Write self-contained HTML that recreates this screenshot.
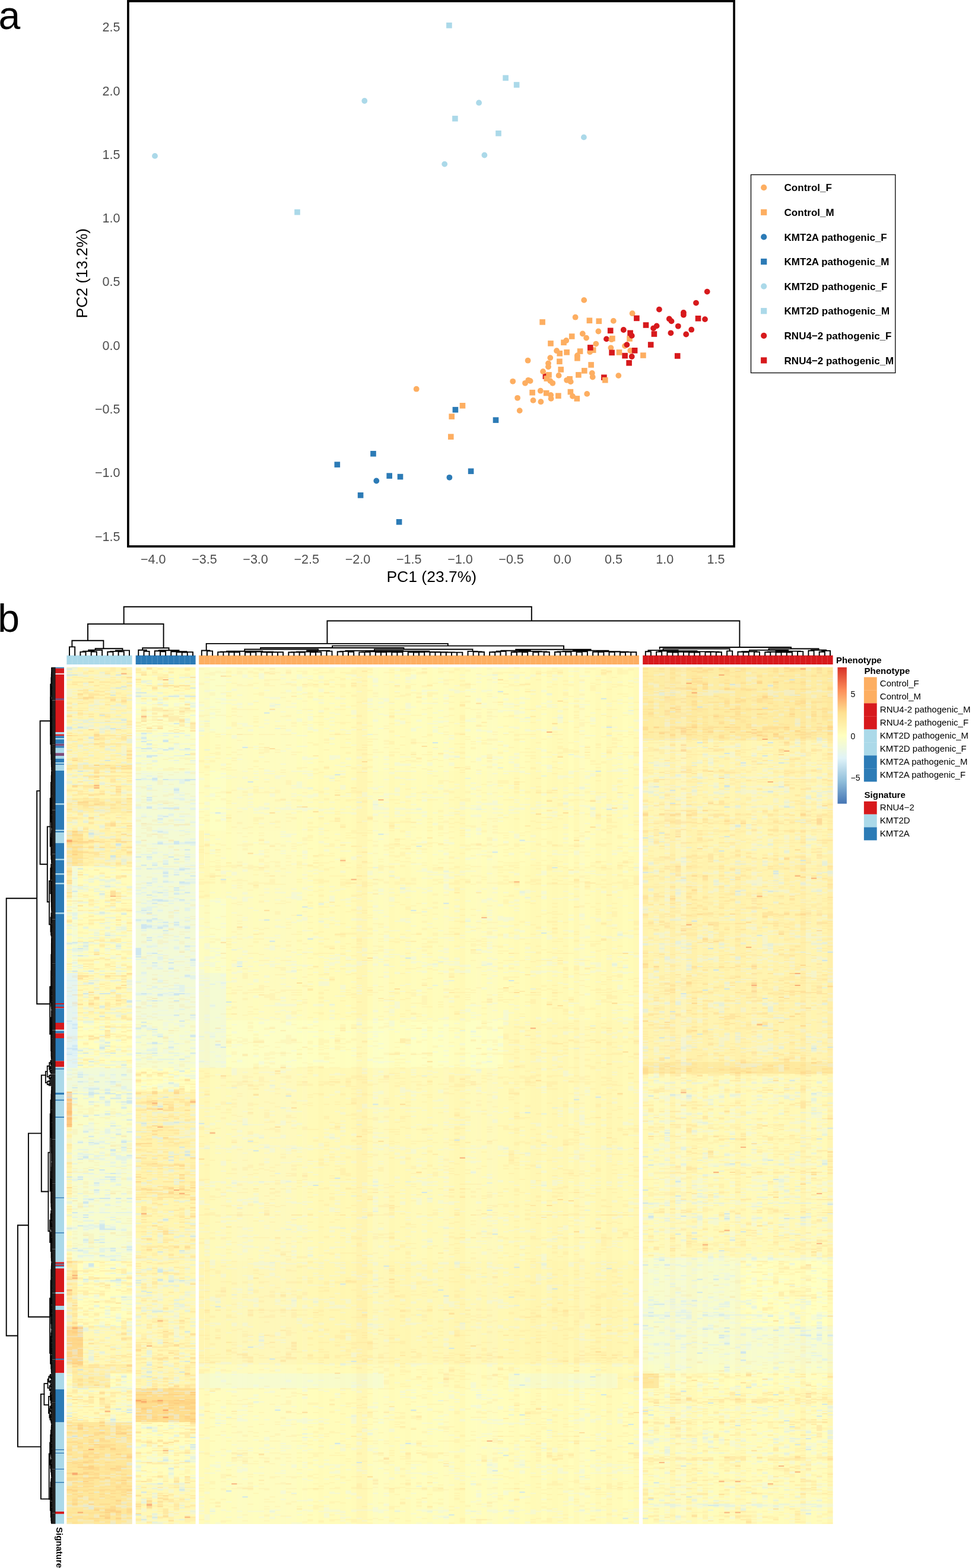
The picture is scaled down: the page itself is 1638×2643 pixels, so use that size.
<!DOCTYPE html>
<html><head><meta charset="utf-8"><title>Figure</title><style>
*{margin:0;padding:0}
html,body{width:1638px;height:2643px;overflow:hidden;background:#fff}
svg{display:block;font-family:"Liberation Sans",Arial,Helvetica,sans-serif}
.tk{font-size:21.5px;fill:#4d4d4d}
.ax{font-size:26.5px;fill:#000}
.lg{font-size:17px;font-weight:bold;fill:#000}
.pl{font-size:66px;fill:#000}
.lb{font-size:15px;font-weight:bold;fill:#000}
.ll{font-size:15px;fill:#000}
.cl{font-size:14px;fill:#000}
</style></head><body>
<svg width="1638" height="2643" viewBox="0 0 1638 2643">
<rect width="1638" height="2643" fill="#fff"/>
<circle cx="261.0" cy="262.9" r="4.9" fill="#ABD9E9"/>
<circle cx="614.3" cy="170.0" r="4.9" fill="#ABD9E9"/>
<circle cx="807.1" cy="173.2" r="4.9" fill="#ABD9E9"/>
<circle cx="983.9" cy="231.4" r="4.9" fill="#ABD9E9"/>
<circle cx="816.4" cy="261.5" r="4.9" fill="#ABD9E9"/>
<circle cx="749.2" cy="276.6" r="4.9" fill="#ABD9E9"/>
<rect x="752.1" y="38.0" width="9.6" height="9.6" fill="#ABD9E9"/>
<rect x="847.3" y="126.6" width="9.6" height="9.6" fill="#ABD9E9"/>
<rect x="865.8" y="138.2" width="9.6" height="9.6" fill="#ABD9E9"/>
<rect x="762.1" y="195.1" width="9.6" height="9.6" fill="#ABD9E9"/>
<rect x="835.2" y="220.0" width="9.6" height="9.6" fill="#ABD9E9"/>
<rect x="496.2" y="352.8" width="9.6" height="9.6" fill="#ABD9E9"/>
<rect x="762.6" y="685.9" width="9.6" height="9.6" fill="#2C7BB6"/>
<rect x="830.7" y="703.3" width="9.6" height="9.6" fill="#2C7BB6"/>
<rect x="624.2" y="760.0" width="9.6" height="9.6" fill="#2C7BB6"/>
<rect x="563.5" y="778.3" width="9.6" height="9.6" fill="#2C7BB6"/>
<rect x="651.4" y="797.3" width="9.6" height="9.6" fill="#2C7BB6"/>
<rect x="669.7" y="798.8" width="9.6" height="9.6" fill="#2C7BB6"/>
<rect x="788.8" y="789.5" width="9.6" height="9.6" fill="#2C7BB6"/>
<rect x="602.8" y="830.0" width="9.6" height="9.6" fill="#2C7BB6"/>
<rect x="667.8" y="875.0" width="9.6" height="9.6" fill="#2C7BB6"/>
<circle cx="634.3" cy="810.5" r="4.9" fill="#2C7BB6"/>
<circle cx="757.4" cy="804.8" r="4.9" fill="#2C7BB6"/>
<rect x="914.6" y="629.4" width="9.6" height="9.6" fill="#D7191C"/>
<rect x="1013.1" y="631.4" width="9.6" height="9.6" fill="#D7191C"/>
<circle cx="1022.0" cy="571.4" r="4.9" fill="#D7191C"/>
<circle cx="701.7" cy="655.7" r="4.9" fill="#FDAE61"/>
<circle cx="984.2" cy="505.9" r="4.9" fill="#FDAE61"/>
<circle cx="969.6" cy="534.7" r="4.9" fill="#FDAE61"/>
<circle cx="1033.8" cy="540.9" r="4.9" fill="#FDAE61"/>
<circle cx="1008.4" cy="558.5" r="4.9" fill="#FDAE61"/>
<circle cx="981.8" cy="562.5" r="4.9" fill="#FDAE61"/>
<circle cx="988.1" cy="569.6" r="4.9" fill="#FDAE61"/>
<circle cx="1030.5" cy="572.2" r="4.9" fill="#FDAE61"/>
<circle cx="954.2" cy="574.0" r="4.9" fill="#FDAE61"/>
<circle cx="1004.3" cy="579.6" r="4.9" fill="#FDAE61"/>
<circle cx="994.1" cy="593.2" r="4.9" fill="#FDAE61"/>
<circle cx="1029.4" cy="586.3" r="4.9" fill="#FDAE61"/>
<circle cx="938.1" cy="591.2" r="4.9" fill="#FDAE61"/>
<circle cx="972.9" cy="599.1" r="4.9" fill="#FDAE61"/>
<circle cx="927.3" cy="603.1" r="4.9" fill="#FDAE61"/>
<circle cx="889.6" cy="607.7" r="4.9" fill="#FDAE61"/>
<circle cx="924.0" cy="612.4" r="4.9" fill="#FDAE61"/>
<circle cx="924.0" cy="618.3" r="4.9" fill="#FDAE61"/>
<circle cx="915.1" cy="626.2" r="4.9" fill="#FDAE61"/>
<circle cx="997.8" cy="628.9" r="4.9" fill="#FDAE61"/>
<circle cx="998.7" cy="635.5" r="4.9" fill="#FDAE61"/>
<circle cx="941.6" cy="632.9" r="4.9" fill="#FDAE61"/>
<circle cx="864.2" cy="642.8" r="4.9" fill="#FDAE61"/>
<circle cx="890.3" cy="640.8" r="4.9" fill="#FDAE61"/>
<circle cx="885.0" cy="645.8" r="4.9" fill="#FDAE61"/>
<circle cx="893.6" cy="642.1" r="4.9" fill="#FDAE61"/>
<circle cx="927.3" cy="642.1" r="4.9" fill="#FDAE61"/>
<circle cx="931.3" cy="645.8" r="4.9" fill="#FDAE61"/>
<circle cx="955.1" cy="640.8" r="4.9" fill="#FDAE61"/>
<circle cx="961.7" cy="643.4" r="4.9" fill="#FDAE61"/>
<circle cx="910.8" cy="658.7" r="4.9" fill="#FDAE61"/>
<circle cx="928.2" cy="665.9" r="4.9" fill="#FDAE61"/>
<circle cx="928.6" cy="671.9" r="4.9" fill="#FDAE61"/>
<circle cx="965.0" cy="667.9" r="4.9" fill="#FDAE61"/>
<circle cx="989.2" cy="663.9" r="4.9" fill="#FDAE61"/>
<circle cx="872.1" cy="670.8" r="4.9" fill="#FDAE61"/>
<circle cx="898.5" cy="674.9" r="4.9" fill="#FDAE61"/>
<circle cx="911.4" cy="677.2" r="4.9" fill="#FDAE61"/>
<circle cx="875.7" cy="692.1" r="4.9" fill="#FDAE61"/>
<circle cx="1065.6" cy="528.2" r="4.9" fill="#FDAE61"/>
<circle cx="1053.0" cy="583.1" r="4.9" fill="#FDAE61"/>
<circle cx="1062.3" cy="591.0" r="4.9" fill="#FDAE61"/>
<circle cx="1042.3" cy="633.1" r="4.9" fill="#FDAE61"/>
<rect x="774.7" y="679.0" width="9.6" height="9.6" fill="#FDAE61"/>
<rect x="756.4" y="697.3" width="9.6" height="9.6" fill="#FDAE61"/>
<rect x="755.0" y="731.4" width="9.6" height="9.6" fill="#FDAE61"/>
<rect x="909.3" y="538.1" width="9.6" height="9.6" fill="#FDAE61"/>
<rect x="988.6" y="535.5" width="9.6" height="9.6" fill="#FDAE61"/>
<rect x="1004.5" y="536.5" width="9.6" height="9.6" fill="#FDAE61"/>
<rect x="958.9" y="562.2" width="9.6" height="9.6" fill="#FDAE61"/>
<rect x="1027.1" y="565.8" width="9.6" height="9.6" fill="#FDAE61"/>
<rect x="923.2" y="574.1" width="9.6" height="9.6" fill="#FDAE61"/>
<rect x="945.2" y="572.5" width="9.6" height="9.6" fill="#FDAE61"/>
<rect x="994.9" y="585.3" width="9.6" height="9.6" fill="#FDAE61"/>
<rect x="938.4" y="591.0" width="9.6" height="9.6" fill="#FDAE61"/>
<rect x="950.3" y="589.0" width="9.6" height="9.6" fill="#FDAE61"/>
<rect x="972.8" y="587.3" width="9.6" height="9.6" fill="#FDAE61"/>
<rect x="968.1" y="599.0" width="9.6" height="9.6" fill="#FDAE61"/>
<rect x="938.1" y="604.5" width="9.6" height="9.6" fill="#FDAE61"/>
<rect x="991.3" y="610.2" width="9.6" height="9.6" fill="#FDAE61"/>
<rect x="940.4" y="618.1" width="9.6" height="9.6" fill="#FDAE61"/>
<rect x="920.2" y="627.1" width="9.6" height="9.6" fill="#FDAE61"/>
<rect x="980.0" y="620.1" width="9.6" height="9.6" fill="#FDAE61"/>
<rect x="970.1" y="627.1" width="9.6" height="9.6" fill="#FDAE61"/>
<rect x="916.5" y="633.3" width="9.6" height="9.6" fill="#FDAE61"/>
<rect x="955.3" y="634.0" width="9.6" height="9.6" fill="#FDAE61"/>
<rect x="892.3" y="656.9" width="9.6" height="9.6" fill="#FDAE61"/>
<rect x="915.9" y="657.8" width="9.6" height="9.6" fill="#FDAE61"/>
<rect x="936.1" y="662.4" width="9.6" height="9.6" fill="#FDAE61"/>
<rect x="956.6" y="655.8" width="9.6" height="9.6" fill="#FDAE61"/>
<rect x="967.5" y="667.1" width="9.6" height="9.6" fill="#FDAE61"/>
<rect x="1056.2" y="566.1" width="9.6" height="9.6" fill="#FDAE61"/>
<rect x="1038.7" y="589.1" width="9.6" height="9.6" fill="#FDAE61"/>
<rect x="1079.1" y="594.2" width="9.6" height="9.6" fill="#FDAE61"/>
<rect x="1015.0" y="635.9" width="9.6" height="9.6" fill="#FDAE61"/>
<circle cx="1191.7" cy="491.6" r="4.9" fill="#D7191C"/>
<circle cx="1173.0" cy="510.6" r="4.9" fill="#D7191C"/>
<circle cx="1110.9" cy="521.6" r="4.9" fill="#D7191C"/>
<circle cx="1151.9" cy="526.9" r="4.9" fill="#D7191C"/>
<circle cx="1151.9" cy="530.8" r="4.9" fill="#D7191C"/>
<circle cx="1188.0" cy="538.1" r="4.9" fill="#D7191C"/>
<circle cx="1127.8" cy="537.5" r="4.9" fill="#D7191C"/>
<circle cx="1131.5" cy="541.4" r="4.9" fill="#D7191C"/>
<circle cx="1106.6" cy="549.4" r="4.9" fill="#D7191C"/>
<circle cx="1101.1" cy="553.3" r="4.9" fill="#D7191C"/>
<circle cx="1142.8" cy="549.8" r="4.9" fill="#D7191C"/>
<circle cx="1165.2" cy="555.7" r="4.9" fill="#D7191C"/>
<circle cx="1130.4" cy="561.3" r="4.9" fill="#D7191C"/>
<circle cx="1156.2" cy="563.5" r="4.9" fill="#D7191C"/>
<circle cx="1050.8" cy="556.0" r="4.9" fill="#D7191C"/>
<circle cx="1064.7" cy="565.9" r="4.9" fill="#D7191C"/>
<circle cx="1056.4" cy="581.1" r="4.9" fill="#D7191C"/>
<circle cx="1064.7" cy="601.0" r="4.9" fill="#D7191C"/>
<rect x="1068.1" y="531.6" width="9.6" height="9.6" fill="#D7191C"/>
<rect x="1171.7" y="532.0" width="9.6" height="9.6" fill="#D7191C"/>
<rect x="1083.7" y="543.2" width="9.6" height="9.6" fill="#D7191C"/>
<rect x="1097.6" y="558.2" width="9.6" height="9.6" fill="#D7191C"/>
<rect x="1023.9" y="552.5" width="9.6" height="9.6" fill="#D7191C"/>
<rect x="1057.3" y="556.5" width="9.6" height="9.6" fill="#D7191C"/>
<rect x="1091.9" y="576.3" width="9.6" height="9.6" fill="#D7191C"/>
<rect x="1026.3" y="589.6" width="9.6" height="9.6" fill="#D7191C"/>
<rect x="1064.8" y="586.0" width="9.6" height="9.6" fill="#D7191C"/>
<rect x="1048.3" y="594.8" width="9.6" height="9.6" fill="#D7191C"/>
<rect x="1055.3" y="607.0" width="9.6" height="9.6" fill="#D7191C"/>
<rect x="1136.9" y="595.2" width="9.6" height="9.6" fill="#D7191C"/>
<rect x="990.0" y="581.1" width="9.6" height="9.6" fill="#D7191C"/>
<rect x="215.9" y="1.9" width="1021.2" height="919.1" fill="none" stroke="#000" stroke-width="3.7"/>
<text x="202.5" y="53.2" text-anchor="end" class="tk">2.5</text>
<text x="202.5" y="160.5" text-anchor="end" class="tk">2.0</text>
<text x="202.5" y="267.8" text-anchor="end" class="tk">1.5</text>
<text x="202.5" y="375.1" text-anchor="end" class="tk">1.0</text>
<text x="202.5" y="482.4" text-anchor="end" class="tk">0.5</text>
<text x="202.5" y="589.7" text-anchor="end" class="tk">0.0</text>
<text x="202.5" y="697.0" text-anchor="end" class="tk">−0.5</text>
<text x="202.5" y="804.3" text-anchor="end" class="tk">−1.0</text>
<text x="202.5" y="911.6" text-anchor="end" class="tk">−1.5</text>
<text x="258.2" y="950.2" text-anchor="middle" class="tk">−4.0</text>
<text x="344.4" y="950.2" text-anchor="middle" class="tk">−3.5</text>
<text x="430.6" y="950.2" text-anchor="middle" class="tk">−3.0</text>
<text x="516.8" y="950.2" text-anchor="middle" class="tk">−2.5</text>
<text x="603.0" y="950.2" text-anchor="middle" class="tk">−2.0</text>
<text x="689.2" y="950.2" text-anchor="middle" class="tk">−1.5</text>
<text x="775.4" y="950.2" text-anchor="middle" class="tk">−1.0</text>
<text x="861.6" y="950.2" text-anchor="middle" class="tk">−0.5</text>
<text x="947.8" y="950.2" text-anchor="middle" class="tk">0.0</text>
<text x="1034.0" y="950.2" text-anchor="middle" class="tk">0.5</text>
<text x="1120.2" y="950.2" text-anchor="middle" class="tk">1.0</text>
<text x="1206.4" y="950.2" text-anchor="middle" class="tk">1.5</text>
<text x="727.3" y="980.5" text-anchor="middle" class="ax">PC1 (23.7%)</text>
<text transform="translate(147.2,460.7) rotate(-90)" x="0" y="0" text-anchor="middle" class="ax">PC2 (13.2%)</text>
<rect x="1265.5" y="294.5" width="243.3" height="334" fill="#fff" stroke="#000" stroke-width="1.3"/>
<circle cx="1287.2" cy="316.2" r="5.1" fill="#FDAE61"/>
<text x="1321.6" y="322.3" class="lg">Control_F</text>
<rect x="1282.1" y="352.7" width="10.2" height="10.2" fill="#FDAE61"/>
<text x="1321.6" y="363.9" class="lg">Control_M</text>
<circle cx="1287.2" cy="399.4" r="5.1" fill="#2C7BB6"/>
<text x="1321.6" y="405.5" class="lg">KMT2A pathogenic_F</text>
<rect x="1282.1" y="435.9" width="10.2" height="10.2" fill="#2C7BB6"/>
<text x="1321.6" y="447.1" class="lg">KMT2A pathogenic_M</text>
<circle cx="1287.2" cy="482.6" r="5.1" fill="#ABD9E9"/>
<text x="1321.6" y="488.7" class="lg">KMT2D pathogenic_F</text>
<rect x="1282.1" y="519.1" width="10.2" height="10.2" fill="#ABD9E9"/>
<text x="1321.6" y="530.3" class="lg">KMT2D pathogenic_M</text>
<circle cx="1287.2" cy="565.8" r="5.1" fill="#D7191C"/>
<text x="1321.6" y="571.9" class="lg">RNU4−2 pathogenic_F</text>
<rect x="1282.1" y="602.3" width="10.2" height="10.2" fill="#D7191C"/>
<text x="1321.6" y="613.5" class="lg">RNU4−2 pathogenic_M</text>
<text x="-2.4" y="48.6" class="pl">a</text>
<filter id="bl" x="0" y="0" width="1" height="1"><feGaussianBlur stdDeviation="0.45"/></filter><g filter="url(#bl)"><rect x="112.4" y="1124.6" width="110.2" height="55.8" fill="#fff5b0"/>
<rect x="228.7" y="1124.6" width="100.9" height="55.8" fill="#fffcba"/>
<rect x="335.2" y="1124.6" width="45.8" height="55.8" fill="#fcfec5"/>
<rect x="381.0" y="1124.6" width="695.9" height="55.8" fill="#fffdbc"/>
<rect x="1083.2" y="1124.6" width="320.4" height="55.8" fill="#feeda3"/>
<rect x="112.4" y="1180.0" width="110.2" height="55.4" fill="#fff5b0"/>
<rect x="228.7" y="1180.0" width="100.9" height="55.4" fill="#fdfec3"/>
<rect x="335.2" y="1180.0" width="45.8" height="55.4" fill="#fcfec5"/>
<rect x="381.0" y="1180.0" width="695.9" height="55.4" fill="#fffdbc"/>
<rect x="1083.2" y="1180.0" width="320.4" height="55.4" fill="#feeda3"/>
<rect x="112.4" y="1235.0" width="110.2" height="13.4" fill="#fff4ae"/>
<rect x="228.7" y="1235.0" width="100.9" height="13.4" fill="#fafdc7"/>
<rect x="335.2" y="1235.0" width="741.7" height="13.4" fill="#fffdbc"/>
<rect x="1083.2" y="1235.0" width="320.4" height="13.4" fill="#feeda3"/>
<rect x="112.4" y="1248.0" width="110.2" height="41.4" fill="#fff4ae"/>
<rect x="228.7" y="1248.0" width="100.9" height="41.4" fill="#fafdc7"/>
<rect x="335.2" y="1248.0" width="741.7" height="41.4" fill="#fffdbc"/>
<rect x="1083.2" y="1248.0" width="320.4" height="41.4" fill="#fff6b2"/>
<rect x="112.4" y="1289.0" width="110.2" height="8.4" fill="#feeba0"/>
<rect x="228.7" y="1289.0" width="100.9" height="8.4" fill="#fafdc7"/>
<rect x="335.2" y="1289.0" width="741.7" height="8.4" fill="#fffdbc"/>
<rect x="1083.2" y="1289.0" width="320.4" height="8.4" fill="#fff6b2"/>
<rect x="112.4" y="1297.0" width="110.2" height="3.4" fill="#fff4ae"/>
<rect x="228.7" y="1297.0" width="100.9" height="3.4" fill="#fafdc7"/>
<rect x="335.2" y="1297.0" width="741.7" height="3.4" fill="#fffdbc"/>
<rect x="1083.2" y="1297.0" width="320.4" height="3.4" fill="#fff6b2"/>
<rect x="112.4" y="1300.0" width="110.2" height="46.4" fill="#fff6b1"/>
<rect x="228.7" y="1300.0" width="100.9" height="46.4" fill="#f4fbd4"/>
<rect x="335.2" y="1300.0" width="45.8" height="46.4" fill="#feffc1"/>
<rect x="381.0" y="1300.0" width="695.9" height="46.4" fill="#fffcba"/>
<rect x="1083.2" y="1300.0" width="320.4" height="46.4" fill="#fff6b2"/>
<rect x="112.4" y="1346.0" width="110.2" height="24.4" fill="#feefa7"/>
<rect x="228.7" y="1346.0" width="100.9" height="24.4" fill="#f4fbd4"/>
<rect x="335.2" y="1346.0" width="45.8" height="24.4" fill="#feffc1"/>
<rect x="381.0" y="1346.0" width="695.9" height="24.4" fill="#fffcba"/>
<rect x="1083.2" y="1346.0" width="320.4" height="24.4" fill="#fff6b2"/>
<rect x="112.4" y="1370.0" width="110.2" height="30.4" fill="#fff6b1"/>
<rect x="228.7" y="1370.0" width="100.9" height="30.4" fill="#f4fbd4"/>
<rect x="335.2" y="1370.0" width="45.8" height="30.4" fill="#feffc1"/>
<rect x="381.0" y="1370.0" width="695.9" height="30.4" fill="#fffcba"/>
<rect x="1083.2" y="1370.0" width="320.4" height="30.4" fill="#fff6b2"/>
<rect x="112.4" y="1400.0" width="27.6" height="50.4" fill="#fee597"/>
<rect x="139.9" y="1400.0" width="82.7" height="50.4" fill="#fff3ac"/>
<rect x="228.7" y="1400.0" width="100.9" height="50.4" fill="#f4fbd4"/>
<rect x="335.2" y="1400.0" width="9.2" height="50.4" fill="#fff9b6"/>
<rect x="344.4" y="1400.0" width="732.5" height="50.4" fill="#fffdbc"/>
<rect x="1083.2" y="1400.0" width="320.4" height="50.4" fill="#fff6b2"/>
<rect x="112.4" y="1450.0" width="27.6" height="10.4" fill="#fee597"/>
<rect x="139.9" y="1450.0" width="82.7" height="10.4" fill="#fff3ac"/>
<rect x="228.7" y="1450.0" width="100.9" height="10.4" fill="#f4fbd4"/>
<rect x="335.2" y="1450.0" width="9.2" height="10.4" fill="#fff9b6"/>
<rect x="344.4" y="1450.0" width="732.5" height="10.4" fill="#fffdbc"/>
<rect x="1083.2" y="1450.0" width="320.4" height="10.4" fill="#fff4af"/>
<rect x="112.4" y="1460.0" width="9.2" height="55.4" fill="#fff0a9"/>
<rect x="121.6" y="1460.0" width="9.2" height="55.4" fill="#f4fbd4"/>
<rect x="130.8" y="1460.0" width="91.8" height="55.4" fill="#fffcba"/>
<rect x="228.7" y="1460.0" width="100.9" height="55.4" fill="#f3fad6"/>
<rect x="335.2" y="1460.0" width="741.7" height="55.4" fill="#fffcba"/>
<rect x="1083.2" y="1460.0" width="320.4" height="55.4" fill="#fff4af"/>
<rect x="112.4" y="1515.0" width="9.2" height="125.4" fill="#fffcba"/>
<rect x="121.6" y="1515.0" width="9.2" height="125.4" fill="#f7fcce"/>
<rect x="130.8" y="1515.0" width="91.8" height="125.4" fill="#fffcba"/>
<rect x="228.7" y="1515.0" width="100.9" height="125.4" fill="#f3fad6"/>
<rect x="335.2" y="1515.0" width="45.8" height="125.4" fill="#fdfec3"/>
<rect x="381.0" y="1515.0" width="695.9" height="125.4" fill="#fffcba"/>
<rect x="1083.2" y="1515.0" width="320.4" height="125.4" fill="#fff4af"/>
<rect x="112.4" y="1640.0" width="18.4" height="80.4" fill="#e6f5ed"/>
<rect x="130.8" y="1640.0" width="91.8" height="80.4" fill="#fff9b6"/>
<rect x="228.7" y="1640.0" width="100.9" height="80.4" fill="#f3fad6"/>
<rect x="335.2" y="1640.0" width="45.8" height="80.4" fill="#f5fbd2"/>
<rect x="381.0" y="1640.0" width="695.9" height="80.4" fill="#fffcba"/>
<rect x="1083.2" y="1640.0" width="320.4" height="80.4" fill="#fff4af"/>
<rect x="112.4" y="1720.0" width="18.4" height="70.4" fill="#e3f4f3"/>
<rect x="130.8" y="1720.0" width="91.8" height="70.4" fill="#fffebd"/>
<rect x="228.7" y="1720.0" width="100.9" height="70.4" fill="#f7fcce"/>
<rect x="335.2" y="1720.0" width="45.8" height="70.4" fill="#f6fbd0"/>
<rect x="381.0" y="1720.0" width="467.0" height="70.4" fill="#feffc1"/>
<rect x="848.0" y="1720.0" width="228.9" height="70.4" fill="#fffab8"/>
<rect x="1083.2" y="1720.0" width="320.4" height="70.4" fill="#fff4af"/>
<rect x="112.4" y="1790.0" width="18.4" height="10.4" fill="#e3f4f3"/>
<rect x="130.8" y="1790.0" width="91.8" height="10.4" fill="#fffebd"/>
<rect x="228.7" y="1790.0" width="100.9" height="10.4" fill="#f7fcce"/>
<rect x="335.2" y="1790.0" width="45.8" height="10.4" fill="#f6fbd0"/>
<rect x="381.0" y="1790.0" width="467.0" height="10.4" fill="#feffc1"/>
<rect x="848.0" y="1790.0" width="228.9" height="10.4" fill="#fffab8"/>
<rect x="1083.2" y="1790.0" width="320.4" height="10.4" fill="#feeba0"/>
<rect x="112.4" y="1800.0" width="110.2" height="10.4" fill="#f1fad8"/>
<rect x="228.7" y="1800.0" width="100.9" height="10.4" fill="#ffffbf"/>
<rect x="335.2" y="1800.0" width="741.7" height="10.4" fill="#fffab8"/>
<rect x="1083.2" y="1800.0" width="320.4" height="10.4" fill="#feeba0"/>
<rect x="112.4" y="1810.0" width="110.2" height="30.4" fill="#f1fad8"/>
<rect x="228.7" y="1810.0" width="100.9" height="30.4" fill="#ffffbf"/>
<rect x="335.2" y="1810.0" width="741.7" height="30.4" fill="#fffab8"/>
<rect x="1083.2" y="1810.0" width="320.4" height="30.4" fill="#fffab8"/>
<rect x="112.4" y="1840.0" width="9.2" height="60.4" fill="#fdc981"/>
<rect x="121.6" y="1840.0" width="101.0" height="60.4" fill="#fafdc7"/>
<rect x="228.7" y="1840.0" width="100.9" height="60.4" fill="#fff3ad"/>
<rect x="335.2" y="1840.0" width="741.7" height="60.4" fill="#fffab8"/>
<rect x="1083.2" y="1840.0" width="320.4" height="60.4" fill="#fffab8"/>
<rect x="112.4" y="1900.0" width="9.2" height="120.4" fill="#fff6b1"/>
<rect x="121.6" y="1900.0" width="101.0" height="120.4" fill="#f8fccc"/>
<rect x="228.7" y="1900.0" width="100.9" height="120.4" fill="#fff3ad"/>
<rect x="335.2" y="1900.0" width="741.7" height="120.4" fill="#fffab8"/>
<rect x="1083.2" y="1900.0" width="320.4" height="120.4" fill="#fffab8"/>
<rect x="112.4" y="2020.0" width="9.2" height="100.4" fill="#fffcba"/>
<rect x="121.6" y="2020.0" width="101.0" height="100.4" fill="#f7fcce"/>
<rect x="228.7" y="2020.0" width="100.9" height="100.4" fill="#fff6b1"/>
<rect x="335.2" y="2020.0" width="741.7" height="100.4" fill="#fffab8"/>
<rect x="1083.2" y="2020.0" width="320.4" height="100.4" fill="#fffab8"/>
<rect x="112.4" y="2120.0" width="9.2" height="5.4" fill="#fffcba"/>
<rect x="121.6" y="2120.0" width="101.0" height="5.4" fill="#f7fcce"/>
<rect x="228.7" y="2120.0" width="100.9" height="5.4" fill="#fff6b1"/>
<rect x="335.2" y="2120.0" width="741.7" height="5.4" fill="#fffab8"/>
<rect x="1083.2" y="2120.0" width="320.4" height="5.4" fill="#f8fccc"/>
<rect x="112.4" y="2125.0" width="18.4" height="110.4" fill="#fff0a9"/>
<rect x="130.8" y="2125.0" width="91.8" height="110.4" fill="#fffebd"/>
<rect x="228.7" y="2125.0" width="100.9" height="110.4" fill="#fff8b5"/>
<rect x="335.2" y="2125.0" width="9.2" height="110.4" fill="#fff7b3"/>
<rect x="344.4" y="2125.0" width="732.5" height="110.4" fill="#fff8b4"/>
<rect x="1083.2" y="2125.0" width="164.8" height="110.4" fill="#f8fccc"/>
<rect x="1248.0" y="2125.0" width="155.6" height="110.4" fill="#ffffbf"/>
<rect x="112.4" y="2235.0" width="27.6" height="65.4" fill="#fed88b"/>
<rect x="139.9" y="2235.0" width="82.7" height="65.4" fill="#fff8b5"/>
<rect x="228.7" y="2235.0" width="100.9" height="65.4" fill="#fff8b5"/>
<rect x="335.2" y="2235.0" width="9.2" height="65.4" fill="#fff7b3"/>
<rect x="344.4" y="2235.0" width="732.5" height="65.4" fill="#fff8b4"/>
<rect x="1083.2" y="2235.0" width="320.4" height="65.4" fill="#f8fccc"/>
<rect x="112.4" y="2300.0" width="110.2" height="13.4" fill="#fff0a9"/>
<rect x="228.7" y="2300.0" width="100.9" height="13.4" fill="#fff6b1"/>
<rect x="335.2" y="2300.0" width="741.7" height="13.4" fill="#fffcba"/>
<rect x="1083.2" y="2300.0" width="320.4" height="13.4" fill="#fafdc7"/>
<rect x="112.4" y="2313.0" width="110.2" height="2.4" fill="#fff0a9"/>
<rect x="228.7" y="2313.0" width="100.9" height="2.4" fill="#fff6b1"/>
<rect x="335.2" y="2313.0" width="741.7" height="2.4" fill="#fffcba"/>
<rect x="1083.2" y="2313.0" width="320.4" height="2.4" fill="#fafdc7"/>
<rect x="112.4" y="2315.0" width="9.2" height="25.4" fill="#fffebd"/>
<rect x="121.6" y="2315.0" width="64.3" height="25.4" fill="#feeda3"/>
<rect x="185.9" y="2315.0" width="36.7" height="25.4" fill="#fffebd"/>
<rect x="228.7" y="2315.0" width="100.9" height="25.4" fill="#fff6b1"/>
<rect x="335.2" y="2315.0" width="311.3" height="25.4" fill="#f8fccc"/>
<rect x="646.5" y="2315.0" width="210.6" height="25.4" fill="#fffcba"/>
<rect x="857.1" y="2315.0" width="183.1" height="25.4" fill="#f8fccc"/>
<rect x="1040.3" y="2315.0" width="36.6" height="25.4" fill="#fff9b6"/>
<rect x="1083.2" y="2315.0" width="27.5" height="25.4" fill="#fee89d"/>
<rect x="1110.7" y="2315.0" width="292.9" height="25.4" fill="#fffebd"/>
<rect x="112.4" y="2340.0" width="110.2" height="57.4" fill="#fffab8"/>
<rect x="228.7" y="2340.0" width="100.9" height="57.4" fill="#fede8f"/>
<rect x="335.2" y="2340.0" width="741.7" height="57.4" fill="#fffdbc"/>
<rect x="1083.2" y="2340.0" width="320.4" height="57.4" fill="#fffcba"/>
<rect x="112.4" y="2397.0" width="110.2" height="103.4" fill="#fee79b"/>
<rect x="228.7" y="2397.0" width="100.9" height="103.4" fill="#fffdbc"/>
<rect x="335.2" y="2397.0" width="741.7" height="103.4" fill="#fffdbc"/>
<rect x="1083.2" y="2397.0" width="320.4" height="103.4" fill="#fffcba"/>
<rect x="112.4" y="2500.0" width="110.2" height="68.9" fill="#fee79b"/>
<rect x="228.7" y="2500.0" width="100.9" height="68.9" fill="#fff8b5"/>
<rect x="335.2" y="2500.0" width="741.7" height="68.9" fill="#fffdbc"/>
<rect x="1083.2" y="2500.0" width="320.4" height="68.9" fill="#fffcba"/>
<rect x="335.2" y="1124.6" width="9.16" height="1443.9" fill="#FDAE61" fill-opacity="0.019"/>
<rect x="344.4" y="1124.6" width="9.16" height="1443.9" fill="#FDAE61" fill-opacity="0.033"/>
<rect x="353.5" y="1124.6" width="9.16" height="1443.9" fill="#F2F8F0" fill-opacity="0.055"/>
<rect x="362.7" y="1124.6" width="9.16" height="1443.9" fill="#F2F8F0" fill-opacity="0.062"/>
<rect x="371.8" y="1124.6" width="9.16" height="1443.9" fill="#F2F8F0" fill-opacity="0.087"/>
<rect x="381.0" y="1124.6" width="9.16" height="1443.9" fill="#F2F8F0" fill-opacity="0.038"/>
<rect x="390.1" y="1124.6" width="9.16" height="1443.9" fill="#F2F8F0" fill-opacity="0.085"/>
<rect x="399.3" y="1124.6" width="9.16" height="1443.9" fill="#F2F8F0" fill-opacity="0.141"/>
<rect x="408.5" y="1124.6" width="9.16" height="1443.9" fill="#F2F8F0" fill-opacity="0.127"/>
<rect x="417.6" y="1124.6" width="9.16" height="1443.9" fill="#F2F8F0" fill-opacity="0.101"/>
<rect x="426.8" y="1124.6" width="9.16" height="1443.9" fill="#F2F8F0" fill-opacity="0.066"/>
<rect x="435.9" y="1124.6" width="9.16" height="1443.9" fill="#F2F8F0" fill-opacity="0.100"/>
<rect x="445.1" y="1124.6" width="9.16" height="1443.9" fill="#F2F8F0" fill-opacity="0.112"/>
<rect x="454.2" y="1124.6" width="9.16" height="1443.9" fill="#F2F8F0" fill-opacity="0.108"/>
<rect x="463.4" y="1124.6" width="9.16" height="1443.9" fill="#F2F8F0" fill-opacity="0.093"/>
<rect x="472.6" y="1124.6" width="9.16" height="1443.9" fill="#F2F8F0" fill-opacity="0.126"/>
<rect x="481.7" y="1124.6" width="9.16" height="1443.9" fill="#F2F8F0" fill-opacity="0.099"/>
<rect x="490.9" y="1124.6" width="9.16" height="1443.9" fill="#F2F8F0" fill-opacity="0.090"/>
<rect x="500.0" y="1124.6" width="9.16" height="1443.9" fill="#F2F8F0" fill-opacity="0.041"/>
<rect x="509.2" y="1124.6" width="9.16" height="1443.9" fill="#F2F8F0" fill-opacity="0.102"/>
<rect x="536.6" y="1124.6" width="9.16" height="1443.9" fill="#FDAE61" fill-opacity="0.025"/>
<rect x="545.8" y="1124.6" width="9.16" height="1443.9" fill="#FDAE61" fill-opacity="0.016"/>
<rect x="555.0" y="1124.6" width="9.16" height="1443.9" fill="#FDAE61" fill-opacity="0.008"/>
<rect x="564.1" y="1124.6" width="9.16" height="1443.9" fill="#FDAE61" fill-opacity="0.014"/>
<rect x="573.3" y="1124.6" width="9.16" height="1443.9" fill="#FDAE61" fill-opacity="0.025"/>
<rect x="582.4" y="1124.6" width="9.16" height="1443.9" fill="#FDAE61" fill-opacity="0.010"/>
<rect x="591.6" y="1124.6" width="9.16" height="1443.9" fill="#FDAE61" fill-opacity="0.027"/>
<rect x="600.7" y="1124.6" width="9.16" height="1443.9" fill="#FDAE61" fill-opacity="0.074"/>
<rect x="609.9" y="1124.6" width="9.16" height="1443.9" fill="#FDAE61" fill-opacity="0.075"/>
<rect x="619.1" y="1124.6" width="9.16" height="1443.9" fill="#FDAE61" fill-opacity="0.010"/>
<rect x="628.2" y="1124.6" width="9.16" height="1443.9" fill="#F2F8F0" fill-opacity="0.124"/>
<rect x="637.4" y="1124.6" width="9.16" height="1443.9" fill="#F2F8F0" fill-opacity="0.067"/>
<rect x="646.5" y="1124.6" width="9.16" height="1443.9" fill="#F2F8F0" fill-opacity="0.103"/>
<rect x="655.7" y="1124.6" width="9.16" height="1443.9" fill="#FDAE61" fill-opacity="0.026"/>
<rect x="664.8" y="1124.6" width="9.16" height="1443.9" fill="#FDAE61" fill-opacity="0.015"/>
<rect x="674.0" y="1124.6" width="9.16" height="1443.9" fill="#FDAE61" fill-opacity="0.017"/>
<rect x="683.2" y="1124.6" width="9.16" height="1443.9" fill="#FDAE61" fill-opacity="0.020"/>
<rect x="692.3" y="1124.6" width="9.16" height="1443.9" fill="#F2F8F0" fill-opacity="0.060"/>
<rect x="701.5" y="1124.6" width="9.16" height="1443.9" fill="#F2F8F0" fill-opacity="0.036"/>
<rect x="710.6" y="1124.6" width="9.16" height="1443.9" fill="#F2F8F0" fill-opacity="0.065"/>
<rect x="719.8" y="1124.6" width="9.16" height="1443.9" fill="#FDAE61" fill-opacity="0.012"/>
<rect x="728.9" y="1124.6" width="9.16" height="1443.9" fill="#F2F8F0" fill-opacity="0.055"/>
<rect x="738.1" y="1124.6" width="9.16" height="1443.9" fill="#F2F8F0" fill-opacity="0.038"/>
<rect x="747.3" y="1124.6" width="9.16" height="1443.9" fill="#F2F8F0" fill-opacity="0.102"/>
<rect x="756.4" y="1124.6" width="9.16" height="1443.9" fill="#FDAE61" fill-opacity="0.017"/>
<rect x="765.6" y="1124.6" width="9.16" height="1443.9" fill="#FDAE61" fill-opacity="0.025"/>
<rect x="774.7" y="1124.6" width="9.16" height="1443.9" fill="#FDAE61" fill-opacity="0.045"/>
<rect x="783.9" y="1124.6" width="9.16" height="1443.9" fill="#F2F8F0" fill-opacity="0.052"/>
<rect x="793.0" y="1124.6" width="9.16" height="1443.9" fill="#F2F8F0" fill-opacity="0.069"/>
<rect x="802.2" y="1124.6" width="9.16" height="1443.9" fill="#F2F8F0" fill-opacity="0.102"/>
<rect x="820.5" y="1124.6" width="9.16" height="1443.9" fill="#F2F8F0" fill-opacity="0.116"/>
<rect x="829.7" y="1124.6" width="9.16" height="1443.9" fill="#F2F8F0" fill-opacity="0.110"/>
<rect x="857.1" y="1124.6" width="9.16" height="1443.9" fill="#FDAE61" fill-opacity="0.017"/>
<rect x="866.3" y="1124.6" width="9.16" height="1443.9" fill="#FDAE61" fill-opacity="0.026"/>
<rect x="884.6" y="1124.6" width="9.16" height="1443.9" fill="#FDAE61" fill-opacity="0.011"/>
<rect x="893.8" y="1124.6" width="9.16" height="1443.9" fill="#FDAE61" fill-opacity="0.042"/>
<rect x="902.9" y="1124.6" width="9.16" height="1443.9" fill="#FDAE61" fill-opacity="0.034"/>
<rect x="921.2" y="1124.6" width="9.16" height="1443.9" fill="#FDAE61" fill-opacity="0.027"/>
<rect x="930.4" y="1124.6" width="9.16" height="1443.9" fill="#FDAE61" fill-opacity="0.042"/>
<rect x="939.5" y="1124.6" width="9.16" height="1443.9" fill="#FDAE61" fill-opacity="0.022"/>
<rect x="948.7" y="1124.6" width="9.16" height="1443.9" fill="#FDAE61" fill-opacity="0.035"/>
<rect x="967.0" y="1124.6" width="9.16" height="1443.9" fill="#FDAE61" fill-opacity="0.034"/>
<rect x="976.2" y="1124.6" width="9.16" height="1443.9" fill="#F2F8F0" fill-opacity="0.095"/>
<rect x="985.3" y="1124.6" width="9.16" height="1443.9" fill="#F2F8F0" fill-opacity="0.035"/>
<rect x="994.5" y="1124.6" width="9.16" height="1443.9" fill="#FDAE61" fill-opacity="0.006"/>
<rect x="1003.6" y="1124.6" width="9.16" height="1443.9" fill="#FDAE61" fill-opacity="0.034"/>
<rect x="1012.8" y="1124.6" width="9.16" height="1443.9" fill="#FDAE61" fill-opacity="0.011"/>
<rect x="1022.0" y="1124.6" width="9.16" height="1443.9" fill="#FDAE61" fill-opacity="0.051"/>
<rect x="1031.1" y="1124.6" width="9.16" height="1443.9" fill="#FDAE61" fill-opacity="0.018"/>
<rect x="1040.3" y="1124.6" width="9.16" height="1443.9" fill="#FDAE61" fill-opacity="0.028"/>
<rect x="1058.6" y="1124.6" width="9.16" height="1443.9" fill="#FDAE61" fill-opacity="0.011"/>
<rect x="1067.7" y="1124.6" width="9.16" height="1443.9" fill="#FDAE61" fill-opacity="0.042"/>
<rect x="1083.2" y="1124.6" width="9.15" height="1443.9" fill="#FDAE61" fill-opacity="0.018"/>
<rect x="1101.5" y="1124.6" width="9.15" height="1443.9" fill="#F2F8F0" fill-opacity="0.069"/>
<rect x="1110.7" y="1124.6" width="9.15" height="1443.9" fill="#F2F8F0" fill-opacity="0.044"/>
<rect x="1119.8" y="1124.6" width="9.15" height="1443.9" fill="#F2F8F0" fill-opacity="0.099"/>
<rect x="1129.0" y="1124.6" width="9.15" height="1443.9" fill="#FDAE61" fill-opacity="0.050"/>
<rect x="1138.1" y="1124.6" width="9.15" height="1443.9" fill="#F2F8F0" fill-opacity="0.109"/>
<rect x="1147.3" y="1124.6" width="9.15" height="1443.9" fill="#F2F8F0" fill-opacity="0.182"/>
<rect x="1156.4" y="1124.6" width="9.15" height="1443.9" fill="#FDAE61" fill-opacity="0.041"/>
<rect x="1165.6" y="1124.6" width="9.15" height="1443.9" fill="#FDAE61" fill-opacity="0.032"/>
<rect x="1174.7" y="1124.6" width="9.15" height="1443.9" fill="#F2F8F0" fill-opacity="0.023"/>
<rect x="1183.9" y="1124.6" width="9.15" height="1443.9" fill="#FDAE61" fill-opacity="0.021"/>
<rect x="1193.1" y="1124.6" width="9.15" height="1443.9" fill="#F2F8F0" fill-opacity="0.056"/>
<rect x="1202.2" y="1124.6" width="9.15" height="1443.9" fill="#F2F8F0" fill-opacity="0.039"/>
<rect x="1211.4" y="1124.6" width="9.15" height="1443.9" fill="#FDAE61" fill-opacity="0.013"/>
<rect x="1220.5" y="1124.6" width="9.15" height="1443.9" fill="#FDAE61" fill-opacity="0.011"/>
<rect x="1229.7" y="1124.6" width="9.15" height="1443.9" fill="#F2F8F0" fill-opacity="0.030"/>
<rect x="1238.8" y="1124.6" width="9.15" height="1443.9" fill="#FDAE61" fill-opacity="0.041"/>
<rect x="1248.0" y="1124.6" width="9.15" height="1443.9" fill="#FDAE61" fill-opacity="0.019"/>
<rect x="1266.3" y="1124.6" width="9.15" height="1443.9" fill="#F2F8F0" fill-opacity="0.082"/>
<rect x="1284.6" y="1124.6" width="9.15" height="1443.9" fill="#F2F8F0" fill-opacity="0.020"/>
<rect x="1302.9" y="1124.6" width="9.15" height="1443.9" fill="#FDAE61" fill-opacity="0.021"/>
<rect x="1312.1" y="1124.6" width="9.15" height="1443.9" fill="#F2F8F0" fill-opacity="0.039"/>
<rect x="1321.2" y="1124.6" width="9.15" height="1443.9" fill="#FDAE61" fill-opacity="0.007"/>
<rect x="1330.4" y="1124.6" width="9.15" height="1443.9" fill="#FDAE61" fill-opacity="0.020"/>
<rect x="1339.5" y="1124.6" width="9.15" height="1443.9" fill="#FDAE61" fill-opacity="0.010"/>
<rect x="1348.7" y="1124.6" width="9.15" height="1443.9" fill="#FDAE61" fill-opacity="0.057"/>
<rect x="1357.8" y="1124.6" width="9.15" height="1443.9" fill="#F2F8F0" fill-opacity="0.123"/>
<rect x="1376.1" y="1124.6" width="9.15" height="1443.9" fill="#F2F8F0" fill-opacity="0.083"/>
<rect x="1394.4" y="1124.6" width="9.15" height="1443.9" fill="#FDAE61" fill-opacity="0.063"/>
<g transform="translate(112.40 1124.60) scale(9.1833 2.0054)" fill="none" stroke-width="1"><path stroke="#F46D43" stroke-opacity="0.5" d="M10 5.5h1m-6 94h1m-1 2h1m-6 44h1m-1 1h1m7 46h1m-8 319h1m-1 2h1m-2 10h1m0 32h1m5 70h1m-4 32h1m-4 20h1m-1 1h1m0 32h1"/><path stroke="#FDAE61" stroke-opacity="0.36" d="M10 1.5h1m0 7h1m-8 4h1m-3 10h1m0 3h2m-2 1h1m4 1h1m1 1h1m-11 13h1m3 11h1m0 4h1m-6 1h1m4 0h1m-1 3h1m-1 4h1m5 6h1m-1 3h1m-1 3h1m-11 2h1m3 4h1m-1 6h1m-1 3h1m-1 1h1m-5 7h1m-1 1h1m3 0h1m3 0h1m-1 2h1m-1 2h1m-4 2h1m-3 1h1m6 3h1m-10 3h2m1 2h1m-2 11h1m3 5h1m-1 1h1m-1 1h1m2 0h1m-11 5h1m8 2h1m-7 5h1m-4 1h1m1 0h3m3 0h2m-8 1h1m0 4h1m1 0h1m4 0h1m-9 4h1m7 0h1m-11 2h1m-2 14h1m1 3h1m7 1h1m-11 4h1m-1 2h1m7 7h1m-1 1h1m-1 1h1m-1 1h1m0 1h1m-2 3h1m-7 5h1m8 4h1m-3 8h1m-10 1h1m4 28h1m5 16h1m-10 2h2m3 0h1m2 0h1m-9 2h1m7 6h1m-2 2h1m-6 4h1m0 4h1m-1 1h1m3 2h1m-6 2h1m-3 1h1m1 0h1m2 19h1m-1 3h1m-1 4h1m-4 1h1m0 1h1m-2 1h1m-5 51h1m-1 10h1m-1 1h1m-1 5h1m-1 5h1m-1 53h1m-1 62h1m-1 1h1m0 7h1m-1 1h1m-1 2h1m3 3h1m5 0h1m-12 1h1m6 5h1m-8 5h1m-1 2h1m-1 1h1m4 6h1m3 1h1m-9 2h1m-1 15h1m0 4h1m7 5h1m-1 4h1m-7 4h1m-3 18h1m8 0h1m-11 1h1m9 0h1m-7 16h1m0 6h1m-1 1h1m-7 2h1m3 1h1m1 1h1m-6 1h1m4 0h1m0 6h1m-1 1h1m-2 12h1m-5 3h1m3 0h1m-5 2h1m-1 1h1m3 3h1m3 0h1m-2 1h2m-6 9h1m0 2h1m1 1h1m-1 1h1m0 4h1m-7 2h1m7 0h1m-1 1h1m-9 4h1m0 3h1m-3 1h3m-1 1h1m3 0h1m-9 4h1m2 0h1m-2 1h1m1 3h2m1 0h1m3 0h1m-2 2h1m-8 1h1m-4 7h1m10 0h1m-11 1h1m7 8h1m-9 3h1m2 0h1m0 5h1m1 0h2m-1 1h2m-3 1h1m1 0h1m-4 3h1m0 1h1m-1 1h1m1 0h1"/><path stroke="#FDAE61" stroke-opacity="0.2" d="M4 3.5h1m2 2h1m-7 7h2m3 0h2m1 0h1m1 0h1m-11 2h1m3 1h1m5 0h1m-10 4h2m1 1h2m-4 1h1m0 1h2m1 0h1m-6 1h1m1 0h3m-3 1h1m2 1h2m1 0h1m-9 1h1m1 0h1m3 0h1m1 1h1m-3 1h1m1 1h1m-11 1h1m1 0h1m4 1h1m-8 2h1m-1 1h1m-1 2h1m1 0h1m-1 2h1m-1 1h1m1 0h1m1 0h1m-7 1h1m3 1h1m2 0h1m-1 4h1m3 0h1m-1 3h1m-3 4h1m-10 3h1m0 2h1m4 0h3m2 0h1m-7 1h1m4 0h1m-5 1h1m3 0h1m-9 1h1m3 0h1m3 0h1m-5 3h1m-1 1h1m1 0h2m-4 2h1m-7 4h1m10 4h1m-11 2h1m-1 1h1m5 5h1m2 1h1m-3 1h1m-9 1h1m7 0h1m1 0h2m-7 1h1m-1 1h1m2 0h1m-1 1h1m1 0h2m-7 1h1m-3 2h2m1 0h4m1 0h1m-8 1h1m0 2h1m2 0h1m-1 1h1m2 0h1m-10 1h1m5 0h1m-4 2h1m-4 1h3m3 0h1m-6 1h2m-5 3h2m7 0h1m-8 1h1m3 0h1m2 1h1m-8 1h2m1 0h1m-5 1h1m3 0h1m2 0h2m1 0h1m-9 3h1m1 0h1m-3 2h3m0 1h1m2 0h1m-8 1h2m1 0h2m-5 1h2m2 0h1m1 0h1m1 0h1m-8 1h2m3 2h1m-9 1h1m10 2h1m-10 2h1m3 1h1m-7 2h2m7 0h1m-9 1h1m2 0h1m-1 3h1m3 0h1m-5 1h1m2 0h1m2 0h2m-5 1h1m-1 1h1m-5 2h1m3 0h1m3 0h1m-9 1h1m-1 2h1m5 0h1m-9 2h1m-1 1h2m8 0h1m-10 3h1m5 0h2m-1 1h1m-8 1h1m3 0h2m3 0h1m-12 1h1m1 0h1m1 0h1m1 0h1m3 0h1m-11 1h1m3 2h1m-4 1h1m1 0h1m4 0h1m1 0h1m-1 2h1m-10 1h1m-1 1h2m1 0h2m-2 1h2m5 0h1m-7 1h1m-3 3h1m-3 4h1m7 0h1m1 0h1m-3 1h1m1 2h1m-7 3h1m4 0h2m-12 2h1m1 0h1m3 1h1m-7 1h1m8 1h1m-3 1h1m1 0h2m-2 1h1m-8 6h1m-3 6h1m8 0h1m-1 1h1m-7 1h1m-4 1h1m9 0h1m-2 2h1m-6 1h1m-5 1h3m1 0h1m2 0h3m-2 2h1m1 0h1m-7 1h1m2 1h2m1 3h1m-11 1h1m1 0h1m1 0h1m3 0h3m-7 5h1m-5 3h1m3 0h3m-7 2h1m10 0h1m-8 1h1m6 0h1m-10 1h1m6 0h1m1 5h1m-3 7h1m-5 1h2m1 0h1m-7 1h1m1 0h1m1 0h1m1 0h2m-4 3h1m-1 1h1m-2 5h1m-1 1h1m3 1h1m-4 3h1m3 0h1m-6 1h1m1 0h1m-6 1h3m-5 3h1m2 0h2m2 0h1m-1 1h1m2 0h1m-8 1h1m4 0h1m2 0h1m-1 1h1m-7 1h1m2 4h1m2 1h1m-8 1h1m3 0h2m-8 1h2m3 0h1m-6 2h1m7 0h1m-1 2h1m-5 2h1m3 3h1m-2 1h1m-8 1h1m5 2h1m-8 2h2m1 0h1m4 0h1m-1 1h1m-1 1h1m-5 2h1m3 0h2m-7 1h1m-4 2h1m5 0h1m1 0h1m-3 1h1m1 0h1m-3 1h1m-3 2h1m1 1h1m-4 2h1m-3 1h1m3 0h1m3 3h1m-4 1h1m2 0h1m-6 1h1m4 0h2m-1 1h1m-5 5h1m-6 1h1m5 0h4m-1 3h1m-5 1h1m2 0h1m-4 1h1m-1 1h2m-5 1h1m5 0h1m-9 1h1m3 0h2m1 0h1m1 0h1m-12 1h1m6 0h1m3 0h1m-7 1h1m4 1h1m-8 3h1m4 6h1m1 0h1m-4 1h1m-5 6h2m-2 1h1m2 0h1m4 0h1m-10 2h1m4 4h1m1 15h1m-9 16h1m3 1h1m-6 7h1m1 9h1m7 10h1m-11 7h1m7 1h1m2 2h1m-12 12h1m-1 1h1m-1 7h1m-1 18h1m7 0h1m-8 6h1m-2 5h1m1 0h1m-3 2h1m7 20h1m-6 2h1m0 6h1m5 4h1m-11 6h1m-1 3h1m-1 1h1m0 2h2m2 0h1m4 0h1m-9 1h1m3 0h1m3 0h2m-1 2h1m-3 4h2m-11 1h1m1 0h3m1 0h3m1 0h1m-8 1h1m6 0h1m-10 1h1m8 0h1m-11 3h2m2 0h1m6 0h1m-12 1h1m1 0h1m1 0h1m1 0h2m1 0h2m-10 1h1m2 0h1m1 3h1m3 0h2m-12 1h1m2 0h1m1 0h2m4 0h1m-6 2h1m-4 1h1m3 0h1m3 1h1m-3 1h1m1 0h1m-10 1h2m2 0h1m3 0h1m-11 1h1m2 0h1m-1 1h4m-4 1h1m2 0h1m-7 3h1m7 0h1m-2 2h1m-1 1h2m-8 1h1m0 4h1m3 0h1m1 0h2m-9 1h1m2 0h1m3 1h1m-6 1h1m-3 2h1m1 0h1m1 0h1m5 0h1m-9 1h1m1 0h1m-5 1h1m9 2h1m-10 1h1m2 0h1m5 0h1m-2 1h1m-10 1h2m7 0h1m-8 1h1m6 0h1m-8 1h1m3 0h1m2 1h1m-7 1h1m5 1h1m-10 1h1m-1 2h1m-1 1h1m8 0h1m-1 4h2m-1 1h1m-10 1h1m1 0h1m5 0h1m-11 3h1m6 2h1m3 1h1m-4 2h1m2 4h1m-3 1h2m-6 1h1m4 0h2m-4 1h1m-7 4h1m5 0h1m-8 1h1m2 1h2m1 0h2m-7 1h1m-2 1h1m2 0h2m5 3h1m-11 1h1m2 5h1m-3 1h1m6 0h1m-8 1h1m6 0h1m-6 1h1m-3 2h1m-1 1h1m6 0h1m-3 1h1m-7 3h1m-1 1h1m9 0h1m-11 1h1m6 0h2m1 0h1m-4 1h1m-1 2h1m2 0h1m-11 1h2m-1 2h1m1 0h1m6 0h1m-9 1h2m1 0h1m1 0h1m-6 1h2m1 0h1m1 0h1m-8 1h1m2 0h1m1 0h1m-1 1h2m-1 1h1m-5 1h2m1 2h1m0 1h1m-3 2h1m1 0h1m-3 1h1m1 1h1m-7 2h1m-2 1h1m4 0h2m-6 1h1m-2 1h4m2 0h1m-7 1h1m5 1h1m-5 1h1m-3 1h1m1 1h1m1 0h1m4 0h1m-1 1h1m1 0h1m-3 1h2m-2 2h1m-10 1h1m4 0h1m3 0h1m-5 1h2m-2 1h1m5 0h1m-8 1h1m1 2h1m-3 1h1m1 0h1m-1 1h2m-8 1h2m2 0h1m-3 1h1m3 1h3m-3 1h2m-6 1h1m2 0h1m1 0h1m-8 2h1m5 0h1m-7 1h1m2 0h1m0 2h1m-5 1h1m2 0h3m5 0h1m-9 1h1m7 0h1m-7 1h1m-3 1h3m4 0h1m-7 2h1m-2 1h2m-5 1h3m1 0h1m2 0h1m-7 1h1m0 1h1m6 1h1m-5 1h1m3 0h2m-8 1h1m1 0h1m3 0h1m-7 1h3m2 0h2m-1 1h1m-7 1h2m0 1h1m-3 1h3m4 0h1m-11 3h4m6 0h1m-11 1h2m1 0h1m2 0h1m-7 1h1m3 0h1m4 0h1m-9 2h1m8 0h1m-8 1h2m5 0h1m-8 2h2m4 0h1m1 0h1m-11 1h1m7 0h1m-9 2h1m2 0h1m1 0h2m1 0h2m-8 1h1m2 0h1m1 0h1m2 0h1m-2 1h1m-7 1h1m3 0h1m2 0h1m-11 1h1m4 0h1m3 0h1m-9 1h1m-1 1h1m3 0h1m1 0h1m-8 2h1m2 0h1m-4 1h1m-1 2h1m4 1h2m1 0h1m-2 2h1m-1 1h1m-4 1h1m1 0h2m2 0h1m-1 1h1m-5 1h1m3 0h1m-6 1h1m4 0h1m-5 2h1m1 0h1m-3 1h1m-8 2h1m3 0h2m-1 2h1"/><path stroke="#FDAE61" stroke-opacity="0.09" d="M8 .5h1m-1 1h1m-1 1h1m1 0h1m-4 1h2m-6 1h1m3 0h1m2 0h1m-8 1h1m7 0h1m-11 3h2m5 0h1m1 0h1m-8 1h2m6 0h1m-7 1h1m2 0h1m-6 2h1m4 0h1m-8 1h1m6 0h1m-9 1h1m5 0h1m-5 1h1m4 0h1m-2 2h2m-5 1h1m1 1h1m1 0h1m-5 1h1m0 1h1m4 0h1m-7 1h1m5 0h1m0 1h1m-9 1h1m-3 1h1m1 0h1m2 0h1m3 0h1m-10 1h2m3 0h3m2 0h2m-9 1h1m-2 1h1m1 0h1m-5 1h1m2 0h2m2 0h1m1 0h1m-7 1h1m6 0h1m-9 4h2m2 0h1m4 0h1m-11 2h1m1 0h1m5 0h2m-8 3h1m3 0h1m-6 1h1m4 0h1m-2 1h1m2 0h1m-8 1h1m4 0h1m-8 2h1m-1 1h1m-1 1h1m10 0h1m-1 1h1m-1 3h1m-10 3h1m4 0h1m2 0h1m-6 1h1m-1 1h1m5 0h1m-9 1h1m3 0h1m2 0h1m-9 1h2m5 0h2m-5 1h1m-7 1h1m4 0h1m2 0h2m-10 1h1m6 0h1m1 0h1m-10 1h3m2 0h2m3 0h1m-10 3h1m1 0h2m2 0h1m2 0h1m-11 1h1m2 0h1m1 0h3m1 0h1m1 0h1m-11 1h1m7 0h1m-10 1h1m5 0h1m4 1h1m-1 1h1m-1 2h1m-9 1h1m7 0h1m-4 2h2m-8 2h2m1 0h1m-6 1h1m1 0h1m5 0h1m2 0h1m-10 1h1m8 0h1m-10 1h1m8 0h1m-3 1h1m-9 2h1m9 0h1m-1 1h1m-1 1h1m-12 2h1m3 2h1m1 0h1m2 0h1m1 1h1m-11 2h1m8 0h1m-4 1h2m1 0h1m-7 1h1m3 0h1m2 0h1m-7 3h1m3 0h1m1 0h1m-7 1h1m3 2h2m-4 1h1m2 0h2m-9 1h2m4 0h1m-10 1h1m2 0h1m7 0h1m-10 1h1m3 0h1m4 0h1m-12 1h1m2 0h1m4 0h1m-7 1h1m3 0h1m-3 1h1m4 0h1m-8 1h1m3 0h1m-4 2h1m-3 1h2m1 0h1m3 0h2m-9 1h1m3 0h1m3 1h1m1 0h1m-7 1h1m5 0h1m-12 1h1m8 0h1m-10 1h1m3 0h1m2 0h1m3 0h1m-6 1h1m1 0h1m-6 1h1m-1 1h2m4 0h1m1 1h1m-10 3h1m4 0h2m1 0h2m-6 1h2m2 0h1m-11 1h1m1 0h1m6 0h3m-10 2h1m4 0h1m2 0h1m-11 1h1m1 0h1m4 0h1m2 0h1m-11 1h1m-1 1h1m7 0h1m0 2h1m-1 2h1m-7 1h1m-3 1h1m7 0h2m-10 1h1m5 0h1m3 0h1m-11 1h1m4 0h2m3 0h1m-10 3h1m6 1h1m-7 3h1m1 0h2m-6 1h1m4 0h1m1 1h1m-6 2h1m3 0h1m-1 1h1m-8 1h1m1 0h1m4 0h1m3 0h1m-10 1h1m4 0h1m-4 1h1m-2 2h1m3 0h1m2 0h2m-6 1h1m2 0h1m-9 1h1m1 0h1m2 1h1m2 0h1m1 0h1m-9 1h3m-2 1h3m2 0h1m-9 1h2m1 1h1m-1 2h1m-2 1h2m1 0h2m-5 1h1m3 0h1m-5 1h1m1 0h1m3 0h1m-1 1h1m-10 2h1m-1 1h1m2 0h1m5 0h1m-4 2h1m-7 1h1m3 2h1m-3 1h1m1 0h1m-5 4h1m9 2h1m-2 4h1m1 0h1m-8 1h1m3 0h1m2 0h1m-2 1h1m-4 1h1m3 0h1m-10 1h1m8 0h1m-5 1h1m1 0h1m-9 1h4m2 0h1m-5 1h1m3 0h1m1 0h1m-2 1h1m-2 1h1m2 0h2m-7 1h1m-2 1h1m-4 1h1m2 0h2m5 0h1m-12 1h1m7 0h1m-5 1h1m5 0h2m-5 1h1m-7 1h1m4 0h1m2 0h3m-6 1h1m2 0h1m1 0h1m-9 1h1m1 0h1m1 0h1m1 1h1m1 0h1m-8 3h1m-5 1h1m8 0h1m1 0h1m-9 1h1m5 0h1m-4 1h1m-5 1h1m8 0h1m-8 1h1m-1 1h1m1 0h1m2 0h1m-9 1h3m0 1h1m-4 1h1m9 0h1m-1 2h1m-6 2h1m-5 1h1m5 0h1m1 0h1m-9 1h2m6 0h1m-5 1h1m3 2h1m-5 1h1m-1 1h1m1 0h1m0 1h1m-3 1h1m3 0h1m-6 2h1m4 0h1m-8 1h1m2 0h1m-2 2h1m4 0h1m-4 2h1m1 1h2m-8 1h1m5 0h2m-6 1h1m4 0h1m-5 1h1m3 0h1m-2 2h1m-9 2h3m1 0h1m3 0h1m-10 1h1m5 0h1m-6 1h3m3 0h1m-1 1h1m-1 1h1m1 0h1m-7 1h1m-5 1h1m3 0h1m2 0h1m-4 1h1m2 0h1m-8 1h1m2 0h2m1 0h1m1 0h1m1 0h2m-7 1h1m2 0h1m2 0h1m-11 2h2m-1 1h2m1 0h1m1 0h1m-6 1h1m-2 1h1m-1 1h1m8 0h1m-7 1h1m2 0h2m1 0h1m-8 1h1m-1 2h1m3 1h1m-7 2h3m3 0h1m-2 1h1m2 0h1m-10 1h1m4 0h1m1 0h1m-5 1h1m3 0h1m-8 2h1m3 0h1m5 1h2m-4 1h1m-7 2h1m7 0h1m-7 1h1m3 0h1m0 1h1m-8 1h1m1 0h1m2 0h2m-7 1h1m7 0h1m-10 1h1m2 0h1m2 0h1m2 0h1m-9 1h1m2 0h1m4 0h1m-10 1h1m3 0h1m2 0h1m-8 1h1m2 0h2m3 0h1m-6 1h1m2 0h2m-7 1h1m4 0h1m2 1h2m-6 2h1m2 0h2m-7 1h1m-1 1h1m1 0h1m-4 1h1m6 0h1m-10 2h1m9 0h1m-11 1h1m5 0h1m-6 1h1m2 0h4m-4 2h1m1 0h1m-1 1h1m0 1h1m1 0h2m-6 1h1m1 0h1m1 0h1m-6 1h1m-1 1h1m4 0h1m-9 2h1m1 0h1m0 3h1m3 0h1m-7 1h1m5 0h1m-10 1h2m1 0h1m1 0h1m2 0h1m1 0h1m-10 1h2m1 0h1m4 0h1m-10 1h2m8 0h2m-8 1h1m-5 1h1m2 1h1m6 0h1m-8 2h1m4 1h1m2 0h1m-4 1h4m-8 1h1m2 1h1m-3 1h1m5 0h1m-9 1h1m1 0h1m2 0h1m1 0h1m-6 2h1m-5 4h2m-3 1h1m4 0h1m2 0h1m1 0h1m0 1h1m-11 1h1m1 0h1m1 0h2m4 0h1m-9 1h1m1 0h1m-2 2h1m4 0h1m-7 1h1m5 0h1m1 0h1m-11 2h1m9 0h1m-1 1h1m-1 1h1m-11 1h1m-1 3h1m-2 1h1m3 0h1m2 0h1m-8 1h1m3 0h1m5 0h2m-8 3h1m4 1h1m-9 1h1m2 0h1m3 1h2m-9 3h1m4 0h1m1 0h1m-8 1h1m7 0h1m0 1h1m-11 9h1m-1 1h1m0 1h2m-1 1h1m2 0h1m-6 1h1m3 0h1m-5 1h1m1 0h3m3 0h1m-5 1h2m-4 1h1m1 0h1m3 0h1m2 0h1m-10 1h1m1 0h1m3 0h2m-7 1h2m3 0h1m-1 2h1m-9 1h2m4 0h2m-7 1h1m2 0h1m2 0h1m-8 1h1m3 0h1m0 3h1m5 0h1m-1 1h1m-2 3h1m-11 1h2m3 0h1m-5 1h1m-1 1h1m-1 1h1m3 0h1m-5 1h1m-2 1h1m8 0h2m-11 1h1m2 1h1m4 4h1m2 1h1m-4 1h2m1 0h1m-12 1h1m8 0h1m1 0h1m-12 1h1m-1 1h1m5 0h1m2 0h1m1 2h1m-9 1h1m1 0h1m3 0h1m1 0h1m-5 2h1m-1 1h1m-3 2h1m-2 2h1m-1 1h1m-3 1h1m2 0h1m-1 2h1m5 0h1m-12 1h1m-1 1h1m3 0h1m4 0h1m-9 1h1m1 0h1m1 0h1m4 0h1m-10 2h1m1 0h1m-3 1h3m6 1h1m-1 4h1m-1 1h1m-8 2h1m-1 1h1m-1 1h1m-3 2h1m1 0h1m-1 1h1m6 0h1m-10 1h1m9 0h1m-12 1h1m-1 1h2m1 0h1m4 0h2m1 0h1m-11 1h1m1 0h1m4 0h1m2 0h1m-9 1h2m6 0h1m-11 2h1m3 4h1m4 0h1m-9 2h1m-1 1h1m-1 1h1m1 0h1m-1 1h1m4 0h1m-8 1h1m-2 1h1m8 0h1m-11 1h1m2 0h1m-4 1h1m-1 4h1m8 2h1m1 0h1m-11 2h1m9 0h1m-10 1h1m2 1h1m4 0h2m-11 7h1m9 0h1m-9 1h1m6 0h2m-11 1h1m1 0h2m1 0h1m1 0h1m2 0h1m-8 1h1m4 0h3m-8 1h1m-4 1h1m2 0h1m6 0h1m-11 1h1m2 0h1m-1 1h1m-1 1h1m6 0h1m-11 2h1m2 0h1m-3 1h1m-3 1h2m2 0h1m1 0h1m-3 1h2m-6 5h1m3 0h2m-1 1h1m5 0h1m-2 2h1m-1 2h2m-9 2h2m1 0h2m1 0h1m1 0h1m-11 1h1m-2 2h1m5 0h3m-9 1h1m5 0h1m4 0h1m-6 2h1m3 0h1m-8 1h3m-1 2h1m3 0h1m-10 2h1m2 0h2m6 1h1m-4 2h1m-7 1h1m2 0h1m5 0h1m-2 2h1m-8 1h2m-4 1h1m2 0h1m2 0h1m2 0h1m-6 1h1m5 0h1m-5 1h1m-7 1h2m1 0h1m5 0h1m-7 1h1m2 0h1m-6 1h4m-1 1h1m1 0h1m3 0h1m-6 1h1m4 0h1m-11 1h2m7 0h2m-6 2h1m-4 2h1m-4 1h1m7 0h1m-9 1h2m2 0h1m1 0h1m1 0h1m-6 1h2m1 0h1m0 1h2m-5 1h1m-2 1h1m-4 2h2m2 0h1m-3 1h1m5 0h1m2 0h1m-11 1h1m1 0h1m5 0h1m-6 1h1m6 0h1m-10 1h1m2 0h2m4 0h1m-8 1h1m-4 1h1m2 1h2m2 0h1m-5 1h1m5 1h1m-8 1h1m2 0h1m1 0h1m-4 1h1m-3 1h3m1 0h1m-4 1h2m-5 1h1m8 0h1m-7 1h1m2 0h1m-3 1h1m2 0h1m1 0h1m-7 1h1m3 0h1m-1 1h1m1 0h1m-11 1h1m-1 1h1m8 2h1m-1 1h2m-9 2h1m-2 1h1m2 0h1m-4 1h1m1 0h1m2 0h1m4 0h1m-6 1h1m-2 1h1m-5 1h2m2 0h2m4 0h1m-10 1h1m5 0h1m2 0h1m-9 2h1m1 0h1m4 0h1m-3 1h1m-7 1h1m2 0h1m-6 3h1m1 0h2m1 1h1m2 1h1m-9 1h1m6 0h2m0 1h3m-7 1h2m2 0h1m-2 1h1m2 0h1m-9 1h1m3 0h2m1 0h2m-11 1h1m1 0h1m5 0h1m-8 1h1m2 0h1m-5 1h1m7 0h2m-7 1h2m1 0h1m-6 1h2m2 0h1m3 0h1m-10 2h1m-1 1h2m1 0h1m-1 1h1m3 0h1m-8 1h1m7 3h1m-9 2h1m2 0h1m3 0h1m-9 1h1m5 0h1m-6 1h2m6 0h1m-6 1h2m2 0h1m-9 1h1m8 0h1m-10 1h1m6 0h1m-2 5h1m-7 1h1m2 0h1m3 0h1m-8 1h2m1 0h2m4 0h3m-8 1h3m1 0h1m1 0h1m-9 1h1m1 0h1m0 1h4m-5 1h1m2 0h1m-8 1h1m6 0h1m-6 1h1m4 0h1m3 0h1m-10 1h1m4 0h1m-1 1h1m-5 1h1m4 0h1m-3 1h1m-7 1h3m3 0h1m4 0h1m-5 2h1m-6 1h1m1 0h1m1 0h1m-6 1h1m1 1h1m-3 1h1m8 0h1m-10 1h1m4 0h1m2 0h2m-9 1h1m3 0h2m-5 1h1m-3 1h2m7 0h2m-9 1h1m2 0h1m2 0h1m-5 1h1m1 0h1m-5 1h1m-2 1h1m-2 2h1m1 0h1m5 0h1m-4 1h1m3 0h2m-7 2h3m1 1h1m-7 1h1m-3 1h1m1 0h1m3 0h1m3 0h1m-5 1h1m-1 1h1m-5 2h1m7 0h1m-1 1h1m-11 2h1m2 0h1m-3 1h1m3 0h2m-7 2h1m2 0h1m-3 1h1m5 0h1m1 0h1m-11 1h1m3 0h1m-5 1h1m1 0h1m1 0h1m1 0h1m3 0h1m-2 1h2m-7 1h1m3 0h3m-7 1h1m3 0h2m-7 1h1m2 0h1m-1 1h1m3 0h1m-6 1h1m2 0h1m-3 1h1m-6 1h1m6 0h2m-9 3h1m9 0h1m-7 1h1m2 0h1m-7 1h1m-3 1h1m6 0h1m-7 1h2m4 0h2m1 0h1m-11 1h2m4 0h2m-1 1h1m-8 1h1m6 0h1m-8 1h1m1 0h1m2 0h1m2 0h1m1 0h1m-5 1h2m-6 1h1m1 0h1m2 0h1m-8 1h1m6 0h1m1 0h1m-9 1h1m3 0h1m-1 1h1m-2 2h1m3 0h1m-8 1h1m1 0h1m4 0h1m-6 2h2m3 0h1m-7 1h1m5 0h1m0 1h2m-10 1h1m5 0h2m1 0h1m-11 1h1m1 0h2m2 0h1m-7 1h1m8 0h3m-10 1h2m1 0h1m2 0h1m-9 1h1m9 0h1m-11 1h1m0 1h2m3 0h1m2 0h1m-10 2h1m3 0h1m2 0h1m2 0h1m-10 1h1m-1 1h1m2 0h1m2 0h1m-3 1h1m2 0h2m-9 2h1m7 0h1m-2 1h2m-9 2h1m3 2h1m3 0h1m-9 1h1m4 0h1m2 1h1m-8 1h1m-3 1h2m1 0h3m2 0h1m-5 1h1m2 0h1m1 0h1m1 0h1m-10 2h1m-2 1h2m6 0h1m-9 1h3m2 0h1m4 0h1m-7 1h1m3 0h1m-9 2h1m5 0h1m-7 1h1"/><path stroke="#C6E2F5" stroke-opacity="0.8" d="M0 1.5h1m-1 5h2m7 0h1m0 10h1m-2 1h1m-2 6h1m-3 17h1m3 4h1m-11 6h1m1 0h1m-3 1h1m7 0h1m-5 8h1m2 19h1m-6 9h1m1 52h1m-1 1h1m4 8h1m-1 1h1m-2 9h1m-1 1h1m-7 10h1m4 15h1m-7 4h1m4 2h1m-1 16h1m3 1h1m-4 18h1m-7 6h1m1 0h1m-4 1h1m2 2h1m5 0h1m-8 2h1m-1 6h1m-2 13h1m2 0h1m-1 10h1m-2 9h1m2 0h2m3 6h1m-1 1h1m-6 4h1m-1 8h1m-7 4h1m0 3h1m-1 3h1m5 12h1m-7 3h1m5 0h1m-2 1h1m-7 1h2m4 0h1m-6 1h1m0 1h1m0 2h1m4 0h1m-9 1h1m3 6h1m-3 3h1m7 0h1m-9 8h1m7 0h1m-9 2h1m-1 4h1m2 0h1m2 0h1m-8 5h1m2 1h2m1 1h1m-4 2h1m2 0h1m-7 1h1m2 0h2m1 0h2m2 0h1m-8 1h1m4 0h1m-10 2h1m5 0h1m-6 1h1m6 0h2m1 0h1m-1 2h1m-8 1h1m2 0h1m2 0h2m-1 1h1m-2 4h1m-4 5h1m-3 1h1m-3 1h1m7 3h1m-4 5h1m-6 5h1m7 0h1m-3 2h1m-6 2h1m5 4h1m-9 1h1m1 0h1m5 0h1m-6 1h1m4 3h1m-3 2h1m-1 1h1m2 4h1m-9 1h1m-1 1h1m-2 1h1m1 9h1m1 0h1m1 3h1m-9 3h1m1 0h1m4 0h2m-7 2h1m5 0h1m-4 3h1m-1 6h1m0 7h2m1 0h1m1 0h1m-8 1h1m-2 2h1m-1 1h1m-3 8h1m1 2h1m-1 2h1m2 6h1m-5 1h1m3 0h1m-1 1h1m-7 1h1m5 0h1m-1 1h3m-6 9h1m1 0h1m0 2h1m4 4h1m-11 1h1m6 0h1m2 1h1m-10 1h1m5 0h1m-3 4h1m1 4h1m-5 3h1m-1 1h1m-1 1h1m3 2h1m-6 9h1m5 0h1m-2 1h2m0 14h1m-9 61h1m7 6h1m-2 27h1m1 1h1m-1 2h1m-12 3h1m7 3h1m-8 14h1"/><path stroke="#D6ECFA" stroke-opacity="0.55" d="M1 .5h1m-2 2h1m-1 2h1m5 0h1m-5 2h1m4 0h1m-8 1h1m2 0h1m-4 3h1m2 3h1m7 0h1m-4 4h1m1 1h1m-7 1h1m3 2h1m2 2h1m-1 4h1m-11 4h1m3 0h1m3 0h1m-6 1h1m3 0h3m-3 3h1m-9 3h2m8 0h1m-2 2h1m-6 3h1m3 0h3m-10 1h4m-2 1h1m-1 1h8m-9 1h1m-2 1h1m2 1h1m2 0h1m2 0h1m-8 1h1m3 0h1m-7 1h3m2 0h2m1 0h2m-11 1h1m5 0h1m1 0h1m-3 2h1m-3 4h1m6 2h1m-1 1h1m-11 1h1m9 0h1m-8 1h1m6 0h1m-10 2h1m-1 1h1m5 0h1m-2 2h1m-8 1h1m2 0h1m3 0h2m0 3h1m0 1h1m-7 1h1m-2 6h1m6 0h1m-11 1h1m1 0h2m2 0h1m4 0h1m-3 2h1m-7 4h1m3 0h1m-8 3h1m1 0h1m1 0h1m-4 2h1m1 0h1m5 2h1m-7 1h2m-5 1h1m-1 1h1m3 0h1m1 0h1m-6 1h1m4 0h1m3 0h2m-8 5h1m5 2h1m-10 7h1m0 8h1m2 0h2m-5 1h1m0 3h1m-1 1h1m1 0h1m-3 4h1m-4 1h2m1 0h1m2 3h1m-1 1h1m3 0h1m-9 3h1m1 0h1m1 2h1m-7 1h1m4 0h1m-2 1h1m-1 1h1m1 0h1m1 0h1m-2 1h1m-3 7h1m3 0h1m-10 2h1m4 0h2m2 0h1m-4 1h1m1 1h1m-1 6h1m-1 1h1m1 0h1m-4 1h1m2 0h1m-11 1h1m9 0h1m-1 2h1m-6 2h3m0 1h1m-6 6h1m2 1h1m-6 2h1m3 0h1m-2 1h1m1 0h1m1 0h1m-3 1h3m-5 1h1m2 0h1m1 1h1m-10 2h1m5 0h2m-7 1h3m4 0h1m2 0h1m-10 1h1m8 0h1m-12 1h1m1 0h2m1 0h1m-1 2h2m-1 3h1m-5 6h2m3 0h1m1 0h1m-10 4h1m4 0h1m2 0h1m-3 4h1m-7 1h2m2 0h1m2 0h1m2 0h1m-10 1h1m3 0h2m-6 1h1m-1 2h1m5 0h2m-8 1h1m5 3h1m-2 1h1m-7 1h1m-1 1h1m2 1h1m3 0h1m1 0h2m-11 1h1m2 0h1m3 0h1m2 0h1m-2 1h2m-6 3h1m1 0h1m-8 1h1m6 0h1m-3 1h1m2 0h3m-9 2h1m1 0h2m1 0h1m-8 4h1m1 0h1m1 0h1m2 0h2m1 0h1m-10 1h1m1 0h1m1 0h1m3 0h1m-7 1h1m5 0h1m-8 1h1m0 1h1m5 0h1m-9 1h1m1 0h1m3 0h1m1 0h1m-10 1h4m1 0h1m-5 1h2m2 0h1m-5 4h1m1 0h1m4 2h1m2 0h1m-11 4h1m0 2h1m-2 1h1m0 1h1m6 0h1m-10 3h1m2 0h1m2 0h1m2 0h2m-5 3h1m-7 5h2m2 0h2m2 0h2m1 0h1m-1 1h1m-9 1h1m-1 1h2m6 0h1m-7 4h1m5 0h1m-11 1h1m6 0h1m-1 1h1m0 2h1m-10 2h1m2 1h1m2 7h1m4 0h1m-12 1h1m10 0h1m-9 1h1m2 0h1m2 0h1m-2 1h1m-8 3h1m1 0h1m1 0h1m1 0h3m1 0h1m-2 1h1m-2 1h1m-1 1h1m-7 1h1m-1 3h2m-2 1h2m-5 1h2m-1 2h1m-1 1h1m4 0h1m1 1h1m-3 1h1m-1 5h1m-6 4h1m4 0h1m2 0h1m-4 1h1m0 2h1m-7 1h1m4 0h1m-1 1h1m-6 1h1m1 1h1m-4 1h1m1 0h1m1 0h1m1 0h1m2 0h1m-9 1h1m-2 1h1m-1 1h3m3 0h2m3 1h1m-11 1h1m5 0h1m-6 2h1m-2 3h1m3 0h1m2 0h3m-1 2h1m-7 1h1m1 0h3m1 2h1m-11 2h1m1 2h1m-1 1h1m-3 1h1m2 0h1m2 0h1m1 0h1m-7 1h1m3 0h1m3 0h1m-8 5h1m3 0h1m1 0h1m-2 1h1m-1 1h1m1 2h1m-8 1h3m4 0h1m-4 1h1m2 0h1m-7 1h1m6 0h1m-8 1h1m0 1h1m-6 1h1m1 0h2m2 0h1m3 0h1m-8 1h1m7 0h1m-8 1h1m4 0h1m-6 1h1m4 0h1m1 0h1m-9 1h1m2 0h1m-6 1h1m4 0h1m0 1h1m-7 1h1m3 0h1m3 0h1m-3 1h1m-4 1h1m2 0h1m2 0h1m-4 1h1m2 1h1m-4 4h1m1 2h1m1 0h1m-11 1h1m1 0h1m3 0h1m2 0h1m-7 7h1m3 0h1m-6 2h1m5 0h1m-6 3h1m2 0h1m1 0h1m-7 1h1m3 0h1m-1 1h1m-1 1h1m0 4h1m-5 2h1m5 0h1m-9 1h1m3 0h1m4 0h1m-7 1h2m-3 1h1m2 0h1m-4 1h1m5 0h1m-5 2h1m3 1h1m-9 1h2m6 0h1m-1 1h1m-11 2h1m1 0h1m3 0h1m1 0h1m-7 1h3m3 0h1m-6 1h1m1 0h2m1 0h2m-8 1h1m2 0h1m3 0h3m-3 1h3m-8 1h3m2 0h2m-1 1h1m-3 2h1m1 0h1m-10 1h1m6 2h1m1 0h1m-8 6h2m2 0h1m1 0h1m-1 3h1m-8 1h1m5 0h1m2 0h1m-12 1h2m4 0h2m3 0h1m-11 1h1m6 0h1m-1 1h1m-4 2h1m3 0h1m-5 1h1m3 0h1m-3 4h1m-3 1h1m-1 1h1m-4 1h1m7 0h1m-4 1h1m-5 1h1m-4 2h2m1 0h3m-3 1h1m-4 2h1m8 0h1m1 0h1m-12 1h1m6 1h1m-1 1h1m-5 1h1m0 5h1m1 0h2m1 0h3m-12 2h1m0 2h1m6 0h1m-1 2h1m-6 1h2m1 0h1m2 1h1m-4 1h1m-3 1h1m-2 1h3m1 0h1m-5 1h1m1 0h1m2 0h1m-8 1h1m2 0h1m2 0h2m-9 1h1m2 0h1m6 0h1m-1 1h1m-5 5h1m-4 2h1m2 0h1m-1 1h1m-4 1h1m-1 1h1m1 0h1m5 3h1m-9 2h2m1 0h2m3 0h1m-12 1h1m1 0h1m3 0h1m1 0h1m-9 1h2m1 0h1m2 0h1m4 0h1m-9 1h1m2 0h1m-4 1h1m5 0h1m-8 2h3m3 0h2m-8 1h1m3 0h3m-1 2h1m0 1h1m-6 6h1m-2 1h1m4 4h1m2 0h1m-2 1h1m-8 5h1m1 0h1m1 0h1m2 0h1m-8 1h1m1 0h1m2 0h2m-1 1h1m-8 2h1m6 0h1m1 1h1m-7 8h1m2 1h1m2 0h1m-11 1h1m0 1h1m7 0h2m-1 4h1m-7 1h1m-1 1h1m1 0h1m-8 3h1m6 0h1m-1 3h1m-8 2h1m-1 1h1m6 0h1m1 0h1m-1 1h1m-10 2h1m8 0h1m1 1h1m-10 3h1m2 0h2m1 0h1m2 0h1m-6 1h2m1 0h1m-7 1h1m-1 1h1m-1 1h1m1 0h1m5 0h1m-10 1h1m8 0h1m-7 1h1m5 1h1m-10 2h1m4 1h1m0 8h1m0 1h1m-9 2h1m2 0h1m1 1h1m-3 1h1m1 0h1m-3 3h1m-1 1h1m-1 1h1m-5 1h1m1 0h1m1 0h1m-3 12h1m-3 1h1m2 0h1m3 0h1m2 0h1m-4 1h1m2 4h1m-10 5h1m6 0h3m-9 1h2m7 0h1m-8 2h1m5 0h1m-11 6h1m-1 5h1m-1 1h1m10 0h1m-4 3h1m2 0h1m-2 2h1m-11 1h1m-1 1h1m7 4h1m-7 1h1m5 1h1m-1 1h1m2 0h1m-4 2h1m-3 5h1m-4 4h1m-4 2h1m7 0h1m1 0h1m-6 3h1m5 4h1m-1 1h1m-5 7h1m-7 3h1m9 4h1m-1 1h1m-2 3h1m0 6h1m-10 5h1m-3 3h1m4 6h1m4 9h1m-11 2h1m2 0h1m-1 1h2m5 0h1m-7 1h1m-1 1h1m5 5h1m-11 2h1m7 5h1"/><path stroke="#E4F3F8" stroke-opacity="0.35" d="M0 .5h1m3 0h2m-5 1h1m1 0h1m1 0h1m5 0h1m-11 1h1m1 0h1m-3 2h2m6 0h1m-10 1h1m1 0h1m3 0h1m-4 1h4m3 0h1m-9 1h1m2 0h5m1 0h1m-6 1h2m-3 1h1m3 0h1m-4 1h1m3 1h1m-8 3h1m-1 1h1m6 0h1m-7 1h1m-2 1h1m7 0h1m-12 1h3m-3 1h1m7 0h1m-9 1h2m5 0h2m2 0h1m-12 1h1m-1 1h1m-1 1h2m-2 1h1m10 0h1m-11 1h1m0 2h1m2 0h2m2 0h1m-5 1h1m-1 1h1m-5 1h1m3 0h2m2 0h1m-6 1h1m1 0h1m-7 1h1m0 1h1m3 0h1m4 0h1m-7 1h1m3 0h1m1 0h1m-7 1h2m3 0h1m-6 1h1m-5 1h2m1 0h1m1 0h1m2 0h1m2 0h1m-6 1h3m2 0h1m-11 2h1m1 0h1m-3 3h1m3 1h4m-7 1h1m7 0h1m-10 1h1m2 1h1m1 0h1m2 0h1m-8 1h3m-5 1h4m2 0h1m1 0h2m1 0h1m-8 1h3m3 0h1m-7 1h2m5 0h1m-11 1h1m5 0h1m-8 1h1m5 0h1m1 0h1m-8 1h2m5 0h1m-7 1h1m3 0h1m1 0h1m1 0h1m-2 1h1m1 0h1m-9 2h1m5 0h1m1 0h1m-9 2h2m3 0h1m-5 1h1m2 0h1m-8 1h1m2 0h2m2 0h1m2 0h1m-11 1h1m2 0h1m3 0h1m1 0h2m-7 2h1m-2 1h1m3 0h1m2 0h1m-9 1h1m1 0h1m2 0h1m2 0h1m-9 1h1m7 0h1m-6 1h1m4 0h1m-9 1h1m5 0h1m1 0h1m-10 1h1m2 0h1m1 0h1m3 0h1m-3 1h1m1 0h1m-11 1h2m2 0h1m2 0h1m-7 1h1m8 0h1m-11 1h2m1 0h1m3 0h1m1 0h1m-3 1h1m2 0h1m-8 2h1m2 0h1m1 0h1m-9 1h1m9 0h1m-9 1h1m2 0h1m-2 1h1m4 0h1m-8 1h1m1 0h1m-3 1h1m1 0h2m-4 1h1m-1 1h1m4 0h1m-7 1h1m1 0h2m4 0h1m-9 1h1m2 0h1m1 0h1m2 0h1m-3 1h1m-8 1h3m4 1h1m-8 2h1m1 0h1m3 0h1m-7 1h2m1 0h1m2 0h1m3 0h1m-8 1h1m-4 1h1m1 0h1m7 0h1m-5 1h1m-5 1h1m4 0h1m2 0h1m-11 1h1m1 0h1m5 0h1m-2 1h1m-1 2h2m-7 1h1m1 0h1m5 1h1m-7 1h1m2 0h1m2 0h2m-11 1h1m5 0h2m2 0h1m-4 1h1m1 0h1m-11 2h1m9 0h1m-11 1h1m3 0h1m5 0h1m-11 2h1m6 0h1m2 0h1m-11 1h1m6 0h1m-8 1h1m7 0h1m1 0h1m-10 1h1m8 0h1m-10 2h1m8 0h1m-7 1h4m-7 1h1m3 0h1m1 0h1m-7 1h1m4 0h1m3 0h1m-10 1h1m5 0h1m2 0h2m-9 1h1m1 0h3m-8 1h1m5 0h1m-4 1h1m1 0h1m-5 1h1m7 1h1m-5 2h1m-5 1h1m1 0h1m1 0h2m-6 1h1m5 0h1m1 0h1m1 0h1m-3 1h1m-9 1h1m-1 1h1m3 0h2m-7 1h1m1 1h1m6 0h1m-10 1h1m1 0h1m3 0h1m-7 1h1m1 0h1m1 0h1m0 1h1m-6 1h1m3 0h2m-6 1h1m1 0h1m2 0h1m2 0h1m1 0h1m-5 1h1m4 0h1m-7 1h1m-6 1h1m6 0h1m2 0h1m-11 1h1m3 0h1m1 0h1m1 0h1m1 0h2m-2 2h2m-7 3h2m1 0h1m1 0h1m-10 1h2m2 0h1m-4 3h2m-4 1h1m1 0h1m2 0h1m2 0h1m2 0h1m-7 1h1m0 2h1m-7 1h1m5 1h1m3 0h1m-1 1h2m-12 1h1m4 0h2m2 0h3m-12 1h1m1 0h1m2 0h2m2 0h1m1 0h1m-12 1h1m7 0h1m2 0h1m-5 1h2m1 1h1m-11 1h1m1 0h1m2 0h2m1 0h1m-9 1h1m5 0h1m-7 1h3m4 1h1m-4 1h1m3 2h1m-8 1h1m8 1h1m-10 1h1m4 0h1m1 0h1m2 0h1m-7 1h1m-1 1h1m-2 1h1m3 0h1m-6 1h1m1 0h1m1 0h1m-5 1h2m4 0h1m-2 1h2m-4 1h2m-5 1h1m3 0h2m-6 1h1m4 0h1m-9 1h1m3 0h3m2 0h2m-11 1h2m2 0h1m1 0h2m1 0h1m-3 1h1m-7 1h1m1 0h1m1 0h1m-6 1h1m1 0h2m5 0h1m1 0h1m-6 1h1m-2 2h1m4 0h1m-5 1h1m-1 1h1m3 0h2m-12 1h1m1 0h2m2 0h1m3 0h2m-7 1h1m-1 2h1m-4 1h2m-3 3h1m1 0h1m0 1h2m2 0h1m-9 1h1m6 0h1m-6 2h2m1 0h1m-4 1h2m1 0h1m2 0h2m-10 1h1m1 0h1m4 0h2m-9 1h1m5 0h1m-6 1h1m9 1h1m-10 1h1m5 0h1m-2 1h1m2 1h1m-6 1h1m2 0h1m1 0h1m-4 1h1m-1 1h1m2 0h1m-5 1h1m1 0h1m1 0h1m-10 1h1m7 1h1m-9 1h1m2 0h4m-4 1h2m2 0h3m-6 1h1m1 0h1m1 0h1m1 0h1m-4 1h1m-5 1h2m2 0h1m-9 1h2m1 0h1m2 0h1m4 0h1m-4 1h1m-6 1h1m4 0h1m1 0h2m-9 1h1m1 0h1m-1 3h2m4 0h1m-10 1h1m1 0h1m3 0h1m-9 1h1m9 0h1m-11 1h1m6 0h1m3 0h1m-7 2h1m2 0h1m-2 1h1m1 0h3m-9 1h1m3 0h1m-8 1h3m-1 1h2m3 0h1m-8 1h1m3 1h3m1 0h2m-10 1h1m1 0h2m4 0h2m-9 1h1m5 0h1m1 1h1m-9 2h1m3 0h1m4 0h2m-12 1h1m4 0h1m3 0h1m-9 1h1m7 1h1m-8 1h1m6 0h1m0 1h1m-10 1h2m1 1h1m4 0h1m-8 1h1m4 0h2m-5 1h2m3 0h1m-6 1h1m4 0h1m-1 1h1m-5 3h1m-1 1h2m2 0h1m1 0h1m-6 1h2m-6 1h1m1 0h2m2 0h1m-9 1h1m4 0h1m5 0h1m-11 1h2m6 0h1m-5 1h1m5 0h1m-7 1h1m5 0h1m-1 3h1m-9 1h1m1 0h2m4 0h1m-9 1h1m1 0h1m1 0h1m-4 1h2m4 0h1m-8 1h1m-1 1h1m2 0h1m1 0h1m-9 1h1m-1 1h1m5 0h1m3 0h1m0 1h1m-11 1h1m1 0h1m2 0h1m4 2h1m-9 3h1m6 0h1m-11 1h1m3 0h1m3 0h1m1 0h2m-12 1h1m2 0h2m4 0h1m-10 1h1m3 0h1m3 0h1m-8 3h1m6 0h2m-9 1h1m4 0h1m-6 1h2m6 1h1m-7 1h2m-4 2h2m3 0h1m1 0h2m1 0h1m-11 1h1m6 0h3m-8 1h2m1 0h1m-3 1h1m4 1h1m-7 2h2m6 0h1m-12 1h2m1 0h1m4 0h2m-10 1h1m7 0h1m-9 1h1m7 0h1m-9 1h1m-1 1h1m5 3h1m-1 1h1m-5 1h2m4 0h1m-4 1h1m1 0h1m1 0h1m-5 1h2m-6 1h1m4 0h1m-7 1h1m-1 1h1m8 0h1m-8 2h1m4 0h1m1 0h1m1 0h1m-9 1h1m1 0h1m5 0h1m-9 1h1m2 0h1m2 0h1m-6 1h1m-1 1h1m4 0h3m-10 1h1m1 0h1m1 0h1m-4 1h1m2 0h1m1 0h4m-11 1h1m1 0h5m1 0h1m-5 1h1m1 0h1m-3 1h1m-4 1h1m1 0h1m-3 1h1m4 0h1m1 1h1m-10 1h1m3 0h1m1 0h1m1 0h2m-10 1h2m1 0h1m1 0h1m3 0h1m1 0h1m-2 1h1m-6 1h2m1 2h1m-9 1h1m1 0h1m3 1h1m-7 1h1m5 0h1m-6 1h1m2 0h1m-2 1h1m1 0h1m2 0h1m-9 1h1m7 0h1m-6 1h1m4 0h1m-7 2h2m4 0h1m-9 1h2m0 1h1m-3 1h1m1 0h1m4 0h1m-8 2h1m3 0h2m-3 2h1m-1 2h1m3 0h1m3 0h1m-12 3h1m5 0h2m2 0h1m-11 1h1m5 0h1m4 0h1m-4 1h1m-9 1h1m9 0h1m-4 1h1m1 0h1m1 0h1m-8 1h1m5 0h1m-11 1h1m5 0h1m-6 1h1m2 0h1m1 0h1m3 0h1m0 1h1m-11 4h1m8 0h1m-10 1h1m4 3h1m-5 1h1m1 0h1m1 0h1m1 0h2m-10 1h1m5 0h1m2 0h1m1 2h1m-2 1h1m-10 1h1m6 0h1m-5 1h1m2 0h2m-5 2h1m2 0h1m-4 1h1m-2 1h2m3 0h1m-6 1h2m2 0h2m2 0h1m-9 1h1m7 0h1m-8 1h1m4 0h1m-10 1h1m3 0h1m1 0h1m1 0h2m-10 1h1m2 0h1m4 0h2m1 0h1m-6 1h2m-4 1h1m2 1h1m-2 1h1m-7 1h1m5 0h1m-7 1h1m4 0h1m1 0h2m-9 1h1m4 0h1m-6 1h1m2 0h1m-3 1h2m3 0h1m-2 1h1m-3 2h3m-2 2h1m2 0h1m-7 1h1m1 0h1m2 1h1m-4 1h1m5 0h2m-11 1h1m10 0h1m-11 1h2m-2 1h1m4 1h2m-8 1h2m1 0h1m4 0h1m2 0h1m-12 1h2m4 0h2m1 0h1m-10 1h1m7 0h1m1 0h1m-4 2h2m1 0h1m-5 2h2m1 0h1m-9 3h2m6 0h3m-6 1h1m2 0h1m-4 1h1m2 0h2m-11 1h3m3 0h1m4 0h1m-8 1h2m3 0h1m-8 1h1m4 0h1m-7 1h1m1 0h2m1 0h1m4 0h1m-11 1h1m3 0h1m1 0h1m-4 1h2m3 0h1m-5 1h2m2 0h1m1 0h1m-7 1h2m2 0h1m-10 1h1m5 0h2m-6 1h1m1 1h1m1 0h1m1 0h1m2 0h1m-7 1h1m2 0h1m-7 2h1m2 0h1m-2 1h1m1 0h1m0 2h1m-3 1h1m-1 1h1m4 0h1m-4 1h1m-1 1h1m0 1h1m1 0h1m-4 1h1m1 0h1m1 0h1m-12 1h1m2 0h2m1 0h2m-4 1h1m1 0h1m2 1h1m-10 1h1m2 0h1m1 0h1m-5 1h1m1 0h1m4 0h2m-9 2h1m4 0h1m4 0h1m-6 1h2m-2 1h1m-3 1h1m1 0h1m4 0h1m-10 1h2m1 0h1m2 0h1m-8 1h1m0 1h1m1 0h1m3 0h4m-11 1h1m1 0h1m-2 1h1m4 0h1m-6 2h3m4 1h1m-4 1h1m-4 2h1m1 0h1m2 0h1m-9 1h1m7 0h1m1 0h2m-12 1h2m2 0h1m-2 1h1m1 0h1m4 0h1m-10 1h1m2 0h1m4 0h1m-10 1h1m2 0h1m2 0h1m2 0h1m-4 1h2m-8 4h1m9 0h1m-11 2h1m8 0h1m-10 1h1m7 1h1m-2 1h1m3 0h1m-1 1h1m-9 1h1m6 0h1m-11 3h1m1 0h1m6 0h1m-3 1h1m2 0h1m-7 1h1m2 0h1m-6 1h1m2 0h1m2 0h1m1 0h2m-5 1h1m-3 2h1m1 0h1m-5 1h2m4 0h1m-8 1h1m1 0h1m2 0h1m1 0h1m-9 2h1m1 0h2m2 0h1m2 0h1m-10 3h1m1 0h1m3 0h1m1 0h1m-7 1h1m5 0h1m-7 1h1m5 0h2m-8 1h1m1 0h1m2 0h1m1 0h1m-11 1h1m6 0h1m-8 1h1m10 2h1m-9 1h1m3 0h1m-6 1h1m4 0h1m1 0h1m1 0h1m-7 1h1m3 0h1m-7 1h1m6 0h1m-11 3h2m2 0h1m1 0h1m-7 1h3m3 0h2m-8 4h1m4 0h1m2 0h1m0 1h1m-8 6h1m2 0h1m-5 1h3m5 0h3m-11 1h5m3 0h1m-5 1h1m4 0h2m-6 1h1m3 1h1m0 1h1m-12 1h1m9 0h1m-11 1h2m8 0h1m-11 1h1m-1 1h1m9 0h2m-2 2h1m-9 1h1m1 0h1m5 0h2m-12 1h1m6 0h1m-1 1h1m1 1h1m-10 1h1m6 0h1m1 0h1m-8 1h1m6 0h1m-8 1h2m2 0h1m1 0h1m-9 1h1m4 0h1m-6 1h1m5 2h1m-1 1h1m4 0h1m-6 1h1m4 0h1m-12 1h1m-1 1h1m1 0h1m4 1h1m3 0h1m-12 1h1m1 0h1m8 0h1m-10 1h1m1 0h1m1 0h3m-6 1h1m1 0h1m3 0h1m-4 1h1m2 0h1m-8 1h1m-1 1h1m2 0h1m2 0h1m2 0h1m-12 1h2m3 2h1m1 0h1m1 1h1m-6 1h1m-5 1h1m2 0h1m2 0h2m2 0h1m-11 2h1m-1 1h1m3 0h2m3 0h1m-8 2h1m2 0h1m-5 1h1m1 0h1m-4 1h1m10 0h1m-11 1h1m2 0h2m3 0h1m-9 1h1m-1 1h1m1 0h2m1 0h2m1 0h1m-6 1h1m-4 1h1m-2 1h3m0 1h1m4 0h1m-2 1h1m1 0h1m-10 1h1m3 0h2m-2 1h1m5 0h1m-11 1h1m-1 2h1m5 0h1m1 1h1m-9 1h1m4 0h1m2 0h1m1 0h1m-11 1h1m4 0h4m-9 1h1m2 0h1m1 0h1m1 0h1m1 0h1m-10 1h1m3 1h2m1 0h1m-8 1h1m4 0h1m1 0h1m1 0h2m-7 1h3m-4 1h1m4 0h1m-9 1h1m2 0h1m3 0h2m1 0h1m-1 1h1m-6 1h1m5 0h1m-6 1h2m-5 1h1m2 0h1m2 0h2m-10 1h1m8 0h2m-12 2h2m1 0h4m2 0h3m-12 1h1m2 0h1m2 0h1m4 0h1m-4 1h1m1 0h1m-4 1h1m1 0h2m-9 1h1m2 0h1m-4 3h2m3 0h1m-5 1h1m6 0h1m-1 1h1m-9 1h1m6 0h1m0 2h1m0 1h1m-12 1h1m8 0h2m-1 1h2m-10 1h2m5 0h2m-11 2h1m1 0h1m2 0h2m3 0h2m-12 1h1m-1 1h1m8 0h1m-1 1h1m1 0h1m-11 1h1m4 1h1m1 1h1m-6 1h1m4 0h1m-5 1h2m2 0h1m-9 2h1m6 0h1m-1 2h1m1 0h2m-4 1h2m-9 1h1m6 0h1m2 0h2m-4 1h1m-8 1h1m1 1h1m1 0h1m2 0h1m-1 1h1m-9 1h2m1 0h1m4 0h1m2 0h1m-11 1h1m6 0h1m-1 2h1m2 0h1m-11 1h1m2 0h1m3 0h1m-9 1h1m2 0h1m3 0h1m-7 1h2m4 0h1m-6 1h1m4 0h1m1 0h2m-10 1h1m3 0h1m4 0h1m-2 1h2m-2 1h2m-8 1h1m1 0h1m5 0h1m-11 2h1m2 0h1m-4 1h1m-1 2h1m-1 1h1m0 1h1m-1 1h1m2 0h1m1 1h1m2 1h1m-11 1h1m6 0h1m2 0h1m-9 1h1m-3 1h1m1 0h1m3 0h2m1 0h2m-10 1h1m3 0h1m1 0h2m-9 1h1m10 1h1m-7 1h1m-3 1h1m2 0h1m4 3h1m-3 3h1m-2 2h1m-6 1h1m2 0h2m1 0h1m-7 1h1m4 0h1m-2 3h1m-8 1h2m4 0h2m3 0h1m-12 1h1m8 0h1m-10 1h1m6 0h1m-2 1h2m-6 1h1m2 0h1m-4 5h1m8 0h1m-5 1h1m-8 1h1m10 0h1m-9 2h1m6 0h1m-9 1h2m2 0h1m4 0h1m-9 1h1m7 0h1m-12 2h1m1 0h1m1 0h1m5 0h2m-8 1h1m-2 1h1m-2 1h1m1 0h1m4 0h2m-11 1h3m2 0h2m2 0h1m1 0h1m-2 1h1m-8 1h1m2 1h1m1 3h1m-8 1h3m1 0h1m2 0h1m-4 1h1m4 0h2m-7 1h1m4 0h1m-9 2h1m7 0h2m-10 1h3m3 0h1m2 0h1m-6 1h1m1 0h1m2 0h1m-12 1h1m2 0h2m5 0h2"/></g>
<g transform="translate(228.70 1124.60) scale(9.1727 2.0054)" fill="none" stroke-width="1"><path stroke="#F46D43" stroke-opacity="0.5" d="M5 10.5h1m-5 31h1m8 324h1m-8 1h1m0 5h1m-1 15h1m2 53h1m0 3h1m-8 17h1m2 90h1m-3 21h1m-3 46h1m3 0h1m-4 1h1m3 7h1m-1 6h1m-1 28h1m-4 45h1m-1 1h1m6 10h1"/><path stroke="#FDAE61" stroke-opacity="0.36" d="M2 1.5h1m-2 5h1m8 2h1m-11 2h1m4 5h2m1 0h2m-3 1h1m-5 1h1m5 14h1m-1 3h1m-9 2h1m3 0h1m2 1h1m-4 3h1m-1 1h1m-5 1h1m2 2h1m3 0h1m-8 1h1m6 0h1m1 2h1m-9 4h1m1 0h1m5 2h1m-10 287h1m2 1h1m-5 1h1m8 4h1m-10 1h1m8 0h1m-2 7h1m-2 1h1m-5 1h1m3 0h1m-5 1h1m3 0h1m-8 1h1m2 0h1m3 0h1m-5 6h1m6 0h1m-9 1h1m0 2h1m1 0h1m0 3h1m-5 1h2m1 1h2m2 0h1m-7 13h1m-1 4h1m-1 3h1m1 3h1m-6 5h3m-3 12h1m9 0h1m-8 5h1m3 1h2m-1 1h1m-1 7h1m-9 2h1m7 1h1m-9 3h1m5 5h1m3 0h1m-10 1h1m4 0h1m1 0h1m-7 1h1m5 0h2m-4 2h1m-1 1h1m2 1h1m0 4h1m-1 7h1m-1 7h1m-8 8h1m1 5h1m-1 2h1m-4 4h1m4 7h1m1 0h1m-8 2h1m7 29h1m-3 31h1m-4 9h1m4 2h1m-6 7h1m1 2h1m-1 1h1m-8 3h1m-1 1h1m5 2h1m-2 4h1m1 0h1m2 0h1m-7 1h1m5 3h1m-7 4h1m4 5h1m-1 1h1m-3 10h1m2 5h1m-1 2h1m-11 4h2m-1 1h1m1 0h1m3 0h2m-9 1h1m2 0h2m-4 1h1m2 0h1m2 0h1m2 0h1m-10 5h1m8 4h1m-1 5h1m-1 2h1m-1 1h1m-1 5h1m-11 3h1m9 0h1m-7 7h1m2 0h1m-6 1h1m3 0h1m-2 1h1m-2 2h1m-5 6h1m4 0h1m3 0h1m-8 8h1m1 12h1m4 0h1m-9 4h1m5 0h1m1 1h1m-10 11h1m4 0h1m-2 2h1m0 1h1m-4 1h1m-1 1h1m1 0h1m-5 2h1m-1 2h1m1 0h1m1 0h1m-3 1h1m-3 5h1m4 2h1m0 4h1"/><path stroke="#FDAE61" stroke-opacity="0.2" d="M2 .5h1m-3 1h1m3 0h1m1 0h1m2 0h1m-10 1h1m8 0h1m-10 2h2m1 0h1m2 0h1m-6 1h1m3 1h1m-2 2h2m-2 1h1m-1 1h1m-5 2h1m4 1h1m-4 2h1m1 0h1m2 0h1m-5 1h1m1 0h1m-3 2h1m5 0h1m-3 1h1m-7 7h1m1 0h1m1 0h1m2 0h1m-6 1h1m0 4h1m-2 3h2m3 0h1m-8 1h1m1 0h2m4 0h1m-7 1h2m1 0h1m1 0h3m-8 2h1m-1 1h1m2 0h1m1 0h1m-8 1h1m1 1h2m1 0h3m-3 1h2m-7 1h1m4 0h3m-8 1h1m1 0h1m2 0h2m-2 1h1m-7 1h1m7 0h1m1 0h1m-10 2h1m6 0h1m1 0h1m-11 1h1m2 0h2m3 0h1m1 0h1m-9 1h1m1 0h1m5 0h1m-1 1h1m-4 1h1m-8 1h3m3 0h1m1 0h1m-2 1h1m2 18h1m-1 1h1m-3 12h1m-4 29h1m1 5h1m-7 12h1m5 1h3m-7 8h1m-3 5h1m4 0h1m0 8h1m-1 51h1m-6 3h1m3 13h1m1 19h1m-6 23h1m-1 16h1m-4 7h1m5 20h1m-2 6h1m-3 29h1m1 0h1m-6 1h2m3 0h1m-4 1h1m1 0h1m-5 1h1m1 0h1m1 0h1m1 1h1m-7 2h1m-1 2h1m9 2h1m-3 2h1m-6 1h1m-1 1h1m1 1h1m2 0h1m1 0h1m-6 1h1m2 0h1m-9 1h1m6 6h2m1 0h1m-9 1h1m-2 1h1m1 0h1m1 0h2m1 0h2m-10 1h3m6 0h2m-9 1h1m3 0h1m2 0h1m-7 1h1m2 0h1m2 0h1m-4 1h1m-5 1h1m3 1h1m-7 1h2m4 5h1m-2 1h1m1 1h1m-3 1h1m3 0h1m-6 5h1m-3 1h1m2 0h2m-3 2h1m-1 1h1m1 0h2m-5 1h1m3 1h1m-6 5h1m2 0h3m-2 3h1m1 0h1m-2 1h1m-8 1h1m0 1h2m-3 3h1m1 2h1m2 0h1m-5 3h1m2 0h1m-4 2h1m3 0h1m-3 1h1m-3 4h2m4 0h1m-6 1h1m1 0h3m-7 1h1m2 0h2m1 0h1m-3 2h1m3 0h1m-9 5h1m7 1h1m-8 2h1m3 3h2m1 0h1m1 0h1m-1 1h1m-1 2h1m-7 1h2m2 0h1m-4 1h1m2 0h1m-7 1h1m2 0h1m-6 1h2m1 0h2m1 1h1m3 0h1m-9 1h2m4 0h1m-5 1h2m-2 1h1m2 0h2m-9 2h2m2 0h3m1 0h1m1 0h1m-7 1h1m2 0h1m2 0h1m-11 1h1m3 0h1m-2 3h1m6 0h1m-7 1h1m-4 2h1m-1 1h1m-1 1h1m6 0h1m-8 1h1m5 0h1m2 0h1m-10 2h1m8 1h1m-10 1h1m-1 1h2m5 0h1m-1 1h1m1 0h1m-2 1h1m-9 1h1m-1 2h1m2 0h1m3 0h1m1 3h1m-7 1h1m3 0h1m-5 2h1m0 1h1m-5 1h1m2 0h1m0 1h1m0 1h1m-6 4h1m0 1h1m2 0h2m3 0h1m-6 2h1m-2 3h1m1 0h2m1 0h1m-8 1h2m1 0h1m3 1h1m-8 2h1m3 3h1m-1 1h1m3 1h1m-11 1h1m1 4h1m3 0h1m-7 1h1m3 0h1m-5 2h1m6 1h1m-5 1h1m1 3h1m-6 1h1m2 0h1m1 0h3m-1 1h1m0 3h1m-6 3h1m-1 1h1m-3 1h1m1 0h1m-3 3h1m4 4h1m-6 7h1m1 0h1m-4 6h1m4 0h1m-1 1h1m4 2h1m-10 2h1m7 4h1m-6 1h1m0 1h1m-3 1h2m3 1h1m-7 1h1m1 2h1m3 0h1m-7 1h1m1 4h1m1 0h1m-2 1h2m-2 1h1m4 0h1m-6 1h1m-1 1h1m-5 1h1m3 1h1m-6 2h3m-1 1h1m3 0h1m1 0h1m-9 1h1m-1 1h1m4 0h2m2 0h2m-11 1h1m2 0h3m-5 1h1m2 2h1m1 0h2m-4 3h1m2 0h1m2 0h1m-11 1h1m3 0h1m-2 2h2m-5 1h2m1 0h1m1 0h1m1 0h1m2 0h1m-7 1h1m-4 2h1m2 0h1m2 1h1m1 3h1m-10 3h1m-1 2h1m9 2h1m-8 2h1m1 0h1m-1 1h1m4 0h1m-6 2h1m-3 2h1m2 0h1m-2 1h1m1 0h1m1 0h2m-8 1h1m5 0h1m-4 1h2m1 0h1m-7 1h1m2 0h1m-5 3h1m-3 2h2m3 0h3m-4 4h1m4 0h2m-6 1h2m3 0h1m-9 1h1m3 0h1m1 0h3m-11 1h1m5 0h1m1 0h2m-3 1h1m1 0h1m-4 1h1m3 1h1m-10 1h2m3 0h1m2 0h2m-2 1h2m-6 2h1m-1 1h1m4 0h1m-11 1h1m-1 2h1m8 0h1m-7 1h1m5 0h1m-5 1h1m3 0h2m-8 1h1m1 2h1m-5 1h2m7 1h1m-7 1h1m4 0h2m-2 3h1m0 1h1m-11 1h1m4 1h1m2 0h2m-2 1h2m-1 1h1m-1 1h1m-1 1h1m-10 2h1m3 0h1m-5 1h1m1 0h1m6 0h1m-9 1h1m3 0h1m-4 1h2m-2 2h1m2 2h1m-1 1h1m-3 1h2m4 0h1m-1 1h1m-8 1h1m4 0h2m-2 2h1m-1 4h1m-7 2h1m2 0h1m3 0h2m-7 1h3m1 0h1m-1 3h1m-7 3h1m-2 4h1m3 0h1m-5 1h1m2 0h1m3 1h1m1 0h1m-8 1h1m4 0h1m1 0h1m-8 1h1m4 0h1m1 0h1m-10 1h1m1 0h1m2 0h1m4 0h1m-4 1h1m-7 4h1m2 0h1m2 0h1m-4 5h1m1 1h1m-3 1h1m5 0h1m-9 2h1m2 0h1m4 0h1m-5 1h1m1 0h1m-3 1h1m-1 1h1m-5 1h1m1 1h1m2 0h1m-8 1h1m3 0h1m2 0h1m2 0h1m-4 1h1m1 0h1m-10 2h1m4 0h1m1 0h1m-3 1h1m-1 1h1m-1 1h1m-1 1h1m-4 2h1m6 0h1m-6 1h2m4 0h1m-11 2h1m1 2h1"/><path stroke="#FDAE61" stroke-opacity="0.09" d="M3 .5h1m5 0h1m-3 1h2m1 0h1m-8 1h1m-4 1h2m1 0h1m2 0h1m-4 2h2m4 0h1m-8 1h3m3 0h2m-6 1h2m3 0h1m-10 2h1m9 3h1m-11 2h1m4 0h1m-5 1h1m1 0h1m5 1h1m-9 1h1m4 0h1m1 0h2m-7 2h1m4 0h1m-4 2h1m2 1h1m1 1h1m-6 2h1m4 0h1m-1 1h1m-6 1h1m-5 1h1m6 0h1m0 2h1m-7 1h1m-3 2h1m1 0h1m3 0h2m-8 1h1m4 0h1m-5 1h1m2 0h4m-7 1h1m4 0h1m-7 1h1m2 0h3m2 0h2m-10 1h1m3 0h5m-9 1h1m3 0h1m0 1h2m-6 1h1m6 0h1m-7 1h1m1 0h1m-6 1h1m2 0h1m-2 1h1m2 1h1m1 0h1m-5 1h2m-5 1h1m1 0h1m1 0h1m3 0h1m-4 1h1m0 1h1m-6 1h1m5 0h1m1 0h1m-10 1h1m2 0h1m6 1h1m-8 1h1m-2 1h1m-3 6h1m5 0h1m3 0h1m-5 3h2m-5 2h1m6 0h1m-8 2h1m0 5h1m1 4h1m1 0h3m-6 1h1m3 0h1m-10 4h1m1 0h1m6 0h2m-11 3h1m1 0h1m3 0h1m-7 1h1m1 0h1m2 0h3m1 0h1m-10 1h1m4 0h2m1 0h1m-2 2h1m2 0h1m-11 1h1m3 0h1m5 0h1m-5 1h1m-3 1h1m-1 1h1m-1 3h1m-1 1h1m-1 1h1m-1 1h1m1 0h1m3 0h1m-11 2h2m-1 1h1m0 2h2m2 3h1m2 0h1m-5 1h2m-6 1h1m1 0h1m1 0h1m4 0h1m-10 3h1m2 1h2m4 0h1m-10 1h1m1 0h4m2 0h1m-8 1h2m2 0h1m-7 1h1m6 0h1m-8 1h1m5 0h1m-4 3h1m4 4h2m-9 3h1m-2 2h1m2 0h1m2 0h1m-7 1h1m2 0h1m2 0h1m-5 2h1m2 0h2m2 0h1m-9 1h5m-5 1h1m5 0h1m-6 1h1m-2 1h2m-1 1h1m-1 1h1m-2 2h1m0 1h1m1 0h2m3 0h1m-8 1h1m1 0h1m3 0h1m-9 1h1m1 0h1m1 0h1m-1 1h2m0 3h1m-7 3h2m-1 1h1m4 0h1m-1 1h1m-7 1h1m1 0h2m-2 2h1m-3 1h1m6 2h1m-3 1h1m1 0h2m-4 2h1m-2 3h1m2 0h2m-9 4h1m4 0h3m1 0h2m-1 5h1m-9 4h1m-2 5h1m-2 1h1m5 2h1m1 0h1m-9 1h1m5 3h1m-5 5h1m3 0h1m-7 4h1m3 2h1m5 0h1m-6 1h1m4 0h1m-5 5h1m-1 1h1m-1 2h1m-1 1h1m3 0h1m-5 1h1m3 1h1m-2 1h1m-4 3h1m3 1h1m-5 3h1m1 3h2m-9 2h1m3 0h1m2 0h1m-8 1h1m3 0h2m-2 2h1m4 1h1m-7 1h1m-4 1h1m2 0h2m2 0h1m-8 1h1m2 0h2m2 0h1m-5 1h1m3 0h1m-5 6h1m3 0h1m1 0h1m-9 4h1m2 0h1m-5 1h1m7 0h1m-9 1h1m3 0h1m-1 3h1m1 0h2m-7 5h1m6 0h1m-8 1h1m4 1h1m1 0h1m-5 1h1m1 0h1m-5 3h1m-1 3h1m3 0h1m-3 2h1m-6 2h1m2 0h3m1 0h1m-6 2h1m3 0h1m-2 1h1m-4 9h1m7 0h1m-5 1h1m1 0h1m-7 1h1m5 0h2m-9 2h1m4 0h2m2 0h1m-10 1h1m1 0h1m-3 1h1m6 0h1m-6 1h1m2 0h1m1 0h1m-6 1h1m4 0h3m-11 1h2m4 0h1m2 0h1m-10 3h1m0 2h1m1 0h1m4 0h1m1 0h1m-11 2h1m1 0h1m0 1h1m-4 1h2m2 1h1m4 0h1m-8 3h1m-3 1h1m9 1h1m-11 1h1m2 0h1m6 0h1m-4 1h1m-6 2h1m4 0h1m2 0h1m-5 2h1m-2 3h1m-4 2h1m2 0h1m-1 2h1m3 0h1m-1 1h1m-9 2h1m3 3h1m3 2h1m-4 1h1m-5 2h1m-3 1h1m1 1h1m-2 1h2m6 0h1m-8 3h3m3 0h2m-7 1h1m-4 1h2m6 0h1m-1 1h1m-9 1h1m2 0h1m4 0h1m-6 1h1m2 0h1m-5 2h1m-3 2h1m3 0h1m2 0h1m1 0h1m-7 1h1m2 0h1m-4 1h1m3 0h1m-6 2h1m2 0h1m-4 2h3m1 0h1m1 0h1m-8 1h2m1 0h1m1 0h3m1 1h1m-11 1h1m8 0h1m-8 1h1m5 0h2m-10 1h1m9 1h1m-5 1h1m1 0h1m1 0h1m-9 1h1m2 0h1m1 0h1m-8 1h2m-2 1h3m7 0h1m-10 1h1m8 0h1m-9 1h1m5 0h1m-7 2h2m3 0h1m-6 2h1m4 0h1m-6 1h1m2 0h2m-3 1h1m3 0h1m-9 1h1m5 1h1m-4 4h1m1 0h1m2 0h1m-9 1h2m3 0h1m1 0h1m-5 1h1m4 0h1m-8 2h1m4 1h1m2 0h1m-10 1h1m5 0h1m1 0h1m-7 1h1m1 0h1m2 0h1m1 0h1m-10 1h1m2 0h1m2 0h2m2 1h1m-9 1h3m5 0h1m-2 1h1m-1 5h1m-8 1h2m1 0h1m-1 1h3m-8 1h1m1 0h1m2 0h1m-5 2h2m1 0h3m0 1h1m-6 1h5m-6 1h1m-2 2h2m-1 1h2m3 0h1m3 0h1m-5 1h1m2 0h1m-8 1h1m2 0h1m1 0h1m1 0h1m-6 1h2m2 0h2m-5 1h3m-8 1h1m4 0h3m1 0h1m-9 3h1m1 0h3m-6 1h2m1 1h1m6 0h1m-9 3h2m1 0h1m1 0h1m-5 1h1m3 1h1m-7 1h1m3 0h1m4 0h1m-10 2h3m-3 1h3m6 0h1m-7 1h1m3 0h1m-6 1h1m6 0h1m-10 1h2m7 0h1m-1 1h1m-10 1h2m3 0h2m2 0h1m-10 3h2m1 0h1m4 0h1m-3 1h1m1 0h1m-8 1h1m1 0h1m1 0h1m2 0h2m-7 2h2m2 0h1m-3 1h1m-7 1h1m7 0h1m-7 2h1m6 0h1m-10 1h1m1 0h1m5 0h1m1 1h1m-3 1h1m-9 1h1m5 0h1m3 0h1m-11 1h3m4 0h1m-8 1h1m2 0h1m6 0h1m-5 1h1m3 0h1m-4 1h1m1 0h1m-9 1h1m2 0h1m2 0h1m1 0h1m-9 1h3m3 0h1m-8 1h2m3 0h2m-1 1h1m1 0h1m-7 1h1m4 0h1m1 0h1m-10 1h1m2 0h1m4 0h2m-7 1h1m-1 1h1m6 0h1m-4 1h1m-5 2h1m0 1h1m2 0h1m1 0h1m0 1h1m-9 1h1m5 0h1m-7 1h2m-1 1h1m1 0h2m1 0h1m-8 1h1m1 0h1m4 1h1m-6 1h1m4 0h1m-7 1h1m4 0h2m1 0h1m-7 1h1m2 0h1m-7 1h1m4 1h1m1 1h1m-7 2h1m6 0h1m-10 3h3m2 0h1m-6 1h2m-1 1h1m2 0h2m3 0h2m-6 1h1m-6 2h1m2 0h1m2 0h2m1 0h2m-10 2h1m1 0h1m5 0h1m-5 3h1m-1 1h2m3 0h1m-8 1h1m1 1h1m1 0h1m2 0h1m-2 1h1m0 2h1m-10 1h3m-3 1h1m2 0h1m1 0h1m-5 1h1m2 0h3m2 0h1m-10 1h1m2 0h1m1 0h1m2 0h1m-9 1h1m4 0h1m-6 2h1m1 0h1m-1 1h1m-4 1h1m2 0h1m6 0h1m-11 1h2m6 0h1m-8 1h1m4 0h3m1 0h1m-10 3h1m5 0h1m-4 1h2m1 0h1m-5 1h1m1 0h1m-3 3h1m4 0h2m-10 1h1m7 0h1m-9 2h1m1 0h2m4 0h1m-8 2h2m5 0h1m1 0h1m-10 1h1m1 0h1m1 0h1m2 0h1m-8 1h1m1 2h1m-1 1h1m6 3h1m-7 1h1m-4 1h1m-1 1h1m1 0h1m-2 1h2m-3 1h1m1 3h1m4 0h1m-4 2h1m-6 2h1m0 1h2m-2 1h1m4 1h1m-4 1h1m-2 3h1m2 0h2m2 0h1m-8 2h1m-3 1h1m9 0h1m-6 3h1m4 0h1m-3 1h1m-9 1h1m3 1h1m3 1h1m-6 1h2m-2 1h1m1 0h1m2 0h1m-9 1h1m1 0h2m3 0h1m0 1h2m-6 1h2m1 0h1m-8 1h1m3 0h2m-4 1h1m1 0h1m-3 1h1m2 0h1m2 1h1m-4 1h1m2 0h1m-5 1h3m-7 2h1m2 0h1m1 0h1m-5 1h2m5 0h1m-8 1h1m4 0h1m-6 1h1m2 0h1m4 0h1m-9 1h1m7 0h1m-4 1h1m-7 1h3m3 0h1m2 0h1m-4 2h1m2 0h1m-10 1h1m4 0h1m3 0h1m-9 1h2m2 0h2m1 0h1m-6 1h1m-3 1h1m6 0h2m-10 1h1m3 1h2m-5 1h1m3 0h1m3 0h2m-11 1h1m5 0h2m-7 1h1m1 0h1m3 0h1m2 0h1m-11 1h1m2 1h1m1 0h4m-6 1h1m1 0h1m2 0h1m-9 1h2m4 1h1m1 0h1m-9 1h1m4 0h1m-6 2h1m2 0h1m3 0h1m-8 1h1m3 0h1m5 0h1m-2 1h2m-8 1h1m3 0h1m1 0h1m0 1h1m-8 1h1m5 0h1m-1 1h1m-6 1h1m4 0h1m-4 1h1m-2 1h3m2 1h1m-5 1h1m2 0h1m-1 1h1m-4 1h1m-7 1h1m5 0h1m2 0h1m-10 1h1m2 0h1m6 0h1m-11 1h1m2 0h2m-5 2h1m9 0h1m-8 1h2m3 0h1m-4 1h1m4 0h1m-8 1h1m4 0h1m1 0h1m-4 1h1m1 0h1m-4 1h1m1 0h1m-3 3h1m3 0h1m-9 1h1m5 0h1m-3 2h1m2 0h2m-4 2h1m-6 1h1m6 0h1m-3 1h1m-6 1h1m-3 1h1m5 0h1m1 0h1m1 0h1m-4 1h4m-2 1h1m-3 1h1m-3 1h2m1 0h1m-8 1h1m5 0h1m-7 1h1m1 0h1m-3 1h1m1 0h1m-2 1h1m2 0h1m-5 2h1m1 0h1m1 0h2m1 0h1m1 0h1m-11 1h1m9 0h1m-11 1h1m2 0h1m5 1h1m-10 1h1m8 0h2m-8 1h1m4 0h1m-2 1h1m1 0h1m-10 2h1m7 0h1m1 1h1m-3 1h1m-9 1h1m1 0h1m3 0h1m-3 1h2m-2 1h1m4 0h2m-9 1h1m3 0h2m-4 1h1m1 0h1m3 0h1m-11 2h1m9 0h1m-9 1h1m1 0h1m2 0h2m-7 2h1m3 0h2m-7 1h1m8 0h1m-11 1h1m2 0h2m2 0h1m-2 1h1m2 0h1m-8 1h1m3 0h1m-2 1h1m-2 1h1m-2 1h2m2 0h1m-2 1h1m2 0h1m-3 1h1m-8 1h1m1 0h1m2 0h1m2 0h1m-8 1h1m2 0h1m5 0h1m-11 1h1m3 0h1m2 0h1m-8 1h1m3 0h2m-6 1h2m-2 1h1m-1 4h1m2 0h1m1 0h1m1 0h1m-6 1h1m3 0h1m0 2h1m1 0h2m-2 1h2m-2 2h1m-1 1h1m-8 1h1m1 0h1m4 0h1m-6 1h1m4 0h1m-2 1h1m-4 1h1m-4 1h1m2 0h1m1 0h1m-4 1h2m-1 1h1m-6 1h1m2 0h1m1 0h1m4 0h1m-2 1h1m-4 3h2m-1 1h1m-2 1h1m2 0h2m-1 3h1m-9 1h1m2 1h1m-6 1h1m1 0h1m1 0h1m4 0h1m-4 1h1m-2 1h1m-5 1h1m5 0h2m-7 1h1m1 0h1m-1 1h2m1 0h2m-9 1h1m4 0h1m1 0h3m-10 1h1m3 0h1m2 0h1m-7 1h1m-1 1h1m1 0h1m1 0h1m-3 1h1m2 0h1m3 0h1m-11 1h1m6 0h1m1 0h1m-8 1h1m1 0h1m2 1h1m-4 1h1m1 1h1m0 1h1m-3 1h1m-4 2h1m3 0h1m-7 1h1m3 0h1m1 0h1m2 0h2m-5 1h1m2 0h2m-11 1h1m8 0h2m-2 1h1m-8 1h1m3 0h1"/><path stroke="#C6E2F5" stroke-opacity="0.8" d="M10 17.5h1m-11 4h2m-2 3h1m5 0h2m1 0h2m-4 23h1m-7 8h1m-1 4h1m3 2h1m-5 1h1m3 0h1m-4 2h1m-2 4h2m3 0h1m2 0h1m-5 1h1m3 4h1m-8 1h2m-2 1h1m0 18h1m-4 1h1m2 0h1m1 0h1m3 0h2m-2 1h1m-3 7h1m-1 1h1m-6 6h1m-1 2h1m-1 6h1m-1 1h1m2 0h3m-3 7h1m-2 2h1m-1 11h1m2 8h1m-4 1h1m2 0h1m1 0h2m-7 1h1m2 0h1m1 5h1m-10 6h1m1 0h1m3 0h1m2 0h1m-3 2h1m-3 4h1m-5 1h1m1 0h1m-2 3h1m5 0h2m-2 1h1m-4 2h1m-1 1h1m1 1h1m-3 1h1m4 0h1m-6 5h1m2 0h1m-7 1h1m5 0h2m-3 4h1m-1 2h1m-4 2h1m4 0h1m-3 1h1m-6 1h1m0 4h2m3 0h1m-5 1h2m-3 2h1m-3 6h1m0 2h1m0 5h1m-4 1h1m1 0h1m-1 1h1m2 1h1m1 0h1m-7 2h1m5 0h1m-7 1h2m2 0h1m-5 1h2m1 0h1m4 0h1m-9 1h1m2 0h1m4 0h1m-5 2h1m-4 6h1m6 0h1m-8 2h1m6 5h1m-10 2h1m-1 1h1m-1 1h1m-1 1h1m-1 1h1m2 0h1m-4 1h1m-1 2h1m9 2h1m-1 1h1m-8 2h1m2 0h1m-1 5h1m2 6h1m-9 15h1m5 0h2m-5 1h1m2 0h1m-5 5h1m3 0h1m-1 12h1m2 0h1m-3 5h1m-8 1h1m-1 3h1m-2 2h1m2 1h1m6 5h1m-7 1h1m5 0h1m-8 5h1m-1 1h1m2 3h1m-7 5h1m2 0h1m6 0h1m-3 5h1m-1 10h1m-3 10h1m-2 12h1m-2 8h1m2 13h1m-7 1h1m6 20h1m0 4h1m-1 2h1m-1 1h1m-4 1h1m-1 3h1m-2 50h1m4 14h1m-3 12h1m-5 1h1m-1 15h1m-1 1h1m-1 1h1m-1 6h1m-5 1h1m3 0h1m1 0h1m1 0h1m-3 1h1m-7 1h1m0 7h1m0 1h1m0 16h2m4 17h1m-1 25h1m-8 3h1m-1 6h1m5 0h1m-7 4h1m-1 43h1m7 8h1m-1 6h1m-1 2h1m-6 11h1m3 1h1m-4 6h1m-3 13h1m3 5h1m-8 2h1m-2 19h1m2 2h1m-3 2h1"/><path stroke="#D6ECFA" stroke-opacity="0.55" d="M8 8.5h2m-4 1h1m-6 2h2m3 0h1m-6 1h1m0 1h1m3 0h1m-3 1h1m-5 4h1m3 3h1m-5 2h1m6 0h1m1 0h1m-9 1h3m1 0h1m-2 3h1m-1 2h1m4 0h1m-9 1h1m2 0h1m5 0h1m-6 1h1m-1 1h1m4 0h1m-1 1h1m-1 7h1m-2 3h1m-1 1h1m-1 2h1m-8 9h1m2 0h4m-8 1h1m3 1h1m3 0h1m-9 1h1m5 0h1m-7 2h1m0 1h1m4 3h1m-6 1h1m-3 2h1m1 0h1m3 0h1m-3 1h1m1 1h1m1 0h3m-10 1h1m1 0h1m-4 4h1m6 0h2m-6 4h1m3 0h1m2 0h1m-8 1h1m-4 1h1m8 8h1m-8 3h1m-2 2h1m-1 1h2m3 0h3m-6 1h1m4 0h1m-1 1h1m-1 1h1m-7 2h1m-1 2h1m4 0h1m-6 1h1m4 2h1m-1 1h1m0 2h1m-7 3h1m4 0h2m-1 1h1m1 0h1m-9 1h1m7 2h1m-7 1h1m-5 2h1m6 0h1m-8 1h1m3 0h1m5 0h1m-5 1h1m3 0h1m-5 4h1m-3 1h1m1 0h1m-6 1h1m2 0h1m3 0h1m-5 3h1m2 0h2m-5 2h1m5 0h1m-8 7h2m3 0h1m-4 1h1m3 0h1m-5 1h1m4 5h1m-11 2h1m3 0h1m4 0h2m-11 1h1m7 0h1m-6 1h1m1 0h2m1 0h3m-1 1h1m-8 6h1m-1 1h1m-3 1h2m2 0h1m3 0h1m-8 3h1m-1 1h1m6 0h1m-5 1h1m-1 1h1m-3 1h1m1 0h1m1 0h1m-5 1h1m6 1h1m-7 2h1m3 0h1m-9 1h1m2 0h4m3 0h1m-4 1h1m-3 1h1m1 1h1m1 1h1m-10 2h1m4 1h1m-3 1h1m-1 1h1m5 0h2m-6 1h1m-3 1h1m2 0h1m2 0h2m-1 1h1m-3 1h2m-8 1h1m1 1h1m-4 1h1m5 1h1m-8 1h1m4 0h1m2 0h1m-6 1h1m-3 1h1m1 0h1m1 0h1m1 0h1m-8 1h1m7 0h1m-4 1h1m-3 1h1m3 2h1m-3 1h1m4 0h1m-9 1h2m2 0h1m1 0h1m-8 2h1m4 0h1m2 0h1m-8 3h2m-3 1h2m6 0h1m-9 1h2m6 0h1m-8 1h1m1 0h1m4 0h1m-10 1h1m0 1h1m5 0h1m-5 2h1m5 2h1m-9 2h1m1 0h2m-5 1h1m8 0h1m-8 1h1m1 0h1m2 1h1m-6 1h1m2 0h1m-3 1h2m2 0h1m1 0h1m-5 1h1m2 0h1m-7 1h2m-3 2h1m3 2h1m-2 3h1m2 0h1m-1 3h1m-6 5h2m6 0h1m-9 1h1m4 0h1m1 0h1m-3 1h1m1 1h1m-8 3h1m1 1h1m-5 1h1m3 1h1m-1 1h1m-5 1h2m2 0h1m1 0h1m-6 3h1m8 0h1m-8 2h1m6 0h1m-8 1h1m2 1h1m-3 1h1m-4 3h1m-1 1h1m7 1h1m0 1h1m-2 1h2m-1 1h1m-7 2h1m-5 1h1m3 0h1m2 3h2m-6 1h1m4 0h1m-6 1h1m4 0h1m-7 1h1m1 0h1m1 0h3m-1 1h1m-1 1h1m-3 1h1m-7 1h1m1 0h1m1 0h2m3 0h1m-10 1h2m4 0h1m-3 1h1m-5 4h1m1 0h1m1 0h1m-3 4h1m5 3h1m1 7h1m-3 7h1m-8 1h1m0 1h1m-3 1h1m1 0h1m0 2h1m0 2h1m-4 1h1m1 0h2m-5 1h1m-1 1h1m9 2h1m-5 1h1m-7 1h1m1 1h1m1 0h1m2 0h1m-5 4h1m2 0h1m3 0h1m-9 1h2m-2 1h2m-3 2h2m3 0h2m-5 2h1m3 0h1m1 1h1m-10 2h1m1 0h1m1 0h3m-1 3h1m2 5h1m-6 1h1m2 0h1m2 1h1m-5 3h1m0 1h1m1 0h2m-1 2h1m-5 5h2m-1 1h1m-7 1h1m2 0h1m2 0h1m-2 3h1m-1 1h1m-7 6h1m3 0h1m4 0h1m-10 6h1m3 0h1m5 0h1m-11 1h2m1 0h1m-1 5h2m2 0h1m2 2h1m-11 6h2m1 0h1m1 0h2m1 0h3m-6 1h3m-7 1h1m3 0h2m-6 1h1m8 2h1m-1 1h1m-11 2h2m-2 4h1m2 0h1m5 0h1m-10 1h1m2 0h2m3 0h1m-5 1h1m-1 2h1m4 8h1m-4 1h1m-1 1h1m-1 1h2m2 2h1m-8 1h1m4 1h1m-9 2h1m-1 5h1m4 0h1m0 2h1m-5 1h1m3 0h1m3 0h1m-8 7h1m3 0h1m-6 1h1m5 0h1m-2 1h1m-7 1h1m5 1h1m-5 10h1m-3 4h1m5 0h1m1 0h1m-10 1h1m7 0h1m-4 2h1m0 6h1m-7 2h1m4 4h1m-1 2h1m-6 2h1m2 0h1m5 0h2m-1 1h1m-2 4h1m-4 1h1m-5 2h1m3 0h1m-3 2h1m3 0h1m1 0h1m-10 1h2m1 0h1m2 0h2m-2 1h1m-4 4h1m-3 1h1m7 0h1m-11 7h1m7 0h1m-1 1h2m-8 5h1m3 0h1m-4 1h1m6 0h1m-1 4h1m-9 3h1m1 0h1m4 0h1m-9 1h2m3 0h1m-2 1h2m-7 1h1m-1 3h1m5 0h1m-1 1h1m2 0h1m-4 1h1m-6 1h1m4 0h2m2 0h1m-4 1h1m1 0h2m-3 1h1m0 1h1m-10 2h1m4 0h3m-3 1h1m1 0h1m1 5h1m-8 2h1m6 0h1m-10 1h3m1 3h1m2 0h2m-2 1h1m-8 2h1m6 0h1m-5 1h1m3 0h2m-1 1h1m-2 1h2m-8 1h1m5 1h1m-7 1h4m4 0h1m-9 1h1m3 0h2m2 0h1m-7 1h1m-4 3h1m1 0h1m4 0h1m-8 1h1m5 4h1m3 0h1m-11 3h1m9 0h1m-4 2h1m1 4h1m-3 3h1m-4 3h1m2 1h1m-4 1h1m-1 1h1m5 0h1m-3 4h1m1 0h1m-9 2h1m-1 1h1m-1 1h1m5 0h1m-7 1h1m-2 2h2m6 0h1m-5 4h1m2 0h1m-7 1h1m-1 1h1m2 1h1m0 1h1m-6 2h2m4 0h1m-6 2h1m1 1h1m-3 1h1m-2 2h1m-1 1h1m2 1h1m2 0h1m-5 1h1m-2 1h1m4 0h1m-6 2h1m3 0h1m-5 2h1m1 4h1m-4 1h1m1 0h2m-3 16h1m-1 4h1m4 0h1m-2 5h1m-1 4h1m-5 1h1m-2 1h1m1 0h1m2 0h1m-4 2h1m-1 1h1m0 3h1m2 0h1m-1 1h1m-7 7h1m-1 1h1m8 0h1m-11 1h1m7 0h1m1 1h1m-1 1h1m-5 1h1m2 4h1m0 1h1m-6 1h1m4 0h1m-6 1h1m4 0h1m-2 1h1m-10 1h1m3 0h2m4 0h1m-11 4h1m-1 1h1m5 2h1m-7 1h1m5 2h1m-1 1h1m3 3h1m-9 5h2m3 0h2m-9 2h1m7 1h1m-9 1h1m2 0h1m4 0h1m-5 1h1m3 1h1m-6 2h1m-1 3h1m-3 2h1m7 0h1m-9 2h1m-1 1h1m1 0h1m4 2h1m-1 2h1m1 3h1m-8 2h1m-1 1h1m-1 3h1m4 1h1m-6 2h1m-1 1h2"/><path stroke="#E4F3F8" stroke-opacity="0.35" d="M1 .5h1m6 0h1m-8 2h1m3 1h1m0 3h1m-7 1h1m2 0h1m6 0h1m-3 2h1m1 0h1m-7 2h1m4 0h2m-5 1h1m2 0h1m-9 1h1m2 0h1m3 0h1m1 0h1m-9 1h1m6 0h2m-11 3h1m3 0h2m-6 2h1m1 0h1m-3 1h1m2 1h1m4 0h1m1 0h1m-11 1h3m1 0h1m-4 1h3m2 0h1m1 0h1m-1 1h1m-9 1h1m3 0h1m2 0h1m1 0h1m-6 1h1m-5 1h1m1 0h1m-1 1h1m6 0h1m-10 1h2m3 0h1m4 0h1m-11 1h1m2 0h1m3 0h2m-7 1h1m4 0h1m2 0h1m-7 1h1m2 0h1m-8 3h1m1 2h1m-3 2h1m1 1h1m1 3h1m4 2h1m-4 2h1m2 2h1m-7 3h1m-4 3h1m3 0h1m0 1h1m3 0h1m-9 1h1m1 0h2m2 0h1m-8 1h1m2 0h1m-4 1h1m8 0h1m-5 1h1m-5 1h1m1 0h1m-4 1h1m0 2h1m2 0h1m3 0h3m-10 1h1m5 0h1m-1 1h1m-1 1h1m-8 1h1m2 0h1m1 0h1m1 0h2m-7 1h3m-5 1h1m1 0h1m2 0h1m3 0h1m-3 1h1m-7 2h4m-4 1h1m2 0h2m-6 1h2m1 0h1m2 0h1m-5 1h1m-2 2h2m3 0h1m3 1h1m-10 1h2m4 0h1m2 0h1m-10 1h1m1 1h1m-3 1h1m2 2h1m-4 2h1m7 0h2m-10 2h2m6 0h1m-9 2h1m1 0h1m-1 1h1m2 3h1m3 0h1m-6 4h1m-6 2h1m4 1h2m-2 2h1m-6 1h1m1 0h1m5 0h1m-9 1h1m1 0h1m4 0h1m-6 1h1m4 1h1m-1 1h2m1 0h1m-11 1h1m5 0h1m-7 1h1m8 0h1m-10 1h1m9 3h1m-9 1h2m5 0h1m-9 1h1m2 0h2m-5 1h1m1 0h1m4 0h2m-6 1h1m2 2h2m-8 2h1m-1 1h1m3 0h1m2 0h2m-8 1h1m3 0h1m2 0h2m-11 1h1m3 0h2m-6 1h1m6 0h1m0 2h1m1 0h1m-4 1h2m-9 3h1m5 0h1m1 0h1m1 0h1m-6 1h1m-2 1h1m-1 1h3m2 0h1m-5 1h1m1 0h1m-5 1h1m6 0h1m-7 1h1m4 5h1m-5 2h1m-6 2h1m1 0h1m2 1h1m-3 1h1m4 0h1m-6 3h1m2 0h1m1 0h1m-5 2h1m1 0h1m2 0h1m-4 1h1m2 0h1m-10 1h1m9 0h1m-10 2h1m2 0h1m3 0h1m1 0h1m-2 1h1m-5 1h1m-6 1h1m8 0h1m-10 1h1m8 0h1m-8 1h1m7 0h1m-2 1h1m-2 1h2m-10 2h1m8 0h1m-3 1h1m-3 1h1m3 0h1m-3 1h4m-8 2h2m2 0h1m2 0h1m-6 1h2m1 1h1m1 2h1m-6 1h1m-3 1h1m6 0h1m-11 1h3m4 0h1m-5 1h1m1 0h2m-5 1h1m1 0h1m-4 1h1m6 0h2m-7 2h1m1 0h1m3 0h1m-9 1h1m0 1h3m4 0h1m-10 2h1m9 0h1m-6 1h1m-5 1h1m5 0h1m-8 1h1m4 0h1m3 0h2m-6 1h1m-3 1h2m-4 1h1m4 0h2m-1 1h1m1 0h2m-9 1h1m1 0h1m-3 1h1m1 0h1m-3 1h1m-3 2h1m6 0h1m2 0h1m-4 1h1m2 0h1m-7 1h1m2 0h1m-2 1h1m-6 1h1m2 0h1m-5 1h1m0 1h1m0 1h1m4 0h1m-7 2h1m1 0h1m3 0h1m-8 1h3m4 0h1m-1 1h2m1 0h1m-10 1h1m3 0h1m1 0h1m-8 1h1m5 0h1m2 0h1m-9 1h1m1 0h1m1 0h1m-2 1h1m-5 1h1m7 0h1m-9 1h1m2 0h1m2 0h2m2 0h1m-11 1h1m4 0h1m2 0h1m-8 1h1m1 0h1m5 1h1m-4 2h1m-4 1h2m-3 2h1m6 0h1m-7 1h2m1 2h1m-5 1h1m7 1h1m-8 1h1m1 0h1m3 0h1m-9 1h1m1 0h1m-3 1h1m5 0h1m-5 1h1m1 0h1m-2 1h2m3 0h1m-7 1h1m3 0h1m-6 2h2m6 0h1m-1 1h1m-9 1h1m2 0h1m4 0h1m-3 1h1m-7 1h2m3 0h2m1 1h1m-9 1h1m4 0h3m-6 1h1m1 0h1m3 1h1m-2 1h1m-7 1h2m5 0h1m-10 1h2m3 0h3m-8 1h2m1 0h1m1 0h1m3 0h1m-8 1h2m-2 1h1m2 3h1m3 0h1m-1 1h1m-10 1h1m-2 1h2m2 0h1m1 0h1m1 1h1m-8 1h1m-1 1h1m2 0h1m5 0h1m-10 1h1m-1 1h1m3 2h1m1 0h1m-7 1h1m-1 1h1m5 0h1m-3 1h1m1 0h1m1 0h2m-6 1h1m-5 2h1m1 0h2m2 0h1m-8 1h2m3 0h1m1 0h2m-3 1h1m3 0h1m-9 1h2m1 0h1m3 0h1m-5 1h2m2 0h1m-1 4h1m-1 1h1m0 2h1m-7 5h2m1 0h1m2 0h1m-8 1h1m3 0h1m-7 3h1m1 0h4m-6 1h1m5 0h1m2 0h1m-9 2h1m7 0h1m-5 1h1m1 0h1m1 0h1m-6 2h2m-2 1h1m1 0h3m-5 1h1m1 0h2m-7 1h1m2 0h1m-4 1h1m5 0h1m-8 1h1m1 0h1m1 0h1m-1 1h1m-6 2h1m8 0h1m-9 1h1m1 0h1m-1 1h1m6 0h1m-11 1h1m5 0h1m1 0h2m-2 1h1m-3 2h1m1 0h2m-8 3h1m3 0h1m-1 1h1m1 0h1m1 0h1m-5 1h1m-4 1h1m2 0h1m-4 1h1m3 0h1m2 0h1m-9 1h1m-3 1h1m4 0h3m-7 1h1m3 0h1m-3 1h1m1 0h1m-2 1h2m2 0h1m-8 1h1m6 0h1m1 0h1m-7 1h1m4 0h1m-9 1h1m4 0h1m-4 2h1m3 0h1m1 0h1m-10 1h1m3 0h1m3 0h1m0 2h2m-4 2h1m-1 2h1m-8 1h1m2 0h2m2 0h2m-1 1h1m-3 1h1m1 1h1m1 1h1m-3 1h3m-3 1h1m-2 1h1m1 0h2m-10 1h2m2 0h1m1 0h1m-3 2h1m0 1h1m-6 1h1m3 0h1m1 0h1m-4 1h2m-3 1h4m-5 1h1m2 0h2m-3 1h1m-4 1h1m2 0h1m1 0h1m2 4h1m-8 1h1m1 0h2m1 0h2m-8 1h1m-2 1h2m4 0h2m1 0h1m-6 5h1m-1 1h1m2 0h1m-7 1h1m6 0h1m-2 1h1m2 0h1m-10 1h1m8 0h1m-9 2h1m1 1h1m5 0h1m-6 1h2m1 0h1m-8 1h1m1 0h1m1 0h1m4 0h1m-10 1h1m1 0h1m3 0h1m-7 2h1m-1 1h1m1 0h1m1 0h1m2 0h1m-6 2h1m3 0h2m1 0h1m-9 1h1m1 0h1m-5 1h1m8 0h1m-8 1h2m3 0h2m1 0h1m-4 3h2m-8 1h1m6 0h1m0 1h2m-9 1h1m5 0h3m-2 1h1m-2 1h2m0 1h1m-5 1h3m1 0h1m-4 1h1m1 0h2m-4 3h1m2 1h1m-7 2h1m5 0h1m-11 2h1m3 1h2m2 0h1m1 0h1m-3 1h3m-7 1h1m-1 1h1m3 0h1m-8 1h2m1 0h1m3 0h2m-10 1h1m2 0h1m6 0h1m-10 2h1m6 0h2m-4 1h1m-7 1h1m5 0h1m-7 1h1m4 0h1m2 0h1m-5 1h1m1 0h1m-1 1h1m2 1h1m-7 3h1m2 0h1m2 0h1m-10 1h1m-1 1h1m8 0h2m-8 1h1m1 0h1m1 0h1m-3 1h2m-4 1h1m1 0h1m4 0h1m-6 2h1m1 0h1m1 0h1m0 1h1m-8 1h1m1 1h1m1 1h1m-1 2h1m-7 1h2m-2 1h1m1 0h2m4 0h1m-7 1h1m-4 4h1m2 0h3m-1 1h1m-3 2h1m-2 1h1m7 0h1m-11 4h1m1 0h1m2 0h1m2 0h1m-7 1h1m-1 1h1m-3 3h1m2 0h1m-1 1h1m5 2h1m-6 1h1m4 0h1m-6 1h1m1 0h1m2 0h1m-8 1h1m2 0h1m3 0h1m-10 1h1m5 0h1m2 0h1m-10 4h1m3 0h1m4 0h2m-7 1h1m5 0h1m-4 2h1m-4 1h1m-3 2h1m3 1h1m-4 1h1m3 0h1m2 0h1m-9 1h1m1 0h1m2 0h1m1 0h2m-7 2h1m2 0h4m-7 1h1m5 0h1m-9 1h1m6 1h1m-6 1h1m5 0h1m-11 1h1m3 0h1m-5 1h2m2 0h1m-1 1h1m3 0h1m-9 1h1m5 0h1m-7 1h2m6 0h2m-9 1h1m5 0h1m-5 3h1m1 1h1m4 0h1m-2 1h2m-6 1h1m3 0h2m-7 1h1m5 0h1m-11 1h1m3 0h1m4 1h1m-8 1h1m2 0h1m1 0h1m1 0h1m-5 1h1m-6 1h2m1 0h1m1 0h1m1 0h4m-11 1h2m2 0h2m3 0h1m-6 1h1m4 2h1m-2 1h1m-7 1h1m6 0h1m-6 1h1m1 0h1m-2 1h2m-7 1h1m8 0h1m-9 1h1m5 0h1m-7 1h1m5 0h1m1 0h1m-6 2h1m-3 1h1m1 0h1m-5 1h4m3 0h1m-8 2h1m1 0h1m-2 1h1m3 0h1m-6 1h3m1 0h2m1 0h1m1 0h2m-6 1h4m-7 1h1m6 0h1m-8 1h1m1 0h1m4 0h2m-9 1h1m1 0h1m-1 1h1m1 0h1m-7 1h1m1 0h1m1 0h1m2 0h1m2 0h1m-11 1h1m2 0h1m3 0h1m-4 1h1m2 0h1m1 0h2m-10 1h1m8 0h1m-11 1h1m3 0h1m4 0h2m-11 1h2m1 0h2m-2 1h2m1 0h1m1 0h2m-9 1h1m2 0h2m2 0h3m-8 1h2m3 0h1m-9 1h1m1 0h2m0 1h1m4 1h2m-9 1h2m5 0h1m-10 1h2m2 0h1m1 0h1m3 0h1m-7 1h1m2 0h1m-7 1h2m1 0h1m4 0h1m-7 1h2m3 0h2m-9 1h1m1 0h1m4 0h1m-3 1h2m-8 2h1m1 0h1m1 0h1m1 0h2m-1 1h1m-6 1h1m4 0h1m-5 1h1m1 0h2m-5 1h2m1 0h3m-8 1h1m1 0h1m4 0h1m2 0h1m-5 1h1m3 0h1m-11 2h1m6 0h1m-7 2h1m-1 1h1m1 0h1m2 0h2m-1 1h1m2 0h1m-10 1h1m2 0h1m1 0h1m-4 1h1m3 0h1m-1 1h1m-6 1h1m4 0h1m-6 1h1m4 0h1m-1 1h1m-8 1h1m1 0h2m3 0h1m-8 1h1m1 0h1m5 0h1m-7 1h1m4 0h2m1 0h1m-8 1h1m4 0h1m-2 1h1m-5 1h2m5 0h1m-10 4h1m0 2h1m6 0h1m-2 5h2m-8 1h1m4 1h1m0 1h1m-7 3h1m2 2h2m-1 1h1m-5 1h1m5 0h1m-8 1h1m-1 2h1m3 0h1m1 0h2m-6 1h1m-3 1h1m3 0h1m1 0h1m-7 1h1m2 0h1m-3 1h1m4 0h1m-5 1h2m3 0h1m-9 1h1m3 0h2m1 0h1m2 0h1m-11 1h2m5 1h1m-4 1h1m1 0h1m1 0h1m-2 1h1m-4 1h1m2 0h1m1 0h1m-8 1h1m3 1h1m-6 1h2m-2 1h1m-1 1h1m2 0h1m-5 1h1m-1 1h1m1 0h1m4 0h4m-8 1h1m1 0h1m3 0h1m-7 1h3m3 0h1m-8 2h1m1 0h1m2 0h2m-1 3h1m-4 4h1m-2 1h1m-2 1h1m4 0h1m-4 1h1m2 0h1m-9 1h1m5 1h1m1 0h2m-10 1h1m1 0h1m-1 1h1m3 1h1m-7 1h2m2 0h3m2 0h1m-8 1h1m4 0h1m-6 1h1m4 0h1m-6 1h1m4 0h1m-7 2h1m5 0h1m-2 1h2m-2 1h1m-6 2h1m5 0h1m-7 1h1m1 0h1m3 0h2m0 1h1m-7 1h1m1 0h1m1 2h1m-6 2h1m-2 1h1m1 0h1m6 0h1m-5 2h1m-6 1h1m4 0h1m-4 5h1m3 0h1m1 0h1m-7 1h1m4 0h2m-9 1h1m1 0h1m1 0h2m-7 1h1m7 0h1m-1 1h1m-6 2h1m2 0h1m3 0h1m-10 2h1m1 0h1m2 0h1m3 0h1m-8 1h1m6 0h1m-9 1h1m2 0h1m-4 1h3m-3 1h2m-4 1h1m2 0h1m2 0h1m3 0h1m-10 1h3m2 0h1m1 0h1m1 1h1m-3 1h1m-9 1h2m4 0h2m-3 1h1m0 1h1m-7 1h1m2 0h1m4 0h1m-9 1h1m7 0h1m1 0h1m-5 1h1m-6 1h1m1 0h1m2 0h1m-6 3h1m4 0h1m3 0h1m-5 1h1m-1 1h1m1 0h1m-9 1h1m3 0h1m-1 3h1m3 0h1m-8 1h1m4 0h1m2 0h1m-7 1h1m4 0h1m-5 1h1m3 0h1m-6 1h1m1 0h1m-4 1h1m1 0h2m3 0h2m-5 1h1m-1 1h1m2 0h1m-4 1h1m-6 1h1m6 0h1m-6 1h1m-1 1h1m3 0h1m-1 1h1m-5 1h1m-3 2h1m4 2h1m1 0h1m1 0h1m-10 5h1m-1 1h1m1 0h1m6 0h1m-10 1h1m4 0h1m1 0h2m-3 1h1m2 0h1m-5 1h1m3 0h1m-7 1h1m1 0h2m1 0h1m-9 1h1m1 0h1m2 0h1m-6 1h1m-1 1h1m1 1h1m3 0h1m-7 1h2m-3 1h2m2 0h2m1 1h1"/></g>
<g transform="translate(335.20 1124.60) scale(9.1568 2.0054)" fill="none" stroke-width="1"><path stroke="#F46D43" stroke-opacity="0.5" d="M64 54.5h1m-32 57h1m-8 51h1m1 16h1m29 2h1m-7 30h1m8 93h1m-60 88h1m45 21h1m4 238h1m-48 36h1"/><path stroke="#FDAE61" stroke-opacity="0.36" d="M4 7.5h1m50 3h1m10 18h1m-16 2h1m-39 5h1m51 12h1m-25 19h1m-29 2h1m52 7h1m-37 4h1m-6 28h1m38 5h1m7 0h1m-54 5h1m56 1h1m-56 3h1m-9 1h1m53 0h1m-6 1h1m9 11h1m-4 11h1m-61 11h1m2 48h1m-6 14h1m-4 13h1m73 9h1m-48 4h1m-14 21h1m37 4h1m-21 1h1m21 3h1m17 9h1m-13 1h1m1 1h1m11 39h1m-37 8h1m-28 5h1m-2 3h1m-11 4h1m57 4h1m14 11h1m-68 1h1m26 8h1m-21 3h1m-4 16h1m14 8h1m3 4h1m-34 15h1m39 11h1m25 23h1m1 1h1m-5 4h1m8 19h1m-5 3h1m-35 40h1m10 29h1m26 9h1m-24 18h1m22 5h1m-5 16h1m-45 2h1m19 5h1m16 25h1m-44 3h1m60 0h1m-11 17h1m-60 18h1m22 4h1m-4 15h1"/><path stroke="#FDAE61" stroke-opacity="0.2" d="M13 1.5h1m27 0h1m32 1h1m-45 1h1m44 0h1m-64 1h1m3 0h1m24 0h1m24 0h1m7 0h1m-62 1h1m48 0h1m11 0h1m-70 2h1m22 6h1m-10 1h1m1 0h1m1 0h1m25 0h1m9 0h2m-33 1h1m7 0h1m5 0h1m17 5h1m-38 1h1m32 1h1m-40 2h1m31 0h1m-10 1h1m14 4h1m-8 2h1m-1 1h1m-14 9h1m25 0h1m-10 5h1m-2 3h1m-45 7h1m17 0h1m22 0h1m-10 7h1m-28 4h1m58 0h1m-1 4h1m3 0h1m4 0h1m-37 1h1m-6 1h1m-19 1h1m18 2h1m12 0h1m-31 8h1m23 0h1m1 1h1m8 11h1m-1 2h1m-31 3h1m36 2h1m-61 2h1m56 0h1m1 0h1m12 0h1m-63 6h1m2 6h1m45 3h1m8 4h1m1 0h1m-71 2h1m25 0h1m-7 1h1m5 0h1m-7 2h1m13 1h1m-5 3h1m24 0h1m-35 1h1m44 4h1m-30 5h1m-7 1h1m-26 1h1m24 3h1m7 0h1m6 0h1m-51 1h1m24 0h1m24 0h1m13 0h1m-53 1h1m14 0h1m40 0h1m-32 2h1m-36 1h1m26 2h1m-10 3h1m8 5h1m42 0h1m4 0h1m-74 1h1m15 0h1m56 0h1m-72 2h1m12 0h1m56 0h1m-67 2h1m32 0h1m29 0h1m-72 2h1m64 0h1m-67 5h2m9 0h1m15 0h1m-28 1h1m29 2h1m36 0h1m-1 1h1m-21 1h1m7 0h1m13 0h1m-45 1h2m29 0h1m6 0h1m5 0h2m7 1h1m-71 1h1m60 1h1m-25 5h1m3 0h1m-20 1h1m42 1h1m-52 6h1m44 4h1m4 14h1m-10 4h1m-56 5h1m14 0h2m13 0h1m6 0h1m26 4h1m-1 1h1m-36 1h1m-16 6h1m25 1h1m-47 3h1m52 0h1m8 6h1m-46 5h1m49 2h1m-12 5h1m-15 2h1m-23 2h1m16 5h1m-22 3h1m-1 1h1m10 0h1m27 1h1m-14 1h1m14 0h1m3 0h1m-55 2h1m21 3h1m19 1h1m14 0h1m-16 2h1m-48 10h1m32 0h1m7 0h1m4 8h1m-50 4h1m9 0h1m5 0h1m6 0h1m1 0h1m11 0h1m10 0h1m3 0h1m16 0h1m2 0h1m2 0h1m1 0h1m-66 2h1m10 0h1m33 4h1m-24 3h1m-21 1h1m7 0h1m11 0h2m11 0h1m17 0h1m3 0h1m-70 1h1m1 0h1m4 0h2m13 0h1m4 0h1m6 0h1m42 0h1m-76 1h1m4 0h2m25 0h1m35 0h1m-9 1h2m-48 3h1m31 1h1m2 1h1m-40 3h1m20 0h1m4 0h2m-35 1h1m9 0h1m16 0h2m2 0h1m12 0h1m27 0h1m-73 1h1m66 7h1m-18 2h1m-49 1h1m9 0h1m1 0h1m32 0h1m-42 5h1m64 0h1m-46 2h1m-1 1h1m13 2h1m-41 2h1m10 0h1m4 0h2m1 0h1m14 0h1m7 0h1m9 0h1m7 0h1m-19 2h1m-42 1h1m0 3h1m46 4h2m-58 1h1m26 7h1m-20 8h1m37 2h1m10 1h1m14 1h1m-49 8h1m15 2h1m28 4h1m7 0h1m-4 3h1m-23 3h1m-48 1h1m42 0h1m13 0h1m3 2h1m12 3h1m-38 5h1m13 0h1m-1 5h1m10 11h1m-50 2h1m-10 11h1m2 0h1m13 0h1m20 0h1m-3 1h1m-15 2h1m36 0h1m-22 4h1m-18 2h1m3 5h1m25 0h1m-27 2h1m-24 5h1m39 0h1m-46 1h1m4 0h1m4 0h2m1 0h1m5 0h1m4 0h1m15 0h1m2 0h1m13 0h1m2 0h1m6 0h3m1 0h1m-16 2h1m-59 8h1m72 5h1m-1 1h1m-65 3h1m20 0h1m12 0h1m1 0h1m19 0h1m3 0h1m2 0h1m-34 13h1m-30 1h1m19 14h1m18 5h1m-45 1h1m16 2h1m-1 1h2m6 1h1m-4 3h1m-29 4h1m53 0h1m-44 3h1m-1 1h1m20 0h1m29 6h1m-66 6h1m1 0h1m5 0h1m1 0h1m3 0h1m1 0h1m19 0h1m4 0h1m2 0h1m3 0h1m15 0h1m1 0h1m5 0h1m-37 1h1m29 0h1m-47 1h1m-13 2h1m20 0h1m31 1h1m-3 1h1m-46 11h1m17 0h1m41 0h1m-64 4h1m34 0h1m8 0h1m-54 2h1m1 4h1m7 0h1m3 0h1m13 0h1m30 0h1m-46 1h1m13 0h1m-15 2h1m-1 3h1m-13 1h1m33 1h1m40 0h1m-74 2h2m7 0h1m-9 1h1m11 0h1m16 0h1m10 0h1m4 0h1m16 0h1m3 0h1m1 0h1m-22 1h1m-48 1h2m6 0h2m5 0h1m9 0h1m11 0h1m3 0h1m1 0h1m3 0h1m18 0h1m1 0h1m1 0h1m-64 2h1m-7 1h1m5 0h1m33 0h1m17 0h1m-66 1h1m52 5h1m-10 1h1m8 0h1m-10 1h1m-2 3h1m8 0h1m-1 1h1m-15 1h1m4 1h1m34 0h1m-1 1h1m-1 1h1m-78 7h1m11 0h1m-14 2h1m16 3h1m4 8h1m33 1h1m-24 1h1m-35 4h1m4 0h1m9 0h1m-1 1h1m14 0h1m2 0h1m25 0h1m-1 1h1m18 0h1m-40 2h1m-1 1h1m15 1h1m21 6h1m-42 1h1m1 2h1m-12 6h1m26 0h1m13 0h1m-15 4h1m4 0h1m8 0h1m5 0h1m-36 2h1m21 0h1m6 0h1m-64 8h1m1 0h1m24 0h1m4 0h1m1 0h1m3 0h1m19 0h1m14 0h2m-74 1h1m30 0h1m2 0h1m26 0h1m11 0h1m-17 1h1m1 0h1m1 0h1m11 0h1m-17 1h1m-59 1h1m27 0h1m45 0h1m-16 1h2m-15 1h1m12 0h1m-58 1h1m3 0h1m39 0h1m-8 2h1m-1 2h1m-41 8h1m5 4h1m20 0h1m9 2h1m-27 1h1m15 0h1m5 0h1m38 3h1m-70 1h2m11 0h1m13 0h1m5 0h1m2 0h1m3 0h1m9 0h1m12 0h1m-31 8h1m16 1h1m-56 3h1m33 0h1m15 0h1m-51 3h1m38 0h1m-25 2h1m32 9h2m19 0h1"/><path stroke="#FDAE61" stroke-opacity="0.09" d="M58 .5h1m-59 1h1m6 0h2m1 0h2m19 0h1m5 0h2m5 0h1m2 0h1m5 0h1m11 0h1m5 0h2m4 0h1m1 0h1m-69 1h1m4 0h1m4 0h1m2 0h1m3 0h1m2 0h1m3 0h1m1 0h3m7 0h1m1 0h1m16 0h1m10 0h3m-77 1h1m1 0h1m1 0h1m1 0h1m3 0h1m2 0h1m1 0h2m4 0h1m3 0h1m8 0h2m2 0h1m2 0h3m2 0h1m12 0h1m1 0h3m4 0h1m2 0h1m2 0h2m-77 1h4m1 0h1m1 0h2m2 0h2m4 0h1m2 0h3m1 0h3m2 0h1m2 0h2m4 0h1m3 0h1m1 0h1m7 0h4m1 0h1m2 0h3m6 0h1m3 0h1m1 0h2m-78 1h2m4 0h1m2 0h1m1 0h1m3 0h1m2 0h1m1 0h1m5 0h2m9 0h1m1 0h2m9 0h1m2 0h2m8 0h1m1 0h1m10 0h2m-77 1h1m71 0h1m-65 1h1m53 0h1m-40 1h1m50 0h1m-51 1h1m-25 1h1m9 0h3m2 0h1m2 0h1m3 0h1m1 0h1m1 0h1m16 0h2m6 0h1m8 0h1m7 0h1m2 0h1m-62 1h1m8 0h1m1 0h1m6 0h1m14 0h1m2 0h1m7 0h1m10 0h1m2 0h1m-71 2h1m5 0h1m3 0h1m1 0h1m3 0h1m3 0h1m2 0h1m19 0h1m1 0h1m3 0h1m5 0h2m3 0h1m11 0h1m6 0h1m-80 1h1m6 0h1m1 0h1m2 0h1m2 0h3m2 0h1m4 0h2m1 0h1m5 0h1m4 0h1m2 0h1m2 0h1m2 0h1m1 0h1m6 0h1m7 0h1m1 0h2m4 0h1m2 0h2m-75 1h2m2 0h3m2 0h2m3 0h1m1 0h3m4 0h1m3 0h1m7 0h1m2 0h1m6 0h2m7 0h3m8 0h1m3 0h1m4 0h2m-60 1h1m1 0h1m2 0h1m1 0h1m1 0h1m7 0h1m1 0h1m2 0h1m7 0h1m6 0h1m7 0h1m7 0h1m3 0h1m2 0h1m-42 1h1m10 0h1m22 0h1m-13 1h1m11 0h1m2 0h1m-45 1h1m40 0h1m-12 1h1m-60 1h1m1 0h2m5 0h1m3 0h1m1 0h1m2 0h1m3 0h1m2 0h1m4 0h1m3 0h1m2 0h2m1 0h2m11 0h1m11 0h1m-66 1h1m7 0h2m7 0h2m11 0h1m5 0h1m1 0h1m1 0h2m9 0h1m13 0h1m2 0h1m6 0h2m-77 1h1m2 0h1m5 0h1m16 0h1m8 0h2m3 0h1m24 0h1m2 0h1m-66 1h1m14 0h1m1 0h1m1 0h1m1 0h1m1 0h1m3 0h1m3 0h2m2 0h1m1 0h1m3 0h1m6 0h1m14 0h1m9 0h1m-64 1h1m4 0h1m-5 3h1m2 0h1m10 0h1m9 0h1m4 0h1m3 0h1m19 0h1m1 0h1m4 0h1m-77 1h1m2 0h1m6 0h1m18 0h1m5 0h1m4 0h1m2 0h1m2 0h1m1 0h2m4 0h1m12 0h1m10 0h1m1 0h1m-26 2h1m-30 1h1m1 0h1m29 0h1m10 0h1m-7 1h1m5 0h1m-64 1h1m16 0h1m18 0h1m3 0h1m2 0h1m20 0h1m-69 1h2m2 0h5m8 0h2m2 0h1m1 0h2m5 0h1m2 0h1m1 0h1m3 0h1m4 0h1m3 0h2m1 0h2m5 0h2m1 0h1m3 0h1m2 0h1m2 0h1m1 0h2m3 0h1m-78 2h1m2 0h1m46 0h1m15 0h1m-48 1h1m12 0h1m15 0h1m1 0h1m-54 2h2m1 0h2m1 0h1m9 0h1m10 0h1m1 0h1m5 0h1m3 0h2m5 0h1m1 0h1m2 0h1m1 0h1m3 0h1m11 0h1m4 0h1m3 0h1m-79 1h1m4 0h1m1 0h1m2 0h1m4 0h2m4 0h2m6 0h1m15 0h1m2 0h1m2 0h1m1 0h2m1 0h2m13 0h1m3 0h1m-41 1h1m6 0h1m5 0h1m2 0h1m17 0h1m-60 1h1m26 0h1m10 0h1m4 0h1m-6 1h1m21 0h1m-61 1h1m-5 1h1m3 0h1m6 0h1m1 0h1m1 0h2m2 0h3m1 0h1m8 0h1m7 0h1m1 0h1m12 0h1m5 0h1m2 0h2m-71 1h1m4 0h1m10 0h1m8 0h1m2 0h1m5 0h1m34 0h1m-65 1h1m12 0h1m2 0h1m28 0h1m18 0h1m-70 1h1m4 0h1m3 0h1m3 0h2m1 0h1m13 0h1m2 0h1m10 0h1m2 0h1m3 0h1m3 0h1m13 0h1m1 0h1m2 0h1m-48 1h1m15 0h1m24 0h1m-63 1h1m7 0h1m18 0h1m-6 1h1m5 1h1m-34 1h1m17 0h1m14 0h1m9 0h1m8 0h1m2 0h1m7 0h1m3 0h1m9 0h1m-55 1h1m21 0h2m26 0h1m-73 1h1m1 0h1m2 0h2m1 0h3m1 0h2m7 0h1m1 0h2m4 0h1m9 0h1m2 0h1m1 0h1m6 0h1m1 0h1m1 0h4m3 0h2m3 0h1m4 0h1m1 0h1m1 0h1m-38 1h1m15 0h1m-56 1h1m33 0h1m3 0h1m7 0h1m24 0h1m3 0h1m-8 1h1m4 0h1m3 0h1m-58 1h1m3 0h1m3 0h2m6 0h1m9 0h1m3 0h2m3 0h2m3 0h1m2 0h1m9 0h1m-70 1h1m15 0h1m10 0h1m4 0h1m12 0h3m3 0h1m17 0h2m-47 1h1m2 0h2m3 0h1m10 0h1m-31 1h1m2 0h1m11 0h1m4 0h2m10 0h1m9 0h1m3 0h1m1 0h1m7 0h1m-66 1h1m9 0h1m12 0h2m3 0h1m7 0h2m1 0h1m1 0h2m19 0h1m2 0h1m-74 1h1m12 0h1m4 0h1m8 0h2m5 0h1m17 0h1m17 0h1m-8 1h1m4 0h1m4 0h1m-74 1h1m1 0h1m3 0h1m1 0h1m14 0h2m2 0h1m3 0h1m8 0h1m4 0h1m1 0h1m6 0h1m8 0h1m6 0h1m1 0h2m1 0h1m1 0h1m-78 1h1m8 0h1m23 0h1m13 0h1m9 0h1m5 0h2m-61 1h1m3 0h2m1 0h1m8 0h1m5 0h2m1 0h1m34 0h2m2 0h1m3 0h1m-64 1h1m54 0h3m5 0h1m-73 1h1m2 0h1m4 0h2m1 0h1m2 0h2m8 0h1m4 0h2m1 0h2m2 0h1m2 0h1m4 0h2m6 0h1m3 0h3m2 0h1m1 0h4m8 0h2m-78 1h2m7 0h1m15 0h1m2 0h1m8 0h1m8 0h1m6 0h1m10 0h1m8 0h1m4 0h1m-78 1h1m1 0h1m1 0h1m9 0h1m12 0h2m3 0h1m1 0h1m3 0h2m1 0h1m8 0h1m17 0h1m6 0h1m1 0h1m-46 1h1m17 0h1m6 0h2m4 0h1m4 0h1m8 0h1m-42 1h1m13 0h1m-51 1h1m2 0h1m41 0h1m12 0h1m9 0h1m-41 1h1m8 0h1m2 0h1m2 0h1m-47 1h1m1 0h1m3 0h1m3 0h1m20 0h1m6 0h2m2 0h1m1 0h1m8 0h1m18 0h1m-73 1h1m1 0h1m7 0h1m1 0h1m9 0h1m14 0h1m1 0h2m9 0h1m2 0h1m6 0h1m4 0h1m6 0h1m1 0h1m-20 1h1m18 0h1m-70 1h1m66 0h2m-73 2h1m8 0h1m12 0h1m3 0h1m3 0h1m12 0h1m4 0h1m3 0h1m-53 1h1m3 0h1m12 0h2m8 0h1m1 0h2m7 0h1m8 0h2m3 0h1m5 0h1m1 0h1m3 0h1m7 0h1m5 0h1m-76 1h1m4 0h1m1 0h1m6 0h1m2 0h1m1 0h1m4 0h1m1 0h1m4 0h1m5 0h1m13 0h1m5 0h1m4 0h1m3 0h1m9 0h1m-76 1h2m8 0h1m5 0h1m20 0h1m5 0h1m2 0h1m28 0h1m-81 2h1m14 0h1m6 0h1m6 0h2m17 0h1m-28 1h1m43 0h1m-65 1h1m71 0h1m6 0h1m-38 1h1m29 0h1m-48 1h1m31 1h1m3 0h1m-47 2h1m8 0h1m18 0h2m9 0h2m16 0h1m3 0h1m-66 1h1m3 0h1m14 0h1m12 0h1m1 0h1m6 0h1m1 0h2m2 0h1m17 0h1m-62 1h1m27 0h1m10 0h2m1 0h1m9 0h1m-53 1h1m35 0h1m-52 1h1m53 0h1m22 0h1m-78 1h1m8 0h1m47 0h1m3 0h1m14 0h1m-20 1h1m-49 1h1m27 0h1m19 0h1m-53 1h1m3 0h1m3 0h1m6 0h1m3 0h1m2 0h1m16 0h1m5 0h1m10 0h1m1 0h1m-61 1h2m2 0h1m1 0h1m1 0h1m1 0h1m7 0h1m5 0h2m11 0h1m1 0h1m1 0h2m2 0h1m8 0h1m1 0h1m1 0h1m1 0h1m6 0h1m-72 1h1m2 0h2m3 0h1m1 0h5m4 0h1m2 0h1m2 0h1m1 0h3m2 0h2m6 0h2m1 0h1m2 0h1m2 0h1m2 0h1m1 0h1m1 0h1m1 0h1m1 0h1m2 0h1m1 0h1m2 0h2m1 0h1m1 0h2m3 0h1m-71 2h1m-6 1h1m43 1h1m-44 1h1m10 0h1m7 0h1m25 0h1m-48 1h1m1 0h1m9 0h1m2 0h2m2 0h1m1 0h1m1 0h1m1 0h2m6 0h2m3 0h1m1 0h2m2 0h1m1 0h2m2 0h1m3 0h2m6 0h1m1 0h1m1 0h3m1 0h1m2 0h1m-71 1h1m8 0h1m3 0h1m8 0h1m2 0h1m7 0h1m10 0h1m18 0h1m2 0h1m-42 1h1m-31 1h1m4 0h1m30 0h1m29 0h1m-1 1h1m-1 1h1m-23 4h1m24 0h1m-70 1h1m6 0h1m10 0h1m6 0h1m18 0h1m2 0h1m-32 2h1m8 0h1m21 0h1m21 0h1m1 0h1m1 0h1m-73 1h1m3 0h1m49 0h1m10 0h1m13 0h1m-50 1h1m12 0h1m28 0h1m-74 1h1m9 0h2m4 0h2m4 0h1m2 0h1m30 0h1m6 0h2m8 0h1m-69 1h1m4 0h2m5 0h1m4 0h1m15 0h1m3 0h1m1 0h1m1 0h1m1 0h1m4 0h2m3 0h1m7 0h1m6 0h1m1 0h1m-75 1h1m1 0h1m6 0h1m14 0h1m5 0h1m43 0h1m-75 1h1m1 0h1m1 0h1m4 0h1m3 0h1m1 0h1m7 0h1m7 0h1m4 0h2m6 0h1m8 0h1m6 0h1m13 0h1m4 0h1m-74 1h1m5 0h2m5 0h1m8 0h1m4 0h5m3 0h1m1 0h2m1 0h1m4 0h1m9 0h3m10 0h2m3 0h1m-74 1h1m2 0h1m9 0h1m14 0h1m10 0h1m1 0h1m-23 1h1m8 0h1m16 0h1m27 0h1m-55 1h1m17 0h1m4 0h2m3 0h1m20 0h2m-71 1h1m2 0h1m1 0h1m2 0h1m5 0h2m13 0h1m3 0h1m2 0h1m1 0h1m1 0h1m3 0h1m3 0h1m10 0h1m10 0h1m-69 1h1m26 0h1m8 0h1m17 0h1m1 0h1m10 0h1m-56 1h1m23 0h1m9 0h1m8 0h1m10 0h1m-55 1h1m2 0h1m4 0h1m2 0h1m3 0h1m1 0h1m4 0h1m5 0h1m3 0h1m16 0h1m4 0h1m5 0h1m-53 1h1m8 0h1m8 0h1m5 0h1m1 0h1m5 0h1m14 0h1m-71 1h1m1 0h1m1 0h1m1 0h1m15 0h5m12 0h2m2 0h1m5 0h3m2 0h1m10 0h1m4 0h1m-74 2h1m8 0h1m8 0h1m6 0h1m2 0h1m13 0h1m3 0h1m7 0h1m2 0h1m10 0h1m6 0h1m-70 1h1m11 0h1m49 0h1m6 0h1m-59 1h2m2 0h1m3 0h2m11 0h1m5 0h1m6 0h1m2 0h1m12 0h1m7 0h2m-68 1h1m7 0h1m17 0h1m15 0h1m9 0h1m10 0h1m5 0h1m-62 1h2m4 0h1m5 0h1m4 0h1m2 0h1m13 0h1m-22 1h1m3 0h1m27 0h1m-23 1h2m20 0h1m-64 1h1m1 0h1m4 0h2m1 0h2m1 0h1m2 0h1m1 0h1m4 0h1m10 0h1m3 0h4m7 0h1m2 0h1m2 0h1m1 0h1m3 0h1m1 0h1m4 0h1m3 0h3m-72 1h1m2 0h3m3 0h1m1 0h1m2 0h1m5 0h1m7 0h1m1 0h4m1 0h1m1 0h1m2 0h2m2 0h3m1 0h2m1 0h2m1 0h2m2 0h1m3 0h1m1 0h3m2 0h2m-75 1h2m6 0h1m6 0h1m1 0h1m5 0h2m4 0h1m2 0h1m1 0h1m1 0h1m1 0h1m3 0h1m6 0h1m2 0h1m1 0h1m3 0h1m4 0h1m1 0h2m1 0h1m1 0h1m3 0h1m2 0h2m-44 1h1m-31 1h1m2 0h1m8 0h1m2 0h1m14 0h1m1 0h1m2 0h2m3 0h1m3 0h3m5 0h1m1 0h1m8 0h1m8 0h1m-78 1h1m7 0h1m3 0h1m1 0h1m19 0h1m6 0h1m7 0h1m6 0h1m-57 2h1m2 0h1m8 0h1m16 0h1m5 0h1m1 0h1m1 0h1m1 0h1m4 0h1m6 0h1m2 0h1m2 0h1m8 0h1m1 0h2m6 0h1m-78 1h1m22 0h1m7 0h1m4 0h1m10 0h1m29 0h1m-57 1h1m14 0h1m-35 1h1m8 0h1m3 0h1m1 0h1m3 0h3m10 0h3m12 0h1m1 0h2m2 0h1m7 0h1m6 0h1m6 0h1m-67 1h1m8 0h1m7 0h1m6 0h1m9 0h1m6 0h1m25 0h1m-64 1h1m9 0h1m11 0h1m7 0h1m-36 1h1m14 0h1m6 0h1m10 0h1m34 0h1m-77 1h1m7 0h1m9 0h1m14 0h1m26 0h1m1 0h1m12 0h1m-77 1h1m4 0h1m3 0h1m1 0h2m1 0h1m1 0h1m5 0h1m1 0h1m6 0h1m3 0h2m16 0h1m3 0h1m6 0h1m7 0h1m4 0h1m-77 1h1m3 0h1m4 0h1m1 0h1m3 0h1m3 0h2m2 0h2m2 0h2m7 0h1m1 0h1m2 0h3m9 0h3m3 0h1m2 0h1m3 0h1m2 0h2m3 0h1m1 0h1m-62 1h1m-16 1h1m1 0h2m2 0h1m2 0h1m1 0h1m1 0h1m1 0h2m2 0h1m3 0h1m2 0h1m3 0h1m3 0h1m3 0h1m1 0h1m5 0h1m6 0h3m2 0h5m6 0h1m1 0h1m3 0h1m-77 1h6m1 0h2m1 0h1m1 0h1m5 0h2m11 0h3m1 0h1m9 0h1m2 0h2m2 0h2m1 0h1m6 0h1m1 0h1m5 0h1m1 0h1m2 0h2m-79 1h1m2 0h1m2 0h1m1 0h3m1 0h1m5 0h1m2 0h1m2 0h1m2 0h1m1 0h1m1 0h1m1 0h1m1 0h1m7 0h1m3 0h1m6 0h2m2 0h1m5 0h1m2 0h1m1 0h1m1 0h1m1 0h1m3 0h1m1 0h1m-71 1h1m1 0h1m3 0h1m7 0h1m9 0h1m9 0h2m1 0h1m2 0h1m12 0h1m1 0h1m9 0h2m1 0h1m-68 1h2m11 0h1m9 0h1m9 0h2m10 0h3m6 0h1m5 0h1m3 0h1m4 0h1m-25 2h1m-54 1h1m9 0h1m-11 1h1m7 0h1m66 0h1m-77 1h1m2 0h1m7 0h1m2 0h1m4 0h1m3 0h3m3 0h1m16 0h1m2 0h2m3 0h2m3 0h1m3 0h1m1 0h3m1 0h2m5 0h4m-46 1h1m16 0h1m3 0h1m13 0h1m9 0h1m-44 1h1m1 0h1m31 0h1m8 0h1m-81 1h1m1 0h1m4 0h1m5 0h1m4 0h1m2 0h2m3 0h2m1 0h1m3 0h1m3 0h1m1 0h1m3 0h2m3 0h2m2 0h1m3 0h1m4 0h2m2 0h1m8 0h1m3 0h1m1 0h1m-77 1h1m1 0h3m4 0h1m7 0h3m3 0h1m5 0h1m3 0h1m1 0h1m3 0h1m3 0h1m1 0h1m6 0h1m4 0h2m3 0h1m7 0h1m3 0h1m1 0h1m-81 1h3m1 0h1m5 0h1m2 0h1m4 0h1m3 0h2m2 0h2m2 0h1m3 0h1m1 0h1m7 0h1m2 0h1m3 0h1m3 0h1m4 0h2m6 0h3m6 0h2m1 0h1m-81 1h3m1 0h1m2 0h1m1 0h5m7 0h2m3 0h1m3 0h3m1 0h1m1 0h4m4 0h1m1 0h2m1 0h1m1 0h1m1 0h5m2 0h1m1 0h1m1 0h1m4 0h1m6 0h5m-81 1h1m8 0h2m1 0h4m10 0h2m2 0h1m1 0h1m3 0h1m1 0h2m3 0h1m2 0h2m2 0h1m4 0h2m1 0h1m2 0h2m1 0h5m2 0h1m1 0h3m2 0h1m-72 1h1m18 0h1m3 0h2m26 0h1m12 0h1m6 0h2m-70 1h1m16 0h1m2 0h1m38 0h1m4 0h1m3 0h1m-72 1h1m2 0h1m36 0h1m23 0h1m2 0h1m3 0h2m-33 1h1m23 0h1m6 0h1m-70 1h1m12 0h1m9 0h1m14 0h1m-48 1h1m20 0h1m8 2h1m12 0h1m-43 1h1m9 0h1m8 0h1m1 0h1m5 0h2m6 0h1m6 0h1m1 0h1m11 0h1m13 0h1m8 0h1m-81 1h2m20 0h1m5 0h1m27 0h2m4 0h1m6 0h1m-70 1h1m18 2h1m36 0h1m-46 1h1m3 0h1m12 0h1m27 0h1m-50 1h1m3 0h1m4 0h1m3 0h1m1 0h1m13 0h1m6 0h1m12 0h1m3 0h1m-55 1h1m7 0h2m4 0h1m19 0h1m2 0h1m12 0h1m4 0h1m3 0h1m5 0h1m1 0h1m2 0h1m-70 1h1m29 0h1m-37 1h1m18 0h1m4 0h1m13 0h1m13 0h1m16 0h1m-49 1h2m7 0h1m6 0h1m4 0h1m21 0h1m4 0h1m1 0h1m-35 1h1m4 0h1m32 0h1m-49 1h1m9 0h1m2 0h1m6 0h1m1 0h1m22 0h1m-46 1h1m1 0h1m-17 1h1m4 0h1m4 0h1m2 0h1m37 0h1m7 0h1m2 0h1m-76 1h1m12 0h1m9 0h1m5 0h1m8 0h2m23 0h1m11 0h1m-63 1h1m7 0h1m20 0h1m19 0h1m1 0h2m6 0h1m2 0h1m-70 1h1m9 0h1m13 0h1m9 0h1m6 0h1m1 0h1m1 0h1m23 0h1m-73 1h1m15 0h1m41 0h1m13 0h1m-46 1h1m33 0h1m-59 3h1m33 0h1m5 0h2m10 0h1m4 0h2m14 0h1m-80 1h1m14 0h1m3 0h1m20 0h1m6 0h1m2 0h1m1 0h2m4 0h1m4 0h2m1 0h1m6 0h1m5 0h1m-74 1h1m16 0h1m1 0h1m5 0h2m18 0h1m27 0h1m-65 1h1m16 0h1m24 0h1m2 0h1m3 0h1m4 0h1m3 0h1m5 0h1m-48 2h1m28 0h1m-61 1h1m4 0h1m2 0h1m1 0h1m3 0h1m3 0h1m7 0h1m2 0h1m9 0h1m1 0h1m2 0h2m3 0h1m1 0h2m7 0h1m13 0h1m3 0h1m-78 1h1m3 0h1m3 0h1m19 0h1m9 0h1m8 0h1m14 0h1m14 0h1m-75 2h1m11 0h1m3 0h1m11 0h1m11 0h1m6 0h1m11 0h1m3 0h1m2 0h1m-62 1h1m9 0h1m4 0h3m2 0h1m8 0h1m2 0h1m3 0h1m5 0h1m3 0h1m7 0h1m12 0h1m-77 1h1m4 0h1m3 0h1m5 0h2m2 0h1m5 0h2m2 0h1m1 0h1m3 0h1m1 0h1m3 0h1m1 0h2m6 0h1m1 0h1m5 0h1m5 0h1m1 0h1m10 0h1m-56 1h2m16 0h1m11 0h1m-30 1h1m-25 2h2m1 0h1m1 0h1m2 0h2m11 0h1m5 0h1m3 0h1m2 0h1m4 0h1m1 0h1m6 0h1m1 0h1m6 0h1m6 0h1m-64 1h1m14 0h1m10 0h1m7 0h1m13 0h1m17 0h1m-68 1h1m2 0h1m4 0h1m5 0h1m1 0h1m10 0h1m3 0h1m1 0h2m1 0h1m3 0h2m5 0h4m12 0h2m2 0h1m1 0h3m-72 1h1m7 0h1m25 0h1m5 0h2m-39 1h1m13 0h1m2 0h1m4 0h1m1 0h1m11 0h1m8 0h1m1 0h1m7 0h1m11 0h2m-69 1h1m6 0h1m3 0h1m33 0h2m20 0h1m-64 1h1m4 0h1m1 0h1m6 0h2m1 0h1m5 0h2m7 0h2m1 0h1m2 0h1m2 0h1m1 0h1m1 0h2m6 0h1m4 0h1m4 0h1m4 0h1m-73 1h1m17 0h2m3 0h2m3 0h1m7 0h2m12 0h1m-30 1h1m-9 1h1m14 0h1m7 0h1m21 0h1m10 0h1m-59 1h1m15 0h2m7 0h1m8 0h1m4 0h2m9 0h1m6 0h1m-24 1h1m11 0h1m1 0h1m-56 1h2m8 0h1m1 0h4m1 0h1m4 0h2m5 0h1m3 0h1m7 0h2m3 0h1m2 0h1m3 0h1m2 0h4m7 0h2m2 0h1m-70 1h1m9 0h1m4 0h1m1 1h1m-25 2h1m15 0h1m45 0h1m-61 2h1m4 0h2m2 0h2m10 0h1m2 0h2m2 0h1m8 0h1m6 0h1m5 0h2m1 0h1m2 0h3m5 0h2m6 0h1m-18 1h1m-18 1h1m10 0h1m10 0h1m-1 1h1m2 2h1m-67 1h1m10 0h2m5 0h1m18 0h1m10 0h1m3 0h1m1 0h1m2 0h1m6 0h1m1 0h1m1 0h2m4 0h1m-70 1h1m6 0h1m4 0h1m3 0h1m1 0h1m11 0h2m2 0h1m3 0h1m8 0h1m1 0h1m9 0h1m1 0h1m-67 1h1m1 0h1m9 0h1m2 0h1m24 0h1m2 0h1m20 0h1m1 0h1m-62 3h1m14 0h1m4 0h1m8 0h1m6 0h1m1 0h1m1 0h1m20 0h1m-62 1h1m1 0h1m3 0h2m4 0h1m1 0h2m3 0h1m18 0h1m5 0h1m14 0h1m2 0h2m2 0h1m2 0h1m-70 1h1m37 0h1m29 0h2m-70 1h1m10 0h1m4 0h1m8 0h1m22 0h3m8 0h1m7 0h1m1 0h1m-70 1h1m15 0h1m4 0h1m12 0h1m13 0h1m23 0h1m-40 1h1m14 0h1m18 0h1m3 0h1m-56 1h1m45 0h1m-51 1h1m53 0h1m5 0h1m-46 1h1m5 0h1m16 0h1m-18 1h1m32 0h1m-64 1h1m7 0h1m43 0h1m1 0h1m4 0h1m9 0h1m-74 1h1m3 0h2m6 0h2m12 0h1m23 0h1m5 0h1m7 0h1m8 0h1m-76 1h1m5 0h1m16 0h1m2 0h1m19 0h1m15 0h1m-58 1h2m30 0h1m2 0h1m1 0h1m1 0h1m5 0h2m5 0h1m1 0h1m8 0h1m1 0h1m-70 1h2m1 0h3m1 0h1m1 0h4m4 0h1m3 0h1m5 0h1m5 0h1m5 0h2m3 0h1m5 0h1m1 0h1m4 0h1m1 0h1m6 0h3m3 0h1m-64 1h1m15 0h1m24 0h1m19 0h1m3 0h1m-75 1h1m1 0h4m2 0h1m2 0h2m3 0h1m4 0h1m3 0h2m2 0h2m1 0h2m1 0h1m5 0h4m4 0h1m1 0h1m4 0h1m3 0h1m2 0h1m3 0h3m2 0h1m-74 1h2m1 0h1m4 0h1m8 0h1m5 0h1m7 0h1m2 0h1m25 0h1m-54 1h2m3 0h2m8 0h2m2 0h1m7 0h1m9 0h1m3 0h1m1 0h1m4 0h3m7 0h1m3 0h2m3 0h1m-68 1h2m25 0h1m1 0h1m3 0h1m1 0h1m17 0h1m9 0h2m-65 1h2m8 0h1m5 0h1m12 0h1m3 0h1m1 0h1m1 0h1m5 0h1m12 0h1m6 0h2m-69 1h1m4 0h1m8 0h1m15 0h1m2 0h1m11 0h1m14 0h1m6 0h2m-69 1h1m4 0h2m2 0h1m1 0h1m14 0h2m1 0h1m3 0h1m7 0h1m5 0h3m3 0h1m3 0h1m8 0h1m-49 1h1m6 0h1m7 0h1m11 0h1m1 0h1m5 0h1m6 0h1m5 0h1m-69 1h1m12 0h1m2 0h1m6 0h1m11 0h1m2 0h1m7 0h1m3 0h1m3 0h2m2 0h1m3 0h1m5 0h2m2 0h2m-61 1h1m19 0h3m8 0h1m10 0h1m2 0h1m15 0h1m-63 1h1m22 0h1m2 0h1m-39 2h1m2 0h1m31 0h2m1 0h1m1 0h1m23 0h1m-65 1h1m21 0h1m23 0h1m12 0h2m3 0h1m1 0h1m7 0h1m-76 1h1m4 0h1m56 0h1m2 0h3m4 0h1m-60 1h1m19 0h1m28 0h1m2 0h1m-62 1h1m7 0h1m16 0h1m12 0h1m19 0h1m2 0h1m-54 1h1m3 0h2m16 0h1m7 0h1m-44 1h2m3 0h2m3 0h1m2 0h1m4 0h1m2 0h1m2 0h2m7 0h1m2 0h1m11 0h1m6 0h1m7 0h1m2 0h1m2 0h1m6 0h1m-73 1h1m59 0h1m-42 1h1m5 0h1m3 0h1m2 0h1m18 0h1m13 0h1m6 0h1m-61 1h1m59 0h1m-1 1h1m-48 1h1m-19 1h1m21 0h1m1 0h3m1 0h1m5 0h1m2 0h1m16 0h1m10 0h1m-72 1h1m5 0h1m21 0h1m14 0h2m26 0h1m-72 1h1m24 0h1m6 0h1m26 0h1m5 0h1m5 0h1m-64 1h1m8 0h1m1 0h1m34 0h1m-55 1h1m11 0h1m4 0h1m1 0h1m5 0h1m4 0h1m12 0h1m15 0h1m11 0h1m-72 1h1m3 0h1m5 0h1m6 0h1m1 0h1m2 0h1m1 0h2m7 0h1m8 0h3m1 0h1m2 0h2m7 0h1m3 0h1m2 0h1m5 0h1m-76 1h1m3 0h1m2 0h1m5 0h1m1 0h1m4 0h1m4 0h2m1 0h1m5 0h1m2 0h1m1 0h1m1 0h2m4 0h2m5 0h1m4 0h1m1 0h4m4 0h1m-63 1h1m13 0h1m21 0h1m4 0h1m15 0h1m1 0h1m8 0h1m-72 1h1m12 0h1m19 0h1m3 0h1m13 0h1m14 0h1m-66 3h1m45 0h1m1 0h1m-54 1h1m4 0h1m5 0h1m8 0h1m30 0h1m14 0h1m-56 1h1m39 0h1m-50 1h1m2 0h1m5 0h1m8 0h1m30 0h1m-52 1h1m2 0h1m1 0h1m5 0h2m4 0h1m2 0h2m1 0h1m9 0h1m17 0h1m4 0h1m17 0h1m-75 1h2m1 0h1m1 0h2m3 0h2m5 0h2m4 0h1m12 0h1m2 0h1m7 0h3m2 0h2m12 0h1m2 0h1m5 0h1m-74 1h2m6 0h3m2 0h1m1 0h2m3 0h1m4 0h1m5 0h1m1 0h1m9 0h1m1 0h1m1 0h1m3 0h1m5 0h1m3 0h2m1 0h1m1 0h1m4 0h1m-72 1h1m1 0h1m4 0h5m1 0h1m1 0h2m1 0h1m1 0h1m2 0h1m5 0h1m1 0h1m1 0h1m5 0h1m5 0h1m1 0h1m2 0h2m2 0h1m1 0h3m1 0h1m1 0h2m1 0h1m2 0h2m1 0h1m1 0h1m-76 1h1m2 0h1m7 0h1m3 0h1m1 0h1m2 0h2m11 0h1m25 0h1m10 0h1m4 0h1m-71 1h1m11 0h1m31 0h1m20 0h1m-71 1h1m4 0h1m1 0h1m10 0h1m1 0h1m6 0h1m10 0h1m23 0h1m-57 1h1m2 0h1m7 0h1m2 0h2m2 0h1m6 0h1m6 0h1m26 0h2m4 0h1m-57 1h1m2 0h1m1 0h1m22 0h1m-39 1h1m7 0h1m1 0h1m1 0h1m2 0h1m1 0h1m20 0h1m9 0h1m1 0h2m5 0h1m-62 2h1m6 0h1m1 0h1m20 0h1m21 0h1m3 0h1m-57 1h1m3 0h1m1 0h3m1 0h1m1 0h1m1 0h1m1 0h2m5 0h2m3 0h2m1 0h1m1 0h1m7 0h3m2 0h4m5 0h1m1 0h3m1 0h1m8 0h2m2 0h1m-75 1h1m3 0h1m1 0h2m1 0h1m6 0h2m5 0h1m4 0h1m5 0h3m4 0h2m2 0h1m2 0h4m3 0h1m4 0h1m4 0h2m1 0h4m-66 1h1m2 0h1m26 0h1m-20 1h1m5 0h1m49 0h1m-68 1h2m4 0h1m4 0h2m7 0h2m7 0h1m16 0h1m10 0h1m10 0h1m-69 1h1m10 0h1m12 0h2m33 0h1m-1 1h1m-66 1h1m5 1h2m5 0h1m4 0h1m11 0h2m13 0h1m21 0h1m-64 1h1m2 0h1m6 0h1m30 0h1m-42 1h1m4 0h1m20 0h1m4 0h1m2 0h1m2 0h1m7 0h1m3 0h1m11 0h1m-62 1h1m1 0h1m2 0h1m4 0h3m19 0h1m16 0h1m6 0h1m4 0h2m5 0h1m-77 1h1m2 0h1m5 0h2m5 0h2m1 0h1m2 0h2m2 0h2m6 0h2m1 0h4m2 0h1m1 0h1m1 0h1m7 0h3m6 0h1m1 0h2m2 0h1m1 0h1m2 0h1m-68 1h1m26 0h1m24 0h1m1 0h1m7 0h1m-53 1h1m-21 1h1m19 0h1m39 0h1m-60 2h1m8 0h1m9 0h1m14 0h2m16 0h1m8 1h1m-62 1h2m2 0h1m2 0h1m7 0h1m11 0h2m6 0h1m3 0h1m5 0h1m2 0h2m1 0h2m5 0h1m1 0h2m1 0h3m2 0h1m1 0h1m-71 1h1m2 0h1m3 0h2m1 0h1m3 0h2m2 0h1m4 0h1m3 0h3m8 0h1m1 0h1m1 0h1m2 0h1m2 0h1m5 0h2m2 0h3m2 0h1m5 0h2m2 0h1m4 0h1m-80 1h1m3 0h1m3 0h1m2 0h1m4 0h1m10 0h2m5 0h1m1 0h2m8 0h1m1 0h2m2 0h1m2 0h1m1 0h1m1 0h3m6 0h1m1 0h1m3 0h2m3 0h1m-69 1h1m12 0h2m1 0h1m1 0h2m2 0h2m11 0h1m6 0h1m6 0h1m9 0h2m-64 1h1m2 0h1m15 0h1m14 0h1m3 0h1m2 0h1m10 0h1m7 0h1m6 0h1m-76 1h1m4 0h3m1 0h1m1 0h2m3 0h1m1 0h1m3 0h2m6 0h1m2 0h2m2 0h1m1 0h2m5 0h1m1 0h2m2 0h1m3 0h1m1 0h2m1 0h1m1 0h3m3 0h4m1 0h1m1 0h1m3 0h1m-74 1h1m11 0h1m3 0h1m1 0h1m1 0h1m2 0h1m5 0h1m12 0h2m5 0h1m3 0h2m2 0h2m5 0h1m-65 1h3m1 0h1m6 0h3m1 0h3m2 0h1m3 0h2m4 0h1m2 0h1m1 0h1m1 0h2m1 0h2m2 0h1m4 0h1m1 0h1m1 0h1m3 0h2m5 0h1m2 0h3m-73 1h1m1 0h2m2 0h2m6 0h3m1 0h1m1 0h1m2 0h1m3 0h1m4 0h1m3 0h2m5 0h4m9 0h2m2 0h1m9 0h1m1 0h2m-72 1h1m2 0h2m16 0h2m7 0h1m9 0h3m15 0h1m-56 2h1m4 0h1m13 0h1m11 0h1m4 0h1m11 0h1m1 0h1m4 0h2m6 0h1m-26 1h1m9 0h1m18 0h1m-76 1h1m55 0h1m-13 1h1m11 0h2m-58 1h1m5 0h1m2 0h1m3 0h1m1 0h1m4 0h2m3 0h1m1 0h1m1 0h1m14 0h2m2 0h1m1 0h1m16 0h1m4 0h1m1 0h1m-60 1h1m3 0h1m1 0h1m3 0h1m3 0h2m9 0h2m10 0h1m4 0h1m11 0h1m3 0h1m2 0h1m-71 1h1m12 1h1m21 0h1m14 0h1m-30 1h1m5 0h1m-29 1h1m21 0h1m28 0h1m-30 1h1m5 0h1m16 0h1m-51 1h1m2 0h1m7 0h1m4 0h1m7 0h1m2 0h1m5 0h1m3 0h1m2 0h1m7 0h1m3 0h1m13 0h1m-64 1h1m1 0h1m2 0h1m3 0h1m3 0h1m2 0h1m13 0h1m14 0h1m8 0h1m5 0h1m4 0h2m4 0h1m-72 1h3m2 0h2m8 0h1m3 0h1m1 0h1m1 0h2m5 0h1m16 0h1m15 0h1m5 0h1m-65 1h1m10 0h1m17 0h1m12 0h1m8 0h1m6 0h1m5 0h1m-71 1h1m2 0h1m7 0h1m39 0h1m5 0h1m6 0h1m5 0h1m3 0h1m-75 2h1m1 0h1m3 0h1m37 0h1m29 0h1m-73 1h1m6 0h1m22 0h1m16 0h1m23 0h1m-73 2h2m6 0h1m31 0h1m2 0h1m10 0h1m-50 1h1m2 0h1m15 0h1m18 0h1m4 0h1m5 0h1m3 0h1m2 0h1m9 0h1m3 0h1m-74 1h1m5 0h1m3 0h1m10 0h2m-22 1h1m4 0h1m3 0h1m6 0h1m6 0h1m3 0h1m2 0h2m8 0h1m1 0h1m-46 1h1m7 0h1m3 0h2m5 0h1m6 0h1m1 0h1m1 0h1m2 0h1m10 0h2m8 0h3m11 0h1m2 0h1m1 0h1m-74 1h1m18 0h1m4 0h1m2 0h2m4 0h1m20 0h2m11 0h1m-40 1h1m16 0h1m-43 1h1m5 0h1m23 0h1m-26 1h2m2 0h1m7 0h1m11 0h1m-12 1h1m-1 2h1m29 0h2m10 0h1m12 0h1m-81 1h1m18 0h1m11 0h1m5 0h1m9 0h1m5 0h1m2 0h1m2 0h1m4 0h1m6 0h1m-72 1h1m2 0h1m9 0h1m3 0h1m1 0h1m4 0h2m2 0h1m3 0h1m5 0h1m2 0h2m4 0h2m7 0h1m1 0h1m9 0h1m6 0h1m1 0h1m1 0h2m-81 1h1m1 0h1m3 0h1m5 0h3m4 0h3m3 0h1m4 0h2m2 0h3m3 0h1m1 0h1m2 0h1m1 0h1m5 0h1m2 0h3m2 0h1m6 0h2m3 0h1m3 0h4m-67 1h1m15 0h1m10 0h1m16 0h1m18 0h1m2 0h1m-79 1h1m6 0h1m4 0h1m15 0h2m3 0h2m16 0h1m14 0h2m3 0h1m4 0h1m1 0h1m-72 1h1m21 0h1m9 0h1m1 0h1m3 0h1m10 0h1m10 0h1m5 0h1m-74 1h1m6 0h1m20 0h1m5 0h1m10 0h1m14 0h1m6 1h1m8 0h1m-79 1h1m46 2h1m20 0h1m7 0h1m-71 1h1m2 0h1m11 0h1m6 0h1m1 0h1m11 0h1m3 0h1m4 0h1m2 0h1m7 0h1m4 0h3m-64 1h1m14 0h1m6 0h1m2 0h1m3 0h1m3 0h3m5 0h1m11 0h1m2 0h1m4 0h1m8 0h1m-75 1h1m6 0h2m12 0h1m6 0h1m1 0h1m3 0h1m6 0h1m1 0h1m1 0h1m5 0h1m4 0h3m6 0h3m6 0h1m3 0h1m-81 1h1m28 0h1m5 0h1m3 0h1m13 0h1m4 0h1m1 0h1m6 0h2m-46 1h1m22 0h2m10 0h1m9 0h1m6 0h1m-76 1h1m22 0h1m-17 3h1m15 0h1m-7 1h1m24 0h1m14 0h1m-16 1h1m9 0h1m4 0h1m-1 1h1m-43 1h1m8 0h1m5 0h3m1 0h1m6 0h1m17 0h1m2 0h2m4 0h1m1 0h1m5 0h2m1 0h1m-48 1h1m24 0h1m12 0h1m-56 1h1m2 0h1m5 0h1m2 0h1m3 0h1m25 0h1m-43 1h1m8 0h1m2 0h1m7 0h1m2 0h1m18 0h2m11 0h1m-49 1h1m15 0h1m6 0h1m7 0h1m3 0h1m12 0h1m-69 1h1m2 0h1m2 0h1m11 0h1m1 0h1m1 0h1m20 0h1m18 0h1m-8 1h1m-36 1h1m23 0h1m10 0h2m-48 1h1m10 0h1m24 0h1m9 0h1m-57 1h1m7 0h1m1 0h1m2 0h1m2 0h2m3 0h2m18 0h1m13 0h1m1 0h1m1 0h2m14 0h1m2 0h1m-71 1h1m7 0h1m7 0h1m13 0h1m2 0h1m2 0h1m6 0h1m3 0h1m4 0h1m-54 1h2m3 0h1m19 0h1m5 0h1m40 0h1m-75 1h1m1 0h1m2 0h1m5 0h1m8 0h1m6 0h1m5 0h1m1 0h1m1 0h1m2 0h1m4 0h1m4 0h1m1 0h1m1 0h1m5 0h1m6 0h1m4 0h1m-73 1h1m1 0h1m1 0h1m1 0h1m4 0h1m7 0h2m5 0h2m11 0h1m3 0h1m17 0h2m4 0h1m2 0h1m3 0h1m-68 1h1m12 0h1m4 0h1m1 0h1m12 0h1m21 0h1m1 0h1m2 0h1m6 0h1m-55 1h1m16 0h1m24 0h1m-64 1h2m3 0h1m5 0h2m1 0h1m6 0h2m11 0h2m2 0h1m2 0h1m2 0h1m7 0h1m4 0h1m4 0h1m2 0h1m1 0h1m3 0h1m-68 1h1m7 0h1m1 0h1m6 0h2m15 0h1m3 0h1m20 0h1m1 0h1m-58 1h1m2 0h2m6 0h1m2 0h1m3 0h1m11 0h1m21 0h1m2 0h2m1 0h1m7 0h2m-62 1h1m60 0h1m-57 1h1m43 0h1m-69 1h2m17 0h1m7 0h1m31 0h1m-60 1h1m13 0h1m3 0h1m43 0h1m-49 2h1m3 0h1m-12 1h1m4 0h1m1 0h1m19 0h1m4 0h1m8 0h4m-45 1h1m10 1h1m16 0h1m3 0h1m27 0h1m-63 1h1m17 0h1m3 0h1m1 0h1m4 0h1m31 0h2m-68 1h1m2 0h1m4 0h1m6 0h1m1 0h1m2 0h1m1 0h2m4 0h1m2 0h2m7 0h1m3 0h1m1 0h1m2 0h1m1 0h1m4 0h1m1 0h1m6 0h2m6 0h1m1 0h2m-74 1h1m28 0h1m25 0h1m10 0h1m-60 1h1m3 0h1m35 0h1m7 0h1m-55 1h1m2 0h2m4 0h2m5 0h1m7 0h1m2 0h1m2 0h1m1 0h1m9 0h1m1 0h1m1 0h1m2 0h1m1 0h1m3 0h1m5 0h2m1 0h1m1 0h1m2 0h1m2 0h1m-64 1h1m10 0h1m41 0h1m-27 1h1m12 0h1m4 0h1m12 0h1m8 0h1m-79 1h1m1 0h1m7 0h1m1 0h1m14 0h1m1 0h1m3 0h1m9 0h2m1 0h1m1 0h1m1 0h2m1 0h1m6 0h1m2 0h2m4 0h2m-71 1h2m16 0h1m3 0h1m6 0h1m3 0h1m10 0h1m3 0h1m2 0h1m8 0h1m2 0h1m4 0h1m6 0h1m-54 1h1m6 0h1m20 0h1m-51 1h1m10 0h1m10 0h1m49 0h1m-53 1h1m12 0h1m3 0h1m22 0h1m1 0h1m9 0h1m3 0h1m-67 2h1m-4 1h1m13 0h1m10 0h1m20 0h2m3 0h1m17 0h1m-75 1h2m1 0h1m1 0h1m2 0h2m1 0h1m7 0h1m4 0h1m4 0h2m18 0h2m1 0h1m1 0h1m10 0h1m4 0h1m3 0h1m-74 1h1m8 0h1m18 0h4m17 0h1m1 0h1m1 0h1m10 0h2m3 0h2m2 0h1m-67 1h1m14 0h1m25 0h1m26 0h1m-80 1h1m5 0h1m27 0h1m-24 1h1m22 0h1m7 0h1m3 0h1m3 0h1m8 0h1m9 0h1m-59 1h1m-11 1h1m4 0h1m4 0h1m12 0h1m5 0h1m3 0h1m7 0h1m3 0h1m6 0h1m23 0h1m-78 1h2m4 0h1m12 0h1m10 0h1m2 0h2m1 0h1m2 0h1m2 0h1m3 0h1m8 0h1m3 0h1m7 0h2m-70 1h4m1 0h2m1 0h2m4 0h1m8 0h1m1 0h1m2 0h1m3 0h4m6 0h2m7 0h1m1 0h2m2 0h1m2 0h1m1 0h2m2 0h1m1 0h4m1 0h1m3 0h1m1 0h2m-78 1h1m3 0h1m23 0h1m28 2h1m-44 1h1m7 0h1m19 0h1m14 0h1m-51 1h1m39 0h1m7 0h1m9 0h1m-66 1h1m9 0h1m6 0h1m3 0h1m22 0h1m25 0h1m2 0h1m-77 1h1m32 0h1m4 0h1m7 0h1m15 0h1m10 0h1m1 0h1m1 0h1m-40 1h2m10 0h1m2 1h1m14 0h1m-62 1h1m14 0h1m14 0h1m1 0h1m18 0h1m7 0h1m4 0h1m8 0h1m-3 2h2m-3 1h1m1 0h1m-2 1h1m-77 1h1m2 0h1m29 0h1m7 0h1m2 0h1m4 0h1m1 0h1m11 0h1m14 0h1m-49 1h4m12 0h1m2 0h1m1 0h1m12 0h1m7 0h1m-42 1h1m40 0h1m3 0h1m-56 1h1m4 0h1m3 0h1m2 0h1m10 0h1m8 0h1m5 0h1m12 0h1m3 0h1m1 0h1m-79 1h1m1 0h2m2 0h1m1 0h3m3 0h1m2 0h2m2 0h1m2 0h1m1 0h2m2 0h3m11 0h2m4 0h2m1 0h2m1 0h2m1 0h1m1 0h1m2 0h2m1 0h1m1 0h2m2 0h1m2 0h2m-80 1h1m1 0h1m1 0h1m9 0h1m4 0h1m8 0h2m2 0h1m2 0h1m11 0h1m8 0h1m4 0h2m4 0h1m6 0h2m4 0h1m-7 1h1m-1 1h1m-75 1h1m5 0h1m11 0h1m55 0h1m-75 1h1m13 0h1m1 0h1m12 0h1m8 0h2m7 0h1m15 0h1m10 0h1m-46 1h1m7 0h1m8 0h1m9 0h1m6 0h1m3 0h1m6 0h1m-46 1h1m7 0h1m5 0h1m14 0h1m6 0h1m8 0h1m-38 1h1m-2 1h1m2 0h1m2 0h1m2 0h1m1 0h1m17 0h1m8 0h1m-70 1h1m8 0h1m21 0h1m16 0h1m5 0h1m14 0h1m5 0h1m-67 1h1m32 0h1m-33 1h2m21 0h1m26 0h1m1 0h1m5 0h2m-70 1h1m6 0h1m2 0h1m7 0h2m1 0h3m3 0h1m5 0h1m8 0h1m2 0h1m3 0h1m1 0h1m3 0h1m4 0h1m1 0h1m-44 1h1m6 0h1m6 0h1m7 0h1m11 0h1m8 0h1m1 0h1m3 0h1m-59 1h1m13 0h1m-14 1h1m1 0h2m37 0h1m8 0h1m-49 1h2m13 0h1m4 0h1m5 0h1m5 0h1m4 0h1m-47 1h1m6 0h1m13 0h1m10 0h1m8 0h1m9 0h2m8 0h1m-55 1h1m47 0h1m5 0h1m-70 1h1m4 0h1m13 0h1m40 0h1m8 0h1m-51 1h1m22 1h1m-40 2h1m13 0h2m15 0h1m-18 1h1m29 0h2m-15 1h1m2 0h1m-37 1h1m7 0h1m5 0h1m18 0h1m10 0h1m1 0h2m16 0h1m9 0h1m3 0h1m-80 1h1m1 0h1m6 0h1m5 0h2m13 0h1m6 0h1m2 0h1m2 0h1m4 0h2m3 0h1m14 0h1m6 0h1m-74 1h1m27 0h1m44 0h1m-74 1h1m6 0h1m20 0h1m3 0h1m16 0h1m18 0h1m-61 1h1m53 0h1m3 0h1m6 2h1m-59 1h1m1 0h1m6 0h1m5 0h1m10 0h1m1 0h1m7 0h1m16 0h1m5 0h1m-78 2h1m19 0h1m7 0h1m16 0h1m4 0h1m9 0h1m-57 1h2m2 0h1m2 0h2m3 0h3m1 0h1m2 0h1m1 0h2m4 0h1m2 0h3m3 0h3m3 0h2m2 0h1m1 0h1m6 0h3m2 0h1m2 0h1m2 0h1m1 0h3m1 0h2m1 0h1m-74 1h1m1 0h1m2 0h1m4 0h3m1 0h1m2 0h1m1 0h1m1 0h2m4 0h1m6 0h2m8 0h1m3 0h1m6 0h1m14 0h1m2 0h1m-74 1h1m16 0h1m16 0h1m26 0h1m-34 2h2m8 0h1m32 0h1m-74 1h1m9 0h1m7 0h2m11 0h1m5 0h1m14 0h1m12 0h3m-68 1h1m54 0h1m-56 1h1m5 0h1m12 0h1m4 0h1m6 0h1m34 0h1m-70 1h1m1 0h1m6 0h1m2 0h1m3 0h1m4 0h2m11 0h2m2 0h1m1 0h1m1 0h1m3 0h1m3 0h1m4 0h2m1 0h1m9 0h1m6 0h1m-73 1h1m5 0h1m2 0h1m1 0h1m3 0h1m15 0h1m7 0h1m10 0h1m3 0h2m12 0h1m3 0h1m-58 1h1m14 0h1m6 0h1m15 0h1m16 0h1m-72 1h2m3 0h1m4 0h1m3 0h1m1 0h1m17 0h1m1 0h2m6 0h1m3 0h1m4 0h1m1 0h2m8 0h1m2 0h1m2 0h1m1 0h1m3 0h1m-78 1h2m7 0h2m4 0h1m10 0h1m3 0h1m3 0h1m3 0h1m5 0h1m4 0h1m6 0h1m1 0h1m7 0h1m3 0h2m2 0h1m1 0h1m-80 1h1m2 0h1m4 0h1m2 0h1m1 0h1m1 0h1m2 0h1m5 0h1m6 0h1m1 0h1m2 0h2m5 0h1m3 0h1m17 0h1m6 0h3m-57 1h1m11 0h1m38 0h1m3 0h1m-63 2h1m3 0h1m-5 1h1m-6 2h1m30 0h1m10 0h1m14 0h1m9 0h1m-2 1h1m-31 1h1m19 0h1m5 0h2m2 0h2m-9 1h1m7 0h1m-63 1h1m3 0h1m18 0h1m1 0h1m5 0h1m8 0h1m8 0h1m4 0h1m5 0h1m-67 1h1m4 0h1m1 0h3m1 0h1m1 0h2m1 0h2m1 0h2m3 0h2m1 0h1m1 0h1m3 0h1m1 0h2m2 0h1m1 0h1m4 0h3m5 0h1m1 0h2m1 0h1m3 0h5m2 0h1m1 0h3m-79 1h1m7 0h1m3 0h1m1 0h1m6 0h1m15 0h1m2 0h2m22 0h2m10 0h1m-77 1h1m7 0h1m1 0h1m3 0h1m1 0h1m14 0h1m13 0h1m10 0h1m3 0h1m3 0h1m1 0h1m2 0h1m1 0h1m3 0h1m-68 1h1m7 0h1m31 0h1m7 0h1m3 0h1m5 0h1m2 0h1m-66 1h1m7 0h1m3 0h3m1 0h2m11 0h1m2 0h1m1 0h1m1 0h1m7 0h1m1 0h1m1 0h1m8 0h1m3 0h3m1 0h1m2 0h1m-72 1h1m2 0h1m3 0h1m2 0h2m1 0h1m1 0h1m12 0h1m6 0h1m3 0h1m8 0h1m2 0h1m5 0h1m1 0h1m5 0h1m2 0h1m1 0h1m2 0h1m1 0h1m2 0h1m-79 1h1m2 0h2m4 0h3m3 0h1m3 0h1m2 0h1m3 0h3m6 0h1m3 0h1m7 0h1m1 0h2m6 0h1m1 0h3m1 0h1m4 0h1m3 0h1m1 0h1m2 0h2m-11 1h1m-30 1h1m8 0h1m10 0h1m-61 1h1m35 0h1m3 0h1m2 0h1m6 0h1m2 0h1m11 0h1m2 0h1m-58 1h1m8 0h1m22 0h1m2 0h1m1 0h1m3 0h1m7 0h1m2 0h1m2 0h1m1 0h1m10 1h1m-12 1h1m-4 1h1m-51 2h1m27 0h1m23 0h1m-66 1h1m3 0h1m15 0h1m11 0h1m7 0h1m23 0h2m-66 1h1m2 0h1m9 0h1m2 0h1m1 0h1m1 0h1m2 0h3m12 0h1m5 0h1m1 0h2m6 0h1m1 0h2m5 0h1m1 0h1m2 0h3m3 0h2m1 0h1m-78 1h1m4 0h1m7 0h1m4 0h1m4 0h3m12 0h1m2 0h1m2 0h1m5 0h1m1 0h1m3 0h1m2 0h2m8 0h1m4 0h1m2 0h1m-65 1h2m8 0h1m1 0h1m1 0h1m16 0h1m5 0h1m-46 1h1m7 0h1m16 0h1m13 0h1m-48 1h2m1 0h1m4 0h2m3 0h1m2 0h1m8 0h2m1 0h1m1 0h1m3 0h3m7 0h1m3 0h2m8 0h2m2 0h2m3 0h1m4 0h1m-65 1h1m4 0h1m11 0h2m14 0h1m5 0h1m-33 1h1m4 0h1m4 0h2m3 0h1m4 0h1m5 0h1m1 0h1m19 0h1m4 0h1m4 0h2m-74 1h1m1 0h1m16 0h1m5 0h1m5 0h1m2 0h1m26 0h1m4 0h1m-60 2h1m22 0h1m5 0h1m26 0h1m8 0h1m-68 1h1m1 0h1m13 0h2m1 0h1m2 0h3m4 0h3m4 0h1m3 0h1m2 0h1m2 0h2m3 0h1m2 0h1m11 0h2m3 0h2m-77 1h1m9 0h1m14 0h2m3 0h1m4 0h1m22 0h1m4 0h1m12 0h1m-77 1h1m3 0h1m10 0h1m2 0h1m4 0h1m2 0h1m2 0h1m19 0h1m-27 1h1m5 0h1m2 0h1m14 0h1m16 0h1m5 0h1m-60 1h1m3 0h1m10 0h1m2 0h1m9 0h1m1 0h2m26 0h1m8 0h1m-75 1h1m9 0h2m10 0h1m2 0h2m16 0h1m2 0h1m1 0h1m17 0h2m-69 1h1m2 0h1m13 0h1m4 0h1m3 0h1m7 0h1m12 0h1m4 0h1m14 0h1m7 0h1m-54 1h1m24 0h1m17 0h1m9 0h1m-76 1h2m7 0h1m1 0h3m3 0h2m3 0h1m9 0h1m11 0h1m4 0h1m7 0h1m2 0h1m1 0h1m2 0h1m1 0h1m1 0h1m2 0h1m-72 1h1m1 0h1m7 0h1m17 0h1m2 0h1m2 0h1m2 0h2m1 0h1m6 0h1m3 0h1m13 0h1m2 0h1m5 0h1m-78 1h1m1 0h1m4 0h1m9 0h1m2 0h1m3 0h1m5 0h1m6 0h1m6 0h3m1 0h3m6 0h1m8 0h1m1 0h4m1 0h2m2 0h1m-81 1h1m1 0h1m4 0h1m3 0h1m4 0h1m6 0h1m1 0h3m2 0h2m1 0h1m6 0h2m3 0h2m5 0h1m9 0h1m8 0h3m3 0h1m2 0h1m-73 1h2m5 0h2m3 0h1m2 0h1m1 0h1m3 0h1m1 0h1m1 0h1m5 0h2m2 0h1m7 0h1m2 0h1m8 0h1m16 0h1m-81 1h6m1 0h1m3 0h2m1 0h2m3 0h4m2 0h1m1 0h2m2 0h2m1 0h2m3 0h2m2 0h2m1 0h1m1 0h1m1 0h1m1 0h3m1 0h2m1 0h2m1 0h1m4 0h1m1 0h5m1 0h1m3 0h2m-72 1h1m6 0h2m2 0h1m9 0h1m18 0h1m3 0h1m15 0h2m4 0h1m-75 1h1m6 0h2m12 0h1m7 0h2m4 0h1m6 0h1m1 0h2m1 0h1m3 0h1m9 0h1m3 0h2m1 0h1m1 0h1m1 0h2m2 0h1m1 0h1m-78 1h2m4 0h1m21 0h1m2 0h3m3 0h1m5 0h1m1 0h1m4 0h2m12 0h1m2 0h3m3 0h1m3 0h1m-80 1h2m7 0h1m12 0h1m10 0h1m13 0h3m11 0h1m7 0h1m4 0h1m4 0h1m-43 1h1m-5 2h1m3 0h1m30 0h1m-67 1h1m22 0h1m2 0h2m2 0h2m3 0h1m8 0h1m8 0h1m1 0h1m11 0h1m4 0h1m-57 1h1m10 0h1m4 0h1m11 0h1m10 0h1m-58 1h2m2 0h1m6 0h1m6 0h1m4 0h1m7 0h1m2 0h1m2 0h1m2 0h2m2 0h1m2 0h1m8 0h2m4 0h1m11 0h1m-75 1h2m2 0h2m7 0h1m20 0h1m2 0h2m9 0h1m8 0h1m1 0h1m2 0h1m9 0h1m1 0h1m-75 1h1m32 0h1m3 0h2m2 0h1m2 0h1m1 0h1m33 0h1m-81 1h1m8 0h1m9 0h2m12 0h1m10 0h2m2 0h2m18 0h1m11 0h1m-46 1h1m1 0h1m3 0h1m4 0h1m2 0h2m4 0h1m17 0h1m6 0h1m-46 1h1m9 0h4m3 0h2m19 0h1m6 0h1m-47 1h1m10 0h1m2 0h1m3 0h1m2 0h2m-32 1h1m14 0h1m1 0h2m2 0h1m5 0h2m2 0h1m20 0h1m-39 1h2m1 0h1m3 0h1m1 0h2m3 0h1m2 0h1m-23 1h1m10 0h1m-12 1h1m6 0h1m3 0h1m1 0h1m7 0h1m-22 1h1m10 0h1m-41 1h1m28 0h1m2 0h1m17 0h1m6 0h1m-18 1h1m1 0h1m4 0h1m-41 1h1m24 0h2m3 0h1m2 0h1m1 0h1m6 0h1m-8 1h2m-49 1h1m1 0h1m4 0h3m1 0h1m4 0h2m2 0h2m4 0h2m3 0h1m1 0h3m5 0h2m6 0h1m6 0h1m1 0h1m3 0h3m4 0h1m1 0h2m3 0h2m2 0h1m-79 1h2m13 2h1m-1 1h2m7 0h1m4 0h1m30 0h1m8 0h1m6 0h1m-78 1h1m39 0h1m16 0h1m-53 1h1m7 0h1m2 0h1m22 0h1m17 0h1m3 0h1m12 0h1m-60 1h1m13 0h1m10 0h1m33 0h1m-35 1h1m-34 1h1m15 0h1m4 0h1m24 0h1m2 0h1m4 0h1m-60 1h1m1 0h1m1 0h1m8 0h1m7 0h1m20 0h1m8 0h1m14 0h1m-54 1h1m22 0h1m13 0h1m7 0h1m1 0h1m-63 1h1m3 0h1m3 0h1m6 0h1m3 0h2m5 0h2m24 0h1m4 0h1m-58 1h2m2 0h5m3 0h1m1 0h2m3 0h2m5 0h1m2 0h1m3 0h1m3 0h1m3 0h3m7 0h1m5 0h2m1 0h1m4 0h1m3 0h2m3 0h1m2 0h1m-78 1h1m22 0h1m4 0h1m36 0h1m5 0h1m-64 1h1m17 0h1m1 1h2m31 0h1m15 0h1m-30 1h1m8 0h1m1 0h1m3 0h1m-61 2h1m4 0h1m9 0h1m4 0h1m6 0h2m1 0h1m4 0h1m3 0h2m2 0h1m3 0h1m1 0h1m2 0h1m1 0h1m1 0h2m1 0h1m8 0h1m2 0h1m2 0h1m-77 1h1m8 0h1m5 0h1m3 0h1m2 0h1m4 0h1m6 0h2m2 0h1m3 0h1m2 0h1m3 0h2m1 0h1m6 0h4m7 0h1m2 0h1m3 0h1m-74 1h1m11 0h1m7 0h1m4 0h1m5 0h1m9 0h1m4 0h1m8 0h2m5 0h2m-39 1h1m33 0h1m13 0h1m-49 1h1m5 0h1m1 0h1m20 0h1m4 0h1m8 0h1m-73 1h1m12 0h1m15 0h1m4 0h2m1 0h1m10 0h3m25 0h2m-78 1h1m2 0h2m8 0h1m16 0h1m1 0h1m1 0h2m1 0h2m19 0h1m2 0h1m3 0h1m-28 1h1m-27 2h1m10 0h1m6 0h1m3 0h2m7 0h1m17 0h1m1 0h1m12 0h1m-42 1h1m-33 1h1m5 0h1m2 0h1m2 0h1m4 0h1m8 0h1m4 0h1m23 0h1m1 0h2m3 0h1m-66 2h1m3 0h1m2 0h1m10 0h1m7 0h1m7 0h1m7 0h3m10 0h1m5 0h1m3 0h2m9 0h1m-78 1h1m20 0h1m7 0h1m6 0h1m1 0h1m4 0h2m17 0h1m-42 1h1m22 0h1m17 0h1m-49 1h1m-12 1h1m2 0h1m1 0h1m2 0h1m8 0h1m2 0h1m4 0h1m11 0h1m3 0h1m1 0h1m2 0h1m3 0h2m1 0h1m4 0h1m2 0h1m2 0h1m-63 1h2m2 0h1m10 0h1m2 0h2m7 0h1m7 0h1m36 0h1m-65 1h1m8 0h1m37 0h1m16 0h1m-79 1h1m2 0h1m4 0h1m5 0h1m2 0h2m29 0h1m1 0h1m8 0h1m12 0h1m6 0h1m-72 1h1m1 0h1m2 0h1m2 0h2m3 0h1m1 0h1m24 0h1m5 0h1m1 0h2m1 0h2m1 0h1m2 0h4m8 0h2m-49 2h1m23 0h1m7 0h1m-16 1h1m2 0h1m3 0h1m12 0h1m7 0h1m-74 1h1m2 0h1m1 0h2m2 0h1m1 0h2m2 0h2m1 0h1m1 0h1m3 0h1m3 0h3m1 0h1m1 0h1m1 0h1m1 0h2m2 0h4m1 0h2m1 0h1m1 0h1m3 0h1m2 0h1m1 0h2m1 0h3m1 0h3m5 0h1m-39 1h1m6 0h1m6 0h2m6 0h1m6 0h1m-51 1h1m12 0h1m1 0h1m20 0h1m1 0h1m-38 1h1m6 0h1m12 0h1m25 0h1m-27 1h1m8 0h1m-28 1h1m4 0h1m13 0h1m17 0h1m1 0h2m3 0h1m7 0h1m2 0h2m-15 1h1m-61 1h1m57 0h1m1 0h1m11 0h1m-70 1h2m26 0h1m4 0h1m0 1h1m-42 1h2m5 0h1m2 0h1m2 0h2m3 0h1m1 0h3m2 0h1m3 0h1m2 0h1m2 0h1m5 0h3m1 0h1m8 0h1m2 0h1m4 0h1m3 0h1m1 0h1m1 0h1m2 0h2m-74 1h1m4 0h1m1 0h1m6 0h2m4 0h1m7 0h1m2 0h2m8 0h3m6 0h1m2 0h1m2 0h1m4 0h1m1 0h1m1 0h2m6 0h1m4 0h1m-72 1h1m2 0h1m9 0h1m2 0h3m6 0h1m1 0h1m2 0h1m2 0h3m1 0h1m1 0h1m4 0h1m9 0h1m10 0h1m-72 1h1m4 0h1m13 0h1m15 0h2m3 0h2m3 0h1m4 0h1m12 0h2m1 0h1m6 0h1m4 0h1m-74 1h3m1 0h2m1 0h1m1 0h1m1 0h1m1 0h1m17 0h1m3 0h2m3 0h1m4 0h1m1 0h2m6 0h1m1 0h1m1 0h1m1 0h1m6 0h1m-70 1h1m1 0h1m3 0h1m1 0h1m12 0h1m9 0h2m13 0h1m1 0h1m24 0h1m-74 1h3m24 0h1m20 0h1m2 0h1m4 0h1m-57 1h1m3 0h1m5 0h1m1 0h1m8 0h1m2 0h1m1 0h4m2 0h4m3 0h1m2 0h1m1 0h1m3 0h1m2 0h1m2 0h1m1 0h1m7 0h1m3 0h1m2 0h2m-71 1h1m3 0h1m7 0h1m13 0h1m6 0h1m2 0h1m34 0h2m-73 1h3m2 0h1m6 0h1m13 0h1m3 0h1m28 2h2m2 0h1m-35 2h1m9 0h1m8 0h1m11 0h1m-64 1h1m12 0h1m15 0h1m2 0h1m18 0h1m23 0h1m-77 4h2m3 0h1m11 0h1m-18 1h1m6 0h1m8 0h1m4 0h1m11 0h1m7 0h1m6 0h1m1 0h2m15 0h1m3 0h1m-72 1h1m1 0h1m2 0h1m3 0h2m1 0h3m1 0h1m3 0h1m1 0h1m1 0h2m7 0h1m4 0h1m7 0h1m5 0h1m4 0h2m17 0h1m-77 1h1m8 0h1m3 0h1m3 0h1m4 0h1m16 0h1m13 0h1m13 0h1m-40 1h1m-6 1h1m10 0h1m30 0h1m-68 1h1m1 0h1m27 0h1m26 0h1m5 0h1m2 0h2m8 0h1m-77 1h1m6 0h1m5 0h1m8 0h1m7 0h1m5 0h1m1 0h1m24 0h1m3 0h1m7 0h1m-76 1h1m4 0h1m1 0h1m1 0h1m2 0h2m5 0h1m1 0h1m5 0h1m4 0h1m2 0h1m2 0h1m7 0h1m2 0h1m4 0h1m1 0h1m3 0h1m1 0h3m3 0h2m2 0h2m1 0h2m1 0h1m-81 1h1m28 0h1m8 0h1m5 0h1m6 0h1m12 0h3m8 0h1m1 0h1m-69 1h1m12 0h1m6 0h1m41 0h1m3 0h2m-70 1h3m15 0h1m2 0h2m2 0h1m1 0h1m1 0h2m3 0h1m1 0h2m9 0h1m7 0h1m7 0h2m1 0h1m1 0h1m3 0h2m-81 1h1m1 0h1m1 0h1m1 0h2m3 0h2m3 0h2m1 0h2m1 0h1m1 0h2m2 0h4m2 0h1m1 0h1m1 0h3m2 0h1m3 0h1m5 0h2m1 0h2m1 0h1m4 0h1m1 0h1m1 0h1m1 0h1m1 0h1m2 0h5m-76 1h1m4 0h1m2 0h1m6 0h1m1 0h1m13 0h1m5 0h1m1 0h3m1 0h2m14 0h1m4 0h1m2 0h1m1 0h1m3 0h1m-78 1h1m34 0h1m2 0h1m4 0h2m-29 1h1m18 0h1m36 0h3m-65 1h1m36 0h1m15 0h1m-47 1h1m18 0h1m5 0h1m21 0h1m1 0h1m6 0h2m-28 1h1m7 0h1m-43 1h1m33 1h1m7 0h1m21 0h1m2 0h1m-79 1h1m1 0h1m7 0h1m24 0h1m2 0h1m3 0h1m2 0h1m7 0h1m8 0h1m4 0h1m5 0h1m-18 1h1m-56 1h1m8 0h2m3 0h1m3 0h1m2 0h2m11 0h1m2 0h1m7 0h1m4 0h2m14 0h1m-68 1h1m13 0h1m7 0h1m1 0h1m6 0h1m6 0h1m2 0h2m15 0h1m2 0h1m7 0h1m1 0h1m-65 1h1m6 0h1m20 0h1m6 0h1m6 0h1m23 0h1m-73 1h1m17 0h1m18 0h1m8 0h1m3 0h1m16 0h1m-59 1h1m1 0h1m3 0h1m2 0h2m7 0h1m4 0h2m3 0h1m5 0h1m2 0h1m3 0h1m9 0h1m6 0h1m3 0h1m-69 1h1m14 0h1m13 0h1m6 0h1m20 0h1m-52 1h1m8 0h1m13 0h1m28 0h1m6 0h1m6 0h1m-33 1h1m31 2h1m-4 1h1m-68 1h1m3 0h1m7 0h1m3 0h1m42 0h1m7 0h1m1 0h1m-66 1h1m2 0h2m55 0h1m-41 2h1m3 0h1m4 0h1m6 0h1m13 0h1m1 0h1m2 0h1m-68 1h1m19 0h1m3 0h2m1 0h2m2 0h1m1 0h1m14 0h1m1 0h1m2 0h1m7 0h1m2 0h1m-61 1h2m2 0h1m3 0h1m7 0h1m1 0h1m1 0h1m3 0h1m6 0h1m2 0h1m9 0h1m2 0h1m11 0h2m1 0h1m4 0h2m-69 1h1m14 0h1m2 0h1m5 0h1m19 0h1m2 0h1m9 0h1m1 0h2m14 0h1m-49 1h1m14 0h1m4 0h1"/><path stroke="#C6E2F5" stroke-opacity="0.8" d="M55 20.5h1m18 6h1m-63 12h1m62 12h1m-33 13h1m-36 4h1m64 20h1m-49 3h1m-17 6h1m65 23h1m-73 3h1m29 18h1m25 5h1m-20 5h1m13 5h1m10 13h1m-62 10h1m40 20h1m-27 3h1m19 3h1m-22 4h1m-7 4h1m50 11h1m-44 5h1m-8 2h1m24 14h1m-32 7h1m49 12h1m-53 18h1m-3 36h1m0 2h1m11 41h1m56 1h1m-5 2h1m-38 4h1m27 7h1m-61 9h1m46 14h1m-39 1h1m0 8h1m14 23h1m-5 6h1m19 6h1m11 15h1m0 20h1m-21 27h1m23 1h1m16 1h1m-50 13h1m38 4h1m-22 1h1m0 5h1m11 1h1m-55 8h1m76 15h1m-72 19h1m36 1h1m-34 9h1m14 2h1m29 11h1m13 2h1m-14 7h1m14 8h1m-61 13h1m24 0h1m19 4h1m19 8h1m-55 16h1m12 0h1m40 0h1m-8 6h1m-17 4h1m-28 6h1m24 7h1m-50 17h1m53 1h1m-52 4h1m37 15h1m31 3h1"/><path stroke="#D6ECFA" stroke-opacity="0.55" d="M54 6.5h1m9 16h1m-51 9h1m-2 1h1m65 4h1m-20 6h1m5 0h1m-66 3h1m12 6h1m-15 2h1m30 3h1m43 1h1m-75 12h1m66 4h1m-22 2h1m7 9h1m7 7h1m-40 2h1m24 0h1m-30 8h1m49 0h1m9 0h1m-2 6h1m-51 6h1m37 1h1m-36 1h1m-21 3h1m59 0h1m5 0h1m-39 1h1m10 0h1m20 0h1m-72 21h1m30 28h1m47 0h1m-36 3h1m-11 4h1m1 10h1m-1 1h1m21 2h1m-1 1h1m0 4h1m-39 5h1m-1 1h1m-3 3h1m20 3h1m-20 8h1m26 0h1m27 11h1m-1 1h1m-72 12h1m44 0h1m-45 10h1m36 0h1m-38 1h1m-1 1h1m35 0h1m9 0h1m22 0h1m-43 1h1m17 0h1m23 0h1m1 2h1m-62 3h1m28 8h1m-43 2h1m-3 1h1m40 1h1m17 3h1m-38 13h1m-23 1h1m26 16h1m42 1h1m-25 4h1m1 1h1m-51 4h1m1 0h1m66 10h1m-70 11h1m52 0h1m-3 7h1m-11 5h1m-29 8h1m-8 2h1m-2 13h1m9 4h1m49 0h1m-3 5h1m-56 9h1m20 0h1m18 0h1m-38 11h1m12 0h1m38 6h1m-52 2h1m-12 1h1m15 0h1m11 0h1m26 0h1m18 0h1m1 0h1m-18 4h1m1 12h1m-13 4h1m-37 1h1m-4 7h1m4 0h1m15 0h1m5 0h1m-33 1h1m46 0h1m-22 2h1m30 0h1m-36 9h1m13 2h1m-33 3h1m-4 5h1m63 2h1m-40 1h1m-3 5h1m-5 9h1m18 0h1m-30 1h1m35 2h1m12 6h1m-24 2h1m-23 12h1m-8 6h1m33 0h1m-1 1h1m15 0h1m-1 1h1m-12 10h1m11 1h1m-33 1h1m-24 9h1m22 2h1m45 1h1m-73 1h1m10 5h1m-15 1h1m17 0h1m36 3h1m-29 6h1m9 2h1m7 7h1m-18 1h1m-21 10h1m-1 3h1m-1 1h1m14 19h1m-1 1h1m46 4h1m6 6h1m-30 15h1m-8 5h1m-35 1h1m59 6h1m-71 5h1m56 0h1m-30 1h1m-24 1h1m58 2h1m-62 3h1m60 6h1m-46 3h1m11 0h1m-13 3h1m43 9h1m-9 4h1m-49 2h1m45 8h1m5 0h1m10 10h1m-21 6h1m-11 2h1m32 2h1m-57 4h1m39 14h1m12 0h1m2 0h1m-72 1h1m10 0h1m22 0h1m5 0h1m7 0h1m6 0h1m-13 5h1"/><path stroke="#E4F3F8" stroke-opacity="0.35" d="M24 .5h1m18 0h1m6 0h1m4 0h2m-21 2h1m31 1h2m-59 2h1m-6 1h1m1 0h1m2 0h1m3 0h1m2 0h1m8 0h2m7 0h1m2 0h1m8 0h1m2 0h1m1 0h1m3 0h3m1 0h1m1 0h1m1 0h1m-58 1h1m2 0h1m6 0h1m1 0h1m1 0h1m5 0h1m2 0h1m4 0h1m2 0h1m12 0h1m5 0h1m2 0h1m3 0h2m1 0h1m1 0h2m1 0h1m-73 1h1m6 0h1m2 0h1m6 0h2m2 0h1m6 0h1m1 0h1m6 0h2m14 0h1m3 0h1m1 0h1m-56 1h1m3 0h1m1 0h1m3 0h1m2 0h1m1 0h1m1 0h1m4 0h1m4 0h1m3 0h1m1 0h2m4 0h1m3 0h1m2 0h1m2 0h1m2 0h2m1 0h1m4 0h1m14 0h1m-49 1h1m5 0h1m26 0h1m-34 1h1m46 0h1m-79 1h1m3 0h1m10 0h2m4 0h1m1 0h1m4 0h1m2 0h1m2 0h1m2 0h1m5 0h1m6 0h1m2 0h1m3 0h1m5 0h1m3 0h1m1 0h1m3 0h2m1 0h1m2 0h1m-45 2h1m-5 1h1m14 0h1m-30 1h1m-9 1h1m7 0h1m-13 1h1m11 0h1m3 0h1m23 0h1m3 0h1m-50 1h2m3 0h1m5 0h1m3 0h1m1 0h1m3 0h1m16 0h1m1 0h3m2 0h2m1 0h1m2 0h2m4 0h1m2 0h1m1 0h1m3 0h1m2 0h1m-70 1h1m3 0h1m10 0h1m5 0h1m1 0h1m4 0h1m6 0h1m4 0h1m5 0h2m1 0h1m1 0h1m10 0h1m-45 1h1m27 0h1m25 0h1m-70 1h1m13 0h1m22 0h1m19 0h1m-55 1h1m37 0h1m18 0h1m-53 2h3m10 0h1m19 0h1m8 0h1m4 0h1m19 0h1m-79 1h1m1 0h2m8 0h2m3 0h1m2 0h1m3 0h2m4 0h1m1 0h2m1 0h1m4 0h1m1 0h1m1 0h1m5 0h1m4 0h1m1 0h3m6 0h1m1 0h2m8 0h1m-76 1h3m14 0h2m8 0h1m2 0h1m16 0h1m4 0h1m20 0h1m-68 1h1m20 0h1m2 0h1m16 0h1m12 0h1m-43 1h1m10 0h1m25 0h1m4 0h1m-61 1h2m1 0h1m1 0h1m3 0h1m3 0h1m4 0h1m1 0h1m1 0h1m3 0h2m1 0h1m1 0h1m2 0h1m2 0h3m1 0h1m6 0h1m3 0h2m1 0h1m3 0h1m4 0h2m5 0h1m1 0h1m1 0h1m-80 1h1m5 0h2m1 0h1m3 0h1m17 0h1m6 0h1m13 0h1m3 0h3m5 0h2m4 0h2m-72 1h1m37 0h1m23 0h1m1 0h1m10 0h1m-74 1h1m4 0h1m5 0h2m1 0h2m7 0h1m1 0h1m3 0h1m1 0h1m4 0h2m12 0h1m3 0h2m4 0h1m1 0h2m1 0h1m2 0h1m8 0h1m-79 1h1m36 0h1m20 0h1m-60 2h1m12 0h1m4 0h1m1 0h1m1 0h1m5 0h1m2 0h1m4 0h1m1 0h1m5 0h1m10 0h4m2 0h1m4 0h1m-52 1h1m6 0h1m5 0h1m26 0h1m2 0h2m6 0h1m-65 1h1m15 0h1m5 0h1m3 0h1m14 0h1m14 0h2m12 0h1m5 0h2m-78 1h1m17 0h1m4 0h1m2 0h1m4 0h1m2 0h3m2 0h1m16 0h1m4 0h1m10 0h1m4 0h1m-46 1h1m31 0h1m-47 1h1m45 0h1m-65 1h1m17 0h1m3 0h1m3 0h1m15 0h1m13 0h1m6 0h1m6 0h1m3 0h1m-59 1h1m1 0h1m2 0h1m26 0h1m8 0h1m6 0h1m5 0h1m-61 1h1m3 0h1m1 0h1m1 0h1m11 0h1m3 0h1m3 0h1m8 0h1m12 0h1m3 0h1m5 0h1m7 0h1m-81 1h1m13 0h1m3 0h1m5 0h1m7 0h1m3 0h2m2 0h1m2 0h3m3 0h2m8 0h2m5 0h1m1 0h1m3 0h1m7 0h1m-44 1h1m6 0h1m21 0h1m-60 1h2m3 0h1m24 0h1m4 0h2m3 0h1m24 0h1m-73 1h1m7 0h1m11 0h1m3 0h1m5 0h1m5 0h1m-29 1h2m-5 1h1m5 0h1m8 0h1m19 0h1m2 0h1m11 0h1m1 0h2m6 0h1m8 0h1m1 0h1m2 0h1m-80 1h1m4 0h1m14 0h1m2 0h1m9 0h1m5 0h1m18 0h1m6 0h1m-66 1h1m1 0h1m6 0h1m6 0h1m3 0h2m4 0h1m1 0h1m1 0h1m8 0h1m3 0h1m5 0h1m1 0h1m8 0h1m1 0h2m1 0h2m13 0h1m-72 1h1m6 0h1m4 0h1m2 0h1m2 0h1m11 0h1m3 0h1m5 0h1m1 0h3m6 0h2m1 0h1m6 0h1m5 0h3m1 0h1m-38 1h1m9 0h1m-37 1h1m9 0h1m16 0h1m11 0h1m-53 1h1m-5 1h1m5 0h1m11 0h2m10 0h1m5 0h1m9 0h1m24 0h2m-67 1h1m57 0h1m-59 1h1m17 0h1m21 0h1m4 0h1m9 0h1m-38 1h1m21 0h1m4 2h1m3 0h1m3 0h1m9 0h1m-43 1h1m17 0h1m-22 1h1m3 1h1m27 0h1m-49 1h1m1 0h1m7 0h2m36 0h1m13 0h1m6 0h1m-68 2h1m5 0h1m26 0h1m2 0h1m7 0h1m7 0h1m0 1h1m-49 1h1m29 0h1m10 0h1m6 0h1m-18 1h1m11 1h1m15 0h1m2 0h1m-33 1h1m12 0h1m6 0h1m-42 1h2m19 0h3m4 0h1m16 0h1m4 0h1m4 0h1m-79 1h2m8 0h1m7 0h1m4 0h2m3 0h1m2 0h1m1 0h1m2 0h2m4 0h1m1 0h2m2 0h1m2 0h1m1 0h2m1 0h2m4 0h2m4 0h2m3 0h1m2 0h1m1 0h1m-75 1h1m13 0h3m2 0h2m1 0h1m1 0h1m15 0h1m5 0h1m3 0h1m2 0h1m17 0h1m2 0h1m-79 1h1m5 0h1m11 0h2m3 0h1m2 0h1m6 0h1m16 0h1m2 0h1m2 0h1m17 0h1m1 0h1m-27 1h1m5 1h1m-38 1h1m5 0h1m9 0h1m5 0h1m3 0h1m10 0h1m4 0h1m3 0h1m-66 1h1m2 0h1m10 0h1m18 0h1m1 0h3m3 0h1m3 0h1m7 0h1m3 0h1m18 0h1m2 0h1m-77 1h1m20 0h1m1 0h1m1 0h1m6 0h3m1 0h1m1 0h1m3 0h1m5 0h1m1 0h1m3 0h1m4 0h2m11 0h1m3 0h1m-55 1h1m31 0h1m5 0h1m-1 1h1m-31 1h1m23 0h1m5 0h1m12 0h1m-66 1h1m63 0h3m-77 1h1m5 0h1m1 0h1m1 0h2m3 0h4m4 0h2m3 0h1m1 0h1m3 0h4m2 0h2m1 0h1m5 0h1m4 0h4m2 0h1m1 0h1m3 0h2m1 0h2m2 0h4m-44 1h1m23 0h1m8 0h1m-65 1h1m5 0h1m1 0h2m5 0h2m5 0h1m8 0h1m6 0h1m8 0h1m2 0h1m1 0h1m3 0h1m7 0h1m3 0h1m5 0h1m-59 1h1m5 0h1m45 0h1m-68 1h1m8 0h2m4 0h1m2 0h2m41 0h2m3 0h2m-69 1h1m1 0h1m1 0h1m1 0h1m3 0h1m8 0h2m11 0h1m29 0h3m2 0h1m-72 1h1m2 0h1m1 0h1m2 0h1m5 0h1m5 0h1m7 0h1m7 0h2m28 0h1m4 0h1m5 0h2m-79 1h1m9 0h1m1 0h1m15 0h1m5 0h1m3 0h2m-16 1h1m-7 1h1m-1 1h1m31 0h1m-33 1h1m18 0h1m9 0h1m6 0h1m16 0h1m5 0h1m-61 1h2m7 0h1m15 0h1m1 0h1m4 0h1m3 0h1m3 0h1m18 0h1m-59 1h1m7 0h1m6 0h1m17 0h1m18 0h1m9 0h1m-80 1h3m3 0h1m1 0h1m1 0h1m1 0h1m3 0h3m3 0h1m2 0h1m4 0h2m3 0h1m2 0h1m3 0h2m2 0h1m2 0h1m4 0h1m1 0h1m3 0h1m3 0h1m1 0h1m1 0h1m1 0h1m4 0h1m-70 1h2m11 0h1m2 0h1m2 0h1m5 0h1m3 0h1m7 0h1m1 0h1m3 0h1m14 0h1m4 0h1m5 0h1m-41 1h1m22 0h1m7 0h1m8 0h1m-41 1h1m35 0h1m-43 1h1m-29 1h1m6 0h1m3 0h1m3 0h1m3 0h1m1 0h1m3 0h1m2 0h1m3 0h3m2 0h1m1 0h1m3 0h1m4 0h1m2 0h1m9 0h1m4 0h1m3 0h1m1 0h1m2 0h1m-76 1h1m6 0h1m3 0h1m4 0h1m1 0h2m8 0h1m3 0h1m1 0h1m5 0h1m16 0h1m3 0h1m3 0h4m-70 1h2m10 0h1m3 0h1m1 0h3m4 0h2m2 0h2m1 0h1m4 0h2m11 0h1m3 0h1m11 0h1m5 0h2m2 0h1m-71 1h1m12 0h1m8 0h1m4 0h1m3 0h1m2 0h4m12 0h1m7 0h1m1 0h1m5 0h2m2 0h1m1 0h1m-71 1h1m21 0h1m28 0h1m12 0h1m-33 1h1m16 0h1m14 0h1m-42 1h1m8 0h1m12 0h1m21 0h1m1 0h1m-78 1h1m7 0h1m6 0h1m3 0h1m1 0h1m1 0h1m7 0h1m1 0h1m2 0h1m10 0h1m2 0h1m2 0h1m3 0h1m3 0h1m4 0h1m5 0h1m4 0h1m-78 1h1m4 0h1m5 0h1m19 0h1m12 0h1m2 0h1m3 0h3m-54 1h1m7 0h1m2 0h1m3 0h1m16 0h1m5 0h1m8 0h1m3 0h4m3 0h2m1 0h2m3 0h1m7 0h1m1 0h2m-61 1h1m13 0h1m17 0h2m10 0h1m7 0h2m3 0h2m1 0h1m-70 1h1m1 0h1m4 0h1m10 0h1m1 0h1m2 0h2m14 0h1m2 0h1m5 0h1m10 0h1m2 0h2m2 0h1m2 0h1m-78 1h1m1 0h2m2 0h2m1 0h2m2 0h3m1 0h4m2 0h1m4 0h1m2 0h3m1 0h2m2 0h1m5 0h1m1 0h4m2 0h1m3 0h2m1 0h5m1 0h1m6 0h2m-76 1h2m3 0h1m2 0h1m1 0h3m2 0h6m1 0h3m1 0h1m1 0h1m3 0h3m1 0h4m7 0h2m1 0h1m1 0h1m1 0h2m1 0h3m1 0h1m5 0h2m7 0h3m-69 1h1m8 0h1m2 0h1m34 0h1m18 0h1m-63 1h1m21 0h1m4 0h1m10 0h1m12 0h1m6 0h1m-71 1h1m1 0h1m5 0h2m5 0h1m5 0h2m1 0h3m4 0h2m1 0h1m1 0h4m1 0h1m2 0h2m6 0h2m1 0h2m2 0h1m1 0h3m4 0h1m1 0h1m3 0h1m3 0h1m-78 1h2m7 0h1m15 0h1m3 0h1m3 0h1m35 0h1m-41 1h1m4 0h1m3 0h1m3 0h2m1 0h1m1 0h2m4 0h1m7 0h2m6 0h1m5 0h1m-75 1h1m17 0h1m11 0h1m1 0h1m4 0h1m8 0h2m13 0h1m2 0h1m3 0h1m1 0h1m3 0h1m1 0h1m-61 1h1m34 0h1m21 0h1m-74 1h1m59 0h1m-61 1h1m35 0h1m-11 1h1m24 0h1m-45 2h1m1 0h1m9 0h1m16 0h1m2 0h1m27 0h1m-72 1h1m35 0h1m6 0h1m19 0h1m3 0h1m5 0h1m5 0h1m-7 1h1m-7 1h1m-46 1h1m13 0h1m11 0h1m2 0h1m15 0h1m-49 1h1m2 0h1m26 0h1m1 0h1m21 0h1m-42 1h1m16 0h1m1 0h1m-37 1h1m6 0h1m15 0h1m18 0h1m-7 1h1m-37 1h3m4 0h1m2 0h1m8 0h1m3 0h1m10 0h1m1 0h1m6 0h1m8 0h1m4 0h1m5 0h1m-63 1h1m41 0h1m2 0h1m-47 1h2m21 0h1m10 0h1m8 0h1m2 0h1m-4 1h1m8 0h1m3 0h1m-71 1h1m1 0h1m29 0h1m20 0h1m12 0h1m3 0h1m7 0h1m-79 1h1m43 0h1m8 0h1m-47 1h1m3 0h1m3 0h1m5 0h1m18 0h1m14 0h1m2 0h3m8 0h1m-61 1h1m1 0h1m5 0h1m3 0h1m3 0h2m12 0h2m3 0h2m9 0h1m10 0h1m10 0h1m-56 1h1m22 0h1m-45 1h1m22 2h1m4 0h1m17 0h1m28 0h1m1 0h2m-9 1h1m-71 1h1m20 0h1m-22 1h1m8 0h1m3 0h1m1 0h1m1 0h1m3 0h1m2 0h2m12 0h1m3 0h1m7 0h1m1 0h1m6 0h1m1 0h1m1 0h1m1 0h1m1 0h1m6 0h2m1 0h2m-62 1h1m49 0h1m-68 1h1m8 0h1m3 0h1m3 0h1m11 0h1m6 0h1m1 0h1m4 0h1m11 0h1m2 0h1m4 0h1m3 0h1m6 0h1m-67 1h2m22 0h1m8 0h1m1 0h1m5 0h2m4 0h1m2 0h1m4 0h3m1 0h1m3 0h1m2 0h1m-58 1h1m9 0h1m-2 1h1m-25 1h1m14 0h1m8 0h1m11 0h1m6 0h1m1 0h2m-26 1h1m2 0h1m20 0h1m3 0h1m7 0h1m-62 4h1m7 0h1m2 0h1m5 0h1m1 0h1m15 0h2m2 0h2m26 0h1m2 0h1m4 0h1m4 0h1m-40 4h1m-34 1h1m12 0h1m19 0h1m38 0h1m-77 1h2m2 0h1m3 0h1m1 0h1m5 0h1m1 0h1m3 0h1m4 0h1m3 0h1m4 0h3m5 0h3m12 0h1m1 0h2m1 0h2m2 0h1m5 0h1m-79 1h1m3 0h1m1 0h1m9 0h1m9 0h1m4 0h1m1 0h1m1 0h1m6 0h2m1 0h2m1 0h1m8 0h1m5 0h1m4 0h2m1 0h1m6 0h1m-75 1h1m1 0h1m14 0h1m9 0h1m21 0h1m4 0h1m4 0h1m4 0h1m3 0h1m-67 1h1m12 0h1m11 0h1m10 0h4m1 0h2m9 0h1m3 0h2m9 0h2m1 0h1m-32 1h1m-41 1h1m30 0h1m8 0h2m-28 1h1m11 0h1m4 0h1m4 0h2m2 0h2m20 0h1m-48 2h1m24 0h1m-1 3h1m-40 1h1m22 0h1m7 0h1m7 0h1m17 0h1m-44 1h1m1 0h1m1 0h1m20 0h1m30 0h1m-71 1h1m12 0h1m18 0h1m1 0h1m1 0h1m2 0h1m8 0h1m-43 1h1m1 0h1m2 0h1m1 0h1m6 0h1m6 0h1m1 0h1m5 0h1m3 0h2m1 0h1m3 0h1m1 0h1m3 0h1m10 0h1m3 0h1m-54 1h1m4 0h1m7 0h1m4 0h1m3 0h1m3 0h1m13 0h1m16 0h1m-54 1h1m4 0h1m3 0h1m3 0h3m2 0h1m8 0h1m8 0h2m1 0h1m3 0h1m4 0h1m1 0h1m1 0h1m-75 1h1m2 0h1m2 0h1m3 0h1m1 0h2m1 0h2m12 0h1m3 0h1m1 0h1m3 0h1m3 0h1m8 0h1m1 0h1m3 0h1m2 0h1m10 0h1m1 0h1m-69 1h1m8 0h2m14 0h1m25 0h1m3 0h1m4 0h1m-52 1h1m41 0h1m-55 1h1m11 0h2m5 0h1m38 0h1m-59 1h2m1 0h2m6 0h3m5 0h1m3 0h1m6 0h1m2 0h1m24 0h1m3 0h1m9 0h1m-75 1h1m2 0h1m1 0h1m8 0h2m5 0h1m2 0h1m1 0h1m5 0h1m17 0h1m6 0h1m2 0h1m1 0h2m2 0h1m10 0h1m-73 1h1m5 0h1m3 0h1m5 0h1m1 0h2m7 0h1m11 0h1m4 0h2m4 0h1m9 0h2m-68 1h2m4 0h1m3 0h1m11 0h1m6 0h1m3 0h1m13 0h1m2 0h1m1 0h1m3 0h1m2 0h1m-59 1h1m19 0h1m3 0h1m24 0h1m4 0h1m-17 1h1m-38 1h1m50 0h1m2 0h1m-59 1h1m23 0h1m2 0h1m4 0h1m2 0h1m11 0h1m7 0h1m1 0h1m17 0h1m2 0h1m-50 1h1m2 0h1m14 0h1m-39 1h1m19 0h1m12 0h1m2 0h1m12 0h1m-30 1h1m-20 1h1m21 0h2m13 0h1m3 0h1m1 0h1m4 0h1m4 0h1m-17 1h1m-42 1h1m22 0h1m3 0h1m19 0h1m21 0h1m3 0h1m-10 1h1m-18 1h1m14 0h1m1 0h1m-37 1h1m10 0h1m9 0h1m14 0h1m-68 1h1m4 0h1m10 0h1m4 0h1m21 0h2m7 0h3m14 0h1m-73 1h1m15 0h1m2 0h1m2 0h2m4 0h2m2 0h1m4 0h2m4 0h1m5 0h1m2 0h2m1 0h3m10 0h1m1 0h1m2 0h1m-66 1h1m2 0h1m2 0h1m3 0h2m4 0h1m3 0h3m6 0h1m8 0h1m2 0h1m3 0h1m1 0h3m10 0h1m4 0h1m1 0h1m3 0h1m-62 1h1m6 0h1m10 0h3m12 0h1m4 0h1m9 0h1m6 0h1m-57 1h1m4 0h1m15 0h1m21 0h1m-57 1h1m37 0h1m-20 1h1m1 0h1m34 0h1m15 0h1m-77 1h1m13 0h1m14 0h1m9 0h1m9 0h1m5 0h3m13 0h1m3 0h2m-76 1h1m2 0h1m3 0h1m5 0h2m7 0h1m3 0h1m1 0h1m4 0h1m7 0h1m6 0h2m5 0h1m6 0h1m7 0h1m-1 1h1m-43 1h1m28 0h1m-59 1h1m9 0h1m8 0h2m8 0h2m1 0h1m2 0h2m1 0h1m5 0h1m5 0h1m3 0h1m3 0h2m2 0h2m3 0h2m10 0h1m-31 1h1m2 0h1m6 0h1m4 0h1m3 0h1m8 0h1m-1 1h1m-22 1h1m-43 1h1m19 0h1m13 0h1m7 0h1m1 0h1m3 0h1m1 0h1m8 0h1m4 0h2m-80 1h3m3 0h1m2 0h1m11 0h1m12 0h1m2 0h1m14 0h3m1 0h1m1 0h1m5 0h1m6 0h1m2 0h2m2 0h2m-80 1h1m3 0h3m1 0h2m2 0h3m5 0h3m5 0h1m1 0h2m2 0h2m1 0h2m3 0h1m1 0h3m1 0h1m4 0h2m1 0h7m1 0h2m1 0h2m1 0h2m3 0h3m1 0h1m-22 1h1m5 0h1m-61 1h1m8 0h1m20 0h1m11 0h1m29 0h1m-55 1h1m2 0h1m-20 1h1m18 0h1m12 0h1m14 0h1m-53 1h1m-1 1h1m36 0h1m14 0h1m2 0h1m13 0h1m-70 1h1m11 0h1m-13 1h1m11 0h1m34 0h1m4 0h1m6 0h1m-60 1h3m3 0h1m4 0h2m1 0h1m4 0h1m9 0h1m7 0h1m1 0h1m4 0h1m1 0h1m5 0h1m3 0h1m2 0h1m4 0h1m3 0h2m5 0h1m-64 1h1m16 0h1m3 0h2m9 0h1m23 0h1m-68 1h1m5 0h1m18 0h1m2 0h1m13 0h1m7 0h1m-50 1h1m4 0h1m8 0h1m1 0h2m8 0h1m4 0h1m4 0h1m5 0h1m6 0h2m6 0h2m10 0h1m5 0h2m-77 2h1m4 0h1m9 0h1m6 0h1m4 0h1m4 0h2m4 0h1m37 0h1m-77 1h1m20 0h1m1 0h1m3 0h1m3 0h1m2 0h1m37 0h1m4 0h1m-80 1h2m13 0h1m5 0h1m2 0h1m1 0h1m4 0h1m1 0h2m1 0h1m1 0h1m1 0h2m1 0h1m12 0h1m2 0h1m4 0h1m5 0h2m4 0h1m2 0h1m-80 1h2m4 0h1m1 0h1m2 0h1m1 0h1m8 0h3m1 0h1m4 0h1m6 0h1m4 0h2m1 0h1m5 0h1m11 0h1m9 0h1m2 0h1m-78 1h1m22 0h2m1 0h2m4 0h1m5 0h1m5 0h1m1 0h1m6 0h1m5 0h1m2 0h2m4 0h2m4 0h1m-75 2h1m1 0h1m4 0h1m1 0h1m2 0h1m2 0h2m5 0h1m1 0h1m3 0h2m2 0h1m3 0h1m1 0h2m4 0h3m4 0h1m5 0h1m5 0h1m2 0h1m1 0h1m7 0h1m-78 1h3m21 0h2m3 0h1m9 0h1m1 0h1m5 0h1m4 0h2m10 0h2m1 0h1m2 0h1m1 0h2m2 0h1m-77 1h1m1 0h1m3 0h1m5 0h3m2 0h1m5 0h2m2 0h1m1 0h2m1 0h1m1 0h1m7 0h1m2 0h3m4 0h1m4 0h2m5 0h1m4 0h2m1 0h2m-74 1h3m3 0h2m3 0h1m1 0h1m2 0h5m3 0h1m2 0h3m2 0h1m4 0h1m3 0h3m2 0h4m3 0h1m2 0h1m1 0h1m4 0h3m4 0h1m2 0h1m4 0h1m-79 1h1m1 0h1m1 0h1m1 0h1m2 0h1m3 0h1m5 0h1m3 0h1m2 0h3m6 0h1m5 0h1m1 0h1m4 0h2m4 0h1m1 0h1m5 0h1m8 0h1m1 0h1m2 0h1m1 0h1m-62 1h1m5 0h1m-24 2h1m16 0h1m5 0h1m4 0h1m18 0h1m1 0h1m3 0h1m19 0h1m-74 1h1m6 0h1m1 0h2m5 0h1m8 0h1m1 0h2m2 0h1m8 0h2m2 0h2m1 0h3m2 0h1m1 0h1m2 0h2m2 0h5m6 0h3m2 0h1m-78 1h1m5 0h2m8 0h2m3 0h1m1 0h1m3 0h1m6 0h1m1 0h1m1 0h1m2 0h1m3 0h1m1 0h3m6 0h1m2 0h1m1 0h3m1 0h2m5 0h1m3 0h4m-74 1h1m29 0h1m25 0h1m8 0h1m6 0h1m-75 1h1m-5 1h1m3 0h1m7 0h1m17 0h1m3 0h1m19 0h1m6 0h1m3 0h1m2 0h1m-57 1h1m21 0h1m33 0h1m-69 1h2m4 0h1m8 0h1m1 0h1m4 0h1m30 0h1m-44 1h1m12 0h1m47 0h1m-72 1h2m4 0h1m3 0h1m34 0h1m18 0h1m11 0h2m-75 1h4m3 0h1m1 0h1m9 0h2m4 0h1m16 0h1m23 0h1m3 0h1m-52 1h2m29 0h1m12 0h1m-67 1h1m3 0h1m4 0h1m5 0h1m4 0h1m1 0h2m14 0h1m6 0h1m21 0h1m-68 1h1m3 0h1m17 0h2m2 0h1m2 0h1m2 0h1m4 0h1m39 0h1m-62 1h1m9 0h1m50 0h1m-77 1h1m2 0h1m21 0h1m2 0h1m12 0h1m9 0h1m24 0h1m-52 1h1m25 0h1m15 0h1m8 0h1m-49 1h1m10 0h1m-41 1h1m25 0h1m2 0h1m5 0h1m1 0h1m2 0h1m4 1h1m-17 1h1m41 0h1m-32 1h1m13 0h1m16 0h1m-71 1h1m8 0h1m14 0h2m8 0h1m22 0h1m20 0h2m-71 1h1m4 0h1m-1 1h1m30 0h1m16 0h1m-49 2h1m2 0h1m4 0h1m10 0h2m10 0h1m20 0h1m5 0h1m-38 1h1m9 0h1m-33 1h1m21 0h1m17 0h1m13 0h2m3 0h1m-72 1h1m2 0h1m8 0h4m3 0h2m13 0h1m13 0h1m2 0h1m3 0h1m15 0h1m3 0h3m-75 1h1m6 0h6m3 0h2m1 0h1m2 0h1m7 0h2m12 0h3m6 0h1m1 0h1m7 0h1m10 0h1m-78 1h1m31 0h1m1 0h1m2 0h1m-4 1h1m-2 1h1m13 0h1m8 0h1m-44 1h1m8 0h1m7 0h1m2 0h1m12 0h2m4 0h1m1 0h1m19 0h3m-68 1h1m2 0h1m1 0h1m7 0h1m3 0h1m3 0h1m2 0h1m13 0h1m6 0h1m11 0h1m-42 1h1m7 0h1m12 0h1m1 0h1m5 0h2m10 0h1m7 0h1m-21 1h1m-56 1h1m14 0h1m1 0h1m5 0h1m5 0h1m4 0h1m5 0h1m8 0h2m4 0h1m-56 1h1m14 0h1m39 0h1m-54 1h1m6 0h1m2 0h1m2 0h2m6 0h1m14 0h1m5 0h1m4 0h1m5 0h1m2 0h1m2 0h1m5 0h1m5 0h1m2 0h2m-78 1h1m3 0h1m5 0h1m2 0h1m1 0h1m4 0h1m2 0h1m1 0h1m2 0h1m2 0h1m1 0h1m2 0h3m2 0h1m1 0h2m2 0h1m6 0h2m5 0h1m1 0h1m3 0h2m1 0h1m4 0h1m1 0h2m-79 1h1m10 0h1m16 0h1m2 0h1m15 0h1m5 0h1m1 0h1m1 0h1m5 0h1m13 0h2m-59 1h1m13 0h1m28 0h1m12 0h1m-77 1h1m9 0h1m4 0h1m4 0h1m7 0h1m2 0h1m2 0h1m20 0h1m3 0h1m2 0h1m14 0h1m-68 1h1m4 0h1m12 0h1m5 0h1m11 0h1m8 0h1m8 0h1m12 0h1m-73 1h1m9 0h1m3 0h1m14 0h1m9 0h1m10 0h1m1 0h1m1 0h1m-57 1h1m30 0h1m1 0h1m7 0h1m-43 3h2m24 0h1m5 0h1m2 0h1m2 0h1m12 0h1m-14 1h1m8 0h1m3 0h1m4 0h1m17 0h1m-77 1h1m1 0h2m1 0h1m3 0h1m2 0h1m4 0h1m1 0h2m1 0h2m2 0h1m1 0h1m1 0h3m2 0h1m7 0h1m14 0h1m2 0h1m4 0h2m3 0h1m1 0h1m2 0h1m1 0h1m-79 1h2m3 0h1m23 0h1m16 0h1m19 0h1m6 0h1m1 0h1m2 0h1m-78 1h1m21 0h1m7 0h1m8 0h1m8 0h1m16 0h1m2 0h1m4 0h1m-74 1h1m9 0h1m31 0h1m17 0h1m2 0h1m-62 1h1m16 0h1m10 0h1m8 0h1m2 0h1m2 0h1m2 0h2m3 0h1m4 0h1m1 0h1m2 0h1m3 0h1m6 0h1m1 0h1m1 0h1m-79 1h1m21 0h1m14 0h1m3 0h1m3 0h1m7 0h1m13 0h1m6 0h1m1 0h1m-79 1h1m30 0h1m7 0h1m-37 4h1m29 0h1m14 0h1m6 0h1m-50 1h2m30 0h1m9 0h1m3 0h1m2 0h1m1 0h2m3 0h1m-60 1h1m17 0h1m9 0h1m12 0h1m1 0h1m8 0h1m3 0h1m17 0h1m-75 1h1m2 0h1m17 1h1m3 0h1m4 0h1m19 0h1m5 0h1m3 0h1m4 0h1m5 0h1m-22 1h1m23 0h1m-78 1h1m16 0h1m8 0h1m1 0h1m16 0h1m9 0h2m6 0h1m2 0h1m5 0h1m-71 1h1m40 0h1m19 0h1m-61 3h1m1 0h1m4 0h1m17 0h1m8 0h1m7 0h1m4 0h1m16 0h1m5 0h1m-71 1h1m1 0h1m4 0h1m37 0h1m1 0h1m2 0h1m8 0h1m2 0h2m-4 1h1m1 0h1m-35 1h1m30 0h1m2 0h1m-66 1h1m6 0h1m9 0h1m3 0h2m6 0h1m1 0h1m16 0h1m8 0h1m4 0h1m2 0h1m8 0h1m-74 1h1m1 0h2m2 0h1m3 0h1m1 0h1m2 0h1m4 0h3m8 0h4m2 0h1m5 0h2m2 0h1m1 0h1m1 0h1m4 0h1m1 0h1m1 0h3m2 0h1m9 0h2m1 0h1m-76 1h1m6 0h1m21 0h1m18 0h1m-52 1h1m9 0h1m36 1h1m1 0h1m14 0h1m-62 1h1m11 0h1m29 0h1m3 0h1m-45 2h1m23 0h1m32 0h1m2 0h1m-61 1h1m9 0h1m13 0h1m8 0h1m10 0h1m3 0h1m2 0h1m5 0h1m1 0h1m7 0h1m-68 1h1m8 0h1m17 0h1m8 0h1m8 0h1m15 0h1m-62 1h1m1 0h1m2 0h3m1 0h1m14 0h1m2 0h1m3 0h1m1 0h1m3 0h1m7 0h1m9 0h1m5 0h1m8 0h1m-71 1h1m18 0h1m4 0h1m15 0h1m20 0h1m-65 1h1m2 0h1m6 0h1m4 0h1m2 0h1m2 0h3m6 0h1m1 0h1m3 0h1m2 0h1m4 0h3m4 0h1m12 0h2m7 0h1m-56 1h1m10 0h1m34 0h1m-58 4h1m2 0h1m17 0h1m35 0h1m-14 2h1m2 0h1m21 0h1m-65 1h1m-3 2h1m12 0h1m36 0h1m15 0h1m-80 1h2m1 0h1m1 0h1m7 0h1m1 0h1m21 0h1m13 0h1m3 0h1m2 0h1m3 0h2m5 0h1m1 0h1m3 0h1m3 0h1m-64 1h1m20 0h1m31 0h1m9 0h1m-68 1h1m3 0h2m11 0h1m7 0h2m5 0h1m4 0h1m1 0h1m11 0h1m7 0h1m7 0h2m-68 1h1m3 0h1m7 0h1m7 0h1m3 0h3m1 0h1m2 0h1m3 0h1m2 0h1m19 0h1m-72 1h1m24 0h1m3 0h1m2 0h2m3 0h1m1 0h2m3 0h1m7 0h1m1 0h1m8 0h1m5 0h1m1 0h1m8 0h1m-48 1h1m35 0h1m-46 1h1m7 0h1m4 0h1m1 0h1m31 0h1m-71 1h1m3 0h1m23 0h1m6 0h1m2 0h1m14 0h1m14 0h1m3 0h1m-74 1h1m9 0h1m12 0h1m8 0h1m21 0h1m14 0h1m-43 1h1m4 0h1m4 0h1m16 0h1m11 0h1m9 0h1m-38 1h1m4 0h1m3 0h1m25 0h1m-57 1h2m23 0h2m31 1h1m-9 1h1m7 0h1m3 0h1m-78 1h1m26 0h1m-31 1h1m29 0h1m14 0h1m-16 1h1m-31 1h3m8 0h1m4 0h1m9 0h1m3 0h6m1 0h4m2 0h3m2 0h2m6 0h1m3 0h1m5 0h1m1 0h1m1 0h1m3 0h1m4 0h2m-48 1h2m33 0h2m-54 1h1m12 0h1m11 0h1m24 0h1m1 0h1m-68 1h1m6 0h1m4 0h1m2 0h3m6 0h1m3 0h1m3 0h1m4 0h2m5 0h1m4 0h3m1 0h1m1 0h1m9 0h1m1 0h1m1 0h1m1 0h1m-47 1h1m5 0h1m22 0h1m3 0h1m8 0h1m-43 1h1m39 0h1m-54 1h1m39 0h1m16 0h1m-70 1h2m36 0h1m26 0h1m3 0h1m-29 1h1m27 0h1m-63 1h1m37 0h1m10 0h1m12 0h1m-63 1h1m3 0h1m16 0h1m6 0h1m10 0h2m5 0h1m15 0h1m3 0h1m4 0h1m-80 1h1m2 0h1m2 0h1m1 0h1m6 0h1m1 0h1m8 0h1m6 0h2m19 0h1m14 0h1m-62 1h1m6 0h1m17 0h1m11 0h1m3 0h1m4 0h1m15 0h1m7 0h1m-77 1h1m2 0h1m2 0h1m6 0h1m2 0h1m42 0h2m7 0h1m1 0h1m5 0h2m-80 1h1m1 0h1m2 0h2m2 0h3m2 0h2m1 0h2m5 0h1m1 0h1m13 0h1m1 0h2m1 0h3m1 0h1m7 0h1m4 0h1m3 0h1m1 0h1m1 0h3m1 0h1m3 0h2m-79 1h1m15 0h1m25 0h1m18 0h1m3 0h1m7 0h1m-74 1h1m24 0h1m12 0h1m6 0h1m-21 1h1m-4 1h1m-23 1h1m5 0h1m18 0h1m22 0h1m9 0h1m4 0h1m-58 1h1m18 0h1m37 0h1m6 0h1m-71 1h1m21 0h1m8 0h2m23 0h1m-53 1h1m4 0h1m13 0h1m3 0h1m34 0h1m-57 1h1m1 0h3m3 0h1m2 0h1m5 0h1m1 0h1m1 0h1m9 0h1m3 0h1m16 0h1m4 0h1m14 0h2m-75 1h1m3 0h2m3 0h1m7 0h2m7 0h1m15 0h1m15 0h2m-63 1h1m4 0h2m3 0h3m5 0h1m1 0h1m1 0h1m6 0h3m3 0h1m9 0h1m12 0h1m2 0h2m4 0h2m2 0h1m-67 1h1m15 0h2m16 0h1m2 0h1m2 0h1m-24 2h1m-4 2h1m47 0h1m-60 1h2m9 0h1m9 0h1m1 0h1m35 0h1m-70 1h1m1 0h1m2 0h1m3 0h1m1 0h3m1 0h2m2 0h1m1 0h1m3 0h4m3 0h2m1 0h1m5 0h1m7 0h1m1 0h1m2 0h1m5 0h1m1 0h2m6 0h1m2 0h1m1 0h1m-76 1h1m4 0h2m9 0h2m7 0h2m7 0h1m1 0h1m3 0h1m10 0h1m2 0h2m4 0h1m4 0h1m7 0h1m2 0h1m-78 1h1m2 0h4m4 0h3m1 0h2m1 0h5m1 0h2m1 0h2m3 0h2m1 0h4m1 0h2m3 0h1m2 0h5m2 0h1m5 0h3m1 0h2m3 0h5m1 0h1m2 0h1m-75 1h1m3 0h1m3 0h1m2 0h1m1 0h1m1 0h1m4 0h1m2 0h2m3 0h1m3 0h1m1 0h1m4 0h1m1 0h1m8 0h2m9 0h1m7 0h2m1 0h2m-66 1h1m2 0h1m18 0h1m3 0h1m18 0h1m4 0h1m2 0h1m2 0h1m1 0h1m-67 1h1m7 0h1m4 0h1m5 0h1m6 0h1m7 0h1m10 0h1m5 0h1m12 0h1m5 0h1m-73 1h1m4 0h1m3 0h1m3 0h1m9 0h1m9 0h1m1 0h2m1 0h1m16 0h2m9 0h1m-34 1h1m23 0h1m-38 1h1m31 0h2m3 0h1m8 0h1m3 0h1m1 0h1m-51 1h1m11 0h1m6 0h1m4 0h1m19 0h1m5 0h1m-40 1h2m12 0h1m14 0h2m1 0h2m9 0h1m-68 1h1m5 0h1m4 0h1m16 0h1m3 0h1m24 0h1m5 0h1m-72 2h1m7 0h1m4 0h2m1 0h2m1 0h1m1 0h2m1 0h1m1 0h1m2 0h1m3 0h1m2 0h2m2 0h1m1 0h1m2 0h3m7 0h2m1 0h2m1 0h1m2 0h1m1 0h3m2 0h1m1 0h1m1 0h1m-76 1h1m1 0h1m5 0h1m2 0h2m11 0h1m8 0h1m12 0h1m-51 1h1m3 0h1m15 0h1m4 0h2m6 0h1m3 0h1m39 0h1m-74 1h1m35 0h1m3 0h1m14 0h1m2 0h1m9 0h1m-33 1h1m21 0h1m3 0h1m5 0h1m-54 1h1m1 0h2m8 0h1m33 1h1m-28 1h1m5 0h1m-41 1h1m45 0h1m12 0h1m7 0h1m-52 1h1m24 0h1m17 0h1m-14 1h1m-30 1h1m20 0h1m10 0h1m23 0h2m-71 2h1m1 0h1m25 0h1m2 0h1m2 0h1m1 0h2m6 0h2m11 0h1m11 0h1m-73 1h1m22 0h1m7 0h1m3 0h2m3 0h1m7 0h1m12 0h1m4 0h1m1 0h1m3 0h1m-46 1h1m-27 1h1m8 0h2m15 0h1m7 0h1m14 0h1m5 0h1m3 0h2m-67 1h1m1 0h3m1 0h5m1 0h2m1 0h1m1 0h1m1 0h4m1 0h5m7 0h1m2 0h5m1 0h1m3 0h1m5 0h1m1 0h1m3 0h1m1 0h1m1 0h1m2 0h1m4 0h1m1 0h1m1 0h2m1 0h1m-81 1h1m1 0h1m1 0h1m4 0h1m1 0h1m3 0h1m4 0h2m8 0h1m1 0h1m8 0h2m18 0h1m1 0h1m1 0h2m3 0h1m4 0h1m1 0h1m-78 1h2m4 0h1m13 0h1m9 0h1m10 0h1m21 0h1m1 0h1m-66 1h1m1 0h1m2 0h1m4 0h1m9 0h1m3 0h2m2 0h1m1 0h2m1 0h1m1 0h1m2 0h1m2 0h3m8 0h1m5 0h1m2 0h2m2 0h1m3 0h2m1 0h2m1 0h1m1 0h1m1 0h1m-79 1h2m3 0h1m9 0h1m2 0h1m5 0h1m6 0h1m12 0h2m16 0h1m13 0h1m-17 1h1m10 0h1m-72 2h1m3 0h1m10 0h1m8 0h1m4 0h1m2 0h1m3 0h1m4 0h1m2 0h1m17 0h2m6 0h1m6 0h1m1 0h1m-76 1h2m9 0h1m13 0h1m11 0h1m13 0h1m7 0h1m-49 1h1m9 0h1m3 0h1m-27 1h1m5 0h1m26 0h1m16 0h1m5 0h1m11 0h1m-69 1h1m5 0h1m10 0h1m3 0h2m12 0h1m2 0h1m1 0h1m-35 2h1m21 0h1m1 0h1m-35 1h1m4 0h1m3 0h2m5 0h1m15 0h1m4 0h1m1 0h2m28 0h1m9 0h2m-74 1h4m29 0h1m1 0h1m-43 1h1m4 0h1m1 0h1m2 0h1m14 0h1m3 0h1m2 0h1m7 0h1m1 0h1m1 0h1m15 0h1m15 0h1m-77 1h1m4 0h1m2 0h2m6 0h2m1 0h2m11 0h1m4 0h1m2 0h1m1 0h1m1 0h1m1 0h2m3 0h1m5 0h1m5 0h1m1 0h1m1 0h1m3 0h2m3 0h1m2 0h1m-80 1h1m7 0h1m1 0h2m1 0h1m3 0h2m6 0h1m11 0h1m2 0h1m3 0h3m4 0h1m11 0h1m1 0h1m2 0h1m2 0h1m7 0h2m-81 1h2m6 0h1m2 0h1m7 0h1m5 0h1m6 0h1m4 0h1m2 0h1m5 0h1m24 0h1m7 0h2m-75 1h1m4 2h1m12 0h1m7 0h1m-31 1h1m17 0h1m3 0h2m4 0h1m1 0h1m11 0h1m2 0h1m31 0h1m-56 1h1m7 0h1m46 0h1m-66 1h1m7 0h1m1 0h2m2 0h1m1 0h1m5 0h2m6 0h1m3 0h1m8 0h1m3 0h1m1 0h2m1 0h1m6 0h1m2 0h1m2 0h1m-69 1h1m26 0h1m26 0h1m11 0h1m-73 3h1m13 0h1m10 0h1m4 0h1m4 0h2m11 0h1m4 0h1m4 0h1m1 0h1m11 0h1m1 0h1m-76 1h2m4 0h1m2 0h1m4 0h1m2 0h1m5 0h1m1 0h1m5 0h1m2 0h1m1 0h1m1 0h1m1 0h1m1 0h1m5 0h2m1 0h2m1 0h1m2 0h1m3 0h1m2 0h1m1 0h1m5 0h2m-71 1h1m9 0h1m11 0h2m21 0h1m2 0h1m7 0h1m9 0h1m2 0h1m-39 1h1m17 0h1m12 0h1m3 0h1m-70 1h3m4 0h1m30 0h1m10 0h2m1 0h1m12 0h2m3 0h1m-71 1h1m11 0h1m37 1h1m-50 1h1m10 0h2m11 0h1m11 0h1m14 0h1m12 0h1m-69 1h1m10 0h1m4 0h3m47 0h1m-50 1h1m5 0h2m18 0h2m21 0h1m-68 1h1m3 0h1m3 0h2m2 0h1m2 0h1m2 0h1m5 0h2m2 0h1m4 0h1m4 0h1m7 0h1m1 0h1m3 0h1m6 0h1m4 0h1m1 0h2m4 0h1m3 0h1m-69 1h1m9 0h2m9 0h1m3 0h1m20 0h1m3 0h1m2 0h1m5 0h1m4 0h1m3 0h1m-68 1h1m4 0h1m3 0h1m1 0h2m2 0h1m3 0h1m12 0h1m7 0h1m2 0h1m1 0h1m2 0h1m2 0h1m5 0h1m3 0h1m5 0h1m-77 1h2m1 0h1m13 0h1m1 0h1m4 0h1m3 0h1m2 0h1m4 0h1m2 0h1m1 0h1m12 0h1m1 0h1m2 0h3m2 0h1m5 0h1m2 0h1m2 0h1m-51 1h1m43 0h1m-44 1h1m24 0h1m15 0h1m-66 1h2m3 0h1m1 0h1m15 0h1m3 0h1m14 0h1m20 0h1m-60 1h3m8 0h1m5 0h1m2 0h1m10 0h1m13 0h1m12 0h1m-39 2h1m14 0h1m2 0h1m3 0h1m14 0h1m-64 1h1m7 0h1m3 0h1m22 0h1m4 0h2m6 0h1m5 0h1m7 0h2m8 0h1m-73 1h1m3 0h1m3 0h1m7 0h1m2 0h1m6 0h1m2 0h1m3 0h1m2 0h1m7 0h1m2 0h1m2 0h2m2 0h1m1 0h3m4 0h2m7 0h1m2 0h2m-77 1h1m6 0h1m6 0h1m6 0h1m2 0h1m1 0h1m14 0h1m5 0h2m7 0h1m12 0h2m1 0h1m-73 1h1m3 0h1m46 0h1m23 0h1m-72 1h1m1 0h1m34 0h1m-42 1h1m6 0h2m5 0h1m1 0h1m10 0h1m4 0h1m1 0h2m4 0h1m13 0h1m3 0h2m3 0h1m1 0h1m2 0h2m5 0h1m-76 1h1m1 0h2m3 0h3m1 0h1m2 0h1m1 0h1m2 0h2m2 0h3m6 0h1m1 0h1m2 0h1m2 0h1m7 0h3m3 0h1m3 0h1m2 0h1m1 0h1m1 0h3m1 0h1m1 0h1m2 0h1m1 0h1m-77 1h1m10 0h1m7 0h1m3 0h1m30 0h1m3 0h1m6 0h1m3 0h1m-63 1h1m11 0h1m-20 1h1m6 0h1m2 0h2m4 0h1m5 0h1m6 0h1m4 0h1m9 0h1m9 0h1m13 0h1m8 0h1m-78 1h1m4 0h1m1 0h1m8 0h1m2 0h1m31 0h1m-1 1h1m-52 1h1m1 0h1m3 0h1m9 0h1m2 0h1m4 0h1m26 0h1m6 0h1m3 0h1m-63 1h1m2 0h1m6 0h1m1 0h2m2 0h1m4 0h1m7 0h2m2 0h1m4 0h1m16 0h1m2 0h1m2 0h2m-50 1h1m5 0h1m4 0h1m5 0h1m14 0h1m16 0h1m-53 1h1m5 0h1m7 0h1m37 0h1m-43 1h1m41 0h1m-62 1h1m1 0h2m17 0h1m7 0h1m27 0h1m3 0h1m-62 1h1m8 0h1m2 0h1m25 0h1m6 0h1m26 0h1m4 0h1m-80 1h1m1 0h1m1 0h1m5 0h3m2 0h1m2 0h2m1 0h2m1 0h3m1 0h2m1 0h2m3 0h1m1 0h3m3 0h2m2 0h2m1 0h1m1 0h1m8 0h2m4 0h2m2 0h2m1 0h2m2 0h1m-80 1h1m1 0h1m6 0h5m1 0h3m1 0h1m2 0h1m2 0h1m6 0h1m6 0h2m3 0h2m7 0h1m4 0h1m9 0h1m3 0h1m1 0h1m4 0h1m-78 1h1m2 0h1m4 0h4m12 0h1m3 0h1m1 0h1m4 0h1m1 0h1m1 0h1m5 0h1m7 0h1m2 0h1m2 0h1m6 0h1m5 0h1m5 0h1m-68 1h1m8 0h1m2 0h1m4 0h1m10 0h1m5 0h1m5 0h1m9 0h1m4 0h1m1 0h1m4 0h1m2 0h1m-79 1h1m1 0h1m5 0h1m1 0h2m3 0h1m4 0h1m5 0h1m10 0h1m6 0h1m2 0h1m5 0h3m5 0h1m1 0h1m10 0h1m-70 1h2m4 0h3m6 0h3m3 0h1m7 0h1m5 0h2m9 0h1m2 0h3m6 0h2m5 0h1m2 0h1m3 0h2m-66 1h1m29 0h1m30 0h1m-43 1h1m10 0h1m30 0h1m-50 1h2m1 0h1m14 0h1m12 0h1m20 0h1m-65 1h1m7 0h1m4 0h1m13 0h1m13 0h1m1 0h1m7 0h1m8 0h1m-70 1h1m8 0h1m14 0h1m1 0h1m1 0h1m7 0h1m7 0h1m2 0h1m5 0h1m4 0h1m1 0h1m8 0h1m-74 1h1m1 0h1m1 0h1m3 0h2m3 0h1m7 0h2m1 0h2m2 0h2m2 0h1m3 0h2m2 0h1m8 0h1m6 0h1m3 0h1m1 0h1m1 0h1m2 0h1m5 0h2m2 0h1m-78 1h1m3 0h1m4 0h1m2 0h1m1 0h1m4 0h1m9 0h2m1 0h1m6 0h1m1 0h1m7 0h1m1 0h1m6 0h1m1 0h1m1 0h2m1 0h1m-57 1h1m12 0h1m18 0h1m7 0h1m12 0h1m7 0h1m-62 1h1m5 0h1m3 0h1m2 0h1m6 0h1m7 0h1m3 0h3m18 0h2m5 0h1m3 0h2m5 0h1m-57 1h1m7 0h1m9 0h1m19 0h1m-24 2h1m22 0h1m-54 1h1m14 0h1m18 0h1m9 0h1m2 0h1m5 0h1m14 0h1m-78 1h2m7 0h1m3 0h1m6 0h3m3 0h1m3 0h3m4 0h3m2 0h2m8 0h1m3 0h1m1 0h1m2 0h1m2 0h3m1 0h2m6 0h1m-53 1h1m5 0h1m8 0h1m15 0h1m8 0h1m9 0h1m-66 1h1m1 0h1m27 0h1m24 0h1m-59 1h2m1 0h1m6 0h1m13 0h2m1 0h1m5 0h1m8 0h1m15 0h1m13 0h1m-79 1h2m5 0h1m10 0h1m11 0h1m1 0h1m15 0h1m15 0h1m3 0h1m3 0h1m5 0h1m0 1h1m-73 1h1m1 0h1m54 0h1m-56 1h1m4 0h1m1 0h1m8 0h1m5 0h1m-30 3h1m-1 1h2m2 0h1m3 0h1m6 0h1m1 0h1m1 0h1m2 0h1m20 0h1m2 0h1m2 0h1m2 0h1m9 0h1m10 0h1m2 0h2m-79 1h3m4 0h3m3 0h1m1 0h2m1 0h5m2 0h2m1 0h1m5 0h1m1 0h1m2 0h1m1 0h1m2 0h1m3 0h1m1 0h1m3 0h1m4 0h2m1 0h2m1 0h1m1 0h1m8 0h1m1 0h1m-80 1h1m1 0h2m5 0h2m3 0h1m6 0h1m5 0h1m6 0h1m2 0h1m4 0h1m2 0h1m7 0h3m-46 1h1m3 0h1m2 0h1m5 0h2m2 0h1m4 0h1m6 0h1m2 0h1m2 0h3m5 0h1m1 0h1m7 0h1m14 0h1m-79 1h1m2 0h1m3 0h1m9 0h1m3 0h1m2 0h1m2 0h1m4 0h2m5 0h1m5 0h2m6 0h1m1 0h2m23 0h1m-71 1h1m3 0h1m2 0h1m6 0h1m21 0h1m3 0h1m13 0h1m15 0h1m-79 1h1m2 0h1m1 0h1m2 0h1m4 0h3m1 0h1m1 0h1m3 0h2m1 0h1m6 0h1m8 0h1m1 0h2m7 0h3m6 0h1m13 0h1m1 0h1m-73 1h1m1 0h1m6 0h1m1 0h1m4 0h3m19 0h1m8 0h1m1 0h1m-58 1h1m3 0h1m2 0h1m8 0h1m2 0h2m2 0h5m10 0h1m5 0h1m2 0h1m1 0h1m5 0h2m6 0h1m10 0h1m1 0h1m-61 1h1m12 0h1m10 0h1m-35 2h1m26 0h1m-8 1h1m-20 1h1m40 0h1m-17 2h1m-15 2h1m1 0h1m3 0h1m7 0h1m2 0h1m2 0h1m7 0h1m11 0h1m15 0h2m2 0h1m-79 1h1m4 0h1m12 0h1m5 0h1m6 0h2m2 0h1m2 0h1m6 0h1m6 0h1m3 0h1m1 0h2m14 0h1m3 0h1m-61 1h1m7 0h1m11 0h1m39 0h1m-77 2h2m2 0h1m1 0h1m9 0h1m3 0h1m3 0h1m2 0h1m1 0h1m6 0h3m10 0h1m13 0h1m-65 1h1m1 0h1m2 0h1m1 0h1m10 0h2m1 0h1m2 0h3m1 0h1m2 0h2m4 0h2m8 0h1m14 0h1m7 0h1m2 0h2m2 0h1m-77 1h1m3 0h1m1 0h1m10 0h2m8 0h1m1 0h2m4 0h1m4 0h1m5 0h1m6 0h1m6 0h2m7 0h1m2 0h1m2 0h1m-69 1h1m5 0h1m3 0h1m7 0h1m3 0h3m13 0h2m1 0h2m1 0h1m1 0h1m1 0h2m2 0h1m3 0h1m4 0h2m2 0h1m1 0h1m1 0h1m-50 1h1m2 0h1m15 0h1m2 0h1m3 0h1m2 0h1m3 0h1m2 0h1m5 0h1m6 0h1m-79 1h1m21 0h1m8 0h1m16 0h1m7 0h1m8 0h1m-44 1h1m-3 1h1m25 0h1m-42 1h1m8 0h1m16 0h1m10 0h1m3 0h1m28 0h2m2 0h1m-69 1h1m2 0h1m8 0h1m3 0h1m4 0h1m9 0h1m3 0h1m5 0h1m17 0h1m3 0h3m1 0h2m-66 1h1m-6 1h1m12 0h1m4 0h1m12 0h1m29 0h1m6 0h2m-68 1h1m15 0h1m33 0h1m-51 1h1m12 0h1m2 0h1m8 0h1m8 0h1m13 0h1m9 0h2m9 0h1m-72 1h1m4 0h2m8 0h1m2 0h1m6 0h1m1 0h1m3 0h1m2 0h1m1 0h1m10 0h2m12 0h3m2 0h1m2 0h1m1 0h1m-47 1h1m-20 1h1m-5 1h1m33 0h1m-35 1h1m33 0h1m-39 1h1m2 0h2m33 0h1m-36 1h1m15 0h1m47 0h1m-74 1h2m8 0h1m38 0h1m-22 1h1m26 0h1m-57 1h1m18 0h1m1 0h1m4 0h1m16 0h1m14 0h1m-51 1h1m19 1h2m34 0h1m-37 1h1m-1 1h1m-1 1h1m49 0h1m-48 2h1m4 0h1m27 0h2m-2 1h1m-38 1h1m-24 1h2m-6 1h2m1 0h3m2 0h2m1 0h2m1 0h1m5 0h3m1 0h1m2 0h4m5 0h1m1 0h5m2 0h1m2 0h1m3 0h3m1 0h2m2 0h1m1 0h1m1 0h3m1 0h1m1 0h4m2 0h3m-79 1h1m6 0h2m5 0h1m8 0h2m2 0h1m3 0h1m4 0h1m2 0h2m12 0h1m7 0h2m7 0h1m5 0h2m1 0h1m-80 1h1m7 0h1m27 0h1m2 0h1m8 0h1m4 0h1m11 0h1m5 0h1m4 0h2m2 0h1m-80 1h1m1 1h1m3 0h1m4 0h1m45 0h1m20 0h1m-66 1h1m-1 1h1m-12 1h1m2 0h1m-4 1h1m28 0h1m-27 1h1m-4 2h1m75 0h1m-69 1h1m48 0h1m-1 1h1m17 0h1m-75 1h1m11 0h1m3 0h1m1 0h1m7 0h1m7 0h1m18 0h1m2 0h1m2 0h1m4 0h2m2 0h1m6 0h1m-76 1h1m11 0h1m3 0h1m39 0h1m8 0h2m8 0h1m-52 1h1m7 0h1m7 0h1m5 0h1m15 0h1m2 0h1m-20 1h1m-41 1h1m10 0h1m6 0h2m10 0h1m9 0h1m6 0h2m1 0h1m11 0h1m-63 1h1m17 0h1m21 0h1m17 0h1m-63 1h1m5 0h1m6 0h1m8 0h1m21 0h1m12 0h1m-63 2h1m17 0h1m2 0h1m3 0h1m1 0h1m9 0h2m10 0h2m1 0h1m3 0h1m10 0h1m-64 1h2m6 0h1m5 0h1m3 0h1m5 0h1m7 0h1m4 0h1m3 0h1m10 0h1m10 0h1m4 0h1m6 0h1m-79 1h1m3 0h1m5 0h2m15 0h1m7 0h1m1 0h1m4 0h1m2 0h1m3 0h1m8 0h1m9 0h1m8 0h1m-55 1h1m53 0h1m-70 1h1m14 0h1m11 0h1m5 0h1m2 0h1m1 0h1m3 0h1m1 0h1m11 0h3m1 0h1m1 0h1m7 0h1m-71 1h1m35 0h1m4 0h1m-33 1h1m5 0h1m8 0h1m2 0h3m6 0h1m4 0h2m17 0h1m-62 1h2m8 0h1m19 0h1m6 0h1m4 0h1m1 0h1m1 0h1m-9 1h1m4 0h1m17 0h1m9 0h1m-70 2h1m23 0h1m11 0h1m24 0h1m-63 1h1m21 0h1m45 0h1m-71 2h1m17 0h1m23 0h2m-52 1h1m3 0h1m3 0h1m5 0h1m2 0h1m3 0h1m9 0h2m7 0h2m4 0h1m3 0h2m3 0h1m1 0h1m5 0h1m5 0h1m9 0h1m-80 1h1m3 0h1m17 0h1m5 0h1m2 0h2m2 0h1m15 0h1m3 0h1m23 0h1m-80 1h1m13 0h1m20 0h1m6 0h1m3 0h1m1 0h1m6 0h1m1 0h1m5 0h1m1 0h1m5 0h1m5 0h1m-71 1h2m16 0h1m9 0h1m6 0h1m3 0h1m1 0h1m3 0h1m4 0h1m7 0h2m2 0h1m4 0h1m2 0h1m-78 3h1m2 0h1m67 0h1m5 0h1m-75 1h2m3 0h1m19 0h1m1 0h1m4 0h1m9 0h1m25 0h1m5 0h1m-78 1h1m6 0h1m2 0h1m19 0h1m3 0h1m9 0h1m23 0h1m2 0h1m1 0h1m3 0h1m-75 1h1m23 0h2m-22 1h1m11 0h1m2 0h1m5 0h1m41 0h1m2 0h1m-74 1h1m2 0h1m3 0h2m1 0h1m1 0h1m3 0h6m1 0h1m4 0h1m1 0h1m2 0h1m1 0h1m7 0h2m3 0h1m1 0h2m1 0h3m3 0h2m8 0h2m1 0h2m3 0h1m-75 1h2m2 0h2m7 0h1m1 0h3m1 0h1m5 0h1m1 0h1m17 0h1m3 0h1m1 0h2m3 0h1m4 0h1m3 0h3m1 0h1m2 0h1m1 0h1m-78 1h1m17 0h2m2 0h1m5 0h1m4 0h1m18 0h1m19 0h1m4 0h1m-78 1h1m3 0h1m11 0h1m2 0h3m1 0h1m4 0h1m1 0h1m2 0h1m7 0h2m1 0h1m7 0h8m1 0h1m2 0h1m4 0h1m5 0h1m1 0h1m-52 1h1m17 0h1m10 0h1m1 0h1m1 0h1m15 0h1m-73 1h1m11 0h2m2 3h1m10 0h1m1 0h1m2 0h1m6 0h2m36 0h1m-51 1h2m3 0h1m8 0h1m24 0h1m-40 1h1m4 0h1m6 0h1m31 0h1m-44 1h1m32 0h1m-45 1h1m5 0h1m2 0h1m12 0h1m9 0h2m12 0h1m6 0h1m1 0h1m-72 1h1m17 0h1m6 0h1m1 0h1m14 0h1m17 0h1m8 0h1m6 0h1m-29 1h1m-52 1h1m3 0h1m6 0h1m7 0h1m1 0h1m13 0h1m10 0h1m3 0h1m8 0h1m3 0h1m6 0h1m1 0h2m-75 1h2m10 0h1m14 0h1m1 0h1m44 0h1m5 0h1m-71 1h1m1 0h1m6 0h1m1 0h1m11 0h1m21 0h1m3 0h1m1 0h1m11 0h1m6 0h1m-52 2h1m38 0h1m-54 1h1m13 0h1m9 0h1m23 0h1m-58 1h1m5 0h1m12 0h2m2 0h1m7 0h1m1 0h1m18 0h1m4 0h1m16 0h1m-69 1h1m2 0h2m1 0h2m2 0h1m1 0h1m1 0h1m4 0h1m3 0h1m1 0h1m3 0h3m14 0h1m3 0h2m9 0h2m2 0h1m2 0h1m-29 1h1m-46 1h1m1 0h1m1 0h1m1 0h1m1 0h2m1 0h1m5 0h1m1 0h1m1 0h2m1 0h2m4 0h1m14 0h1m1 0h3m1 0h1m6 0h1m5 0h1m8 0h1m-69 1h1m7 0h1m5 0h1m1 0h1m2 0h1m16 0h1m7 0h1m1 0h1m6 0h1m1 0h1m5 0h1m-69 1h1m3 0h1m5 0h1m3 0h1m6 0h1m4 0h1m16 0h1m6 0h2m6 0h1m1 0h1m-66 1h1m2 0h1m1 0h1m6 0h1m19 0h1m4 0h1m8 0h3m10 0h1m1 0h1m3 0h1m12 0h1m-77 3h1m1 0h1m54 0h1m-2 1h1m-1 2h1m-38 1h1m1 0h1m20 0h1m6 0h1m1 0h1m5 0h1m11 0h1m1 0h1m-15 1h1m-57 1h1m1 0h1m13 0h1m26 0h1m6 0h1m4 0h2m-37 1h1m29 0h2m4 0h1m13 0h1m1 0h1m-74 1h2m1 0h2m1 0h1m6 0h1m1 0h1m1 0h1m1 0h1m1 0h4m1 0h2m1 0h1m3 0h1m3 0h2m4 0h1m3 0h1m1 0h1m2 0h1m3 0h1m3 0h1m1 0h2m6 0h1m1 0h5m-77 1h2m1 0h1m11 0h1m4 0h1m2 0h1m20 0h1m6 0h2m3 0h2m3 0h1m1 0h1m4 0h1m1 0h1m2 0h1m-73 1h1m3 0h1m3 0h1m5 0h1m1 0h1m2 0h1m2 0h1m3 0h1m6 0h1m2 0h1m6 0h1m7 0h1m3 0h3m1 0h2m8 0h3m1 0h1m1 0h2m-79 1h1m6 0h1m15 0h1m8 0h1m2 0h1m2 0h1m13 0h1m12 0h1m6 0h1m4 0h1m-72 1h2m11 0h1m6 0h1m1 0h1m6 0h1m9 0h1m6 0h2m9 0h1m1 0h1m3 0h1m2 0h1m3 0h1m-75 1h1m3 0h2m6 0h1m9 0h1m3 0h2m5 0h1m1 0h1m7 0h1m6 0h1m3 0h1m1 0h1m3 0h1m2 0h1m3 0h1m2 0h1m2 0h4m-73 1h1m16 0h2m16 0h1m10 0h1m5 0h1m3 0h1m2 0h2m2 0h1m5 0h1m-76 1h2m7 0h2m2 0h2m2 0h1m5 0h2m4 0h1m3 0h1m1 0h1m1 0h4m1 0h1m2 0h3m1 0h1m2 0h3m3 0h1m1 0h1m2 0h1m1 0h2m1 0h2m1 0h5m1 0h2m-39 1h2m20 0h1m-17 1h2m0 1h1m-50 1h1m34 0h1m3 0h1m7 0h1m-43 1h1m2 0h1m10 0h1m3 0h1m1 0h1m5 0h1m3 0h1m11 0h1m4 0h4m7 0h1m2 0h1m3 0h2m4 0h1m-57 1h1m27 0h1m1 1h1m-50 1h1m24 0h1m16 0h1m10 0h1m-9 2h1m3 0h1m9 0h1m-56 1h1m4 0h1m31 0h1m-28 4h1m11 0h1m23 0h1m4 0h2m9 0h2m11 0h1m-80 1h1m3 0h1m9 0h1m8 0h1m2 0h1m28 0h1m10 0h1m-67 1h1m13 0h1m8 0h2m1 0h2m3 0h1m1 0h1m4 0h1m11 0h1m2 0h1m1 0h1m4 0h1m6 0h3m4 0h1m-48 1h1m22 0h1m1 0h1m2 0h1m13 0h1m-37 1h1m16 0h1m19 0h1m3 0h1m-76 1h1m22 0h1m5 0h1m21 0h1m2 0h1m4 0h2m7 0h1m2 0h1m3 0h1m-49 1h1m1 0h1m8 0h1m20 0h1m8 0h1m5 0h1m-60 1h1m4 0h1m42 0h1m4 0h1m-69 1h1m17 0h3m1 0h1m28 0h1m5 0h1m10 0h1m10 0h1m-80 1h1m4 0h1m35 0h1m8 0h1m16 0h1m-37 2h1m2 0h1m17 0h1m15 0h1m3 0h1m-73 1h1m19 0h1m2 0h1m10 0h1m21 0h1m10 0h1m1 0h1m-18 1h1m5 0h1m-59 1h1m22 0h1m8 0h1m11 0h1m2 0h1m24 0h1m-71 1h1m20 0h1m8 0h1m32 0h1m14 0h1m-81 1h1m1 0h1m1 0h1m8 0h2m4 0h2m2 0h3m2 0h7m1 0h1m3 0h6m3 0h1m3 0h2m1 0h1m2 0h1m1 0h1m1 0h2m7 0h1m1 0h1m1 0h1m2 0h2m-81 1h1m4 0h1m1 0h1m1 0h3m6 0h1m1 0h1m1 0h5m1 0h1m3 0h2m3 0h1m3 0h1m2 0h2m3 0h1m1 0h1m1 0h3m2 0h1m2 0h2m1 0h3m2 0h2m1 0h2m2 0h1m1 0h1m1 0h1m-68 1h1m12 0h1m6 0h1m8 0h1m1 0h1m9 0h1m2 0h1m3 0h1m17 0h1m-80 1h1m1 0h1m20 0h1m1 0h1m13 0h1m9 0h1m1 0h1m5 0h1m2 0h2m4 0h1m4 0h1m-71 1h1m12 0h1m3 0h1m4 0h1m2 0h1m52 0h1m-79 1h1m21 0h1m19 0h3m30 0h1m-76 1h1m3 0h1m1 0h1m3 0h1m1 0h1m2 0h1m6 0h1m2 0h2m6 0h1m5 0h1m3 0h1m5 0h1m5 0h2m7 0h2m1 0h1m4 0h2m3 0h3m-80 1h1m11 0h1m12 0h1m2 0h1m13 0h1m1 0h1m10 0h1m1 0h1m-58 1h1m24 1h1m3 0h1m49 0h1m-21 1h1m5 0h1m13 0h1m-80 1h1m1 0h1m13 0h2m8 0h1m7 0h1m4 0h1m1 0h1m10 0h1m3 0h1m2 0h1m14 0h1"/></g>
<g transform="translate(1083.20 1124.60) scale(9.1543 2.0054)" fill="none" stroke-width="1"><path stroke="#F46D43" stroke-opacity="0.5" d="M29 1.5h1m-16 5h1m-7 7h1m0 8h1m12 39h1m3 10h1m-4 26h1m4 79h1m2 2h1m-11 15h1m-14 24h1m10 19h1m8 22h1m-9 10h1m7 0h1m-8 33h1m-15 57h1m10 46h1m-6 21h1m18 18h1m-18 31h1m16 11h1m-22 1h1m-9 183h1m21 3h1m2 5h1m-15 8h1m2 0h1m5 2h1m-9 24h1m1 0h1"/><path stroke="#FDAE61" stroke-opacity="0.36" d="M14 1.5h1m6 11h1m2 0h1m-4 1h1m-11 1h1m-3 4h1m5 0h1m6 6h1m-1 1h1m-18 9h1m0 1h1m9 0h1m4 0h1m-1 4h1m5 0h1m-15 2h1m-12 9h1m6 0h1m5 0h1m10 0h1m7 0h1m-28 1h1m12 1h1m-14 1h1m20 0h1m-22 1h1m4 0h1m3 0h1m2 0h1m1 0h1m-19 1h1m16 0h1m3 1h1m-4 1h1m4 6h1m-20 2h1m-1 4h1m17 0h1m-19 1h1m17 3h1m-14 14h1m1 6h1m-3 21h1m20 2h1m-23 4h1m-12 3h1m2 0h1m2 0h1m22 0h1m-30 1h1m4 0h1m2 0h1m20 0h1m2 3h1m-1 1h1m-18 1h1m16 0h1m-1 1h1m-15 1h1m13 0h1m-27 11h1m3 10h1m17 1h1m-7 7h1m3 0h1m-1 1h1m-21 6h1m2 8h1m1 0h1m17 1h1m-21 11h1m-5 7h1m4 13h1m5 0h1m9 0h1m2 0h1m-8 2h1m-4 5h1m-8 2h1m-6 5h1m24 0h1m-8 3h1m-15 4h1m1 2h1m-14 19h1m28 1h1m-28 1h1m17 0h1m6 6h1m-20 8h1m11 0h1m-1 1h1m13 2h1m-15 4h1m4 5h1m-17 5h1m20 4h1m-3 5h1m-2 2h1m-28 4h1m3 1h1m20 0h1m3 3h1m-21 4h1m14 0h1m1 24h1m4 3h1m-13 8h1m-10 3h1m13 4h1m-18 8h1m15 0h1m-17 13h1m7 5h1m18 6h1m-13 6h1m-22 9h1m11 0h1m4 2h1m1 4h1m-9 7h1m21 0h1m-19 17h1m4 0h1m9 0h1m-1 2h1m-3 8h1m-6 11h1m-4 24h1m-8 5h1m-4 14h1m19 3h1m-2 11h1m3 22h1m-1 21h1m-11 4h1m-6 45h1m-1 1h1m14 1h1m-13 2h1m-14 1h1m8 2h1m11 2h1m-1 7h1m-1 3h1m-23 1h1m-3 1h1m1 0h1m8 0h1m7 1h1m-6 1h1m-19 1h1m-3 16h1m4 0h1m8 0h1m18 0h1m-14 24h1m7 5h1m-14 1h1m5 0h1m6 0h1m5 1h1m-24 1h1m5 5h1m2 23h1m-7 1h1m-14 3h1m22 9h1m-16 6h1m9 5h1"/><path stroke="#FDAE61" stroke-opacity="0.2" d="M10 .5h1m15 0h1m5 0h1m-33 1h1m2 0h1m6 0h1m1 0h1m5 0h1m5 0h1m1 0h3m3 0h1m-22 1h2m2 0h1m11 0h1m4 0h1m-24 1h3m3 0h1m1 0h1m6 0h1m1 0h2m6 0h1m-25 1h1m21 0h1m-12 3h1m3 0h1m5 0h1m-23 2h2m-1 2h1m10 0h1m-13 1h2m16 0h1m1 0h1m-20 1h2m3 0h1m2 0h1m-8 3h1m-8 1h1m1 0h3m2 0h1m3 0h1m18 0h1m-28 1h2m2 0h1m4 0h1m1 0h3m1 0h1m4 0h1m1 0h2m3 0h1m-16 1h1m-12 5h2m3 0h1m19 0h1m-30 1h1m2 1h1m9 0h1m3 0h3m-6 1h1m2 0h1m-13 1h1m5 0h1m1 0h2m2 0h1m6 0h2m-29 1h1m5 0h1m1 0h1m2 0h2m1 0h1m1 0h1m3 0h1m4 0h1m2 0h1m1 0h2m-18 1h1m7 0h1m4 0h2m-21 1h1m18 0h1m-23 2h1m10 1h1m15 0h1m-33 1h1m7 0h1m3 0h1m3 0h1m1 0h2m1 0h2m3 0h1m4 0h2m-30 1h1m-1 1h1m1 0h1m8 0h1m1 0h1m13 0h1m1 0h1m-33 1h1m-1 1h1m2 0h1m12 0h1m4 0h1m8 0h1m-19 1h1m17 0h1m-16 1h1m10 0h1m3 0h1m1 0h1m-17 2h1m-9 2h1m4 1h1m-1 1h1m17 0h1m-24 1h1m6 0h1m2 0h1m-11 1h1m24 0h1m-35 1h1m5 0h3m3 0h2m2 0h2m1 0h1m2 0h4m3 0h1m2 0h1m-33 1h1m5 0h1m5 0h1m9 0h3m1 0h1m7 0h1m-35 1h1m6 0h2m2 0h1m10 0h1m3 0h1m5 0h1m1 0h1m-23 1h1m-12 1h1m1 0h2m4 0h1m1 0h1m8 0h1m1 0h2m1 0h1m2 0h2m1 0h1m-25 1h1m16 0h1m5 0h1m3 0h1m-30 1h1m1 0h2m12 0h1m6 0h3m3 0h1m-30 1h1m8 0h1m7 0h1m1 0h1m-11 1h1m7 0h1m1 0h2m4 0h1m-17 1h1m10 0h1m3 0h1m-4 3h1m-16 1h1m14 1h1m-22 1h1m16 0h1m3 0h1m-14 1h1m-2 2h1m-11 1h1m10 0h2m16 0h2m-20 1h1m3 0h1m7 0h1m5 0h1m-7 1h1m8 1h1m-1 1h1m-28 3h1m20 0h1m-2 1h2m-25 1h1m17 0h1m-3 1h1m0 2h1m-14 5h1m2 0h1m2 0h1m16 0h1m-25 1h1m3 0h1m2 0h1m11 0h1m4 0h1m-29 1h1m3 0h2m6 0h2m10 0h1m-19 1h1m16 0h1m-25 5h2m29 0h1m-32 1h1m16 0h1m14 0h1m-35 1h1m1 0h1m23 0h1m-1 2h1m-1 1h1m0 2h1m2 0h1m-24 1h1m13 0h1m7 0h2m-27 5h1m23 0h1m-21 2h1m6 0h1m-16 3h1m13 0h1m13 0h1m-17 1h1m1 0h1m-1 1h1m-12 1h1m1 0h2m1 0h1m4 0h2m19 0h1m-33 1h1m1 4h1m2 0h3m3 0h1m8 0h1m1 0h1m-17 1h1m13 0h1m7 0h1m-31 1h1m8 0h1m-6 1h2m2 0h2m3 0h2m2 0h1m1 0h1m3 0h1m2 0h1m6 0h1m-31 1h1m2 0h1m2 0h1m2 0h4m7 0h1m3 0h1m2 0h1m1 0h2m-21 1h1m18 0h1m-22 2h1m-8 1h1m1 0h1m4 0h1m3 0h1m10 0h1m4 0h1m-28 1h3m11 0h1m5 0h1m5 0h1m-26 1h5m1 0h1m6 0h1m5 0h1m2 0h1m-26 1h1m3 0h1m3 0h1m1 0h1m2 0h2m8 0h1m-6 1h1m11 0h1m-31 4h1m4 0h1m12 0h1m2 0h2m9 0h1m-35 1h1m5 0h1m3 0h1m4 0h1m4 0h1m2 0h2m1 0h2m1 0h1m-30 1h1m5 0h1m20 0h1m1 0h1m-26 2h1m1 0h1m3 0h1m12 0h1m-22 1h1m13 0h1m-13 2h1m5 0h1m-1 1h1m-1 1h1m1 0h1m19 0h3m-33 1h1m-1 1h1m4 0h2m5 0h1m1 0h1m12 0h1m3 0h1m-31 3h1m7 0h1m20 2h1m-16 2h1m13 1h2m-14 1h1m-8 1h1m4 0h1m14 0h1m-24 1h1m2 0h1m4 0h1m6 0h1m7 0h1m-30 1h2m3 0h1m3 0h1m1 0h1m4 0h1m8 0h2m-26 1h1m5 0h1m1 0h1m7 0h1m11 0h1m-21 1h1m11 0h1m-13 2h1m17 1h1m-27 3h1m3 0h1m5 0h1m8 0h1m10 0h1m-35 1h1m5 0h1m-7 1h1m3 0h1m1 0h1m7 0h1m1 0h1m6 0h1m2 0h1m2 0h1m-24 1h1m9 0h1m2 0h1m9 0h1m-27 1h1m2 0h1m-1 3h1m-5 1h1m3 0h1m7 0h1m3 0h1m12 0h1m-21 1h1m5 0h1m-11 1h1m3 0h1m21 0h1m-23 1h1m5 0h1m16 4h1m-30 2h1m2 0h1m5 0h1m7 0h1m-21 6h1m5 0h1m7 0h1m4 0h1m-22 2h1m1 0h2m1 0h1m2 0h1m16 0h1m1 0h1m-28 1h1m7 0h1m2 0h1m2 0h1m6 0h1m12 0h1m-35 1h1m19 0h1m6 0h1m-23 1h1m3 0h1m6 0h1m10 0h1m-13 1h1m4 0h1m-16 2h1m14 0h1m4 0h1m-25 1h1m1 0h1m4 0h1m12 0h1m-12 1h1m9 1h1m-12 1h1m4 0h1m4 0h3m-11 1h1m11 2h1m-12 1h1m9 0h2m2 0h1m3 0h1m-31 1h1m3 0h1m6 0h2m1 0h1m7 0h3m3 0h1m1 0h1m1 0h1m-33 1h1m6 0h2m13 0h2m1 0h1m2 0h2m2 0h1m-11 2h1m-20 3h1m-3 1h1m1 0h1m8 0h2m18 0h2m-33 1h1m2 0h1m7 0h2m3 0h2m3 0h3m7 0h2m-31 1h1m9 0h1m-10 1h1m2 0h1m5 0h1m10 0h1m-21 1h1m21 0h1m-20 1h1m-6 1h1m4 0h1m5 0h1m1 0h1m2 0h1m6 2h1m-1 1h1m-19 1h1m9 4h1m-7 1h1m2 0h1m-4 1h1m-2 1h1m1 0h1m15 3h1m-4 3h1m1 0h1m-28 3h1m2 1h1m12 0h1m8 0h1m1 1h1m4 7h1m-33 1h1m19 0h1m-21 1h1m8 0h1m4 0h1m2 0h1m-18 1h1m1 0h1m6 0h1m4 0h1m1 0h1m3 0h1m-1 1h1m-10 1h1m8 3h1m2 0h1m-18 1h1m26 0h1m-26 1h1m8 1h1m-2 1h1m16 1h1m-12 1h1m2 0h1m-18 1h1m-9 1h1m3 0h1m11 0h1m5 0h1m3 0h1m-23 1h1m3 0h1m2 0h1m-7 1h1m10 0h1m3 1h1m11 0h1m-20 1h1m6 0h1m11 0h1m-28 1h1m-2 1h2m12 0h1m1 0h1m4 0h1m-22 1h1m5 0h1m15 0h4m2 0h1m-28 1h1m3 0h2m1 0h1m4 0h1m2 0h1m6 0h1m1 0h4m-29 1h1m18 0h1m1 0h1m6 0h2m-7 1h1m-26 2h1m16 0h2m-12 1h1m16 0h1m-25 2h1m8 0h2m2 0h2m3 0h2m3 0h1m7 0h1m-32 6h1m8 0h1m8 0h1m1 0h1m2 0h1m-18 2h1m4 2h1m8 0h1m-22 1h2m3 0h1m2 0h1m1 0h1m1 0h1m2 0h1m2 0h1m1 0h2m-22 1h1m4 0h1m9 0h1m-2 1h3m-4 1h1m1 0h1m-2 1h2m-2 3h1m6 0h1m-7 1h1m4 0h2m-22 1h1m2 0h1m10 0h1m3 0h1m2 0h1m-19 2h1m4 0h1m-7 1h2m3 2h1m2 0h1m-4 1h1m2 0h1m8 0h1m5 0h1m7 5h1m-23 1h1m14 3h1m-16 1h1m-1 1h1m-9 1h1m1 3h1m9 0h1m3 2h1m-8 1h1m6 0h1m3 0h1m2 0h2m-4 1h1m-16 1h1m3 0h1m-12 2h1m23 0h1m1 0h1m-27 1h1m4 0h1m16 0h1m5 0h1m-29 1h1m2 0h1m7 0h1m3 0h1m7 0h1m-9 1h1m7 0h1m5 0h1m-15 1h1m-15 1h1m18 1h1m2 0h1m-23 1h1m18 0h1m2 1h1m-27 1h1m2 0h1m2 0h1m1 0h1m7 0h1m2 0h1m2 0h2m2 0h1m1 0h1m4 0h1m-34 1h1m13 0h1m1 0h1m5 0h1m-23 1h1m7 0h1m9 0h1m11 0h1m-31 1h1m2 0h1m1 0h1m10 0h2m2 0h1m8 0h1m3 0h1m-34 1h1m16 0h1m11 0h2m-31 1h1m2 0h1m2 0h1m2 0h2m1 0h3m1 0h2m3 0h1m7 0h1m3 0h1m-28 1h1m10 0h1m12 0h1m-24 2h1m9 0h1m-5 2h1m2 0h2m12 0h1m-18 3h1m-1 1h1m15 1h1m-8 1h1m3 0h1m6 0h1m-31 1h1m7 0h1m17 0h1m-29 1h2m12 0h1m6 0h1m3 0h1m2 0h1m3 0h1m-32 1h2m3 0h1m9 0h1m3 0h1m-20 1h1m14 0h1m4 0h1m2 0h1m-24 5h1m6 3h1m19 0h2m-14 1h1m7 0h1m2 0h2m-3 1h1m1 0h1m-30 1h2m8 0h1m3 0h1m1 0h1m1 0h1m10 0h1m3 0h1m-5 1h1m-21 1h1m19 0h1m-29 1h1m10 0h1m-12 1h1m-1 1h1m1 0h1m1 0h2m19 0h1m-16 4h1m-10 1h1m8 0h1m-6 1h2m3 0h1m2 0h1m6 0h1m11 0h1m-34 2h1m4 3h2m1 0h1m12 0h1m3 0h1m-17 1h1m-9 1h1m1 0h1m2 0h1m1 1h1m3 0h1m8 0h1m9 0h1m-24 1h1m16 0h1m-18 1h1m-7 1h1m5 0h1m9 2h1m8 1h1m-22 1h1m11 0h1m3 0h1m0 1h1m-23 1h1m8 0h1m3 0h2m1 0h1m5 0h1m1 0h1m-12 1h1m3 0h1m4 0h1m4 2h1m-20 5h1m2 2h1m19 0h2m-26 1h1m12 0h1m-13 1h1m2 0h1m-1 1h1m12 0h1m-14 2h1m17 0h1m3 0h1m-1 4h1m-18 1h1m-12 3h1m-1 1h1m1 0h1m25 0h1m-27 1h2m17 0h1m3 0h1m-24 1h1m25 0h1m-6 1h1m-24 1h1m13 0h1m3 0h2m1 0h1m2 0h1m1 0h1m-26 1h1m10 0h1m12 0h1m2 0h1m-16 3h1m11 1h1m-9 3h1m-16 9h1m5 0h1m2 0h1m6 0h1m-16 1h1m2 1h1m10 0h1m7 0h1m-25 4h1m10 0h2m12 0h3m-32 8h1m1 0h1m17 0h1m-17 1h1m13 0h1m2 0h1m-22 1h1m4 0h1m7 0h1m7 0h1m4 0h1m-28 1h2m3 0h1m13 0h1m11 0h2m-18 1h1m-4 1h1m11 0h1m5 4h1m-1 1h1m-14 2h1m3 0h1m-5 1h1m5 2h1m-25 2h1m5 0h1m3 0h1m3 0h1m3 1h2m12 0h1m-14 2h1m9 0h1m-23 2h1m10 0h1m8 0h1m-28 1h1m22 0h1m-20 1h1m20 0h1m-22 1h1m26 1h1m-32 1h1m6 0h1m9 0h1m13 0h2m-10 1h1m5 0h1m-23 1h1m2 0h1m6 1h1m9 0h1m-18 1h1m21 0h1m-32 1h1m24 0h1m-26 1h1m2 0h1m22 0h1m3 0h1m-31 1h1m8 0h1m13 0h1m5 0h1m-27 1h1m5 0h1m20 0h1m-32 4h1m5 0h1m23 0h1m-14 5h1m2 0h2m2 0h1m-1 2h1m-5 1h1m8 1h1m-5 1h1m2 0h2m-6 1h2m2 0h2m-11 3h2m3 0h1m2 0h1m-7 2h1m7 4h1m-10 1h1m8 0h1m3 0h1m-11 1h1m-1 1h1m1 1h2m-15 1h1m13 1h1m6 0h1m-5 2h1m-10 2h1m5 0h2m1 0h1m-6 1h1m1 0h1m-3 1h1m-1 1h1m5 0h1m-11 1h1m3 0h1m2 0h3m3 0h1m-19 1h1m14 0h1m-1 1h1m-9 4h1m2 0h1m6 3h1m-12 1h2m-2 1h1m-1 1h1m4 11h1m-26 3h1m8 13h1m-2 17h1m19 0h1m-17 7h1m4 2h1m1 0h1m-21 1h1m2 0h2m1 0h1m6 0h1m9 0h1m4 0h1m1 0h1m-15 1h1m-16 1h2m1 0h1m2 0h1m1 0h1m4 0h1m12 0h2m-22 1h1m-2 4h1m4 0h1m6 3h1m11 0h1m-19 2h1m2 3h1m6 0h1m1 0h1m5 0h1m-27 1h2m9 0h1m5 0h1m2 0h1m5 0h1m-30 1h1m3 0h1m9 0h1m6 0h1m4 0h1m1 0h1m2 0h1m-16 1h1m11 0h1m-26 1h1m27 0h1m-19 1h1m1 0h1m4 0h1m5 0h1m4 0h1m-34 1h1m1 0h1m2 0h1m6 0h3m1 0h1m1 0h1m1 0h4m1 0h1m2 0h1m2 0h3m-32 1h1m3 0h1m1 0h2m4 0h1m2 0h2m1 0h4m4 0h1m1 0h1m-30 1h2m8 0h1m2 0h1m2 0h2m2 0h2m1 0h1m6 0h1m2 0h1m-30 1h2m3 0h1m10 0h1m6 0h1m1 0h1m-29 2h1m-3 4h1m12 2h1m6 0h1m-21 1h1m32 0h1m-29 3h1m-1 1h1m-1 1h1m13 0h1m9 0h1m1 0h1m1 0h1m-27 1h1m8 0h1m-15 1h1m3 0h1m4 0h2m3 0h1m6 0h1m1 0h1m1 0h2m1 0h3m-33 1h1m1 0h2m1 0h1m2 0h1m5 0h1m6 0h1m5 1h1m3 0h1m0 1h1m-1 1h1m-27 1h1m17 0h1m3 0h1m3 0h1m-27 1h1m12 0h1m12 0h1m-31 1h1m29 0h1m-33 3h1m31 0h1m-27 1h1m1 0h1m4 0h1m2 0h1m3 0h1m2 0h1m5 0h1m-24 1h1m6 0h1m18 0h1m-20 1h1m1 2h1m-10 3h1m14 3h1m-9 1h1m10 0h1m-1 1h1m-14 1h1m12 0h1m-10 5h2m1 0h1m15 0h1m-34 1h1m1 0h1m2 0h2m1 0h2m1 0h1m3 0h3m6 0h1m3 0h1m2 0h3m-34 1h2m1 0h1m1 0h2m1 0h1m2 0h1m3 0h1m1 0h1m4 0h1m2 0h3m-29 1h1m1 0h2m4 0h2m2 0h1m2 0h2m1 0h1m4 0h4m1 0h1m5 0h1m-34 1h1m28 3h1m-3 1h1m-2 1h1m-25 1h1m2 0h1m2 0h1m14 0h3m1 0h1m1 0h1m-10 1h1m4 0h1m3 0h1m-31 1h1m4 0h1m4 0h1m4 0h1m10 0h1m7 3h1m-22 2h1m10 0h1m7 0h1m-4 2h1m-21 1h1m1 0h1m2 0h1m1 0h1m1 0h1m2 0h1m8 0h1m-23 1h1m10 0h1m4 0h1m2 0h1m1 0h3m-26 3h1m3 0h1m12 0h1m4 0h1m2 0h1m-13 2h1m11 0h1m-24 1h1m20 0h2m-31 1h1m14 0h1m15 0h1m-14 1h1m-19 2h1m9 0h2m9 0h1m7 0h1m3 0h1m-34 1h1m4 0h1m1 0h1m2 0h2m17 0h1m-24 4h1m-7 2h1m-1 1h1m3 0h1m8 0h1m5 0h1m-18 5h1m5 0h1m18 0h1m-10 2h1m9 0h1m-1 2h1m-20 1h1m18 0h1m-28 1h2m12 0h1m1 0h3m-16 1h1m12 0h1m4 0h1m-21 2h1m11 0h1m3 0h2m4 0h1m3 0h1m-17 1h1m6 0h1m8 1h1m-10 1h1"/><path stroke="#FDAE61" stroke-opacity="0.09" d="M5 1.5h5m5 0h1m1 0h1m1 0h1m1 0h3m7 0h1m-27 1h2m1 0h1m5 0h1m3 0h1m5 0h1m3 0h2m-28 1h2m2 0h2m6 0h1m3 0h1m4 0h1m4 0h1m3 0h1m-33 1h1m4 0h1m5 0h2m2 0h2m3 0h1m3 0h1m9 0h1m-30 1h1m9 0h1m16 0h1m1 0h1m-29 1h1m8 0h1m5 0h1m1 0h1m1 0h1m3 0h1m1 0h1m1 0h1m-34 1h2m1 0h1m2 0h1m2 0h2m5 0h2m5 0h1m2 0h2m2 0h1m1 0h2m-29 1h1m4 0h1m6 0h1m3 0h1m-17 1h1m-5 1h1m7 0h1m5 0h1m-7 1h1m5 0h1m9 0h1m-26 1h1m1 0h1m1 0h1m1 0h1m4 0h1m2 0h1m3 0h1m4 0h1m8 0h2m-28 1h1m17 0h1m1 0h4m3 0h1m-25 1h1m14 0h1m4 0h1m-27 1h1m3 0h1m3 0h1m-12 1h1m7 0h1m15 0h1m9 0h1m-26 1h1m8 0h1m5 0h1m6 0h1m-31 1h1m4 0h1m7 0h1m13 0h1m4 0h1m-16 1h1m1 0h1m-18 1h1m-2 1h1m6 1h1m12 0h1m5 0h1m-7 1h1m-19 1h1m5 0h1m10 0h1m1 0h1m4 0h1m-20 1h1m4 0h1m5 0h1m13 0h1m-35 1h1m3 0h1m1 0h1m5 0h1m1 0h2m3 0h1m6 0h1m1 0h3m1 0h2m-30 1h3m8 0h1m4 0h1m1 0h1m6 0h1m-29 1h1m2 0h1m2 0h1m12 0h1m1 0h2m7 0h3m-34 1h1m2 0h2m9 0h1m3 0h1m3 0h2m4 0h1m4 0h2m-26 1h1m21 0h1m-17 1h1m-15 1h1m1 0h1m2 0h2m1 0h1m3 0h1m1 0h1m1 0h1m6 0h1m1 0h1m2 0h1m1 0h1m-17 1h1m1 0h1m4 0h1m8 0h1m-26 1h1m3 0h1m2 0h1m5 0h1m5 0h1m1 0h1m3 0h1m-32 1h1m6 0h1m2 0h2m2 0h2m2 0h1m5 0h1m3 0h4m2 0h1m-29 1h1m3 0h1m8 0h1m7 0h1m5 0h1m-34 1h2m8 0h1m5 0h1m8 0h1m1 0h1m-24 1h1m1 0h2m9 0h1m4 0h1m4 0h1m3 0h1m1 0h1m-34 1h1m6 0h1m5 0h1m19 0h1m-33 1h1m2 0h1m1 0h2m2 0h1m1 0h1m1 0h1m2 0h1m9 0h1m5 0h1m-33 1h1m4 0h4m1 0h1m2 0h2m1 0h3m1 0h1m1 0h1m2 0h1m5 0h1m1 0h1m-33 1h1m3 0h1m4 0h1m1 0h2m1 0h1m2 0h1m1 0h2m10 0h1m-21 1h1m8 0h1m8 0h1m1 0h1m-16 1h1m12 0h1m1 0h1m-21 1h2m3 0h2m11 0h1m-21 1h1m6 0h1m10 0h1m4 0h1m-16 1h1m5 0h1m-15 1h1m13 0h2m-15 1h1m6 0h1m3 0h1m-21 1h1m1 0h1m4 0h2m2 0h1m5 0h1m10 0h1m1 0h1m-32 1h1m6 0h1m1 0h1m4 0h2m1 0h1m5 0h1m6 0h2m-29 1h1m6 0h1m2 0h3m5 0h2m4 0h2m-10 1h2m9 0h1m-31 1h1m3 0h1m1 0h1m5 0h1m3 0h1m11 0h1m1 0h3m-31 1h1m7 0h1m8 0h1m7 0h1m1 0h1m-32 1h1m2 0h1m5 0h1m1 0h2m1 0h2m1 0h4m1 0h1m3 0h1m4 0h2m-25 1h1m1 0h1m7 0h1m1 0h1m4 0h1m2 0h4m-29 1h1m7 0h1m1 0h1m5 0h1m9 0h1m-15 1h1m14 0h2m-21 1h1m6 0h1m6 0h1m-15 1h1m2 0h1m3 0h1m2 0h1m5 0h1m1 0h1m4 0h1m-27 1h1m2 0h1m13 0h1m5 0h1m2 0h1m-34 1h3m9 0h2m1 0h1m8 0h1m3 0h1m4 0h1m-30 1h1m1 0h1m5 0h1m2 0h1m10 0h1m1 0h1m-27 1h1m19 0h1m1 0h1m5 0h2m-26 1h1m3 0h1m-11 1h1m5 0h1m-7 1h2m4 0h1m5 0h2m5 0h1m4 0h1m5 0h1m-31 1h1m1 0h1m14 0h2m6 0h1m2 0h1m4 0h1m-35 1h4m1 0h2m1 0h1m1 0h3m1 0h1m7 0h2m5 0h1m2 0h1m-30 1h1m4 0h1m9 0h1m8 0h1m1 0h2m-28 1h1m13 0h1m3 0h2m7 0h2m1 0h1m-26 1h3m6 0h1m6 0h1m5 0h1m2 0h1m-33 1h1m28 0h1m2 0h1m-26 1h1m9 0h2m14 0h1m-33 1h1m2 0h1m7 0h1m1 0h1m4 0h2m3 0h1m1 0h1m5 0h2m-20 1h1m3 0h1m1 0h1m8 0h1m2 0h2m-29 1h1m4 0h1m1 0h1m6 0h1m6 0h1m2 0h1m1 0h1m-33 1h1m12 0h1m13 0h1m-11 2h1m2 0h1m1 0h1m4 0h1m1 0h1m2 0h2m-7 1h1m-21 1h3m1 0h1m11 0h1m3 0h1m-28 1h1m6 0h2m4 0h1m6 0h1m-14 1h2m-9 1h2m8 0h1m5 0h1m1 0h1m1 0h1m5 0h2m2 0h1m1 0h1m-33 1h1m3 0h1m3 0h2m3 0h1m1 0h2m2 0h1m4 0h1m2 0h4m1 0h1m-33 1h2m3 0h2m6 0h2m2 0h1m1 0h1m4 0h3m1 0h2m2 0h1m-32 1h1m2 0h1m10 0h2m10 0h1m1 0h1m4 0h1m-23 1h1m13 0h1m7 0h1m-27 1h1m5 0h1m11 0h1m1 0h1m-13 2h1m-13 1h1m1 0h1m2 0h1m2 0h1m3 0h1m2 0h1m1 0h2m3 0h6m-32 1h2m6 0h1m1 0h1m5 0h1m3 0h1m9 0h2m1 0h1m-27 1h4m6 0h1m3 0h2m4 0h5m-32 1h1m13 0h1m1 0h1m16 0h1m-30 1h1m11 0h1m10 0h1m6 0h1m-7 1h1m1 0h1m-21 1h1m-4 1h1m9 0h1m-14 1h1m9 0h1m12 0h1m5 0h1m-24 1h1m-7 3h1m3 0h1m1 1h1m13 0h1m-21 1h1m23 0h1m-18 1h1m1 0h1m5 0h1m1 0h1m4 0h1m4 0h1m-28 1h1m14 0h1m-20 1h1m18 0h1m-14 1h1m1 0h1m3 0h1m14 0h1m-27 1h1m1 0h1m12 0h1m12 0h1m1 0h1m-29 1h1m11 0h1m2 0h1m9 0h2m1 0h1m1 0h2m-35 1h1m8 0h2m1 0h1m2 0h1m2 0h2m2 0h1m5 0h4m1 0h1m-31 4h1m8 0h1m11 0h2m5 0h1m-31 1h1m3 0h2m5 0h1m1 0h1m5 0h1m7 0h4m1 0h2m-35 1h1m8 0h1m10 0h1m3 0h1m-21 1h1m1 0h1m15 0h1m6 0h1m4 0h1m-25 1h1m1 0h1m5 0h1m3 0h1m1 0h1m5 0h3m-31 1h1m1 0h1m12 0h4m3 0h3m7 0h1m-35 1h1m3 0h3m1 0h1m6 0h1m7 0h1m5 0h3m1 0h2m-31 1h1m3 0h1m4 0h1m5 0h1m12 0h3m-35 1h1m3 0h2m2 0h2m5 0h1m1 0h1m5 0h2m5 0h1m-31 1h1m4 0h1m3 0h1m2 0h1m3 0h3m2 0h1m1 0h2m2 0h2m1 0h1m2 0h1m-34 1h1m1 0h2m3 0h2m2 0h1m1 0h2m1 0h1m4 0h1m3 0h1m1 0h1m6 0h1m-33 1h2m8 0h2m1 0h2m3 0h2m1 0h1m1 0h1m2 0h1m1 0h2m-32 1h2m1 0h3m1 0h1m1 0h1m3 0h2m6 0h4m2 0h1m1 0h3m1 0h2m-35 1h1m5 0h1m8 0h1m7 0h1m2 0h1m-27 1h1m2 0h1m5 0h1m1 0h1m6 0h1m5 0h1m-23 1h1m1 0h1m1 0h1m5 0h1m11 0h1m-1 1h1m-19 1h1m6 0h1m3 0h1m9 0h1m3 0h2m-32 1h2m5 0h1m2 0h4m1 0h1m1 0h1m6 0h1m2 0h1m1 0h2m-30 1h2m6 0h1m2 0h3m1 0h2m5 0h1m1 0h1m4 0h3m-34 1h1m1 0h1m3 0h1m3 0h1m-9 1h1m8 0h3m2 0h1m8 0h1m2 0h1m2 0h1m-32 1h1m3 0h1m1 0h1m3 0h1m12 0h2m8 0h1m-5 1h1m-16 1h1m-13 1h1m9 0h1m6 0h1m1 0h1m7 0h1m3 0h1m-34 1h1m1 0h1m2 0h2m4 0h1m6 0h1m1 0h1m3 0h2m1 0h1m1 0h1m-20 1h2m17 0h1m3 0h1m-31 1h2m4 0h2m4 0h1m3 0h1m4 0h2m1 0h2m3 0h1m-31 1h1m4 0h1m8 0h1m16 0h1m-18 1h1m-10 1h1m4 0h1m1 0h2m11 0h1m5 0h1m-31 2h1m9 0h1m10 0h1m6 0h1m-19 1h1m3 0h1m13 0h1m-31 1h1m7 0h2m2 0h1m18 0h1m-20 1h1m2 0h2m1 0h1m9 0h1m-18 1h1m1 0h1m1 0h1m3 0h1m3 0h1m-20 1h1m3 0h1m3 0h2m7 0h1m-22 1h1m3 0h1m2 0h1m1 0h2m2 0h1m1 0h1m2 0h1m2 0h1m2 0h1m2 0h2m3 0h1m-27 1h1m1 0h3m4 0h2m8 0h2m4 0h2m-33 1h3m1 0h1m2 0h2m5 0h2m2 0h1m3 0h2m3 0h3m-29 1h4m3 0h1m4 0h2m4 0h2m1 0h1m5 0h2m-29 1h2m8 0h1m1 0h1m9 0h1m5 0h1m-22 1h1m20 0h1m-29 1h1m7 0h1m14 0h1m-20 1h1m-1 1h1m2 0h1m4 0h1m9 0h1m3 0h2m2 0h1m-33 1h1m4 0h1m3 0h2m1 0h2m10 0h2m2 0h2m2 0h1m-29 1h1m3 0h3m1 0h1m1 0h1m1 0h1m2 0h2m2 0h1m1 0h2m1 0h2m4 0h1m-34 1h1m1 0h1m4 0h1m3 0h2m4 0h3m3 0h2m2 0h1m1 0h3m1 0h1m-35 1h1m4 0h1m16 0h1m-9 1h1m3 0h1m2 0h1m7 0h1m2 0h1m-30 1h1m2 0h1m-1 1h1m2 1h2m3 0h1m3 0h1m9 0h1m1 0h1m1 0h1m-32 1h1m6 0h1m1 0h1m1 0h1m3 0h1m2 0h1m1 0h1m1 0h1m2 0h1m6 0h1m-34 1h2m1 0h1m6 0h1m8 0h1m11 0h1m-29 1h1m10 0h2m1 0h1m1 0h1m6 0h1m-26 1h1m1 0h1m5 0h1m4 0h1m11 0h1m6 0h2m-24 1h1m4 0h1m5 0h1m3 0h1m7 0h1m-20 1h1m-14 2h1m23 0h1m7 1h1m-35 1h4m3 0h1m1 0h1m1 0h1m1 0h1m3 0h1m1 0h1m5 0h1m1 0h1m5 0h2m-35 1h1m1 0h1m2 0h1m2 0h1m2 0h1m2 0h1m1 0h2m3 0h1m3 0h1m3 0h1m4 0h1m-26 1h1m4 0h1m12 0h1m-12 1h1m-8 1h1m4 0h1m1 0h1m11 0h1m-26 1h1m4 0h2m6 0h1m2 0h1m1 0h1m-13 1h1m2 0h1m1 0h2m3 0h2m8 0h2m-31 1h1m1 0h1m12 0h2m2 0h1m1 0h1m1 0h1m1 0h1m2 0h1m3 0h1m-22 1h1m7 0h1m4 0h1m-23 1h2m1 0h1m6 0h1m2 0h1m6 0h1m2 0h1m-24 1h1m5 0h1m2 0h1m4 0h1m2 0h1m1 0h1m3 0h1m5 0h1m1 0h1m-34 1h1m1 0h1m7 0h1m9 0h1m13 0h1m-35 1h1m1 0h1m2 0h1m4 0h1m3 0h1m1 0h1m4 0h1m8 0h1m2 0h1m-34 1h1m5 0h1m4 0h2m-13 1h1m8 0h1m2 0h1m1 0h2m5 0h2m4 0h1m4 0h1m1 0h1m-29 1h1m3 0h1m1 0h1m1 0h1m3 0h1m4 0h1m1 0h2m3 0h3m-19 1h1m13 0h1m2 0h1m-22 1h2m1 0h2m4 0h1m1 0h1m9 0h1m1 0h1m-29 1h2m1 0h1m1 0h2m4 0h1m1 0h1m6 0h2m3 0h1m1 0h3m-15 1h1m1 0h1m6 0h1m3 0h1m-32 1h1m3 0h1m2 0h1m7 0h1m12 0h1m1 0h1m-28 1h2m3 0h1m2 0h1m12 0h1m2 0h2m1 0h1m-31 1h1m3 0h1m4 0h1m17 0h1m2 0h1m-30 1h1m3 0h1m1 0h1m3 0h1m3 0h1m2 0h1m4 0h1m7 0h2m-32 1h1m1 0h1m3 0h4m1 0h1m5 0h1m3 0h1m1 0h1m3 0h2m2 0h1m-35 1h1m2 0h3m2 0h2m2 0h1m11 0h2m4 0h1m3 0h1m-35 1h1m2 0h1m9 0h1m11 0h1m3 0h1m4 0h1m-28 1h1m22 0h1m-6 1h1m-25 1h1m18 0h1m1 0h1m1 0h1m4 0h2m2 0h2m-31 1h1m3 0h1m2 0h1m10 0h1m1 0h2m1 0h1m1 0h1m-30 1h1m7 0h2m4 0h3m8 0h3m1 0h2m3 0h1m-34 1h1m2 0h1m1 0h1m3 0h1m13 0h1m1 0h2m1 0h1m2 0h1m-33 1h3m7 0h1m14 0h1m7 0h2m-26 1h1m3 0h1m1 0h1m1 0h1m3 0h1m-21 1h1m2 0h2m2 0h1m4 0h1m1 0h1m5 0h1m2 0h1m2 0h1m1 0h2m2 0h1m-26 1h2m7 0h1m9 0h1m1 0h1m4 0h1m-33 1h1m18 0h1m3 0h1m-12 1h1m2 0h1m8 0h1m-20 1h3m4 0h2m4 0h1m12 0h1m-28 1h1m1 0h2m3 0h2m-9 1h1m1 0h2m4 0h1m16 0h1m-18 1h1m-14 1h1m9 0h1m-11 1h1m1 0h2m8 0h2m11 0h2m5 0h2m-33 1h1m9 0h2m3 0h1m8 0h1m6 0h1m-20 1h1m2 0h1m-5 1h1m15 0h2m-14 2h1m-9 1h1m7 0h1m9 0h1m6 0h1m-10 1h1m2 0h1m-20 1h1m17 0h1m5 0h1m-14 1h1m1 0h1m5 0h1m-29 1h1m13 0h1m9 0h1m2 0h1m5 0h1m-34 1h1m18 0h1m-18 1h2m2 0h2m10 0h1m6 0h1m-21 1h1m5 0h2m2 0h1m3 0h2m5 0h3m1 0h1m-31 1h1m1 0h1m11 0h1m3 0h1m1 0h2m3 0h2m4 0h1m-32 1h1m2 0h1m14 0h1m7 0h1m-13 1h1m4 0h1m6 0h1m4 0h1m-32 2h2m12 0h1m11 0h1m-27 1h1m-1 1h1m14 0h1m-12 1h1m5 0h1m1 0h1m1 0h1m3 0h1m1 0h1m7 0h1m-24 1h2m10 0h1m-13 1h1m6 0h1m6 0h1m2 0h1m2 0h1m2 0h1m1 0h1m-21 1h4m1 0h1m6 0h1m3 0h1m1 0h1m3 0h1m-31 1h1m6 0h1m18 0h1m-27 1h1m12 0h1m1 0h1m6 0h1m3 0h1m4 0h1m-34 2h1m20 0h1m10 0h1m-23 1h1m10 0h1m7 0h1m-26 1h1m5 0h1m9 0h1m-18 1h1m7 0h1m4 0h2m9 0h1m4 0h2m-31 1h1m2 0h1m6 0h1m2 0h1m9 0h2m1 0h2m-31 1h1m2 0h2m2 0h2m1 0h1m2 0h1m1 0h1m3 0h2m2 0h1m1 0h3m1 0h5m-31 1h1m3 0h1m14 0h1m2 0h4m3 0h1m-26 1h1m1 0h2m9 0h1m8 0h1m2 0h2m-18 1h1m3 0h1m-18 1h1m2 0h2m1 0h3m7 0h1m1 0h1m1 0h1m4 0h5m-30 1h1m1 0h1m1 0h1m11 0h1m2 0h1m2 0h1m1 0h2m-26 1h1m2 0h1m1 0h1m5 0h1m4 0h1m7 0h1m3 0h2m1 0h1m-30 1h1m1 0h2m4 0h2m7 0h1m3 0h1m4 0h1m-32 1h1m1 0h3m2 0h1m2 0h1m3 0h1m7 0h1m2 0h1m1 0h2m-25 1h1m2 0h1m12 0h1m1 0h2m7 0h2m-26 1h1m5 0h1m2 0h1m5 0h2m3 0h1m3 0h2m-33 1h1m2 0h1m1 0h1m3 0h1m2 0h2m11 0h1m-26 1h1m1 0h1m5 0h1m9 0h2m1 0h1m1 0h3m-23 1h1m7 0h2m5 0h3m3 0h1m1 0h3m1 0h1m-29 1h1m1 0h1m14 0h2m3 0h2m-6 1h1m-12 1h1m5 0h1m5 0h1m8 0h2m1 0h1m-32 1h1m16 0h1m1 0h1m-20 1h1m12 0h1m5 0h1m3 0h1m-26 1h1m2 0h1m1 0h1m3 0h1m9 0h1m3 0h1m2 0h2m1 0h1m1 0h1m-32 1h1m4 0h1m6 0h1m7 0h1m4 0h1m3 0h1m3 0h1m-23 2h1m13 0h1m-24 1h1m7 0h2m13 0h1m3 0h1m1 0h1m-29 1h1m-1 1h1m2 0h1m2 0h1m2 0h1m2 0h1m10 0h1m2 0h1m2 0h1m1 0h1m-33 1h2m7 0h1m3 0h1m9 0h1m-24 1h1m17 0h1m4 0h1m4 0h1m-19 1h1m-5 1h1m11 0h2m11 0h1m-31 1h1m1 0h1m4 0h1m3 0h2m1 0h1m2 0h1m4 0h1m3 0h1m2 0h1m-10 1h1m-24 1h1m3 0h1m1 0h2m3 0h1m10 0h2m5 0h1m-28 1h1m4 0h1m7 0h1m2 0h1m4 0h1m-13 2h1m2 0h2m10 0h3m-28 2h1m3 0h1m1 0h1m1 0h1m9 0h1m12 0h1m-31 1h1m8 0h1m1 0h3m3 0h1m10 0h1m3 0h1m-33 1h2m3 0h1m3 0h1m12 0h1m9 0h1m-34 1h1m17 0h1m1 0h1m-20 1h2m6 0h1m8 0h2m-21 1h3m2 0h1m9 0h1m1 0h7m3 0h1m-20 1h1m6 0h1m3 0h1m-4 1h1m16 0h2m-35 1h1m1 0h1m1 0h2m3 0h1m2 0h1m3 0h1m6 0h1m3 0h1m2 0h1m1 0h1m-25 1h1m2 0h2m6 0h1m7 0h1m6 0h1m-35 1h1m10 0h1m8 0h1m3 0h1m2 0h2m-27 1h1m2 0h2m5 0h1m-13 1h1m8 0h2m1 0h1m14 0h1m-27 1h1m4 0h1m17 0h1m-25 1h1m17 0h1m10 0h1m-1 1h1m-29 1h1m4 0h1m-7 1h1m11 0h1m5 0h2m13 0h1m-32 1h1m3 0h1m6 0h1m2 0h1m10 0h1m2 0h1m2 0h1m-9 1h1m1 0h1m-25 1h1m2 0h1m9 1h1m-11 1h1m-6 1h1m1 0h2m4 0h2m2 0h1m13 0h2m5 0h1m-30 1h1m4 0h1m19 0h1m-25 1h1m9 0h1m2 0h1m7 0h1m-24 1h1m1 0h1m3 0h2m3 0h2m1 0h1m4 0h1m6 0h1m1 0h1m-22 1h1m1 0h1m6 0h1m-16 1h1m5 0h1m1 0h1m2 0h1m1 0h1m1 0h1m3 0h2m1 0h1m1 0h2m-26 1h1m4 0h1m7 0h1m3 0h1m3 0h2m-18 1h1m8 0h1m6 0h1m4 0h1m-31 1h1m7 0h2m2 0h2m3 0h1m1 0h2m5 0h1m1 0h1m3 0h1m-26 1h1m1 0h1m6 0h1m2 0h1m4 0h1m3 0h1m-24 1h1m12 0h1m-14 1h1m18 0h2m-18 1h1m-7 1h1m18 0h1m6 0h1m-30 2h1m2 0h1m1 0h1m3 0h1m6 0h2m2 0h1m-16 1h1m4 0h1m1 0h3m2 0h1m16 0h1m-32 1h2m3 0h1m6 0h1m1 0h1m5 0h1m2 0h1m6 0h1m-22 1h2m5 0h1m3 0h1m4 0h2m-29 1h1m2 0h1m5 0h1m10 0h3m1 0h1m4 0h2m2 0h1m-32 1h1m1 0h2m12 0h1m8 0h1m2 0h1m-27 1h1m2 0h1m9 0h3m1 0h3m1 0h1m1 0h1m1 0h2m-29 1h1m1 0h1m6 0h2m5 0h1m1 0h3m-24 1h1m2 0h1m5 0h1m3 0h1m-4 1h1m8 0h1m4 0h1m-19 1h1m6 0h1m5 0h2m5 0h1m-26 1h1m5 0h1m1 0h1m9 0h1m9 0h1m1 0h1m1 0h1m-26 1h1m4 0h1m-2 2h1m13 0h1m1 0h1m1 0h1m-19 1h1m4 0h1m5 0h1m2 0h1m2 0h1m-27 1h1m7 0h3m16 0h1m1 0h1m-33 1h1m2 0h1m2 0h1m4 0h1m11 0h1m5 0h2m-29 1h1m4 0h1m7 0h1m1 0h1m-15 1h2m11 0h1m2 0h2m6 0h2m2 0h1m2 0h1m-31 1h1m4 0h1m3 0h1m1 0h1m3 0h1m6 0h1m2 0h1m-29 1h1m9 0h1m3 0h1m5 0h1m2 0h1m4 0h1m-23 1h1m3 2h1m-1 1h1m10 0h1m5 1h1m-26 2h1m13 0h2m10 0h1m-30 1h2m1 0h1m3 0h2m1 0h1m6 0h1m3 0h1m3 0h1m7 0h1m-34 1h1m4 0h1m2 0h1m7 0h1m-16 1h1m5 0h1m1 0h2m19 0h1m2 0h1m-29 1h1m2 0h2m1 0h2m2 0h1m1 0h1m2 0h2m1 0h2m1 0h3m1 0h1m3 0h1m-34 2h1m13 0h1m10 0h1m-24 1h1m5 0h2m12 0h1m2 0h1m-15 1h1m2 0h1m18 0h1m-24 1h1m6 0h1m2 0h2m8 0h1m2 0h1m-20 1h1m2 0h1m7 0h1m-9 1h1m-17 1h1m15 0h1m7 0h1m7 0h1m-30 1h1m28 0h1m-30 1h2m6 0h2m9 0h1m9 0h1m-32 1h1m6 0h1m5 0h1m3 0h1m1 0h1m1 0h4m-7 1h1m-10 1h1m-11 2h1m-1 1h2m3 0h1m1 0h1m2 0h2m2 0h2m5 0h2m8 0h1m-28 1h1m1 0h1m3 0h1m3 0h1m4 0h1m2 0h2m-24 1h1m2 0h1m3 0h2m1 0h1m1 0h1m1 0h2m2 0h2m1 0h1m1 0h1m3 0h1m-29 1h3m2 0h1m6 0h2m1 0h2m6 0h1m4 0h1m2 0h1m-33 1h4m9 0h1m1 0h1m1 0h2m1 0h1m10 0h1m-31 1h1m22 0h1m-17 2h1m9 0h1m2 0h1m3 1h1m-23 1h1m1 0h1m1 0h1m1 0h1m1 0h1m1 0h2m3 0h1m2 0h2m5 0h1m2 0h1m-30 1h2m1 0h1m5 0h2m1 0h3m6 0h2m1 0h2m2 0h1m1 0h1m1 0h1m-24 1h1m15 0h1m3 0h1m-29 1h1m2 0h4m1 0h1m7 0h1m1 0h2m1 0h1m1 0h3m1 0h2m2 0h1m-26 1h3m1 0h1m3 0h1m7 0h1m2 0h1m2 0h1m-22 1h1m2 0h1m11 0h1m-21 1h1m6 0h2m2 0h1m5 0h2m-22 1h1m7 0h1m1 0h1m5 0h1m5 0h1m2 0h1m2 0h1m-13 1h1m11 0h1m-22 1h1m-4 1h1m3 0h1m10 0h1m2 0h1m5 0h1m-26 1h2m5 0h1m10 0h2m1 0h1m3 0h1m-10 1h1m-14 1h1m1 0h1m5 0h1m4 0h2m1 0h4m1 0h1m-30 1h1m2 0h1m2 0h1m9 0h2m7 0h2m2 0h1m2 0h1m-23 1h1m-3 1h1m1 0h1m13 0h1m9 0h1m-23 1h1m21 0h1m-33 1h1m4 0h1m5 0h2m3 0h1m5 0h1m1 0h1m2 0h1m1 0h2m-31 1h1m2 0h1m4 0h1m1 0h2m12 0h1m3 0h1m1 0h1m-24 1h1m16 0h1m4 0h1m2 0h1m-1 1h1m-33 1h1m11 0h1m15 0h1m-26 1h1m4 0h1m4 0h1m10 0h1m2 0h1m1 0h1m2 1h1m-27 2h1m25 0h1m-35 1h1m4 0h1m3 0h1m1 0h1m6 0h1m1 0h2m4 0h1m-24 1h2m1 0h1m9 0h1m2 0h1m1 0h2m7 0h1m-25 1h1m2 0h1m5 0h3m2 0h1m3 0h1m3 0h1m1 0h1m-22 1h1m7 0h1m3 0h1m-20 1h4m1 0h3m7 0h2m3 0h1m5 0h2m4 0h1m-33 1h5m3 0h1m2 0h1m3 0h1m2 0h3m1 0h2m3 0h1m-14 1h2m3 0h1m-18 2h1m3 0h1m2 0h1m12 0h1m-22 1h1m3 0h2m4 0h2m1 0h2m11 0h1m3 0h1m-34 1h3m4 0h1m21 0h1m1 0h2m-2 1h2m-16 1h1m-16 1h1m16 0h1m3 0h1m5 0h1m-18 1h3m2 0h1m5 0h1m2 0h1m5 0h1m-21 1h1m1 0h1m2 0h1m-6 1h1m1 0h1m-14 1h2m5 0h1m5 0h1m16 0h1m-31 1h1m4 0h1m10 0h1m9 0h1m1 0h1m2 0h1m-31 1h1m3 1h1m7 0h1m2 0h1m6 0h1m6 0h1m2 0h1m-34 1h1m1 0h5m4 0h1m2 0h1m7 0h1m5 0h2m1 0h2m-33 1h2m1 0h2m1 0h1m6 0h1m12 0h1m-27 1h5m1 0h1m16 0h1m-24 1h1m5 0h1m4 0h1m-1 1h1m20 0h1m-27 1h1m11 0h1m10 0h1m-29 1h2m5 0h1m2 0h1m2 0h2m4 0h2m3 0h1m3 0h2m-27 1h1m6 0h1m5 0h1m-14 1h1m5 0h1m10 2h1m-20 1h1m9 0h1m15 0h1m2 0h1m-22 2h1m10 0h2m7 0h2m-25 1h2m1 0h2m5 0h1m3 0h1m1 0h1m4 0h2m-29 1h2m4 0h1m2 0h2m3 0h1m1 0h1m4 0h1m1 0h2m3 0h1m2 0h2m-33 1h1m4 0h1m3 0h1m9 0h1m1 0h1m1 0h1m-21 1h1m2 0h1m1 0h1m3 0h1m1 0h2m2 0h1m2 0h4m2 0h2m1 0h1m-19 1h1m8 0h1m8 1h2m-20 1h1m16 0h1m-23 4h1m21 0h1m-25 1h1m1 0h1m1 0h1m4 0h2m1 0h1m1 0h1m1 0h1m7 0h2m-33 1h1m5 0h2m23 0h1m-17 1h1m6 1h1m-10 1h1m1 0h1m15 0h1m-25 1h1m3 0h1m-9 1h1m9 0h1m4 0h2m2 0h1m-23 1h1m2 0h1m2 0h2m2 0h1m2 0h2m2 0h1m6 0h1m3 0h1m5 0h1m-27 2h1m10 0h1m4 0h1m1 1h1m-26 1h1m1 0h1m1 0h1m4 0h1m6 0h1m2 0h1m5 0h1m-19 1h3m2 0h1m1 0h1m4 0h1m4 0h1m8 0h1m-34 1h1m6 0h1m4 0h1m7 0h2m2 0h1m2 0h1m3 0h1m-32 1h1m1 0h1m4 0h1m8 0h2m1 0h2m2 0h2m4 0h1m-16 1h1m17 0h1m-34 1h1m1 0h1m2 0h1m3 0h1m12 0h1m1 0h3m-26 1h1m6 0h2m1 0h1m1 0h3m1 0h2m9 0h1m2 0h2m-23 1h1m1 0h2m1 0h1m2 0h1m1 0h1m3 0h1m3 0h3m-28 1h1m2 0h1m1 0h3m1 0h2m1 0h1m1 0h1m5 0h2m4 0h1m1 0h1m1 0h2m-30 1h2m1 0h1m1 0h1m2 0h1m4 0h1m10 0h1m1 0h2m-33 1h1m2 0h1m4 0h1m2 0h1m20 0h1m-33 1h1m5 0h1m3 0h1m1 0h1m1 0h3m2 0h1m3 0h1m1 0h1m4 0h2m2 0h1m-30 1h1m3 0h2m1 0h1m2 0h2m9 0h5m1 0h1m1 0h1m-35 1h1m6 0h1m7 0h2m2 0h1m2 0h2m4 0h1m5 0h1m-19 1h1m11 0h1m5 0h1m-6 1h1m1 0h1m-25 1h1m8 0h1m14 0h1m2 0h1m-30 1h1m2 0h1m7 0h1m9 0h1m6 0h2m-2 1h1m-18 3h1m-17 1h1m14 0h1m4 0h1m5 0h1m4 0h1m1 0h2m-17 1h1m3 0h2m1 0h2m-5 1h1m2 1h1m-7 1h1m1 0h1m2 0h3m2 0h1m-28 1h1m15 0h2m3 0h1m1 0h1m-22 1h1m16 0h2m5 0h1m2 0h2m1 0h1m-19 1h1m8 0h4m1 0h1m-6 1h1m-14 1h1m9 0h1m3 0h1m2 0h1m3 0h1m-34 1h1m23 0h1m2 0h1m5 0h1m-10 1h4m2 1h1m3 0h1m-11 1h1m5 0h1m-12 1h1m4 0h1m4 0h3m-8 1h1m-8 1h2m3 0h3m2 0h1m-25 1h1m12 0h3m2 0h1m9 0h1m2 0h1m-23 1h1m4 0h1m16 0h1m-14 1h1m2 0h1m9 0h1m-14 1h1m12 0h1m-14 1h1m8 0h1m-25 1h1m11 0h2m9 0h1m4 0h1m-29 1h1m11 0h1m4 0h1m4 0h1m3 0h1m1 0h1m-29 1h1m20 0h1m2 0h1m-31 1h1m1 0h2m3 0h1m8 0h1m3 0h1m2 0h1m1 0h2m2 0h1m3 0h1m-6 1h2m3 0h1m-22 1h1m6 0h2m6 0h2m-27 1h1m4 0h2m5 0h1m3 0h1m1 0h1m6 0h4m2 0h2m-31 1h1m2 0h2m7 0h1m2 0h2m5 0h2m3 0h1m-12 2h2m3 0h1m2 0h1m1 0h1m3 0h1m-1 1h1m-4 1h1m2 2h1m-12 1h1m7 1h1m-9 1h1m-7 1h1m-4 1h1m8 0h1m7 0h1m1 0h1m-11 1h1m-14 1h1m17 0h1m5 0h1m-16 1h1m2 0h1m1 0h1m-6 1h1m3 0h1m4 0h1m1 0h1m-12 5h1m2 0h1m-9 1h1m12 0h1m-2 2h1m-14 2h1m9 0h1m7 0h1m2 0h1m-22 1h1m2 2h1m7 0h1m-22 1h1m4 1h1m4 0h1m-1 1h1m-14 4h1m8 0h1m14 0h1m2 0h1m-5 1h1m0 1h1m-16 1h1m10 0h1m6 0h1m-6 1h1m1 0h1m-17 2h1m-4 1h1m-6 1h1m8 0h1m14 0h1m4 0h2m-18 1h1m2 0h1m-3 1h1m11 0h1m2 1h1m-30 1h1m12 0h1m9 0h1m2 0h2m3 0h1m-30 4h1m25 0h1m-29 1h1m1 0h1m-3 1h1m7 0h1m8 0h1m10 0h1m1 0h1m-23 1h1m1 1h1m8 0h2m4 0h3m2 0h1m1 0h1m-14 1h1m2 0h1m1 0h1m2 0h1m4 0h1m1 0h1m-21 1h1m4 0h1m4 0h1m-3 1h1m2 2h1m-4 1h1m-20 1h1m24 0h1m-16 1h1m6 0h1m4 0h1m-26 1h2m17 0h1m-17 1h3m1 0h1m2 0h5m2 0h1m6 0h1m3 0h1m2 0h4m-35 1h1m1 0h1m6 0h3m3 0h1m4 0h1m2 0h1m2 0h1m1 0h1m5 0h1m-32 1h3m1 0h1m1 0h2m3 0h2m18 0h1m-34 1h1m2 0h1m2 0h1m1 0h1m1 0h3m2 0h1m1 0h4m-22 1h1m9 0h1m4 0h2m9 0h1m6 0h2m-24 1h1m2 0h1m-12 1h1m4 0h1m5 0h1m5 0h1m-20 1h1m1 0h1m2 0h1m1 0h1m1 0h2m2 0h1m5 0h1m8 0h1m-30 1h2m9 0h1m7 0h1m4 0h1m4 0h2m-24 1h1m11 0h1m4 0h1m4 0h2m-12 1h1m-17 1h1m1 0h1m2 0h2m2 0h1m8 0h1m3 0h1m4 0h1m-28 2h1m1 0h1m1 0h2m2 0h2m2 0h1m11 0h1m3 0h1m1 0h1m-32 1h2m1 0h1m5 0h1m15 0h1m-3 1h1m1 0h1m2 0h1m-31 1h1m1 0h3m1 0h2m14 0h1m4 0h1m2 0h1m2 0h1m-34 1h1m2 0h1m7 0h1m3 0h1m2 0h2m3 0h1m3 0h3m2 0h3m-30 1h1m12 0h1m3 0h1m8 0h1m-25 1h1m8 0h1m5 0h1m3 0h1m2 0h1m-24 1h1m1 0h1m4 0h1m2 0h1m4 0h1m3 0h1m6 0h1m-33 1h2m4 0h1m3 0h1m5 0h1m1 0h1m2 0h1m1 0h1m7 0h1m-31 1h1m1 0h1m3 0h1m1 0h1m5 0h1m3 0h1m4 0h1m1 0h1m2 0h2m3 0h1m-34 1h1m3 0h1m1 0h1m4 0h2m2 0h1m15 0h3m-31 1h1m1 0h2m1 0h2m1 0h2m11 0h2m1 0h3m2 0h1m-31 1h2m2 0h1m6 0h1m2 0h1m2 0h1m1 0h1m8 0h1m2 0h1m-24 1h1m1 0h1m4 0h1m6 0h1m2 0h1m1 0h1m3 0h1m-26 1h1m2 0h1m1 0h1m1 0h1m8 0h1m1 0h1m2 0h1m-17 2h1m9 0h1m-15 1h2m19 1h1m-30 1h1m8 0h1m1 0h1m15 0h1m1 0h1m1 0h1m-34 1h1m3 0h1m1 0h1m2 0h2m4 0h2m1 0h1m4 0h2m4 0h1m-24 1h1m4 0h1m1 0h1m4 0h2m10 0h1m-25 1h1m7 1h1m-13 1h1m9 0h1m1 0h1m1 0h1m-15 1h1m10 0h1m15 0h1m-28 1h2m2 0h1m2 0h2m1 0h3m1 0h1m1 0h1m9 0h1m1 0h1m-31 1h1m4 0h1m2 0h1m5 0h1m3 0h1m3 0h1m4 0h1m2 0h2m-31 1h1m1 0h1m4 0h2m5 0h1m2 0h5m1 0h1m-19 1h1m4 0h1m7 0h1m3 0h1m1 0h1m2 0h1m1 0h2m1 0h1m-32 1h2m2 0h4m4 0h1m1 0h1m1 0h1m4 0h1m5 0h1m-29 1h1m21 0h1m5 0h1m-28 1h1m3 0h1m9 0h1m6 0h1m4 0h1m-27 1h1m5 0h1m3 0h1m3 0h1m6 0h1m1 0h1m1 0h1m3 0h1m1 0h1m-32 1h1m1 0h2m2 0h1m2 0h1m2 0h1m2 0h1m10 0h1m4 0h1m-28 1h1m1 0h1m-7 1h1m3 0h1m-5 1h1m7 0h1m6 0h1m13 0h2m-31 1h1m3 0h1m3 0h1m2 0h1m3 0h1m2 0h1m6 0h1m-28 1h2m3 0h1m1 0h1m1 0h2m6 0h1m1 0h1m10 0h1m1 0h1m-25 1h2m-4 1h1m24 0h2m-20 2h1m3 0h1m5 0h1m10 1h1m-28 2h1m7 0h1m6 0h1m2 0h1m2 0h2m4 0h1m-29 1h1m2 0h1m1 0h1m3 0h1m2 0h1m5 0h2m3 0h1m2 0h1m-23 1h1m13 1h1m-24 1h1m10 0h1m15 0h2m4 0h1m-26 1h1m18 0h1m4 0h1m-31 1h1m3 0h1m5 0h3m2 0h1m3 0h1m5 0h2m2 0h1m-25 1h1m2 0h1m16 0h1m5 0h1m-17 1h1m-14 1h1m10 0h1m15 0h1m-31 1h1m21 0h1m3 0h2m2 0h1m-31 1h3m1 0h1m7 0h1m2 0h1m1 0h1m1 0h1m1 0h2m2 0h1m4 0h2m-34 1h1m4 0h1m5 0h1m10 0h3m1 0h2m2 0h2m-32 1h1m2 0h1m4 0h1m1 0h2m3 0h1m1 0h1m3 0h1m2 0h2m3 0h2m1 0h2m-33 1h1m2 0h4m2 0h1m2 0h2m12 0h1m1 0h1m1 0h1m1 0h1m-32 1h1m12 0h1m14 0h1m-30 1h1m13 0h1m1 0h1m6 0h1m5 0h1m-31 1h3m11 0h3m13 0h1m-30 1h1m4 0h1m2 0h1m1 0h1m2 0h1m1 0h2m4 0h1m3 0h1m-21 1h1m7 0h1m1 0h1m7 0h1m5 0h1m3 0h1m-33 1h3m10 0h1m6 0h1m1 0h1m3 0h1m5 0h1m-35 1h3m7 0h1m3 0h4m1 0h1m3 0h1m8 0h2m-27 1h3m5 0h1m6 0h1m1 0h2m-7 1h1m1 0h1m3 0h1m1 0h2m1 0h1m-31 1h1m4 0h1m2 0h1m17 0h1m-9 1h1m7 0h1m6 0h2m-35 1h2m3 0h1m3 0h1m16 0h2m3 0h1m-24 1h1m16 0h1m1 0h1m3 0h2m-32 1h1m8 0h2m8 0h1m1 0h1m3 0h2m6 0h1m-26 1h1m-1 1h1m2 0h2m1 0h1m-15 1h1m3 0h2m3 0h1m1 0h1m2 0h1m1 0h1m2 0h1m2 0h1m1 0h1m3 0h1m1 0h1m1 0h1m-31 1h1m2 0h1m8 0h2m1 0h1m1 0h2m3 0h1m8 0h1m-22 1h1m17 0h1m-1 1h1m-29 1h1m3 0h1m3 0h2m1 0h1m2 0h1m2 0h2m2 0h2m3 0h2m1 0h1m1 0h1m-32 2h1m14 0h1m-19 1h1m1 0h3m4 0h1m1 0h2m4 0h4m2 0h2m3 0h1m2 0h1m-28 1h1m15 0h1m8 0h2m1 0h1m-33 1h1m10 0h1m2 0h2m3 0h1m10 0h1m2 0h1m-34 1h1m2 0h1m16 0h1m13 0h1m-33 1h4m3 0h1m4 0h2m6 0h2m6 0h3m-31 1h1m1 0h1m10 0h1m2 0h4m1 0h1m1 0h1m1 0h1m3 0h4m-35 1h1m13 1h1m10 0h1m3 0h1m-30 1h1m1 0h1m8 0h1m13 0h1m2 0h1m4 0h1m-34 1h1m7 0h1m8 0h2m-11 2h1m5 0h1m14 0h1m3 0h1m-31 1h1m2 0h1m1 0h1m3 0h1m2 0h2m4 0h1m2 0h1m4 0h1m-22 4h1m8 0h1m1 0h1m6 0h1m-26 1h1m15 0h1m10 0h1m-27 2h1m8 0h1m4 0h2m1 0h2m1 0h1m11 0h1m-33 1h1m6 0h3m2 0h1m1 0h1m1 0h3m4 0h1m2 0h1m5 0h1m-20 1h1m17 0h1m-32 1h1m1 0h2m5 0h1m2 0h1m1 0h5m4 0h1m7 0h1m-29 1h1m1 0h1m3 0h1m1 0h2m5 0h1m1 0h2m4 0h1m3 0h1m-32 1h1m5 0h1m1 0h1m1 0h1m3 0h1m2 0h3m2 0h2m3 0h1m3 0h1m-31 1h1m8 0h1m5 0h1m1 0h1m3 0h2m3 0h1m-9 1h1m-19 1h1m29 0h1m-31 1h1m4 0h1m6 0h1m1 0h1m3 0h1m1 0h2m5 0h1m-24 1h1m13 0h1m12 0h2"/><path stroke="#C6E2F5" stroke-opacity="0.8" d="M27 10.5h1m-12 4h1m6 1h1m-14 18h1m11 1h1m-13 29h1m12 0h1m-9 9h1m6 2h1m-5 6h1m6 0h1m-11 19h1m-14 1h1m12 0h1m9 0h1m-21 3h1m17 1h1m-19 10h1m9 3h1m10 0h1m-10 16h1m-15 6h1m11 3h1m-16 1h1m13 11h1m14 8h1m-6 9h1m-25 1h1m23 1h1m-8 15h1m5 0h1m-15 25h1m11 12h1m-10 11h1m21 3h1m-2 7h1m-21 8h1m1 16h1m-5 1h1m-5 3h1m14 4h1m-18 11h1m16 12h1m-13 7h1m-8 3h1m30 8h1m-4 1h1m-28 8h1m22 19h1m3 11h1m-27 1h1m-5 1h1m6 0h1m25 27h1m-31 4h1m11 5h1m15 0h1m-33 15h1m22 3h1m-8 3h1m16 0h1m-33 1h1m22 12h1m-19 2h1m-7 7h1m5 5h1m-7 6h1m33 1h1m-20 8h1m-15 2h1m5 0h1m-7 1h1m27 0h1m-15 1h1m10 0h1m-9 11h1m-10 1h1m-4 1h1m2 4h1m6 1h1m-3 9h1m-12 8h1m-4 4h1m3 0h1m5 12h1m2 0h1m-4 11h1m-2 7h1m-8 3h2m-3 7h1m9 2h1m2 0h1m-14 1h1m2 0h1m18 0h1m4 5h1m-29 3h1m14 2h1m11 0h2m3 0h1m-22 1h1m12 1h1m-10 1h1m-2 3h1m14 0h2m1 0h1m1 0h1m-21 2h1m0 5h1m2 7h1m-9 1h1m7 0h1m-1 6h1m-4 6h1m3 17h1m-13 3h1m9 3h1m6 0h1m-13 7h1m20 1h1m-34 6h1m0 3h1m30 1h1m-7 4h1m-10 4h1m9 1h1m2 10h1m-3 5h1m1 4h1m-24 14h1m-6 14h1m5 12h1m-8 2h1m10 5h2m16 7h1m-31 4h1"/><path stroke="#D6ECFA" stroke-opacity="0.55" d="M8 10.5h1m4 10h1m-11 1h1m1 0h1m-3 1h1m-1 1h1m1 0h1m21 0h2m-5 1h1m-20 13h1m18 8h1m-19 1h1m21 1h1m5 6h1m-3 6h1m-1 1h1m-1 1h1m-5 2h1m-12 3h1m10 0h1m4 0h1m-23 1h1m-1 6h1m8 1h1m8 0h1m-16 1h1m11 2h1m-4 1h1m-23 2h1m2 0h1m4 0h2m1 0h1m8 0h1m4 0h1m-25 2h1m1 0h1m4 0h1m8 0h1m4 3h1m8 0h1m-27 5h1m8 0h1m-10 1h1m-4 1h1m5 0h2m3 0h2m2 0h1m3 0h1m2 0h1m6 0h1m-23 1h1m21 0h1m-23 4h1m-10 3h1m4 0h1m2 0h1m3 0h1m4 0h1m5 0h1m9 0h1m-20 2h1m-7 1h1m-10 1h2m7 0h1m7 0h1m4 0h1m3 0h1m4 0h1m1 0h2m-34 1h1m1 0h1m9 0h1m9 0h1m8 0h1m-19 1h1m-13 1h1m29 0h1m-3 1h1m1 0h1m-30 1h1m26 0h1m-1 1h1m-25 1h1m25 0h1m-7 2h1m-19 3h1m8 0h1m8 0h1m-27 1h1m9 0h1m6 0h1m2 0h1m6 0h1m4 0h1m0 1h1m-14 9h1m8 1h1m-2 1h1m0 1h1m-13 2h1m1 0h1m-3 2h1m1 1h1m-19 7h1m-1 2h1m26 0h1m1 0h2m-31 2h1m1 0h1m19 2h1m-20 1h1m16 0h1m1 0h1m6 0h1m-31 1h1m7 1h1m-9 2h1m19 0h1m5 1h1m-1 1h1m-20 5h1m5 2h1m-7 1h1m9 0h1m4 0h1m10 0h1m-33 1h1m31 0h1m-33 1h1m15 0h2m6 0h1m3 0h1m3 0h1m-12 1h1m10 0h1m-17 4h1m-16 1h1m31 0h1m-34 1h1m13 0h1m1 0h1m6 0h1m8 0h2m-30 1h1m11 0h1m14 0h1m1 0h1m-31 3h1m2 0h1m24 0h1m-26 2h1m8 0h1m-17 1h1m5 0h2m5 0h1m10 0h1m-25 1h1m12 0h1m11 1h1m3 0h1m-17 1h1m6 0h1m8 0h1m-15 1h1m-15 3h1m-1 1h1m4 0h1m11 0h1m3 0h1m9 0h1m-9 1h1m6 0h2m-27 1h1m-1 1h1m10 0h1m-1 1h1m-1 6h1m6 0h1m-20 4h1m16 1h1m-23 1h1m19 2h1m-6 4h1m-14 3h1m2 0h2m9 0h1m1 0h1m3 6h1m-11 4h1m-11 2h1m25 2h1m-19 1h1m21 2h1m-27 1h1m-1 1h1m26 0h1m-34 1h1m2 0h1m2 0h1m1 0h1m5 0h1m3 0h1m4 0h1m7 0h3m-34 1h1m7 0h1m5 0h1m7 0h2m-1 1h1m-17 1h1m6 0h1m-12 1h1m4 0h1m14 0h1m8 0h1m-1 2h1m-4 1h1m-26 4h1m12 0h1m-14 1h1m12 0h1m-14 1h1m3 0h1m3 0h1m4 0h1m-10 5h1m-1 1h1m1 0h1m-3 2h1m10 0h1m-12 1h1m-7 1h1m-1 5h1m3 4h1m10 0h1m16 0h1m-20 1h1m17 4h1m-27 7h1m-2 5h1m-3 1h1m1 0h1m6 0h2m2 0h1m4 0h1m1 0h1m3 0h1m4 0h1m-28 1h1m7 0h1m7 0h1m10 0h1m-20 1h1m8 1h1m-1 1h1m-24 1h1m22 0h1m-24 1h1m22 0h1m-24 1h1m2 0h1m10 0h1m8 0h1m0 5h2m-23 1h1m1 0h1m20 0h1m6 2h1m-1 1h1m-22 6h1m10 0h1m-7 3h1m-3 1h1m-8 2h1m8 0h1m3 0h1m8 0h1m-26 1h1m11 1h1m-13 1h1m17 0h1m8 1h1m-25 4h1m5 0h1m16 0h1m-32 1h1m6 0h1m1 0h1m15 0h1m5 0h1m-32 1h1m6 0h1m10 0h1m4 0h1m1 0h1m3 0h1m1 1h1m-32 1h1m21 0h1m8 0h1m-8 6h1m-9 2h1m-10 2h1m0 1h1m-7 2h1m17 0h1m-19 9h1m20 2h1m-22 1h1m5 0h1m14 1h1m8 0h1m-33 1h1m3 0h2m1 0h1m1 0h2m4 0h1m4 0h1m1 0h1m9 0h1m-25 5h1m17 0h1m1 3h1m3 0h1m1 1h1m-29 1h1m1 0h1m7 0h2m13 0h1m-27 1h1m8 0h1m1 0h1m4 0h1m3 0h2m1 0h1m4 0h1m-26 1h1m5 0h1m11 0h1m-19 1h1m17 0h1m4 0h1m-20 1h1m8 0h1m5 0h1m3 0h1m-1 1h1m2 2h1m-23 1h1m18 3h1m-1 2h1m-13 2h1m9 0h1m1 0h2m-25 1h1m1 0h1m14 0h1m5 0h1m-32 1h1m6 2h1m-7 3h1m1 0h1m1 0h1m23 0h1m-20 1h2m-1 1h1m7 1h1m-16 5h1m4 0h1m-1 1h1m-9 2h1m14 0h1m16 0h1m-30 1h1m28 0h1m-30 2h1m24 0h1m-26 2h1m9 5h1m14 0h1m-23 1h1m-1 1h1m-6 1h1m4 0h1m12 0h1m-19 1h1m25 1h1m-18 1h1m19 0h1m-17 1h1m11 0h1m-13 1h1m12 0h1m-18 2h1m10 1h1m4 0h1m-27 1h1m2 0h1m5 0h1m11 0h1m10 0h1m-1 1h1m-1 1h1m-31 1h1m3 0h1m7 0h1m2 0h1m3 0h1m2 0h1m-21 1h1m1 0h1m7 0h2m1 0h2m5 0h1m7 0h1m-21 1h1m18 0h1m-23 2h1m3 2h1m-4 3h1m-1 1h1m14 1h1m-2 2h1m-20 1h1m18 0h1m-1 1h1m4 1h1m-22 2h1m12 0h1m2 1h1m2 0h1m-19 3h1m11 0h1m3 0h1m1 0h1m-3 1h1m-17 2h1m2 0h1m-4 2h1m2 0h1m-4 1h2m1 0h1m7 0h2m3 0h1m1 0h1m-23 3h2m2 1h1m-10 1h2m1 0h1m1 0h1m2 0h1m1 0h1m1 0h2m6 0h1m1 0h1m1 0h2m1 0h3m3 0h1m-34 1h1m2 1h1m15 1h2m-21 6h1m7 0h1m20 0h1m3 0h1m-25 2h1m4 0h1m14 0h1m-22 1h2m4 0h1m1 0h1m3 0h1m8 0h1m2 0h1m-33 1h1m2 0h1m1 0h1m3 0h1m1 0h2m6 0h2m5 0h1m1 0h1m3 0h1m-24 1h1m4 0h1m-12 1h1m24 0h1m3 0h1m-5 2h1m-8 1h1m2 0h1m3 0h1m-21 2h1m-5 1h1m-4 3h1m-3 2h1m14 0h1m5 0h1m5 0h2m-4 1h1m-10 2h1m-10 2h1m19 0h1m1 0h1m-20 10h1m8 2h1m-8 2h1m1 0h1m-12 1h1m8 0h1m7 0h1m2 0h1m8 0h1m1 0h1m-33 1h2m5 0h1m10 0h1m2 0h1m3 4h1m-26 1h1m3 0h1m3 0h1m4 0h1m3 0h1m-13 1h1m23 4h1m-28 4h1m2 0h1m5 0h1m2 0h1m-15 3h1m12 0h1m17 0h1m-25 1h1m-5 3h1m21 1h1m-23 1h1m0 5h1m-6 4h1m10 0h1m19 0h1m-32 2h1m3 0h1m23 0h1m-29 1h1m5 0h1m11 0h1m-18 1h1m2 0h1m1 0h1m7 0h1m2 0h1m10 0h2m-16 1h1m3 0h1m-19 1h1m3 0h1m1 0h2m5 0h2m3 0h1m8 0h1m1 0h1m-30 1h1m7 0h1m4 1h2m4 0h1m-20 1h1m18 0h1m-8 1h1m-7 1h1m-1 1h1m-4 1h1m1 0h3m2 0h1m1 0h1m13 0h1m-14 1h1m12 0h1m-28 1h5m1 0h3m4 0h1m1 0h7m1 0h1m3 0h1m4 0h1m-33 1h1m1 0h1m3 0h1m1 0h1m2 0h2m1 0h2m5 0h1m10 0h2m-26 1h1m19 0h1m-26 1h1m3 0h2m1 0h1m4 0h1m9 0h1m2 0h1m3 0h1m-31 3h2m2 0h1m2 0h1m12 0h1m9 0h1m-1 1h1m-21 2h1m15 0h1m3 0h1m-8 1h1m-25 1h1m6 0h1m2 0h2m5 0h2m1 0h1m3 0h1m3 0h1m-30 1h1m11 0h1m7 0h2m-17 1h1m14 0h1m8 0h2m-26 1h1m23 0h1m-27 1h1m14 1h1m10 0h1m2 0h1m-33 1h2m4 0h2m7 0h1m2 0h1m3 0h1m2 0h1m2 0h1m-23 1h2m6 0h2m14 0h1m3 0h1m-3 1h1m-27 1h1m14 0h1m9 0h2m-1 1h1m-24 2h1m5 0h1m-14 1h1m1 0h1m3 0h1m24 0h1m-32 1h1m1 0h1m2 0h1m4 0h2m1 0h1m2 0h2m3 0h1m2 0h1m4 0h1m2 0h1m-28 2h1m9 0h1m-7 1h1m-6 3h1m-6 1h1m2 0h1m26 0h1m-17 1h1m15 1h2m0 3h1m-1 1h1m-9 2h1m-22 4h1m3 0h1m15 0h1m7 0h1m-9 1h1m-19 1h1m8 0h1m11 0h1m-13 1h1m11 1h1m-2 4h1m-14 2h1m9 0h1m-4 4h1m-11 1h1m9 0h1m1 0h1m-6 1h1m15 0h1m-8 1h1m-23 8h1m21 6h1m-24 2h1m4 0h1m14 0h1m7 0h1m2 0h1m-35 1h1m3 0h1m3 0h1m12 0h1m12 0h1m-13 1h1m-22 1h1m30 0h1m1 1h1m-13 3h1m11 0h1m-31 9h1m-1 1h1m-4 3h1m25 0h1m6 0h1m-20 1h1m10 0h1m3 0h1m3 0h1m-5 1h1m3 0h1m-24 1h1m22 0h1m-4 1h1m2 1h1m-24 1h1m22 0h1m-33 1h1m2 0h1m1 0h1m1 0h1m1 0h1m12 0h1m2 0h2m5 0h1m-33 1h1m11 0h1m9 0h1m-25 1h2m7 0h1m2 0h1m5 0h1m8 0h1m-27 1h1m10 0h1m11 0h1m8 0h1m-33 1h1m2 3h1m7 0h1m13 0h1m3 0h1m2 0h1m-30 2h1m-1 1h1m-1 1h1m-5 1h1m3 0h1m1 0h1m3 0h1m3 0h1m8 0h1m2 0h1m6 0h1m-8 1h1m-10 6h1m3 0h1m-14 2h1m20 1h1m-26 7h1m5 0h1m2 0h1m8 0h1m-14 8h1m-10 1h1m4 3h1m10 0h1m5 0h1m3 2h1m-22 2h1m13 0h1m-16 3h1m17 0h1m-1 1h1m5 0h1m-20 2h1m-7 1h1m5 0h1m3 0h1m10 0h1m7 0h1m-32 3h1m2 0h2m4 0h2m1 0h3m4 0h2m3 0h2m2 0h3m-30 1h1m1 0h3m4 0h1m2 0h3m1 0h1m1 0h3m1 0h1m7 0h1m-28 1h1m7 0h1m1 0h2m4 0h1m2 0h1m2 0h1m3 0h2m-15 2h1m-7 1h1m5 0h1m10 0h2m-25 5h1m-1 1h1m-4 3h1"/><path stroke="#E4F3F8" stroke-opacity="0.35" d="M21 .5h2m-6 2h1m12 0h1m-12 2h1m-17 1h1m15 0h1m2 0h1m2 0h1m-24 1h2m3 0h1m20 0h1m-18 2h1m1 0h1m5 0h2m3 0h1m3 0h2m-11 1h2m13 0h1m-16 1h1m-1 1h1m6 0h1m3 0h1m1 0h1m1 0h1m-34 2h1m18 0h1m-20 1h2m2 0h1m6 0h1m1 0h1m2 0h1m1 0h1m3 0h1m8 0h1m-31 1h1m7 0h1m1 0h1m1 0h1m1 0h2m12 0h1m-29 1h1m2 0h1m11 0h1m5 0h1m-21 3h1m1 0h1m2 0h1m2 0h4m8 0h1m2 0h2m4 0h1m-31 1h1m2 0h2m5 0h1m1 0h3m4 0h7m2 0h5m-35 1h1m3 0h1m1 0h1m3 0h7m6 0h2m1 0h2m1 0h2m-29 1h1m8 0h2m10 0h1m2 0h2m6 0h1m-35 1h3m1 0h1m2 0h1m2 0h3m3 0h1m3 0h1m2 0h2m1 0h1m4 0h1m2 0h1m-4 1h1m2 0h1m-17 1h1m12 0h1m-30 1h1m0 1h1m20 0h2m-16 1h1m16 0h1m-28 2h1m1 0h1m11 0h1m15 0h1m-31 1h1m1 0h1m8 0h2m3 0h2m2 0h1m-16 1h1m8 0h1m-13 1h1m5 0h1m2 0h1m14 0h1m3 0h1m-29 1h1m12 0h1m12 0h1m-21 2h1m15 0h1m1 0h1m2 0h1m-7 1h1m10 0h1m-33 1h1m15 0h1m15 0h1m-27 1h1m16 0h1m-1 1h1m-23 1h1m26 0h1m-24 1h1m7 0h1m4 0h1m3 0h1m5 0h1m-26 1h1m4 0h1m17 0h1m-29 1h1m3 0h1m10 0h2m11 0h1m5 0h1m-19 1h1m11 0h1m-25 1h1m3 0h1m19 0h1m-25 1h1m5 0h1m5 0h1m-13 1h2m14 0h1m1 0h1m1 0h1m3 0h1m-25 1h1m15 0h2m6 0h1m1 0h1m2 0h1m-24 4h1m2 0h2m3 0h1m8 0h1m3 0h1m1 0h1m-8 2h1m-11 2h1m0 1h1m-11 1h1m9 0h1m2 0h1m3 0h1m1 0h1m-27 1h2m2 0h4m1 0h1m2 0h1m3 0h1m2 0h2m5 0h1m1 0h1m4 0h1m-31 1h1m8 0h1m15 0h1m-29 1h1m4 0h2m3 0h1m1 0h1m1 0h1m8 0h1m4 0h1m3 0h2m-2 1h1m-16 1h1m10 0h1m2 0h1m1 0h1m-17 1h1m15 0h1m-30 1h1m5 0h1m4 0h2m4 0h1m5 0h1m-28 1h1m2 0h3m2 0h2m4 0h3m4 0h3m3 0h1m5 0h2m-32 1h3m2 0h1m8 0h1m3 0h1m-1 1h1m-17 2h1m10 0h1m11 0h1m5 0h1m-31 1h1m6 0h1m4 0h1m3 0h1m7 0h2m-24 1h1m9 0h1m3 0h1m2 0h1m3 0h1m1 0h1m-19 1h6m10 0h2m-18 1h1m4 0h2m4 0h1m2 0h2m-15 1h1m-10 1h1m8 0h1m4 0h1m7 0h1m-16 1h1m1 0h1m4 0h1m-16 1h1m7 0h1m1 0h1m5 0h1m-17 1h2m1 0h1m1 0h1m8 0h1m5 0h3m3 0h1m1 0h2m1 0h2m-33 1h2m8 0h1m5 0h1m-16 1h1m8 0h1m1 0h1m4 0h1m9 0h2m1 0h1m1 0h1m-33 1h3m1 0h1m7 0h1m2 0h2m5 0h1m3 0h1m2 0h1m2 1h1m-33 1h1m2 0h1m6 0h1m3 0h1m5 0h1m1 0h2m8 0h1m-28 1h1m14 0h1m-1 1h1m0 1h1m-22 1h1m7 0h1m7 0h1m2 0h1m1 0h1m9 0h1m-30 1h1m2 0h1m2 0h1m2 0h1m3 0h1m4 0h1m7 0h1m2 0h1m-33 1h2m7 0h1m2 0h1m1 0h1m1 0h1m7 0h1m-26 1h2m2 0h4m3 0h1m1 0h1m2 0h1m2 0h3m1 0h2m1 0h2m1 0h3m1 0h1m-34 1h1m2 0h1m1 0h1m2 0h1m2 0h1m3 0h1m1 0h1m1 0h1m1 0h1m1 0h1m3 0h4m3 0h1m-20 2h1m9 1h1m-25 1h2m8 0h1m1 0h1m1 0h1m2 0h1m5 0h2m-25 1h1m11 0h1m11 0h1m-25 1h2m2 0h1m1 0h1m2 0h1m1 0h2m4 0h1m2 0h1m3 0h1m6 0h1m-33 1h1m2 0h2m3 0h1m7 0h1m2 0h5m2 0h1m4 0h3m-33 1h2m2 0h1m7 0h1m8 0h5m-26 1h1m7 0h1m8 0h1m5 0h1m1 0h1m-27 1h3m11 0h1m3 0h3m2 0h1m2 0h1m4 0h2m1 0h1m-33 1h1m1 0h2m5 0h1m1 0h3m2 0h4m2 0h2m4 0h1m-31 1h1m4 0h1m1 0h3m1 0h1m2 0h2m1 0h4m1 0h1m3 0h1m6 0h2m-34 1h2m4 0h1m1 0h1m3 0h1m4 0h1m1 0h1m4 0h1m6 0h2m-25 1h1m2 0h1m8 0h1m8 0h1m3 0h1m-34 1h1m1 0h1m1 0h1m1 0h1m6 0h1m5 0h1m1 0h1m10 0h2m-29 1h1m22 0h1m2 0h1m1 0h1m-32 1h1m1 0h3m5 0h1m3 0h1m6 0h1m6 0h1m2 0h1m-22 1h1m3 0h1m2 0h2m2 0h1m1 0h1m4 0h1m1 0h1m-14 1h1m3 0h1m1 0h1m5 0h1m-29 1h1m2 0h1m1 0h1m9 0h1m4 0h1m2 0h1m2 0h1m-31 1h1m1 0h1m4 0h1m3 0h1m14 0h1m5 0h1m-9 1h1m1 0h1m-27 1h2m2 0h1m2 0h1m3 0h1m9 0h3m1 0h1m3 0h1m2 0h1m-31 1h1m1 0h1m2 0h3m6 0h1m2 0h1m1 0h3m1 0h1m4 0h1m2 0h1m-34 1h1m3 0h1m5 0h1m6 0h1m5 0h1m3 0h1m4 0h1m-33 1h1m9 0h1m8 0h1m3 0h1m10 0h1m-25 2h1m4 0h1m5 0h1m-17 1h1m1 0h1m2 0h2m15 0h1m-27 3h1m18 0h1m1 0h1m2 0h1m-24 1h1m6 0h2m1 0h1m1 0h1m1 0h1m5 0h1m3 0h1m1 0h1m-28 2h1m-1 2h1m2 2h1m11 0h1m13 0h1m-27 1h1m2 0h1m11 0h1m-19 1h1m14 0h1m2 0h1m1 0h1m9 0h1m-27 1h2m2 0h1m3 0h1m2 0h1m4 0h1m7 0h1m1 0h1m1 0h1m-18 1h1m2 2h1m1 0h1m-21 1h1m10 0h1m6 0h1m1 0h1m6 0h1m-10 1h1m14 0h1m-34 1h1m20 0h1m3 0h1m3 0h1m-28 1h1m4 0h1m2 0h2m1 0h1m6 0h1m4 0h1m1 0h1m1 0h2m2 0h1m-14 1h1m2 0h1m1 0h1m1 0h1m2 0h1m-29 1h1m2 0h1m8 0h2m6 0h1m2 0h1m-26 1h1m15 0h1m5 0h1m6 0h2m-27 1h1m9 0h1m2 0h1m2 0h1m1 0h1m2 0h1m-26 1h1m-1 1h1m2 0h1m12 0h1m2 0h1m10 0h1m-31 1h2m3 0h1m6 0h1m6 0h1m5 0h1m5 0h1m-17 1h1m5 0h1m6 0h2m-31 1h1m5 0h1m3 0h1m1 0h1m1 0h1m1 0h1m3 0h4m1 0h2m3 0h1m2 0h1m-30 1h1m10 0h1m-5 1h1m6 0h2m6 0h1m-27 1h1m6 0h1m26 0h1m-35 1h1m33 0h1m-31 1h1m18 0h1m2 0h1m1 0h2m3 0h2m-12 1h1m6 0h1m-31 1h1m17 1h1m6 1h1m-20 1h2m17 0h1m2 0h1m-23 1h2m9 0h1m4 0h1m10 0h1m-34 1h2m3 0h1m2 0h1m4 0h2m3 0h1m1 0h1m2 0h1m3 0h1m3 0h1m-27 1h1m1 0h1m14 0h1m4 0h1m-25 1h1m3 0h1m8 0h1m2 0h1m2 0h1m5 0h1m2 0h1m2 0h1m-34 1h2m4 0h1m7 0h1m1 0h1m2 0h1m6 0h1m-26 4h1m10 1h1m3 0h1m9 0h1m-26 1h1m5 0h2m1 0h1m1 0h1m2 0h1m3 0h2m7 0h1m1 0h2m-33 1h1m1 0h1m4 0h2m2 0h3m1 0h1m4 0h1m4 0h1m-21 1h1m14 0h1m3 0h1m9 0h1m-11 1h1m9 0h1m-29 1h1m8 0h2m4 0h1m2 0h2m4 0h1m-10 1h1m2 0h1m-12 1h1m7 0h1m3 0h1m4 0h1m-12 1h3m1 0h1m4 0h1m1 0h1m1 0h1m-29 1h5m7 0h1m1 0h5m2 0h1m1 0h1m1 0h1m1 0h1m1 0h1m-34 1h1m2 0h1m1 0h1m1 0h1m1 0h1m3 0h2m4 0h6m-11 1h1m1 0h1m1 0h1m2 0h1m3 0h1m4 0h1m-23 1h3m2 0h1m6 0h2m1 0h2m2 0h1m1 0h3m-17 1h1m8 1h1m8 0h1m-30 1h1m1 0h1m3 0h1m2 0h1m1 0h1m4 0h1m10 0h2m-28 1h1m7 0h1m3 0h1m5 0h4m2 0h1m1 0h1m2 0h1m-34 1h1m2 0h1m1 0h2m2 0h1m1 0h2m1 0h1m2 0h1m6 0h2m7 0h1m-23 1h1m4 0h1m4 0h2m2 0h1m6 0h1m-16 1h1m8 0h2m3 0h1m-32 1h1m2 0h1m1 0h1m11 0h1m1 0h1m1 0h1m4 0h1m-27 1h1m2 0h1m1 0h1m-3 2h1m-1 1h1m1 0h1m22 0h1m-29 1h1m2 0h1m1 0h2m5 0h1m3 0h1m11 1h1m1 0h1m-24 1h1m8 0h1m6 0h1m-23 1h1m1 0h1m2 0h1m5 0h1m-7 1h1m-8 1h2m-2 1h1m2 1h1m12 0h1m1 0h1m-19 1h1m2 0h1m11 0h1m4 0h1m6 0h2m2 0h1m-32 1h2m2 0h1m-5 1h1m17 0h2m-4 2h1m16 0h1m-32 1h1m30 0h1m-28 1h1m7 0h1m4 0h1m-19 1h2m2 0h2m3 0h1m5 0h1m2 0h2m2 0h1m2 0h2m5 0h1m-27 1h1m1 0h1m4 0h2m3 0h1m3 0h2m2 0h1m4 0h1m1 0h1m-33 2h1m27 0h1m-12 2h2m7 0h1m-18 1h1m16 0h1m-21 1h1m2 0h1m7 0h2m7 0h1m-10 1h2m10 0h1m-21 1h1m8 0h1m11 0h1m-23 1h2m11 0h2m2 0h2m1 0h1m-27 1h1m1 0h1m16 0h1m8 0h1m-31 1h3m6 0h1m1 0h1m8 0h1m4 0h1m2 0h2m-29 1h1m8 0h1m5 0h1m4 0h2m2 0h1m2 0h1m1 0h1m-30 1h1m6 0h1m1 0h1m5 0h2m2 0h1m5 0h1m1 0h1m-31 1h1m2 0h2m2 0h1m2 0h3m2 0h1m1 0h3m1 0h2m4 0h1m1 0h6m-35 1h1m2 0h1m1 0h1m6 0h1m3 0h1m3 0h1m1 0h1m2 0h1m2 0h1m1 0h3m-23 1h1m4 0h1m6 0h1m-22 1h1m2 0h1m2 0h2m10 0h2m1 0h1m7 0h1m-31 1h1m6 0h1m1 0h1m10 0h1m1 0h1m8 0h1m2 0h1m-27 1h1m5 0h1m3 0h1m3 0h1m8 0h1m-31 1h2m1 0h2m1 0h1m2 0h3m2 0h1m4 0h1m1 0h1m1 0h5m-28 1h1m1 0h2m1 0h2m16 0h2m5 0h2m1 0h1m-32 1h1m1 0h2m5 0h1m9 0h1m-20 1h1m4 0h1m2 0h1m3 0h2m5 0h2m8 0h1m-26 1h1m6 0h1m1 0h1m4 0h2m8 0h1m-29 1h1m2 0h1m9 0h1m6 0h1m2 0h1m-24 1h1m4 0h1m6 0h1m3 0h1m3 0h1m10 0h1m-34 1h1m1 0h2m2 0h2m4 0h1m2 0h1m5 0h2m4 0h1m4 0h1m-26 1h1m13 0h3m1 0h1m3 0h1m-7 1h1m-15 1h1m-5 1h1m4 0h1m1 0h1m2 0h1m2 0h1m1 0h1m1 0h1m7 0h2m-27 1h1m3 0h1m1 0h2m8 0h1m4 0h1m4 0h2m-32 1h1m2 0h1m1 0h1m2 0h2m1 0h1m7 0h2m4 0h1m3 0h3m-30 1h2m4 0h2m1 0h1m7 0h1m1 0h1m7 0h1m-30 1h1m1 0h3m1 0h1m1 0h1m2 0h1m1 0h3m1 0h1m3 0h2m1 0h2m3 0h1m1 0h1m-32 1h1m2 0h1m2 0h1m8 0h1m3 0h1m3 0h1m1 0h1m-20 1h1m-5 1h1m18 0h1m3 0h1m-1 1h1m-20 1h1m-8 1h1m2 0h1m13 0h1m2 0h1m1 0h1m3 0h1m1 0h1m4 0h1m-29 1h1m16 0h1m5 0h1m-26 1h2m4 0h1m2 0h1m4 0h1m7 0h1m1 0h1m2 0h1m1 0h1m-32 1h1m5 0h1m2 0h1m2 0h1m16 0h1m2 0h1m-34 1h1m17 0h1m4 0h2m4 0h2m-31 1h1m7 0h1m14 0h2m2 0h1m2 0h1m-31 1h1m7 0h1m4 0h1m13 0h1m1 0h2m2 0h1m-34 1h1m29 0h1m2 0h1m-34 1h2m11 1h1m3 0h2m11 0h1m2 0h1m-1 1h1m-34 1h1m1 0h2m8 0h1m1 0h1m2 0h1m5 0h1m2 0h1m-26 2h1m9 0h1m2 0h1m17 0h1m-33 1h1m13 0h1m-1 1h2m7 0h1m-4 1h1m2 0h1m-13 1h1m11 0h1m-23 1h1m3 0h1m17 0h1m-25 3h1m33 0h1m-35 1h2m5 0h2m4 0h2m-15 1h1m10 0h1m2 0h1m1 0h1m1 0h1m3 0h1m3 0h1m1 0h1m-29 1h1m6 0h1m18 0h1m-27 1h2m1 0h1m2 0h3m1 0h2m5 0h1m5 0h1m10 0h1m-34 1h1m8 0h1m23 0h1m-29 1h1m10 0h1m4 0h1m11 0h1m-33 1h1m1 0h1m5 0h1m2 0h2m4 0h1m3 0h1m-23 1h3m4 0h1m3 0h1m2 0h2m2 0h1m1 0h1m1 0h1m2 0h1m2 0h1m1 0h1m-31 1h2m1 0h1m5 0h1m1 0h1m10 0h2m3 0h2m2 0h1m-21 1h1m9 0h2m4 0h1m-17 1h4m15 0h1m-19 1h2m3 0h1m-5 1h1m3 0h1m8 0h1m1 0h1m1 0h1m-25 1h1m2 0h1m3 0h1m3 0h1m9 0h2m3 0h1m-33 1h1m5 0h1m2 0h1m7 0h1m2 0h1m2 0h1m3 0h1m5 0h1m-35 1h1m2 0h1m10 0h1m11 0h1m7 0h1m-30 2h1m8 0h1m5 0h1m3 0h2m-21 1h1m-1 1h1m2 0h1m24 0h1m-34 1h1m7 0h4m2 0h1m5 0h6m7 0h1m-26 1h1m1 0h1m20 0h1m-31 1h2m1 0h1m2 0h2m1 0h1m6 0h1m2 0h1m4 0h1m-24 1h1m5 0h1m1 0h1m7 0h1m1 0h2m-2 1h1m2 0h1m-19 1h1m17 0h1m6 0h1m-28 1h1m1 0h1m1 0h2m4 0h1m4 0h1m4 0h1m4 0h1m4 0h2m-12 1h1m9 0h1m-21 1h1m-11 1h1m10 0h1m7 0h1m5 0h2m-28 1h1m18 0h1m3 0h1m3 0h1m-1 1h1m-15 1h1m16 0h1m-20 1h1m3 0h1m3 0h1m1 0h1m6 0h1m2 0h1m-26 1h1m6 0h1m1 0h1m3 0h1m4 0h2m5 0h1m-30 1h2m7 0h1m1 0h1m4 0h1m10 0h1m1 0h1m-27 1h2m5 0h2m1 0h2m2 0h1m3 0h2m3 0h4m-27 1h2m1 0h1m3 0h2m3 0h1m1 0h1m1 0h1m10 0h1m-32 1h2m2 0h3m4 0h2m1 0h1m9 0h2m1 0h2m2 0h1m-35 1h1m1 0h2m1 0h1m1 0h1m6 0h1m2 0h1m2 0h1m1 0h1m11 0h1m-28 1h1m1 0h2m3 0h1m2 0h1m3 0h1m4 0h1m3 0h1m1 0h1m1 0h1m-35 1h1m6 0h1m6 0h1m8 0h1m1 0h1m2 0h1m2 0h1m-25 1h3m4 0h1m8 0h1m7 0h2m1 0h1m-35 1h1m6 0h1m9 0h1m3 0h5m-24 1h1m2 0h1m2 0h1m4 0h1m6 0h4m4 0h2m3 0h1m-32 1h1m2 0h1m2 0h1m2 0h1m2 0h2m3 0h1m1 0h2m5 0h1m3 0h1m-31 1h1m4 0h1m3 0h1m9 0h3m-22 1h1m4 0h2m4 0h2m4 0h1m1 0h1m1 0h2m4 0h1m2 0h2m-32 1h1m15 0h1m3 0h1m8 0h1m1 0h1m-8 1h1m-27 1h1m1 0h2m8 0h1m8 0h3m-24 2h1m3 0h1m10 0h1m12 0h1m5 0h1m-35 1h1m6 0h1m5 0h1m1 0h1m5 0h1m6 0h1m-27 1h1m12 0h1m-9 1h1m1 0h1m14 0h1m2 0h2m4 0h1m-31 1h1m17 0h1m-14 1h1m6 0h1m1 0h1m15 0h1m-32 1h1m4 0h1m7 0h1m1 0h5m12 0h1m-35 1h1m6 0h2m6 0h1m2 0h4m3 0h1m5 0h4m-34 1h1m3 0h1m11 0h3m4 0h2m8 0h1m-33 1h1m9 0h1m5 0h1m6 0h1m-1 1h1m-24 1h1m22 0h1m-19 1h1m17 0h1m6 1h1m-31 1h1m29 0h1m-31 1h1m12 0h1m-14 1h1m-2 1h1m10 0h1m9 0h1m1 0h1m-24 1h1m20 0h2m1 0h1m2 0h1m5 0h1m-23 1h1m2 0h1m2 0h1m3 0h1m2 0h1m1 0h2m-15 1h2m6 0h1m11 0h1m-35 1h1m1 0h2m1 0h1m5 0h1m2 0h2m2 0h1m1 0h1m1 0h1m1 0h1m3 0h1m5 0h1m-33 1h2m7 0h1m2 0h1m2 0h2m2 0h1m1 0h5m-24 1h1m4 0h1m-10 1h1m15 0h1m8 0h1m7 0h1m-33 1h1m2 0h2m8 0h1m3 0h2m-6 1h1m6 0h1m5 0h1m3 0h1m-28 1h2m8 0h1m5 0h1m3 0h1m2 0h1m2 1h1m-31 1h1m13 0h1m-5 1h1m20 0h1m-32 1h1m2 0h1m1 0h1m2 0h1m5 0h1m1 0h3m4 0h1m2 0h1m1 0h1m3 0h2m-34 1h2m7 0h1m3 0h2m6 0h1m2 0h1m1 0h2m4 0h1m1 0h1m-35 1h1m2 0h2m1 0h2m1 0h1m2 0h2m3 0h1m2 0h1m3 0h1m2 0h1m3 0h2m1 0h1m-32 1h2m1 0h1m3 0h1m1 0h1m3 0h2m6 0h1m3 0h1m-29 1h2m1 0h2m1 0h2m2 0h1m2 0h2m6 0h1m1 0h1m3 0h1m-28 1h1m1 0h1m1 0h1m2 0h2m2 0h1m10 0h1m1 0h1m-25 1h1m3 0h1m3 0h1m2 0h2m1 0h1m5 0h1m2 0h2m-13 1h1m1 0h1m16 0h1m-20 1h1m8 0h1m1 0h2m6 0h1m-28 1h1m1 0h1m13 0h1m11 0h1m-22 2h1m1 0h2m2 0h1m1 0h1m8 0h1m5 0h1m-18 1h1m5 0h1m8 0h1m-26 1h1m8 0h1m14 0h1m1 0h1m-34 1h1m3 0h1m2 0h1m8 0h1m3 0h1m4 0h1m6 0h2m-15 1h1m-20 1h1m3 0h1m2 0h2m1 0h1m1 0h1m1 0h1m1 0h1m3 0h1m1 0h1m2 0h1m4 0h1m-31 1h2m1 0h2m1 0h2m1 0h1m2 0h1m1 0h1m1 0h2m1 0h1m2 0h1m9 0h2m-31 1h1m4 0h1m6 0h1m8 0h1m2 0h2m2 0h2m-31 1h1m1 0h1m4 0h1m2 0h1m3 0h3m12 0h2m-32 1h1m15 0h1m13 0h2m-5 1h1m1 0h1m-31 1h1m3 0h1m4 0h2m2 0h1m2 0h1m2 0h1m12 0h2m-30 1h1m4 0h2m4 0h2m11 0h1m-29 1h2m1 0h2m4 0h1m5 0h2m1 0h1m2 0h2m1 0h1m2 0h4m2 0h1m-33 1h1m2 0h1m5 0h1m1 0h1m1 0h1m7 0h1m4 0h2m1 0h1m1 0h1m-32 1h1m8 0h2m8 0h1m-6 1h1m10 0h1m3 0h1m1 0h1m-1 1h1m0 1h1m-30 1h1m5 0h1m8 0h1m7 0h2m3 0h2m-23 1h3m12 0h3m1 0h1m1 0h2m-31 1h2m2 0h1m2 0h3m2 0h2m2 0h1m8 0h1m4 0h1m-33 1h1m7 0h1m6 0h1m2 0h2m2 0h1m9 0h1m-32 1h1m1 0h1m1 0h1m2 0h1m2 0h1m6 0h1m-1 1h1m9 0h1m-23 2h1m22 0h1m-27 1h1m-1 2h1m17 0h1m6 0h1m-24 1h1m8 0h1m4 0h1m8 0h1m2 0h1m-30 1h1m18 0h1m-23 1h1m2 0h2m10 0h1m4 0h2m1 0h1m2 0h1m-24 1h2m10 0h1m15 0h1m-32 1h2m2 0h1m3 0h1m23 0h1m-31 1h2m7 0h1m2 0h1m17 0h1m1 0h1m-32 1h1m7 0h1m11 0h1m7 0h1m2 0h1m-30 2h1m7 0h1m6 0h1m-19 1h1m1 0h2m9 0h1m1 0h1m2 0h1m1 0h2m4 0h1m-28 1h1m9 0h1m1 0h1m2 0h1m5 0h1m5 0h1m2 0h1m-29 1h1m2 0h1m4 0h1m4 0h1m2 0h1m1 0h2m-17 1h1m4 0h1m10 0h1m4 0h1m-24 1h1m1 0h1m1 0h1m13 0h1m4 0h2m-25 1h1m6 0h1m3 0h1m3 0h1m3 0h1m-17 1h2m3 0h1m1 0h5m1 0h2m2 0h2m1 0h1m2 0h1m1 0h1m-22 1h1m4 0h1m3 0h1m1 0h1m2 0h1m1 0h1m-26 2h1m1 0h1m7 0h3m4 0h1m1 0h1m2 0h1m2 0h5m-32 1h1m1 0h3m6 0h4m7 0h3m1 0h6m-32 1h1m2 0h1m3 0h1m4 0h1m2 0h2m1 0h2m7 0h1m1 0h1m-29 1h1m-2 2h1m22 0h1m2 0h1m-24 1h1m1 0h1m21 0h1m5 0h1m-33 2h1m-1 1h1m3 0h1m3 0h1m2 0h2m4 0h1m7 0h1m2 0h1m-29 1h1m3 0h1m1 0h1m2 0h1m1 0h3m6 0h3m1 0h2m3 0h4m-29 1h2m13 0h2m3 0h1m1 0h1m2 0h1m-29 1h1m3 0h1m3 0h1m14 0h1m4 0h1m-28 1h4m3 0h2m1 0h1m1 0h1m4 0h2m4 0h1m-23 1h1m4 0h2m2 0h1m6 0h3m1 0h1m1 0h1m1 0h1m1 0h1m3 0h1m-31 1h1m4 0h3m4 0h1m4 0h2m1 0h1m1 0h1m2 0h1m3 0h2m-31 1h1m1 0h2m1 0h2m5 0h1m8 0h1m2 0h1m4 0h1m-28 1h1m15 0h1m2 0h1m7 0h1m-32 1h1m1 0h3m3 0h2m4 0h1m2 0h3m2 0h2m5 0h4m-35 1h1m3 0h4m1 0h3m1 0h1m2 0h1m3 0h3m1 0h1m1 0h1m5 0h1m1 0h1m-26 1h2m11 0h1m1 0h2m-23 1h1m5 0h1m1 0h1m6 0h2m2 0h1m2 0h1m7 0h1m-31 1h2m2 0h1m3 0h3m1 0h1m3 0h3m2 0h2m4 0h1m2 0h1m-24 1h2m16 0h1m4 0h1m-16 1h1m7 0h1m-6 1h1m3 0h1m-17 1h3m4 0h1m1 0h1m-19 1h1m8 0h1m1 0h1m2 0h1m11 0h3m5 0h1m-33 1h2m1 0h2m2 0h1m4 0h3m1 0h1m4 0h1m1 0h1m1 0h1m3 0h2m1 0h1m-29 1h1m2 0h1m1 0h1m1 0h1m8 0h1m2 0h1m-20 1h1m20 0h1m-28 1h1m3 0h1m3 0h1m1 0h2m1 0h1m2 0h2m5 0h1m4 0h1m-29 1h1m3 0h1m1 0h1m1 0h2m7 0h1m3 0h1m2 0h1m1 0h1m7 0h1m-32 1h1m3 0h1m2 0h1m1 0h1m2 0h6m3 0h1m2 0h1m3 0h1m1 0h1m-34 1h1m1 0h3m4 0h2m3 0h1m2 0h1m2 0h2m11 0h1m-34 1h1m1 0h1m3 0h1m4 0h2m1 0h1m5 0h1m3 0h1m9 0h1m-35 1h3m7 0h1m8 0h1m5 0h1m-25 1h1m4 0h1m3 0h1m5 0h1m-17 1h1m5 0h1m13 0h1m10 0h1m-22 1h1m4 1h1m12 0h1m-14 1h1m-16 1h1m3 0h1m1 0h1m1 0h1m1 0h1m15 0h1m-26 1h1m2 0h3m3 0h1m2 0h1m1 0h1m1 0h1m-12 1h1m1 0h2m7 0h1m2 0h1m7 0h2m-30 1h1m1 0h4m1 0h2m3 0h2m4 0h1m1 0h1m2 0h1m1 0h3m4 0h1m-33 1h1m2 0h1m4 0h1m2 0h1m5 0h2m4 0h1m1 0h1m2 0h1m1 0h1m-31 1h2m2 0h1m2 0h1m5 0h1m3 0h1m2 0h1m5 0h1m2 0h1m3 0h1m-32 1h1m7 0h1m1 0h4m1 0h1m2 0h1m4 0h2m3 0h1m-28 1h1m1 0h1m4 0h1m1 0h2m8 0h1m-21 1h1m7 0h1m1 0h2m3 0h1m2 0h1m1 0h1m3 0h1m1 0h1m1 0h1m3 0h1m-25 1h1m2 0h1m4 0h1m1 0h1m3 0h1m1 0h1m1 0h1m1 0h2m1 0h2m-35 1h2m6 0h3m5 0h1m1 0h1m1 0h1m2 0h1m1 0h2m2 0h2m3 0h1m-35 1h1m2 0h1m4 0h1m9 0h1m9 0h1m4 0h2m-33 1h1m1 0h1m1 0h1m2 0h2m10 0h1m1 0h1m1 0h2m5 0h1m1 0h1m-35 1h1m4 0h1m17 0h1m2 0h1m-25 1h1m1 0h1m16 0h1m5 0h1m-25 1h3m3 0h1m1 0h1m4 0h1m4 0h1m1 0h1m2 0h1m-23 1h1m11 0h1m8 0h3m6 0h1m-33 1h1m6 0h1m6 0h2m12 0h1m1 0h3m-21 1h1m1 0h1m12 0h1m2 0h2m-27 1h1m3 0h1m19 0h1m-20 1h1m-9 1h1m7 0h1m3 0h1m12 0h1m-30 1h3m7 0h3m6 0h1m3 0h1m6 0h2m2 0h1m-28 1h1m8 0h1m17 2h1m-21 1h1m6 1h1m3 0h1m-25 1h1m3 0h1m8 0h1m1 0h2m9 3h1m-14 1h2m11 0h1m-27 1h2m7 0h1m1 0h3m2 0h1m3 0h1m1 0h1m1 0h1m6 0h1m-33 1h1m1 0h2m7 0h2m1 0h1m10 0h1m6 0h1m-21 1h1m1 0h1m4 0h1m3 0h1m5 0h1m2 0h1m-31 1h2m11 0h1m3 0h2m1 0h2m2 0h1m2 0h1m-26 1h1m1 0h1m1 0h3m3 0h1m3 0h1m10 0h3m-27 1h3m4 0h3m3 0h1m5 0h1m3 0h2m2 0h1m-21 1h1m1 0h1m5 0h1m2 0h1m-22 1h1m9 0h1m-5 1h1m1 0h1m22 0h1m-30 1h2m2 0h1m8 0h1m1 0h1m13 0h1m-31 1h1m1 0h1m2 0h1m2 0h2m1 0h1m2 0h1m9 0h1m6 0h1m-31 1h1m5 0h1m9 1h1m10 0h1m-23 1h1m-9 1h1m7 0h2m3 0h1m8 0h1m-23 1h2m2 0h1m3 0h1m9 0h1m-19 1h1m0 1h1m6 0h1m4 0h2m7 0h1m7 0h1m-17 1h1m3 0h1m3 0h1m-19 1h1m2 0h1m6 0h1m2 0h1m3 0h2m-9 1h2m1 0h1m-17 1h1m8 0h1m1 0h3m4 0h1m1 0h1m9 0h1m-29 1h4m12 0h1m1 0h2m1 0h2m2 0h1m4 0h1m-22 1h1m6 0h1m-19 1h1m22 0h1m7 0h1m-32 1h1m2 0h1m14 0h1m-20 1h1m12 0h2m3 0h2m-19 1h1m6 0h1m5 0h1m2 0h1m10 0h1m-23 1h1m1 0h1m1 0h1m10 0h2m4 0h1m-20 1h1m1 0h1m1 0h2m6 0h2m8 0h1m1 0h1m-34 2h1m18 0h1m2 0h1m-9 1h1m-2 1h2m9 0h1m7 0h1m-27 1h1m15 0h2m8 0h1m-27 3h1m3 0h1m2 0h1m1 0h1m6 0h1m1 0h1m1 0h1m2 0h1m3 0h1m-29 1h1m1 0h1m4 0h1m9 0h2m2 0h1m-25 1h1m5 0h2m3 0h2m1 0h1m2 0h2m1 0h1m1 0h1m3 0h1m4 0h1m-30 1h2m2 0h1m2 0h1m1 0h1m3 0h2m3 0h1m2 0h2m1 0h1m1 0h1m-31 1h1m3 0h1m3 0h5m7 0h1m11 0h1m-33 1h2m1 0h1m10 0h1m15 0h1m2 0h1m-30 1h1m1 0h1m2 0h1m1 0h1m6 0h1m3 0h1m1 0h1m1 0h2m1 0h1m-27 1h1m1 0h1m1 0h1m3 0h1m2 0h2m4 0h1m6 0h3m-27 1h1m1 0h5m1 0h1m1 0h1m5 0h1m7 0h1m1 0h1m-25 1h2m5 0h2m11 0h1m1 0h1m1 0h1m-30 1h3m2 0h1m1 0h1m3 0h1m6 0h1m1 0h1m8 0h1m-30 1h2m4 0h1m1 0h1m17 0h1m-27 1h2m3 0h2m1 0h1m6 0h1m5 0h1m4 0h1m-15 1h1m1 0h1m1 0h1m4 0h1m3 0h1m3 0h1m2 0h2m-34 1h2m2 0h1m1 0h1m1 0h1m3 0h1m9 0h1m9 0h1m-23 1h1m1 0h1m9 0h1m1 0h2m2 0h2m1 0h1m1 0h2m-32 1h1m1 0h1m1 0h1m5 0h1m4 0h1m1 0h1m1 0h1m2 0h4m2 0h1m-29 1h2m8 0h1m1 0h1m2 0h1m2 0h1m3 0h1m1 0h1m3 0h2m1 0h1m-35 1h2m2 0h3m5 0h1m3 0h1m1 0h5m4 0h1m3 0h1m-24 1h1m19 0h1m2 0h1m-26 1h2m13 0h1m3 0h1m2 0h1m-24 1h1m1 0h2m4 0h1m2 0h1m1 0h1m1 0h2m1 0h1m1 0h1m4 0h1m-24 1h1m8 0h2m7 0h1m-18 1h2m2 0h1m6 0h2m11 0h1m-24 1h1m17 0h1m-28 1h1m3 0h1m6 0h2m14 0h1m4 0h2m-34 1h1m3 0h2m4 0h1m3 0h1m5 0h1m1 0h2m2 0h1m6 0h1m-33 1h1m2 0h3m3 0h1m2 0h2m7 0h1m2 0h1m1 0h1m3 0h2m-32 1h1m7 0h1m5 0h1m6 0h1m2 0h1m1 0h1m5 0h2m-34 1h1m9 0h1m2 0h1m5 0h1m6 0h1m4 0h1m-13 1h1m4 0h1m1 0h1m4 0h1m-30 1h1m2 0h1m2 0h1m1 0h1m18 0h1m3 0h1m-33 1h4m2 0h1m1 0h2m4 0h2m2 0h1m2 0h2m1 0h1m-16 1h1m9 0h2m2 0h1m6 0h1m-32 1h1m4 0h1m8 0h1m4 0h1m2 0h1m-19 1h1m8 0h2m1 0h1m8 0h1m1 0h1m1 0h1m3 0h1m-20 1h1m12 0h1m-15 1h2m16 0h1m-30 1h1m10 0h1m4 0h1m8 0h1m1 0h1m3 0h1m-35 1h2m1 0h1m3 0h1m2 0h1m8 0h1m1 0h1m5 0h1m1 0h1m4 0h1m-34 1h1m1 0h1m7 0h1m2 0h1m2 0h1m3 0h1m5 0h1m1 0h2m-29 1h1m1 0h1m14 0h1m1 0h1m6 0h1m2 0h1m-29 1h1m15 0h1m11 0h1m-25 1h1m9 0h1m1 0h1m8 0h1m5 0h1m-32 1h2m2 0h1m10 0h2m5 0h1m5 0h1m-21 1h2m5 0h1m-12 1h1m-6 1h2m1 0h1m6 0h1m2 0h2m6 0h4m3 0h1m1 0h1m1 0h1m-34 1h2m1 0h1m9 0h1m9 0h1m4 0h1m-26 1h1m13 0h1m10 0h1m-16 1h1m3 0h1m2 0h1m2 0h1m4 0h1m2 0h1m-32 1h1m5 0h1m14 0h3m6 0h1m-31 1h1m-1 1h1m9 0h1m3 0h1m7 0h1m4 0h1m2 0h1m2 0h1m-17 1h1m-15 2h1m-1 1h1m1 0h1m8 0h1m5 0h1m-18 1h1m1 0h2m7 0h1m2 0h2m-14 1h2m9 0h1m9 0h1m2 0h1m3 0h1m-28 1h1m7 0h1m3 0h1m7 0h1m-24 1h2m11 0h1m6 0h1m8 0h1m-13 1h1m-7 1h1m7 0h1m-4 3h1m12 0h1m-33 2h1m10 0h1m9 0h2m3 0h1m1 0h1m-26 1h2m6 0h1m4 0h1m7 0h2m1 0h1m2 0h1m1 0h1m-29 1h1m13 0h1m2 0h2m-19 1h1m1 0h1m18 0h1m1 0h1m5 0h1m-25 1h1m2 0h1m13 0h2m-25 1h2m4 0h2m1 0h1m8 0h1m2 0h1m6 0h1m-29 1h1m1 0h1m4 0h1m2 0h1m8 0h1m2 0h3m3 0h1m1 0h1m-31 1h1m5 0h1m2 0h1m6 0h1m7 0h1m-19 1h1m2 0h1m2 0h2m3 0h1m7 0h1m4 0h1m-19 1h2m8 0h1m5 0h1m-33 1h2m8 0h1m5 0h1m5 0h1m3 0h1m-17 1h1m3 0h1m2 0h1m4 0h1m-22 1h1m12 0h1m2 0h1m-17 1h1m-1 1h1m2 0h1m14 0h2m5 0h1m-26 1h1m2 0h1m3 0h1m5 0h2m18 0h1m-24 1h2m6 0h1m7 0h1m-1 3h1m-28 1h1m7 0h1m20 1h1m-11 1h1m-16 1h1m24 0h1m4 0h1m-35 1h3m4 0h1m1 0h2m6 0h1m1 0h4m1 0h1m1 0h1m2 0h1m3 0h1m-33 1h1m1 0h1m1 0h1m4 0h2m5 0h1m4 0h1m-23 1h1m7 0h1m6 0h1m1 0h1m16 0h1m-32 1h3m1 0h2m1 0h1m3 0h4m1 0h4m2 0h1m1 0h1m2 0h1m2 0h2m-30 1h1m1 0h1m1 0h1m9 0h1m2 0h2m1 0h1m1 0h1m4 0h1m-8 1h1m7 0h1m-29 1h1m2 0h1m5 0h1m10 0h1m1 0h1m4 0h1m-30 1h1m3 0h1m2 0h1m1 0h4m2 0h2m1 0h1m1 0h1m1 0h3m3 0h1m-32 1h2m3 0h1m1 0h1m2 0h1m4 0h1m4 0h3m2 0h3m-24 1h1m2 0h2m6 0h1m2 0h1m6 0h1m8 0h1m-34 1h1m4 0h1m2 0h1m5 0h1m1 0h1m6 0h3m5 0h1m-13 1h1m3 0h1m1 0h1m-10 1h1m2 0h1m-6 2h1m1 0h1m8 0h1m-23 1h1m10 0h1m1 0h1m-11 1h1m2 0h1m4 0h1m4 0h1m4 0h2m7 1h1m-34 1h1m24 0h1m-20 1h1m8 0h1m9 0h1m-16 1h1m3 0h1m4 0h1m2 0h1m2 0h1m1 0h3m-31 1h2m5 0h1m3 0h2m1 0h1m3 0h1m3 0h2m3 0h1m5 0h1m-33 1h1m2 0h1m6 0h2m2 0h1m2 0h1m2 0h1m4 0h1m-6 1h1m2 0h1m-24 2h1m1 0h1m7 0h2m9 0h1m2 0h2m3 0h1m-19 1h1m1 0h1m7 0h2m1 0h1m1 0h1m-28 1h2m1 0h2m3 0h1m5 0h1m2 0h2m2 0h1m3 0h2m2 0h1m-30 1h2m2 0h1m4 0h1m1 0h1m6 0h1m6 0h1m1 0h2m4 0h1m-32 1h3m3 0h1m2 0h1m2 0h1m1 0h1m4 0h1m3 0h1m6 0h2m-34 1h1m1 0h1m5 0h2m1 0h1m2 0h1m1 0h2m1 0h1m7 0h2m3 0h1m-33 1h1m4 0h1m3 0h1m2 0h1m1 0h1m1 0h1m7 0h1m5 0h2m-31 1h1m14 0h2m5 0h1m2 0h1m4 0h1m-32 1h2m7 0h1m2 0h1m3 0h2m1 0h2m2 0h1m2 0h1m3 0h2m-30 1h1m5 0h2m3 0h1m3 0h2m6 0h1m5 0h1m-28 1h1m4 0h1m9 0h1m2 0h1m2 0h2m3 0h1m-14 1h1m3 0h1m9 0h1m-30 1h1m-3 1h1m1 0h1m9 0h1m6 0h1m7 0h1m3 0h1m-30 1h2m3 0h2m3 0h2m1 0h1m3 0h4m1 0h2m1 0h1m3 0h1m-32 1h2m2 0h1m4 0h1m12 0h2m7 0h1m1 0h1m-30 1h1m17 0h1m3 0h1m6 0h1m-14 1h1m9 3h1m-25 1h1m3 0h1m8 0h1m2 0h1m4 0h1m-24 1h1m6 0h2m3 0h1m4 0h1m3 0h1m1 0h1m4 0h1m-23 1h1m1 0h1m7 0h1m2 0h1m3 0h1m1 0h1m1 0h3m-3 1h1m1 0h1m-22 2h1m20 0h1m-32 2h1m26 0h1m-12 1h1m12 0h1m-28 1h1m7 0h1m3 0h1m5 0h1m4 0h1m-28 1h1m11 0h1m2 0h3m2 0h1m6 0h1m-21 1h1m5 0h1m16 0h1m-30 1h2m3 0h2m9 0h1m3 0h1m1 0h1m6 0h1m-29 1h1m15 0h1m4 0h1m-21 1h1m19 0h4m2 0h1m2 0h1m-27 1h1m10 0h1m5 0h1m2 0h1m-27 2h1m14 1h1m6 0h1m3 0h1m-25 1h3m3 0h1m3 0h1m4 0h2m2 0h2m3 0h1m5 0h2m-12 1h1m-23 1h3m4 0h1m7 0h2m3 0h3m1 0h2m6 0h2m-28 1h3m1 0h1m4 0h1m7 0h1m2 0h1m1 0h1m3 0h1m1 0h1m-13 1h1m-22 1h1m3 0h1m4 0h1m16 0h1m6 0h1m-34 1h1m4 0h1m1 0h1m1 0h1m1 0h1m19 0h1m-32 1h1m4 0h2m4 0h1m3 0h1m6 0h2m3 0h2m-4 2h1m-26 1h1m3 0h1m3 0h2m2 0h1m3 0h1m10 0h1m-23 1h1m2 0h2m1 0h1m2 0h1m1 0h1m8 0h1m-15 1h1m9 0h1m8 0h1m2 0h1m-32 1h1m1 0h1m14 0h1m1 0h1m1 0h1m4 0h1m2 0h1m-28 1h1m5 0h1m2 0h2m11 0h2m2 0h1m-23 1h1m1 0h1m1 0h1m6 0h1m1 0h1m7 0h1m-29 2h2m2 0h1m2 0h1m2 0h1m3 0h1m2 0h1m2 0h2m3 0h2m3 0h3m-32 1h1m3 0h4m6 0h1m1 0h1m3 0h1m1 0h2m1 0h4m1 0h2m-35 1h4m2 0h2m1 0h3m2 0h1m3 0h1m3 0h2m1 0h1m2 0h2m3 0h2m-30 1h1m4 0h1m4 0h1m2 0h1m2 0h1m2 0h2m4 0h1m1 0h1m-18 1h2m6 0h1m5 0h1m-30 1h1m3 0h1m2 0h1m7 0h1m7 0h3m5 0h3m-34 1h1m7 0h1m20 0h2m-30 1h1m2 0h1m18 0h1m-24 1h1m20 0h1m4 0h1m2 0h1m2 0h1m-12 1h1m5 0h1m2 0h1m-28 1h1m8 1h1m3 0h1m4 0h1m5 0h1m6 0h1m-32 1h1m2 0h1m3 0h1m5 0h1m4 0h1m4 0h1m6 0h2m-29 1h1m5 0h1m-9 1h2m2 0h1m2 0h1m9 0h1m5 0h1m-23 1h1m2 0h1m-6 1h1m23 0h1m2 0h1"/></g></g>
<rect x="112.4" y="1104.7" width="110.2" height="15.3" fill="#ABD9E9"/>
<path d="M121.6 1104.7v15.3M130.8 1104.7v15.3M139.9 1104.7v15.3M149.1 1104.7v15.3M158.3 1104.7v15.3M167.5 1104.7v15.3M176.7 1104.7v15.3M185.9 1104.7v15.3M195.1 1104.7v15.3M204.2 1104.7v15.3M213.4 1104.7v15.3" stroke="#fff" stroke-opacity="0.22" stroke-width="0.8"/>
<rect x="228.7" y="1104.7" width="100.9" height="15.3" fill="#2C7BB6"/>
<path d="M237.9 1104.7v15.3M247.0 1104.7v15.3M256.2 1104.7v15.3M265.4 1104.7v15.3M274.6 1104.7v15.3M283.7 1104.7v15.3M292.9 1104.7v15.3M302.1 1104.7v15.3M311.3 1104.7v15.3M320.4 1104.7v15.3" stroke="#fff" stroke-opacity="0.22" stroke-width="0.8"/>
<rect x="335.2" y="1104.7" width="741.7" height="15.3" fill="#FDAE61"/>
<path d="M344.4 1104.7v15.3M353.5 1104.7v15.3M362.7 1104.7v15.3M371.8 1104.7v15.3M381.0 1104.7v15.3M390.1 1104.7v15.3M399.3 1104.7v15.3M408.5 1104.7v15.3M417.6 1104.7v15.3M426.8 1104.7v15.3M435.9 1104.7v15.3M445.1 1104.7v15.3M454.2 1104.7v15.3M463.4 1104.7v15.3M472.6 1104.7v15.3M481.7 1104.7v15.3M490.9 1104.7v15.3M500.0 1104.7v15.3M509.2 1104.7v15.3M518.3 1104.7v15.3M527.5 1104.7v15.3M536.6 1104.7v15.3M545.8 1104.7v15.3M555.0 1104.7v15.3M564.1 1104.7v15.3M573.3 1104.7v15.3M582.4 1104.7v15.3M591.6 1104.7v15.3M600.7 1104.7v15.3M609.9 1104.7v15.3M619.1 1104.7v15.3M628.2 1104.7v15.3M637.4 1104.7v15.3M646.5 1104.7v15.3M655.7 1104.7v15.3M664.8 1104.7v15.3M674.0 1104.7v15.3M683.2 1104.7v15.3M692.3 1104.7v15.3M701.5 1104.7v15.3M710.6 1104.7v15.3M719.8 1104.7v15.3M728.9 1104.7v15.3M738.1 1104.7v15.3M747.3 1104.7v15.3M756.4 1104.7v15.3M765.6 1104.7v15.3M774.7 1104.7v15.3M783.9 1104.7v15.3M793.0 1104.7v15.3M802.2 1104.7v15.3M811.4 1104.7v15.3M820.5 1104.7v15.3M829.7 1104.7v15.3M838.8 1104.7v15.3M848.0 1104.7v15.3M857.1 1104.7v15.3M866.3 1104.7v15.3M875.5 1104.7v15.3M884.6 1104.7v15.3M893.8 1104.7v15.3M902.9 1104.7v15.3M912.1 1104.7v15.3M921.2 1104.7v15.3M930.4 1104.7v15.3M939.5 1104.7v15.3M948.7 1104.7v15.3M957.9 1104.7v15.3M967.0 1104.7v15.3M976.2 1104.7v15.3M985.3 1104.7v15.3M994.5 1104.7v15.3M1003.6 1104.7v15.3M1012.8 1104.7v15.3M1022.0 1104.7v15.3M1031.1 1104.7v15.3M1040.3 1104.7v15.3M1049.4 1104.7v15.3M1058.6 1104.7v15.3M1067.7 1104.7v15.3" stroke="#fff" stroke-opacity="0.22" stroke-width="0.8"/>
<rect x="1083.2" y="1104.7" width="320.4" height="15.3" fill="#D7191C"/>
<path d="M1092.4 1104.7v15.3M1101.5 1104.7v15.3M1110.7 1104.7v15.3M1119.8 1104.7v15.3M1129.0 1104.7v15.3M1138.1 1104.7v15.3M1147.3 1104.7v15.3M1156.4 1104.7v15.3M1165.6 1104.7v15.3M1174.7 1104.7v15.3M1183.9 1104.7v15.3M1193.1 1104.7v15.3M1202.2 1104.7v15.3M1211.4 1104.7v15.3M1220.5 1104.7v15.3M1229.7 1104.7v15.3M1238.8 1104.7v15.3M1248.0 1104.7v15.3M1257.1 1104.7v15.3M1266.3 1104.7v15.3M1275.4 1104.7v15.3M1284.6 1104.7v15.3M1293.7 1104.7v15.3M1302.9 1104.7v15.3M1312.1 1104.7v15.3M1321.2 1104.7v15.3M1330.4 1104.7v15.3M1339.5 1104.7v15.3M1348.7 1104.7v15.3M1357.8 1104.7v15.3M1367.0 1104.7v15.3M1376.1 1104.7v15.3M1385.3 1104.7v15.3M1394.4 1104.7v15.3" stroke="#fff" stroke-opacity="0.22" stroke-width="0.8"/>
<rect x="92.8" y="1124.8" width="15.2" height="1.8" fill="#2C7BB6"/>
<rect x="92.8" y="1126.6" width="15.2" height="8.3" fill="#D7191C"/>
<rect x="92.8" y="1134.9" width="15.2" height="2.1" fill="#F2D2D8"/>
<rect x="92.8" y="1137.0" width="15.2" height="40.0" fill="#D7191C"/>
<rect x="92.8" y="1177.0" width="15.2" height="3.2" fill="#7E4A78"/>
<rect x="92.8" y="1180.2" width="15.2" height="53.8" fill="#D7191C"/>
<rect x="92.8" y="1234.0" width="15.2" height="3.7" fill="#ABD9E9"/>
<rect x="92.8" y="1237.7" width="15.2" height="2.7" fill="#D7191C"/>
<rect x="92.8" y="1240.4" width="15.2" height="3.7" fill="#2C7BB6"/>
<rect x="92.8" y="1244.1" width="15.2" height="2.2" fill="#ABD9E9"/>
<rect x="92.8" y="1246.3" width="15.2" height="7.4" fill="#2C7BB6"/>
<rect x="92.8" y="1253.7" width="15.2" height="3.8" fill="#7E4A78"/>
<rect x="92.8" y="1257.5" width="15.2" height="3.2" fill="#2C7BB6"/>
<rect x="92.8" y="1260.7" width="15.2" height="8.5" fill="#ABD9E9"/>
<rect x="92.8" y="1269.2" width="15.2" height="4.8" fill="#7E4A78"/>
<rect x="92.8" y="1274.0" width="15.2" height="4.8" fill="#ABD9E9"/>
<rect x="92.8" y="1278.8" width="15.2" height="6.4" fill="#2C7BB6"/>
<rect x="92.8" y="1285.2" width="15.2" height="2.1" fill="#ABD9E9"/>
<rect x="92.8" y="1287.3" width="15.2" height="2.1" fill="#2C7BB6"/>
<rect x="92.8" y="1289.4" width="15.2" height="9.6" fill="#ABD9E9"/>
<rect x="92.8" y="1299.0" width="15.2" height="55.4" fill="#2C7BB6"/>
<rect x="92.8" y="1354.4" width="15.2" height="2.1" fill="#ABD9E9"/>
<rect x="92.8" y="1356.5" width="15.2" height="42.3" fill="#2C7BB6"/>
<rect x="92.8" y="1398.8" width="15.2" height="2.1" fill="#ABD9E9"/>
<rect x="92.8" y="1400.9" width="15.2" height="2.1" fill="#2C7BB6"/>
<rect x="92.8" y="1403.0" width="15.2" height="18.1" fill="#ABD9E9"/>
<rect x="92.8" y="1421.1" width="15.2" height="26.7" fill="#2C7BB6"/>
<rect x="92.8" y="1447.8" width="15.2" height="2.1" fill="#ABD9E9"/>
<rect x="92.8" y="1449.9" width="15.2" height="22.4" fill="#2C7BB6"/>
<rect x="92.8" y="1472.3" width="15.2" height="2.1" fill="#ABD9E9"/>
<rect x="92.8" y="1474.4" width="15.2" height="13.9" fill="#2C7BB6"/>
<rect x="92.8" y="1488.3" width="15.2" height="2.1" fill="#ABD9E9"/>
<rect x="92.8" y="1490.4" width="15.2" height="48.0" fill="#2C7BB6"/>
<rect x="92.8" y="1538.4" width="15.2" height="2.1" fill="#ABD9E9"/>
<rect x="92.8" y="1540.5" width="15.2" height="150.5" fill="#2C7BB6"/>
<rect x="92.8" y="1691.0" width="15.2" height="2.0" fill="#D7191C"/>
<rect x="92.8" y="1693.0" width="15.2" height="4.0" fill="#2C7BB6"/>
<rect x="92.8" y="1697.0" width="15.2" height="2.5" fill="#D7191C"/>
<rect x="92.8" y="1699.5" width="15.2" height="24.5" fill="#2C7BB6"/>
<rect x="92.8" y="1724.0" width="15.2" height="11.7" fill="#D7191C"/>
<rect x="92.8" y="1735.7" width="15.2" height="2.1" fill="#ABD9E9"/>
<rect x="92.8" y="1737.8" width="15.2" height="3.8" fill="#2C7BB6"/>
<rect x="92.8" y="1741.6" width="15.2" height="8.4" fill="#D7191C"/>
<rect x="92.8" y="1750.0" width="15.2" height="38.4" fill="#2C7BB6"/>
<rect x="92.8" y="1788.4" width="15.2" height="10.2" fill="#D7191C"/>
<rect x="92.8" y="1798.6" width="15.2" height="2.1" fill="#ABD9E9"/>
<rect x="92.8" y="1800.7" width="15.2" height="2.1" fill="#2C7BB6"/>
<rect x="92.8" y="1802.8" width="15.2" height="38.9" fill="#ABD9E9"/>
<rect x="92.8" y="1841.7" width="15.2" height="3.7" fill="#2C7BB6"/>
<rect x="92.8" y="1845.4" width="15.2" height="8.0" fill="#ABD9E9"/>
<rect x="92.8" y="1853.4" width="15.2" height="2.2" fill="#2C7BB6"/>
<rect x="92.8" y="1855.6" width="15.2" height="26.6" fill="#ABD9E9"/>
<rect x="92.8" y="1882.2" width="15.2" height="2.1" fill="#2C7BB6"/>
<rect x="92.8" y="1884.3" width="15.2" height="133.9" fill="#ABD9E9"/>
<rect x="92.8" y="2018.2" width="15.2" height="1.6" fill="#2C7BB6"/>
<rect x="92.8" y="2019.8" width="15.2" height="57.5" fill="#ABD9E9"/>
<rect x="92.8" y="2077.3" width="15.2" height="1.6" fill="#2C7BB6"/>
<rect x="92.8" y="2078.9" width="15.2" height="48.5" fill="#ABD9E9"/>
<rect x="92.8" y="2127.4" width="15.2" height="2.7" fill="#D7191C"/>
<rect x="92.8" y="2130.1" width="15.2" height="1.6" fill="#2C7BB6"/>
<rect x="92.8" y="2131.7" width="15.2" height="2.1" fill="#D7191C"/>
<rect x="92.8" y="2133.8" width="15.2" height="1.6" fill="#2C7BB6"/>
<rect x="92.8" y="2135.4" width="15.2" height="2.7" fill="#ABD9E9"/>
<rect x="92.8" y="2138.1" width="15.2" height="39.9" fill="#D7191C"/>
<rect x="92.8" y="2178.0" width="15.2" height="2.7" fill="#ABD9E9"/>
<rect x="92.8" y="2180.7" width="15.2" height="20.3" fill="#D7191C"/>
<rect x="92.8" y="2201.0" width="15.2" height="7.0" fill="#ABD9E9"/>
<rect x="92.8" y="2208.0" width="15.2" height="82.0" fill="#D7191C"/>
<rect x="92.8" y="2290.0" width="15.2" height="2.2" fill="#2C7BB6"/>
<rect x="92.8" y="2292.2" width="15.2" height="22.2" fill="#D7191C"/>
<rect x="92.8" y="2314.4" width="15.2" height="27.4" fill="#ABD9E9"/>
<rect x="92.8" y="2341.8" width="15.2" height="55.7" fill="#2C7BB6"/>
<rect x="92.8" y="2397.5" width="15.2" height="45.4" fill="#ABD9E9"/>
<rect x="92.8" y="2442.9" width="15.2" height="1.7" fill="#2C7BB6"/>
<rect x="92.8" y="2444.6" width="15.2" height="4.0" fill="#ABD9E9"/>
<rect x="92.8" y="2448.6" width="15.2" height="1.7" fill="#2C7BB6"/>
<rect x="92.8" y="2450.3" width="15.2" height="25.3" fill="#ABD9E9"/>
<rect x="92.8" y="2475.6" width="15.2" height="1.7" fill="#2C7BB6"/>
<rect x="92.8" y="2477.3" width="15.2" height="20.7" fill="#ABD9E9"/>
<rect x="92.8" y="2498.0" width="15.2" height="1.7" fill="#2C7BB6"/>
<rect x="92.8" y="2499.7" width="15.2" height="48.2" fill="#ABD9E9"/>
<rect x="92.8" y="2547.9" width="15.2" height="4.0" fill="#D7191C"/>
<rect x="92.8" y="2551.9" width="15.2" height="16.6" fill="#ABD9E9"/>
<path d="M208.7 1022.8L895.8 1022.8 M208.7 1022.8L208.7 1051.7 M148.0 1051.7L275.6 1051.7 M148.0 1051.7L148.0 1079.8 M121.4 1079.8L174.4 1079.8 M121.4 1079.8L121.4 1090.4 M117.0 1090.4L126.2 1090.4 M117.0 1090.4L117.0 1104.2 M126.2 1090.4L126.2 1104.2 M174.4 1079.8L174.4 1093.3 M135.4 1098.9L144.5 1098.9 M135.4 1098.9L135.4 1104.2 M144.5 1098.9L144.5 1104.2 M153.7 1098.5L162.9 1098.5 M153.7 1098.5L153.7 1104.2 M162.9 1098.5L162.9 1104.2 M139.9 1097.8L158.3 1097.8 M139.9 1097.8L139.9 1098.9 M158.3 1097.8L158.3 1098.5 M149.1 1095.8L172.1 1095.8 M149.1 1095.8L149.1 1097.8 M172.1 1095.8L172.1 1104.2 M181.3 1098.8L190.5 1098.8 M181.3 1098.8L181.3 1104.2 M190.5 1098.8L190.5 1104.2 M199.6 1098.4L208.8 1098.4 M199.6 1098.4L199.6 1104.2 M208.8 1098.4L208.8 1104.2 M185.9 1097.9L204.2 1097.9 M185.9 1097.9L185.9 1098.8 M204.2 1097.9L204.2 1098.4 M195.0 1096.4L218.0 1096.4 M195.0 1096.4L195.0 1097.9 M218.0 1096.4L218.0 1104.2 M160.6 1093.3L206.5 1093.3 M160.6 1093.3L160.6 1095.8 M206.5 1093.3L206.5 1096.4 M275.6 1051.7L275.6 1092.3 M242.5 1097.9L251.6 1097.9 M242.5 1097.9L242.5 1104.2 M251.6 1097.9L251.6 1104.2 M233.3 1095.7L247.0 1095.7 M233.3 1095.7L233.3 1104.2 M247.0 1095.7L247.0 1097.9 M270.0 1098.3L279.1 1098.3 M270.0 1098.3L270.0 1104.2 M279.1 1098.3L279.1 1104.2 M260.8 1097.2L274.6 1097.2 M260.8 1097.2L260.8 1104.2 M274.6 1097.2L274.6 1098.3 M306.7 1099.5L315.8 1099.5 M306.7 1099.5L306.7 1104.2 M315.8 1099.5L315.8 1104.2 M297.5 1099.4L311.3 1099.4 M297.5 1099.4L297.5 1104.2 M311.3 1099.4L311.3 1099.5 M304.4 1099.1L325.0 1099.1 M304.4 1099.1L304.4 1099.4 M325.0 1099.1L325.0 1104.2 M288.3 1098.3L314.7 1098.3 M288.3 1098.3L288.3 1104.2 M314.7 1098.3L314.7 1099.1 M267.7 1096.3L301.5 1096.3 M267.7 1096.3L267.7 1097.2 M301.5 1096.3L301.5 1098.3 M240.2 1092.3L284.6 1092.3 M240.2 1092.3L240.2 1095.7 M284.6 1092.3L284.6 1096.3 M895.8 1022.8L895.8 1046.5 M551.4 1046.5L1246.4 1046.5 M551.4 1046.5L551.4 1084.9 M347.7 1084.9L754.8 1084.9 M347.7 1084.9L347.7 1096.5 M348.9 1097.4L358.1 1097.4 M348.9 1097.4L348.9 1104.2 M358.1 1097.4L358.1 1104.2 M339.8 1096.5L353.5 1096.5 M339.8 1096.5L339.8 1104.2 M353.5 1096.5L353.5 1097.4 M754.8 1084.9L754.8 1088.6 M560.0 1088.6L950.0 1088.6 M560.0 1088.6L560.0 1092.0 M439.0 1092.0L680.5 1092.0 M439.0 1092.0L439.0 1094.5 M367.2 1099.1L376.4 1099.1 M367.2 1099.1L367.2 1104.2 M376.4 1099.1L376.4 1104.2 M394.7 1099.4L403.9 1099.4 M394.7 1099.4L394.7 1104.2 M403.9 1099.4L403.9 1104.2 M385.6 1099.2L399.3 1099.2 M385.6 1099.2L385.6 1104.2 M399.3 1099.2L399.3 1099.4 M371.8 1098.7L392.4 1098.7 M371.8 1098.7L371.8 1099.1 M392.4 1098.7L392.4 1099.2 M413.0 1099.6L422.2 1099.6 M413.0 1099.6L413.0 1104.2 M422.2 1099.6L422.2 1104.2 M417.6 1099.3L431.3 1099.3 M417.6 1099.3L417.6 1099.6 M431.3 1099.3L431.3 1104.2 M449.7 1099.6L458.8 1099.6 M449.7 1099.6L449.7 1104.2 M458.8 1099.6L458.8 1104.2 M440.5 1099.4L454.2 1099.4 M440.5 1099.4L440.5 1104.2 M454.2 1099.4L454.2 1099.6 M468.0 1099.3L477.1 1099.3 M468.0 1099.3L468.0 1104.2 M477.1 1099.3L477.1 1104.2 M447.4 1099.2L472.6 1099.2 M447.4 1099.2L447.4 1099.4 M472.6 1099.2L472.6 1099.3 M424.5 1098.6L460.0 1098.6 M424.5 1098.6L424.5 1099.3 M460.0 1098.6L460.0 1099.2 M382.1 1097.8L442.2 1097.8 M382.1 1097.8L382.1 1098.7 M442.2 1097.8L442.2 1098.6 M486.3 1099.5L495.4 1099.5 M486.3 1099.5L486.3 1104.2 M495.4 1099.5L495.4 1104.2 M504.6 1099.5L513.8 1099.5 M504.6 1099.5L504.6 1104.2 M513.8 1099.5L513.8 1104.2 M490.9 1099.2L509.2 1099.2 M490.9 1099.2L490.9 1099.5 M509.2 1099.2L509.2 1099.5 M522.9 1099.2L532.1 1099.2 M522.9 1099.2L522.9 1104.2 M532.1 1099.2L532.1 1104.2 M527.5 1099.1L541.2 1099.1 M527.5 1099.1L527.5 1099.2 M541.2 1099.1L541.2 1104.2 M500.0 1098.6L534.4 1098.6 M500.0 1098.6L500.0 1099.2 M534.4 1098.6L534.4 1099.1 M550.4 1097.6L559.5 1097.6 M550.4 1097.6L550.4 1104.2 M559.5 1097.6L559.5 1104.2 M517.2 1096.7L555.0 1096.7 M517.2 1096.7L517.2 1098.6 M555.0 1096.7L555.0 1097.6 M412.2 1094.5L536.1 1094.5 M412.2 1094.5L412.2 1097.8 M536.1 1094.5L536.1 1096.7 M680.5 1092.0L680.5 1094.5 M568.7 1098.5L577.9 1098.5 M568.7 1098.5L568.7 1104.2 M577.9 1098.5L577.9 1104.2 M587.0 1098.7L596.2 1098.7 M587.0 1098.7L587.0 1104.2 M596.2 1098.7L596.2 1104.2 M573.3 1097.9L591.6 1097.9 M573.3 1097.9L573.3 1098.5 M591.6 1097.9L591.6 1098.7 M605.3 1099.4L614.5 1099.4 M605.3 1099.4L605.3 1104.2 M614.5 1099.4L614.5 1104.2 M609.9 1099.1L623.6 1099.1 M609.9 1099.1L609.9 1099.4 M623.6 1099.1L623.6 1104.2 M642.0 1099.4L651.1 1099.4 M642.0 1099.4L642.0 1104.2 M651.1 1099.4L651.1 1104.2 M632.8 1099.2L646.5 1099.2 M632.8 1099.2L632.8 1104.2 M646.5 1099.2L646.5 1099.4 M669.4 1099.4L678.6 1099.4 M669.4 1099.4L669.4 1104.2 M678.6 1099.4L678.6 1104.2 M660.3 1099.2L674.0 1099.2 M660.3 1099.2L660.3 1104.2 M674.0 1099.2L674.0 1099.4 M639.7 1098.8L667.1 1098.8 M639.7 1098.8L639.7 1099.2 M667.1 1098.8L667.1 1099.2 M616.8 1098.2L653.4 1098.2 M616.8 1098.2L616.8 1099.1 M653.4 1098.2L653.4 1098.8 M696.9 1099.5L706.0 1099.5 M696.9 1099.5L696.9 1104.2 M706.0 1099.5L706.0 1104.2 M687.7 1099.4L701.5 1099.4 M687.7 1099.4L687.7 1104.2 M701.5 1099.4L701.5 1099.5 M694.6 1099.3L715.2 1099.3 M694.6 1099.3L694.6 1099.4 M715.2 1099.3L715.2 1104.2 M724.4 1099.4L733.5 1099.4 M724.4 1099.4L724.4 1104.2 M733.5 1099.4L733.5 1104.2 M751.8 1099.6L761.0 1099.6 M751.8 1099.6L751.8 1104.2 M761.0 1099.6L761.0 1104.2 M770.1 1099.6L779.3 1099.6 M770.1 1099.6L770.1 1104.2 M779.3 1099.6L779.3 1104.2 M756.4 1099.6L774.7 1099.6 M756.4 1099.6L756.4 1099.6 M774.7 1099.6L774.7 1099.6 M742.7 1099.5L765.6 1099.5 M742.7 1099.5L742.7 1104.2 M765.6 1099.5L765.6 1099.6 M728.9 1099.3L754.1 1099.3 M728.9 1099.3L728.9 1099.4 M754.1 1099.3L754.1 1099.5 M704.9 1098.9L741.5 1098.9 M704.9 1098.9L704.9 1099.3 M741.5 1098.9L741.5 1099.3 M635.1 1097.7L723.2 1097.7 M635.1 1097.7L635.1 1098.2 M723.2 1097.7L723.2 1098.9 M582.4 1096.9L679.2 1096.9 M582.4 1096.9L582.4 1097.9 M679.2 1096.9L679.2 1097.7 M806.8 1099.0L815.9 1099.0 M806.8 1099.0L806.8 1104.2 M815.9 1099.0L815.9 1104.2 M797.6 1098.5L811.4 1098.5 M797.6 1098.5L797.6 1104.2 M811.4 1098.5L811.4 1099.0 M788.5 1097.9L804.5 1097.9 M788.5 1097.9L788.5 1104.2 M804.5 1097.9L804.5 1098.5 M630.8 1094.5L796.5 1094.5 M630.8 1094.5L630.8 1096.9 M796.5 1094.5L796.5 1097.9 M950.0 1088.6L950.0 1094.7 M825.1 1099.3L834.2 1099.3 M825.1 1099.3L825.1 1104.2 M834.2 1099.3L834.2 1104.2 M829.7 1098.9L843.4 1098.9 M829.7 1098.9L829.7 1099.3 M843.4 1098.9L843.4 1104.2 M836.5 1097.8L852.6 1097.8 M836.5 1097.8L836.5 1098.9 M852.6 1097.8L852.6 1104.2 M861.7 1099.2L870.9 1099.2 M861.7 1099.2L861.7 1104.2 M870.9 1099.2L870.9 1104.2 M880.0 1099.3L889.2 1099.3 M880.0 1099.3L880.0 1104.2 M889.2 1099.3L889.2 1104.2 M866.3 1098.9L884.6 1098.9 M866.3 1098.9L866.3 1099.2 M884.6 1098.9L884.6 1099.3 M898.3 1099.2L907.5 1099.2 M898.3 1099.2L898.3 1104.2 M907.5 1099.2L907.5 1104.2 M916.7 1099.0L925.8 1099.0 M916.7 1099.0L916.7 1104.2 M925.8 1099.0L925.8 1104.2 M902.9 1098.5L921.2 1098.5 M902.9 1098.5L902.9 1099.2 M921.2 1098.5L921.2 1099.0 M875.5 1097.9L912.1 1097.9 M875.5 1097.9L875.5 1098.9 M912.1 1097.9L912.1 1098.5 M844.5 1096.7L893.8 1096.7 M844.5 1096.7L844.5 1097.8 M893.8 1096.7L893.8 1097.9 M935.0 1099.0L944.1 1099.0 M935.0 1099.0L935.0 1104.2 M944.1 1099.0L944.1 1104.2 M953.3 1098.8L962.4 1098.8 M953.3 1098.8L953.3 1104.2 M962.4 1098.8L962.4 1104.2 M939.5 1098.4L957.9 1098.4 M939.5 1098.4L939.5 1099.0 M957.9 1098.4L957.9 1098.8 M971.6 1099.1L980.8 1099.1 M971.6 1099.1L971.6 1104.2 M980.8 1099.1L980.8 1104.2 M976.2 1098.4L989.9 1098.4 M976.2 1098.4L976.2 1099.1 M989.9 1098.4L989.9 1104.2 M948.7 1097.8L983.0 1097.8 M948.7 1097.8L948.7 1098.4 M983.0 1097.8L983.0 1098.4 M1008.2 1099.1L1017.4 1099.1 M1008.2 1099.1L1008.2 1104.2 M1017.4 1099.1L1017.4 1104.2 M999.1 1098.8L1012.8 1098.8 M999.1 1098.8L999.1 1104.2 M1012.8 1098.8L1012.8 1099.1 M1026.5 1099.0L1035.7 1099.0 M1026.5 1099.0L1026.5 1104.2 M1035.7 1099.0L1035.7 1104.2 M1044.9 1099.5L1054.0 1099.5 M1044.9 1099.5L1044.9 1104.2 M1054.0 1099.5L1054.0 1104.2 M1063.2 1099.3L1072.3 1099.3 M1063.2 1099.3L1063.2 1104.2 M1072.3 1099.3L1072.3 1104.2 M1049.4 1099.1L1067.7 1099.1 M1049.4 1099.1L1049.4 1099.5 M1067.7 1099.1L1067.7 1099.3 M1031.1 1098.6L1058.6 1098.6 M1031.1 1098.6L1031.1 1099.0 M1058.6 1098.6L1058.6 1099.1 M1005.9 1098.2L1044.9 1098.2 M1005.9 1098.2L1005.9 1098.8 M1044.9 1098.2L1044.9 1098.6 M965.9 1096.6L1025.4 1096.6 M965.9 1096.6L965.9 1097.8 M1025.4 1096.6L1025.4 1098.2 M869.2 1094.7L995.6 1094.7 M869.2 1094.7L869.2 1096.7 M995.6 1094.7L995.6 1096.6 M1246.4 1046.5L1246.4 1091.0 M1111.7 1091.0L1333.0 1091.0 M1111.7 1091.0L1111.7 1093.5 M1087.8 1098.3L1096.9 1098.3 M1087.8 1098.3L1087.8 1104.2 M1096.9 1098.3L1096.9 1104.2 M1106.1 1098.6L1115.2 1098.6 M1106.1 1098.6L1106.1 1104.2 M1115.2 1098.6L1115.2 1104.2 M1133.5 1099.6L1142.7 1099.6 M1133.5 1099.6L1133.5 1104.2 M1142.7 1099.6L1142.7 1104.2 M1124.4 1099.3L1138.1 1099.3 M1124.4 1099.3L1124.4 1104.2 M1138.1 1099.3L1138.1 1099.6 M1161.0 1099.5L1170.2 1099.5 M1161.0 1099.5L1161.0 1104.2 M1170.2 1099.5L1170.2 1104.2 M1165.6 1099.5L1179.3 1099.5 M1165.6 1099.5L1165.6 1099.5 M1179.3 1099.5L1179.3 1104.2 M1151.9 1099.1L1172.5 1099.1 M1151.9 1099.1L1151.9 1104.2 M1172.5 1099.1L1172.5 1099.5 M1131.3 1098.9L1162.2 1098.9 M1131.3 1098.9L1131.3 1099.3 M1162.2 1098.9L1162.2 1099.1 M1188.5 1099.1L1197.6 1099.1 M1188.5 1099.1L1188.5 1104.2 M1197.6 1099.1L1197.6 1104.2 M1206.8 1099.3L1215.9 1099.3 M1206.8 1099.3L1206.8 1104.2 M1215.9 1099.3L1215.9 1104.2 M1193.1 1098.8L1211.4 1098.8 M1193.1 1098.8L1193.1 1099.1 M1211.4 1098.8L1211.4 1099.3 M1146.7 1098.4L1202.2 1098.4 M1146.7 1098.4L1146.7 1098.9 M1202.2 1098.4L1202.2 1098.8 M1110.7 1097.3L1174.5 1097.3 M1110.7 1097.3L1110.7 1098.6 M1174.5 1097.3L1174.5 1098.4 M1092.4 1096.1L1142.6 1096.1 M1092.4 1096.1L1092.4 1098.3 M1142.6 1096.1L1142.6 1097.3 M1225.1 1097.4L1234.2 1097.4 M1225.1 1097.4L1225.1 1104.2 M1234.2 1097.4L1234.2 1104.2 M1117.5 1093.5L1229.7 1093.5 M1117.5 1093.5L1117.5 1096.1 M1229.7 1093.5L1229.7 1097.4 M1333.0 1091.0L1333.0 1093.5 M1252.6 1099.3L1261.7 1099.3 M1252.6 1099.3L1252.6 1104.2 M1261.7 1099.3L1261.7 1104.2 M1243.4 1098.7L1257.1 1098.7 M1243.4 1098.7L1243.4 1104.2 M1257.1 1098.7L1257.1 1099.3 M1270.9 1098.9L1280.0 1098.9 M1270.9 1098.9L1270.9 1104.2 M1280.0 1098.9L1280.0 1104.2 M1250.3 1098.2L1275.4 1098.2 M1250.3 1098.2L1250.3 1098.7 M1275.4 1098.2L1275.4 1098.9 M1289.2 1099.3L1298.3 1099.3 M1289.2 1099.3L1289.2 1104.2 M1298.3 1099.3L1298.3 1104.2 M1307.5 1099.5L1316.6 1099.5 M1307.5 1099.5L1307.5 1104.2 M1316.6 1099.5L1316.6 1104.2 M1325.8 1099.5L1334.9 1099.5 M1325.8 1099.5L1325.8 1104.2 M1334.9 1099.5L1334.9 1104.2 M1312.1 1099.3L1330.4 1099.3 M1312.1 1099.3L1312.1 1099.5 M1330.4 1099.3L1330.4 1099.5 M1293.7 1098.8L1321.2 1098.8 M1293.7 1098.8L1293.7 1099.3 M1321.2 1098.8L1321.2 1099.3 M1344.1 1098.1L1353.3 1098.1 M1344.1 1098.1L1344.1 1104.2 M1353.3 1098.1L1353.3 1104.2 M1307.5 1097.6L1348.7 1097.6 M1307.5 1097.6L1307.5 1098.8 M1348.7 1097.6L1348.7 1098.1 M1262.9 1095.9L1328.1 1095.9 M1262.9 1095.9L1262.9 1098.2 M1328.1 1095.9L1328.1 1097.6 M1362.4 1096.8L1371.6 1096.8 M1362.4 1096.8L1362.4 1104.2 M1371.6 1096.8L1371.6 1104.2 M1380.7 1098.7L1389.9 1098.7 M1380.7 1098.7L1380.7 1104.2 M1389.9 1098.7L1389.9 1104.2 M1385.3 1096.9L1399.0 1096.9 M1385.3 1096.9L1385.3 1098.7 M1399.0 1096.9L1399.0 1104.2 M1367.0 1095.7L1392.2 1095.7 M1367.0 1095.7L1367.0 1096.8 M1392.2 1095.7L1392.2 1096.9 M1295.5 1093.5L1379.6 1093.5 M1295.5 1093.5L1295.5 1095.9 M1379.6 1093.5L1379.6 1095.7" fill="none" stroke="#000" stroke-width="1.9" stroke-linecap="square"/>
<path d="M10.7 1514.3L10.7 2251.5 M10.7 1514.3L62.2 1514.3 M62.2 1333.1L62.2 1692.3 M62.2 1333.1L67.6 1333.1 M67.6 1215.2L67.6 1456.8 M67.6 1215.2L85.1 1215.2 M85.1 1175.4L85.1 1254.3 M67.6 1456.8L79.8 1456.8 M79.8 1393.4L79.8 1520.2 M79.8 1393.4L84.6 1393.4 M79.8 1520.2L83.0 1520.2 M62.2 1692.3L84.1 1692.3 M10.7 2251.5L29.9 2251.5 M29.9 2065.3L29.9 2438.6 M29.9 2065.3L47.9 2065.3 M47.9 1910.4L47.9 2219.7 M47.9 1910.4L69.8 1910.4 M69.8 1812.4L69.8 2008.5 M69.8 1812.4L76.8 1812.4 M69.8 2008.5L81.4 2008.5 M47.9 2219.7L84.0 2219.7 M29.9 2438.6L68.9 2438.6 M68.9 2349.9L68.9 2526.6 M68.9 2349.9L74.4 2349.9 M68.9 2526.6L82.7 2526.6" fill="none" stroke="#000" stroke-width="1.9" stroke-linecap="square"/><path d="M87.1 1125.6L87.1 1127.6 M87.1 1125.6L92.6 1125.6 M87.1 1127.6L92.6 1127.6 M87.0 1126.6L87.0 1129.6 M87.0 1126.6L87.1 1126.6 M87.0 1129.6L92.6 1129.6 M87.1 1131.6L87.1 1133.6 M87.1 1131.6L92.6 1131.6 M87.1 1133.6L92.6 1133.6 M87.0 1128.1L87.0 1132.6 M87.0 1128.1L87.0 1128.1 M87.0 1132.6L87.1 1132.6 M87.0 1130.4L87.0 1135.6 M87.0 1130.4L87.0 1130.4 M87.0 1135.6L92.6 1135.6 M87.0 1137.6L87.0 1139.6 M87.0 1137.6L92.6 1137.6 M87.0 1139.6L92.6 1139.6 M87.0 1138.6L87.0 1141.6 M87.0 1138.6L87.0 1138.6 M87.0 1141.6L92.6 1141.6 M86.9 1133.0L86.9 1140.1 M86.9 1133.0L87.0 1133.0 M86.9 1140.1L87.0 1140.1 M87.1 1145.7L87.1 1147.7 M87.1 1145.7L92.6 1145.7 M87.1 1147.7L92.6 1147.7 M87.0 1143.7L87.0 1146.7 M87.0 1143.7L92.6 1143.7 M87.0 1146.7L87.1 1146.7 M87.0 1151.7L87.0 1153.7 M87.0 1151.7L92.6 1151.7 M87.0 1153.7L92.6 1153.7 M87.0 1149.7L87.0 1152.7 M87.0 1149.7L92.6 1149.7 M87.0 1152.7L87.0 1152.7 M86.9 1145.2L86.9 1151.2 M86.9 1145.2L87.0 1145.2 M86.9 1151.2L87.0 1151.2 M86.7 1136.6L86.7 1148.2 M86.7 1136.6L86.9 1136.6 M86.7 1148.2L86.9 1148.2 M87.0 1157.7L87.0 1159.7 M87.0 1157.7L92.6 1157.7 M87.0 1159.7L92.6 1159.7 M87.0 1158.7L87.0 1161.7 M87.0 1158.7L87.0 1158.7 M87.0 1161.7L92.6 1161.7 M86.8 1155.7L86.8 1160.2 M86.8 1155.7L92.6 1155.7 M86.8 1160.2L87.0 1160.2 M87.1 1163.7L87.1 1165.7 M87.1 1163.7L92.6 1163.7 M87.1 1165.7L92.6 1165.7 M87.0 1164.7L87.0 1167.7 M87.0 1164.7L87.1 1164.7 M87.0 1167.7L92.6 1167.7 M87.0 1166.2L87.0 1169.7 M87.0 1166.2L87.0 1166.2 M87.0 1169.7L92.6 1169.7 M87.1 1171.7L87.1 1173.7 M87.1 1171.7L92.6 1171.7 M87.1 1173.7L92.6 1173.7 M87.0 1172.7L87.0 1175.7 M87.0 1172.7L87.1 1172.7 M87.0 1175.7L92.6 1175.7 M87.0 1168.0L87.0 1174.2 M87.0 1168.0L87.0 1168.0 M87.0 1174.2L87.0 1174.2 M86.7 1157.9L86.7 1171.1 M86.7 1157.9L86.8 1157.9 M86.7 1171.1L87.0 1171.1 M86.3 1142.4L86.3 1164.5 M86.3 1142.4L86.7 1142.4 M86.3 1164.5L86.7 1164.5 M87.0 1177.7L87.0 1179.7 M87.0 1177.7L92.6 1177.7 M87.0 1179.7L92.6 1179.7 M87.0 1178.7L87.0 1181.8 M87.0 1178.7L87.0 1178.7 M87.0 1181.8L92.6 1181.8 M87.1 1183.8L87.1 1185.8 M87.1 1183.8L92.6 1183.8 M87.1 1185.8L92.6 1185.8 M87.1 1187.8L87.1 1189.8 M87.1 1187.8L92.6 1187.8 M87.1 1189.8L92.6 1189.8 M87.0 1184.8L87.0 1188.8 M87.0 1184.8L87.1 1184.8 M87.0 1188.8L87.1 1188.8 M87.0 1186.8L87.0 1191.8 M87.0 1186.8L87.0 1186.8 M87.0 1191.8L92.6 1191.8 M86.9 1180.3L86.9 1189.3 M86.9 1180.3L87.0 1180.3 M86.9 1189.3L87.0 1189.3 M87.0 1193.8L87.0 1195.8 M87.0 1193.8L92.6 1193.8 M87.0 1195.8L92.6 1195.8 M87.0 1194.8L87.0 1197.8 M87.0 1194.8L87.0 1194.8 M87.0 1197.8L92.6 1197.8 M87.0 1199.8L87.0 1201.8 M87.0 1199.8L92.6 1199.8 M87.0 1201.8L92.6 1201.8 M87.0 1196.3L87.0 1200.8 M87.0 1196.3L87.0 1196.3 M87.0 1200.8L87.0 1200.8 M87.0 1205.8L87.0 1207.8 M87.0 1205.8L92.6 1205.8 M87.0 1207.8L92.6 1207.8 M87.0 1203.8L87.0 1206.8 M87.0 1203.8L92.6 1203.8 M87.0 1206.8L87.0 1206.8 M86.9 1198.5L86.9 1205.3 M86.9 1198.5L87.0 1198.5 M86.9 1205.3L87.0 1205.3 M86.8 1184.8L86.8 1201.9 M86.8 1184.8L86.9 1184.8 M86.8 1201.9L86.9 1201.9 M87.1 1209.8L87.1 1211.8 M87.1 1209.8L92.6 1209.8 M87.1 1211.8L92.6 1211.8 M87.1 1210.8L87.1 1213.8 M87.1 1210.8L87.1 1210.8 M87.1 1213.8L92.6 1213.8 M87.0 1212.3L87.0 1215.8 M87.0 1212.3L87.1 1212.3 M87.0 1215.8L92.6 1215.8 M87.0 1217.9L87.0 1219.9 M87.0 1217.9L92.6 1217.9 M87.0 1219.9L92.6 1219.9 M87.0 1218.9L87.0 1221.9 M87.0 1218.9L87.0 1218.9 M87.0 1221.9L92.6 1221.9 M87.0 1214.1L87.0 1220.4 M87.0 1214.1L87.0 1214.1 M87.0 1220.4L87.0 1220.4 M87.1 1223.9L87.1 1225.9 M87.1 1223.9L92.6 1223.9 M87.1 1225.9L92.6 1225.9 M87.1 1227.9L87.1 1229.9 M87.1 1227.9L92.6 1227.9 M87.1 1229.9L92.6 1229.9 M87.1 1231.9L87.1 1233.9 M87.1 1231.9L92.6 1231.9 M87.1 1233.9L92.6 1233.9 M87.1 1228.9L87.1 1232.9 M87.1 1228.9L87.1 1228.9 M87.1 1232.9L87.1 1232.9 M87.1 1235.9L87.1 1237.9 M87.1 1235.9L92.6 1235.9 M87.1 1237.9L92.6 1237.9 M87.1 1239.9L87.1 1241.9 M87.1 1239.9L92.6 1239.9 M87.1 1241.9L92.6 1241.9 M87.1 1240.9L87.1 1243.9 M87.1 1240.9L87.1 1240.9 M87.1 1243.9L92.6 1243.9 M87.1 1236.9L87.1 1242.4 M87.1 1236.9L87.1 1236.9 M87.1 1242.4L87.1 1242.4 M87.1 1230.9L87.1 1239.7 M87.1 1230.9L87.1 1230.9 M87.1 1239.7L87.1 1239.7 M87.1 1247.9L87.1 1249.9 M87.1 1247.9L92.6 1247.9 M87.1 1249.9L92.6 1249.9 M87.1 1245.9L87.1 1248.9 M87.1 1245.9L92.6 1245.9 M87.1 1248.9L87.1 1248.9 M87.1 1251.9L87.1 1253.9 M87.1 1251.9L92.6 1251.9 M87.1 1253.9L92.6 1253.9 M87.1 1247.4L87.1 1252.9 M87.1 1247.4L87.1 1247.4 M87.1 1252.9L87.1 1252.9 M87.1 1250.2L87.1 1256.0 M87.1 1250.2L87.1 1250.2 M87.1 1256.0L92.6 1256.0 M87.1 1235.3L87.1 1253.1 M87.1 1235.3L87.1 1235.3 M87.1 1253.1L87.1 1253.1 M87.0 1224.9L87.0 1244.2 M87.0 1224.9L87.1 1224.9 M87.0 1244.2L87.1 1244.2 M86.9 1217.2L86.9 1234.5 M86.9 1217.2L87.0 1217.2 M86.9 1234.5L87.0 1234.5 M86.7 1193.3L86.7 1225.9 M86.7 1193.3L86.8 1193.3 M86.7 1225.9L86.9 1225.9 M87.0 1258.0L87.0 1260.0 M87.0 1258.0L92.6 1258.0 M87.0 1260.0L92.6 1260.0 M86.9 1262.0L86.9 1264.0 M86.9 1262.0L92.6 1262.0 M86.9 1264.0L92.6 1264.0 M86.8 1259.0L86.8 1263.0 M86.8 1259.0L87.0 1259.0 M86.8 1263.0L86.9 1263.0 M87.1 1268.0L87.1 1270.0 M87.1 1268.0L92.6 1268.0 M87.1 1270.0L92.6 1270.0 M87.0 1269.0L87.0 1272.0 M87.0 1269.0L87.1 1269.0 M87.0 1272.0L92.6 1272.0 M86.9 1266.0L86.9 1270.5 M86.9 1266.0L92.6 1266.0 M86.9 1270.5L87.0 1270.5 M87.0 1276.0L87.0 1278.0 M87.0 1276.0L92.6 1276.0 M87.0 1278.0L92.6 1278.0 M87.0 1277.0L87.0 1280.0 M87.0 1277.0L87.0 1277.0 M87.0 1280.0L92.6 1280.0 M86.9 1274.0L86.9 1278.5 M86.9 1274.0L92.6 1274.0 M86.9 1278.5L87.0 1278.5 M86.8 1268.2L86.8 1276.3 M86.8 1268.2L86.9 1268.2 M86.8 1276.3L86.9 1276.3 M87.0 1284.0L87.0 1286.0 M87.0 1284.0L92.6 1284.0 M87.0 1286.0L92.6 1286.0 M86.9 1282.0L86.9 1285.0 M86.9 1282.0L92.6 1282.0 M86.9 1285.0L87.0 1285.0 M87.1 1288.0L87.1 1290.0 M87.1 1288.0L92.6 1288.0 M87.1 1290.0L92.6 1290.0 M87.1 1292.1L87.1 1294.1 M87.1 1292.1L92.6 1292.1 M87.1 1294.1L92.6 1294.1 M87.1 1296.1L87.1 1298.1 M87.1 1296.1L92.6 1296.1 M87.1 1298.1L92.6 1298.1 M87.0 1293.1L87.0 1297.1 M87.0 1293.1L87.1 1293.1 M87.0 1297.1L87.1 1297.1 M87.0 1289.0L87.0 1295.1 M87.0 1289.0L87.1 1289.0 M87.0 1295.1L87.0 1295.1 M86.8 1283.5L86.8 1292.1 M86.8 1283.5L86.9 1283.5 M86.8 1292.1L87.0 1292.1 M86.7 1272.2L86.7 1287.8 M86.7 1272.2L86.8 1272.2 M86.7 1287.8L86.8 1287.8 M86.4 1261.0L86.4 1280.0 M86.4 1261.0L86.8 1261.0 M86.4 1280.0L86.7 1280.0 M86.0 1209.6L86.0 1270.5 M86.0 1209.6L86.7 1209.6 M86.0 1270.5L86.4 1270.5 M85.1 1153.4L85.1 1240.1 M85.1 1153.4L86.3 1153.4 M85.1 1240.1L86.0 1240.1 M87.0 1300.1L87.0 1302.1 M87.0 1300.1L92.6 1300.1 M87.0 1302.1L92.6 1302.1 M87.1 1306.1L87.1 1308.1 M87.1 1306.1L92.6 1306.1 M87.1 1308.1L92.6 1308.1 M87.1 1304.1L87.1 1307.1 M87.1 1304.1L92.6 1304.1 M87.1 1307.1L87.1 1307.1 M87.1 1310.1L87.1 1312.1 M87.1 1310.1L92.6 1310.1 M87.1 1312.1L92.6 1312.1 M87.0 1305.6L87.0 1311.1 M87.0 1305.6L87.1 1305.6 M87.0 1311.1L87.1 1311.1 M87.1 1316.1L87.1 1318.1 M87.1 1316.1L92.6 1316.1 M87.1 1318.1L92.6 1318.1 M87.1 1314.1L87.1 1317.1 M87.1 1314.1L92.6 1314.1 M87.1 1317.1L87.1 1317.1 M87.1 1315.6L87.1 1320.1 M87.1 1315.6L87.1 1315.6 M87.1 1320.1L92.6 1320.1 M87.1 1317.9L87.1 1322.1 M87.1 1317.9L87.1 1317.9 M87.1 1322.1L92.6 1322.1 M87.0 1308.3L87.0 1320.0 M87.0 1308.3L87.0 1308.3 M87.0 1320.0L87.1 1320.0 M86.9 1301.1L86.9 1314.2 M86.9 1301.1L87.0 1301.1 M86.9 1314.2L87.0 1314.2 M87.0 1324.1L87.0 1326.1 M87.0 1324.1L92.6 1324.1 M87.0 1326.1L92.6 1326.1 M87.0 1328.1L87.0 1330.2 M87.0 1328.1L92.6 1328.1 M87.0 1330.2L92.6 1330.2 M87.1 1332.2L87.1 1334.2 M87.1 1332.2L92.6 1332.2 M87.1 1334.2L92.6 1334.2 M87.0 1329.2L87.0 1333.2 M87.0 1329.2L87.0 1329.2 M87.0 1333.2L87.1 1333.2 M87.0 1336.2L87.0 1338.2 M87.0 1336.2L92.6 1336.2 M87.0 1338.2L92.6 1338.2 M87.0 1337.2L87.0 1340.2 M87.0 1337.2L87.0 1337.2 M87.0 1340.2L92.6 1340.2 M86.9 1331.2L86.9 1338.7 M86.9 1331.2L87.0 1331.2 M86.9 1338.7L87.0 1338.7 M86.9 1325.1L86.9 1334.9 M86.9 1325.1L87.0 1325.1 M86.9 1334.9L86.9 1334.9 M86.6 1307.6L86.6 1330.0 M86.6 1307.6L86.9 1307.6 M86.6 1330.0L86.9 1330.0 M87.1 1342.2L87.1 1344.2 M87.1 1342.2L92.6 1342.2 M87.1 1344.2L92.6 1344.2 M87.1 1346.2L87.1 1348.2 M87.1 1346.2L92.6 1346.2 M87.1 1348.2L92.6 1348.2 M87.0 1343.2L87.0 1347.2 M87.0 1343.2L87.1 1343.2 M87.0 1347.2L87.1 1347.2 M87.1 1350.2L87.1 1352.2 M87.1 1350.2L92.6 1350.2 M87.1 1352.2L92.6 1352.2 M87.1 1351.2L87.1 1354.2 M87.1 1351.2L87.1 1351.2 M87.1 1354.2L92.6 1354.2 M87.1 1356.2L87.1 1358.2 M87.1 1356.2L92.6 1356.2 M87.1 1358.2L92.6 1358.2 M87.1 1360.2L87.1 1362.2 M87.1 1360.2L92.6 1360.2 M87.1 1362.2L92.6 1362.2 M87.1 1357.2L87.1 1361.2 M87.1 1357.2L87.1 1357.2 M87.1 1361.2L87.1 1361.2 M87.0 1352.7L87.0 1359.2 M87.0 1352.7L87.1 1352.7 M87.0 1359.2L87.1 1359.2 M87.0 1345.2L87.0 1356.0 M87.0 1345.2L87.0 1345.2 M87.0 1356.0L87.0 1356.0 M87.0 1364.2L87.0 1366.3 M87.0 1364.2L92.6 1364.2 M87.0 1366.3L92.6 1366.3 M87.1 1368.3L87.1 1370.3 M87.1 1368.3L92.6 1368.3 M87.1 1370.3L92.6 1370.3 M87.0 1369.3L87.0 1372.3 M87.0 1369.3L87.1 1369.3 M87.0 1372.3L92.6 1372.3 M86.9 1365.2L86.9 1370.8 M86.9 1365.2L87.0 1365.2 M86.9 1370.8L87.0 1370.8 M86.8 1350.6L86.8 1368.0 M86.8 1350.6L87.0 1350.6 M86.8 1368.0L86.9 1368.0 M87.0 1374.3L87.0 1376.3 M87.0 1374.3L92.6 1374.3 M87.0 1376.3L92.6 1376.3 M87.0 1375.3L87.0 1378.3 M87.0 1375.3L87.0 1375.3 M87.0 1378.3L92.6 1378.3 M87.0 1376.8L87.0 1380.3 M87.0 1376.8L87.0 1376.8 M87.0 1380.3L92.6 1380.3 M86.9 1378.5L86.9 1382.3 M86.9 1378.5L87.0 1378.5 M86.9 1382.3L92.6 1382.3 M87.1 1388.3L87.1 1390.3 M87.1 1388.3L92.6 1388.3 M87.1 1390.3L92.6 1390.3 M87.1 1386.3L87.1 1389.3 M87.1 1386.3L92.6 1386.3 M87.1 1389.3L87.1 1389.3 M87.0 1384.3L87.0 1387.8 M87.0 1384.3L92.6 1384.3 M87.0 1387.8L87.1 1387.8 M87.0 1392.3L87.0 1394.3 M87.0 1392.3L92.6 1392.3 M87.0 1394.3L92.6 1394.3 M87.0 1393.3L87.0 1396.3 M87.0 1393.3L87.0 1393.3 M87.0 1396.3L92.6 1396.3 M86.9 1386.1L86.9 1394.8 M86.9 1386.1L87.0 1386.1 M86.9 1394.8L87.0 1394.8 M86.8 1380.4L86.8 1390.4 M86.8 1380.4L86.9 1380.4 M86.8 1390.4L86.9 1390.4 M86.4 1359.3L86.4 1385.4 M86.4 1359.3L86.8 1359.3 M86.4 1385.4L86.8 1385.4 M85.9 1318.8L85.9 1372.4 M85.9 1318.8L86.6 1318.8 M85.9 1372.4L86.4 1372.4 M87.1 1400.3L87.1 1402.4 M87.1 1400.3L92.6 1400.3 M87.1 1402.4L92.6 1402.4 M87.1 1401.3L87.1 1404.4 M87.1 1401.3L87.1 1401.3 M87.1 1404.4L92.6 1404.4 M87.1 1402.9L87.1 1406.4 M87.1 1402.9L87.1 1402.9 M87.1 1406.4L92.6 1406.4 M87.0 1398.3L87.0 1404.6 M87.0 1398.3L92.6 1398.3 M87.0 1404.6L87.1 1404.6 M87.0 1408.4L87.0 1410.4 M87.0 1408.4L92.6 1408.4 M87.0 1410.4L92.6 1410.4 M86.9 1401.5L86.9 1409.4 M86.9 1401.5L87.0 1401.5 M86.9 1409.4L87.0 1409.4 M87.1 1418.4L87.1 1420.4 M87.1 1418.4L92.6 1418.4 M87.1 1420.4L92.6 1420.4 M87.1 1416.4L87.1 1419.4 M87.1 1416.4L92.6 1416.4 M87.1 1419.4L87.1 1419.4 M87.1 1414.4L87.1 1417.9 M87.1 1414.4L92.6 1414.4 M87.1 1417.9L87.1 1417.9 M87.0 1412.4L87.0 1416.1 M87.0 1412.4L92.6 1412.4 M87.0 1416.1L87.1 1416.1 M87.0 1424.4L87.0 1426.4 M87.0 1424.4L92.6 1424.4 M87.0 1426.4L92.6 1426.4 M87.0 1422.4L87.0 1425.4 M87.0 1422.4L92.6 1422.4 M87.0 1425.4L87.0 1425.4 M86.9 1414.3L86.9 1423.9 M86.9 1414.3L87.0 1414.3 M86.9 1423.9L87.0 1423.9 M86.6 1405.4L86.6 1419.1 M86.6 1405.4L86.9 1405.4 M86.6 1419.1L86.9 1419.1 M87.1 1428.4L87.1 1430.4 M87.1 1428.4L92.6 1428.4 M87.1 1430.4L92.6 1430.4 M87.0 1429.4L87.0 1432.4 M87.0 1429.4L87.1 1429.4 M87.0 1432.4L92.6 1432.4 M87.0 1434.4L87.0 1436.4 M87.0 1434.4L92.6 1434.4 M87.0 1436.4L92.6 1436.4 M87.0 1438.4L87.0 1440.5 M87.0 1438.4L92.6 1438.4 M87.0 1440.5L92.6 1440.5 M87.0 1435.4L87.0 1439.5 M87.0 1435.4L87.0 1435.4 M87.0 1439.5L87.0 1439.5 M86.8 1430.9L86.8 1437.4 M86.8 1430.9L87.0 1430.9 M86.8 1437.4L87.0 1437.4 M87.0 1442.5L87.0 1444.5 M87.0 1442.5L92.6 1442.5 M87.0 1444.5L92.6 1444.5 M87.0 1443.5L87.0 1446.5 M87.0 1443.5L87.0 1443.5 M87.0 1446.5L92.6 1446.5 M87.0 1448.5L87.0 1450.5 M87.0 1448.5L92.6 1448.5 M87.0 1450.5L92.6 1450.5 M87.0 1452.5L87.0 1454.5 M87.0 1452.5L92.6 1452.5 M87.0 1454.5L92.6 1454.5 M86.9 1449.5L86.9 1453.5 M86.9 1449.5L87.0 1449.5 M86.9 1453.5L87.0 1453.5 M86.9 1445.0L86.9 1451.5 M86.9 1445.0L87.0 1445.0 M86.9 1451.5L86.9 1451.5 M86.4 1434.2L86.4 1448.2 M86.4 1434.2L86.8 1434.2 M86.4 1448.2L86.9 1448.2 M86.1 1412.3L86.1 1441.2 M86.1 1412.3L86.6 1412.3 M86.1 1441.2L86.4 1441.2 M84.6 1345.6L84.6 1426.7 M84.6 1345.6L85.9 1345.6 M84.6 1426.7L86.1 1426.7 M86.4 1456.5L86.4 1458.5 M86.4 1456.5L92.6 1456.5 M86.4 1458.5L92.6 1458.5 M87.0 1462.5L87.0 1464.5 M87.0 1462.5L92.6 1462.5 M87.0 1464.5L92.6 1464.5 M87.0 1468.5L87.0 1470.5 M87.0 1468.5L92.6 1468.5 M87.0 1470.5L92.6 1470.5 M87.0 1466.5L87.0 1469.5 M87.0 1466.5L92.6 1466.5 M87.0 1469.5L87.0 1469.5 M86.9 1463.5L86.9 1468.0 M86.9 1463.5L87.0 1463.5 M86.9 1468.0L87.0 1468.0 M86.8 1460.5L86.8 1465.8 M86.8 1460.5L92.6 1460.5 M86.8 1465.8L86.9 1465.8 M87.0 1474.5L87.0 1476.6 M87.0 1474.5L92.6 1474.5 M87.0 1476.6L92.6 1476.6 M87.1 1480.6L87.1 1482.6 M87.1 1480.6L92.6 1480.6 M87.1 1482.6L92.6 1482.6 M87.0 1478.6L87.0 1481.6 M87.0 1478.6L92.6 1478.6 M87.0 1481.6L87.1 1481.6 M86.9 1475.5L86.9 1480.1 M86.9 1475.5L87.0 1475.5 M86.9 1480.1L87.0 1480.1 M86.8 1472.5L86.8 1477.8 M86.8 1472.5L92.6 1472.5 M86.8 1477.8L86.9 1477.8 M86.4 1463.1L86.4 1475.2 M86.4 1463.1L86.8 1463.1 M86.4 1475.2L86.8 1475.2 M86.1 1457.5L86.1 1469.2 M86.1 1457.5L86.4 1457.5 M86.1 1469.2L86.4 1469.2 M87.1 1484.6L87.1 1486.6 M87.1 1484.6L92.6 1484.6 M87.1 1486.6L92.6 1486.6 M87.0 1485.6L87.0 1488.6 M87.0 1485.6L87.1 1485.6 M87.0 1488.6L92.6 1488.6 M86.9 1487.1L86.9 1490.6 M86.9 1487.1L87.0 1487.1 M86.9 1490.6L92.6 1490.6 M87.0 1492.6L87.0 1494.6 M87.0 1492.6L92.6 1492.6 M87.0 1494.6L92.6 1494.6 M87.1 1496.6L87.1 1498.6 M87.1 1496.6L92.6 1496.6 M87.1 1498.6L92.6 1498.6 M87.0 1497.6L87.0 1500.6 M87.0 1497.6L87.1 1497.6 M87.0 1500.6L92.6 1500.6 M87.0 1493.6L87.0 1499.1 M87.0 1493.6L87.0 1493.6 M87.0 1499.1L87.0 1499.1 M86.8 1488.8L86.8 1496.4 M86.8 1488.8L86.9 1488.8 M86.8 1496.4L87.0 1496.4 M87.0 1502.6L87.0 1504.6 M87.0 1502.6L92.6 1502.6 M87.0 1504.6L92.6 1504.6 M87.1 1508.6L87.1 1510.6 M87.1 1508.6L92.6 1508.6 M87.1 1510.6L92.6 1510.6 M87.0 1506.6L87.0 1509.6 M87.0 1506.6L92.6 1506.6 M87.0 1509.6L87.1 1509.6 M87.0 1503.6L87.0 1508.1 M87.0 1503.6L87.0 1503.6 M87.0 1508.1L87.0 1508.1 M87.0 1512.6L87.0 1514.7 M87.0 1512.6L92.6 1512.6 M87.0 1514.7L92.6 1514.7 M87.0 1516.7L87.0 1518.7 M87.0 1516.7L92.6 1516.7 M87.0 1518.7L92.6 1518.7 M86.9 1513.7L86.9 1517.7 M86.9 1513.7L87.0 1513.7 M86.9 1517.7L87.0 1517.7 M86.9 1505.9L86.9 1515.7 M86.9 1505.9L87.0 1505.9 M86.9 1515.7L86.9 1515.7 M87.1 1520.7L87.1 1522.7 M87.1 1520.7L92.6 1520.7 M87.1 1522.7L92.6 1522.7 M87.0 1521.7L87.0 1524.7 M87.0 1521.7L87.1 1521.7 M87.0 1524.7L92.6 1524.7 M87.0 1526.7L87.0 1528.7 M87.0 1526.7L92.6 1526.7 M87.0 1528.7L92.6 1528.7 M87.0 1523.2L87.0 1527.7 M87.0 1523.2L87.0 1523.2 M87.0 1527.7L87.0 1527.7 M87.1 1534.7L87.1 1536.7 M87.1 1534.7L92.6 1534.7 M87.1 1536.7L92.6 1536.7 M87.1 1532.7L87.1 1535.7 M87.1 1532.7L92.6 1532.7 M87.1 1535.7L87.1 1535.7 M87.0 1530.7L87.0 1534.2 M87.0 1530.7L92.6 1530.7 M87.0 1534.2L87.1 1534.2 M86.9 1525.4L86.9 1532.5 M86.9 1525.4L87.0 1525.4 M86.9 1532.5L87.0 1532.5 M86.7 1510.8L86.7 1528.9 M86.7 1510.8L86.9 1510.8 M86.7 1528.9L86.9 1528.9 M86.4 1492.6L86.4 1519.9 M86.4 1492.6L86.8 1492.6 M86.4 1519.9L86.7 1519.9 M85.2 1463.3L85.2 1506.2 M85.2 1463.3L86.1 1463.3 M85.2 1506.2L86.4 1506.2 M86.7 1538.7L86.7 1540.7 M86.7 1538.7L92.6 1538.7 M86.7 1540.7L92.6 1540.7 M87.1 1542.7L87.1 1544.7 M87.1 1542.7L92.6 1542.7 M87.1 1544.7L92.6 1544.7 M87.1 1546.7L87.1 1548.7 M87.1 1546.7L92.6 1546.7 M87.1 1548.7L92.6 1548.7 M87.1 1543.7L87.1 1547.7 M87.1 1543.7L87.1 1543.7 M87.1 1547.7L87.1 1547.7 M87.1 1550.8L87.1 1552.8 M87.1 1550.8L92.6 1550.8 M87.1 1552.8L92.6 1552.8 M87.0 1551.8L87.0 1554.8 M87.0 1551.8L87.1 1551.8 M87.0 1554.8L92.6 1554.8 M87.0 1545.7L87.0 1553.3 M87.0 1545.7L87.1 1545.7 M87.0 1553.3L87.0 1553.3 M86.8 1549.5L86.8 1556.8 M86.8 1549.5L87.0 1549.5 M86.8 1556.8L92.6 1556.8 M86.4 1539.7L86.4 1553.1 M86.4 1539.7L86.7 1539.7 M86.4 1553.1L86.8 1553.1 M87.1 1562.8L87.1 1564.8 M87.1 1562.8L92.6 1562.8 M87.1 1564.8L92.6 1564.8 M87.0 1560.8L87.0 1563.8 M87.0 1560.8L92.6 1560.8 M87.0 1563.8L87.1 1563.8 M86.9 1558.8L86.9 1562.3 M86.9 1558.8L92.6 1558.8 M86.9 1562.3L87.0 1562.3 M86.8 1566.8L86.8 1568.8 M86.8 1566.8L92.6 1566.8 M86.8 1568.8L92.6 1568.8 M86.7 1567.8L86.7 1570.8 M86.7 1567.8L86.8 1567.8 M86.7 1570.8L92.6 1570.8 M86.6 1560.5L86.6 1569.3 M86.6 1560.5L86.9 1560.5 M86.6 1569.3L86.7 1569.3 M86.9 1572.8L86.9 1574.8 M86.9 1572.8L92.6 1572.8 M86.9 1574.8L92.6 1574.8 M86.9 1576.8L86.9 1578.8 M86.9 1576.8L92.6 1576.8 M86.9 1578.8L92.6 1578.8 M86.7 1573.8L86.7 1577.8 M86.7 1573.8L86.9 1573.8 M86.7 1577.8L86.9 1577.8 M86.0 1564.9L86.0 1575.8 M86.0 1564.9L86.6 1564.9 M86.0 1575.8L86.7 1575.8 M85.4 1546.4L85.4 1570.4 M85.4 1546.4L86.4 1546.4 M85.4 1570.4L86.0 1570.4 M83.0 1484.8L83.0 1558.4 M83.0 1484.8L85.2 1484.8 M83.0 1558.4L85.4 1558.4 M87.0 1580.8L87.0 1582.8 M87.0 1580.8L92.6 1580.8 M87.0 1582.8L92.6 1582.8 M87.0 1584.8L87.0 1586.8 M87.0 1584.8L92.6 1584.8 M87.0 1586.8L92.6 1586.8 M87.0 1581.8L87.0 1585.8 M87.0 1581.8L87.0 1581.8 M87.0 1585.8L87.0 1585.8 M87.1 1588.9L87.1 1590.9 M87.1 1588.9L92.6 1588.9 M87.1 1590.9L92.6 1590.9 M87.1 1592.9L87.1 1594.9 M87.1 1592.9L92.6 1592.9 M87.1 1594.9L92.6 1594.9 M87.0 1589.9L87.0 1593.9 M87.0 1589.9L87.1 1589.9 M87.0 1593.9L87.1 1593.9 M87.1 1596.9L87.1 1598.9 M87.1 1596.9L92.6 1596.9 M87.1 1598.9L92.6 1598.9 M87.1 1602.9L87.1 1604.9 M87.1 1602.9L92.6 1602.9 M87.1 1604.9L92.6 1604.9 M87.1 1600.9L87.1 1603.9 M87.1 1600.9L92.6 1600.9 M87.1 1603.9L87.1 1603.9 M87.1 1597.9L87.1 1602.4 M87.1 1597.9L87.1 1597.9 M87.1 1602.4L87.1 1602.4 M87.1 1606.9L87.1 1608.9 M87.1 1606.9L92.6 1606.9 M87.1 1608.9L92.6 1608.9 M87.1 1600.1L87.1 1607.9 M87.1 1600.1L87.1 1600.1 M87.1 1607.9L87.1 1607.9 M87.0 1591.9L87.0 1604.0 M87.0 1591.9L87.0 1591.9 M87.0 1604.0L87.1 1604.0 M86.9 1583.8L86.9 1597.9 M86.9 1583.8L87.0 1583.8 M86.9 1597.9L87.0 1597.9 M87.1 1610.9L87.1 1612.9 M87.1 1610.9L92.6 1610.9 M87.1 1612.9L92.6 1612.9 M87.1 1611.9L87.1 1614.9 M87.1 1611.9L87.1 1611.9 M87.1 1614.9L92.6 1614.9 M87.1 1616.9L87.1 1618.9 M87.1 1616.9L92.6 1616.9 M87.1 1618.9L92.6 1618.9 M87.1 1620.9L87.1 1622.9 M87.1 1620.9L92.6 1620.9 M87.1 1622.9L92.6 1622.9 M87.1 1617.9L87.1 1621.9 M87.1 1617.9L87.1 1617.9 M87.1 1621.9L87.1 1621.9 M87.1 1625.0L87.1 1627.0 M87.1 1625.0L92.6 1625.0 M87.1 1627.0L92.6 1627.0 M87.1 1626.0L87.1 1629.0 M87.1 1626.0L87.1 1626.0 M87.1 1629.0L92.6 1629.0 M87.1 1619.9L87.1 1627.5 M87.1 1619.9L87.1 1619.9 M87.1 1627.5L87.1 1627.5 M87.0 1613.4L87.0 1623.7 M87.0 1613.4L87.1 1613.4 M87.0 1623.7L87.1 1623.7 M87.1 1633.0L87.1 1635.0 M87.1 1633.0L92.6 1633.0 M87.1 1635.0L92.6 1635.0 M87.1 1631.0L87.1 1634.0 M87.1 1631.0L92.6 1631.0 M87.1 1634.0L87.1 1634.0 M87.1 1639.0L87.1 1641.0 M87.1 1639.0L92.6 1639.0 M87.1 1641.0L92.6 1641.0 M87.1 1643.0L87.1 1645.0 M87.1 1643.0L92.6 1643.0 M87.1 1645.0L92.6 1645.0 M87.1 1640.0L87.1 1644.0 M87.1 1640.0L87.1 1640.0 M87.1 1644.0L87.1 1644.0 M87.1 1637.0L87.1 1642.0 M87.1 1637.0L92.6 1637.0 M87.1 1642.0L87.1 1642.0 M87.0 1632.5L87.0 1639.5 M87.0 1632.5L87.1 1632.5 M87.0 1639.5L87.1 1639.5 M86.9 1618.6L86.9 1636.0 M86.9 1618.6L87.0 1618.6 M86.9 1636.0L87.0 1636.0 M86.8 1590.9L86.8 1627.3 M86.8 1590.9L86.9 1590.9 M86.8 1627.3L86.9 1627.3 M87.1 1647.0L87.1 1649.0 M87.1 1647.0L92.6 1647.0 M87.1 1649.0L92.6 1649.0 M87.0 1648.0L87.0 1651.0 M87.0 1648.0L87.1 1648.0 M87.0 1651.0L92.6 1651.0 M87.0 1653.0L87.0 1655.0 M87.0 1653.0L92.6 1653.0 M87.0 1655.0L92.6 1655.0 M86.9 1649.5L86.9 1654.0 M86.9 1649.5L87.0 1649.5 M86.9 1654.0L87.0 1654.0 M87.0 1657.0L87.0 1659.0 M87.0 1657.0L92.6 1657.0 M87.0 1659.0L92.6 1659.0 M87.1 1661.0L87.1 1663.1 M87.1 1661.0L92.6 1661.0 M87.1 1663.1L92.6 1663.1 M87.1 1665.1L87.1 1667.1 M87.1 1665.1L92.6 1665.1 M87.1 1667.1L92.6 1667.1 M87.0 1662.1L87.0 1666.1 M87.0 1662.1L87.1 1662.1 M87.0 1666.1L87.1 1666.1 M87.0 1658.0L87.0 1664.1 M87.0 1658.0L87.0 1658.0 M87.0 1664.1L87.0 1664.1 M86.8 1651.8L86.8 1661.0 M86.8 1651.8L86.9 1651.8 M86.8 1661.0L87.0 1661.0 M87.0 1671.1L87.0 1673.1 M87.0 1671.1L92.6 1671.1 M87.0 1673.1L92.6 1673.1 M87.0 1675.1L87.0 1677.1 M87.0 1675.1L92.6 1675.1 M87.0 1677.1L92.6 1677.1 M86.9 1672.1L86.9 1676.1 M86.9 1672.1L87.0 1672.1 M86.9 1676.1L87.0 1676.1 M86.8 1669.1L86.8 1674.1 M86.8 1669.1L92.6 1669.1 M86.8 1674.1L86.9 1674.1 M86.6 1656.4L86.6 1671.6 M86.6 1656.4L86.8 1656.4 M86.6 1671.6L86.8 1671.6 M86.3 1609.1L86.3 1664.0 M86.3 1609.1L86.8 1609.1 M86.3 1664.0L86.6 1664.0 M86.9 1681.1L86.9 1683.1 M86.9 1681.1L92.6 1681.1 M86.9 1683.1L92.6 1683.1 M86.9 1679.1L86.9 1682.1 M86.9 1679.1L92.6 1679.1 M86.9 1682.1L86.9 1682.1 M86.9 1685.1L86.9 1687.1 M86.9 1685.1L92.6 1685.1 M86.9 1687.1L92.6 1687.1 M86.7 1680.6L86.7 1686.1 M86.7 1680.6L86.9 1680.6 M86.7 1686.1L86.9 1686.1 M87.1 1691.1L87.1 1693.1 M87.1 1691.1L92.6 1691.1 M87.1 1693.1L92.6 1693.1 M87.0 1689.1L87.0 1692.1 M87.0 1689.1L92.6 1689.1 M87.0 1692.1L87.1 1692.1 M86.9 1690.6L86.9 1695.1 M86.9 1690.6L87.0 1690.6 M86.9 1695.1L92.6 1695.1 M87.0 1699.2L87.0 1701.2 M87.0 1699.2L92.6 1699.2 M87.0 1701.2L92.6 1701.2 M86.9 1697.1L86.9 1700.2 M86.9 1697.1L92.6 1697.1 M86.9 1700.2L87.0 1700.2 M86.7 1692.9L86.7 1698.7 M86.7 1692.9L86.9 1692.9 M86.7 1698.7L86.9 1698.7 M86.3 1683.4L86.3 1695.8 M86.3 1683.4L86.7 1683.4 M86.3 1695.8L86.7 1695.8 M86.0 1636.5L86.0 1689.6 M86.0 1636.5L86.3 1636.5 M86.0 1689.6L86.3 1689.6 M87.0 1705.2L87.0 1707.2 M87.0 1705.2L92.6 1705.2 M87.0 1707.2L92.6 1707.2 M86.9 1703.2L86.9 1706.2 M86.9 1703.2L92.6 1703.2 M86.9 1706.2L87.0 1706.2 M87.0 1709.2L87.0 1711.2 M87.0 1709.2L92.6 1709.2 M87.0 1711.2L92.6 1711.2 M87.1 1713.2L87.1 1715.2 M87.1 1713.2L92.6 1713.2 M87.1 1715.2L92.6 1715.2 M87.1 1714.2L87.1 1717.2 M87.1 1714.2L87.1 1714.2 M87.1 1717.2L92.6 1717.2 M87.0 1715.7L87.0 1719.2 M87.0 1715.7L87.1 1715.7 M87.0 1719.2L92.6 1719.2 M86.9 1710.2L86.9 1717.5 M86.9 1710.2L87.0 1710.2 M86.9 1717.5L87.0 1717.5 M87.1 1723.2L87.1 1725.2 M87.1 1723.2L92.6 1723.2 M87.1 1725.2L92.6 1725.2 M87.1 1724.2L87.1 1727.2 M87.1 1724.2L87.1 1724.2 M87.1 1727.2L92.6 1727.2 M87.1 1725.7L87.1 1729.2 M87.1 1725.7L87.1 1725.7 M87.1 1729.2L92.6 1729.2 M87.1 1735.2L87.1 1737.3 M87.1 1735.2L92.6 1735.2 M87.1 1737.3L92.6 1737.3 M87.1 1733.2L87.1 1736.3 M87.1 1733.2L92.6 1733.2 M87.1 1736.3L87.1 1736.3 M87.1 1731.2L87.1 1734.7 M87.1 1731.2L92.6 1731.2 M87.1 1734.7L87.1 1734.7 M87.1 1739.3L87.1 1741.3 M87.1 1739.3L92.6 1739.3 M87.1 1741.3L92.6 1741.3 M87.1 1733.0L87.1 1740.3 M87.1 1733.0L87.1 1733.0 M87.1 1740.3L87.1 1740.3 M87.1 1727.5L87.1 1736.6 M87.1 1727.5L87.1 1727.5 M87.1 1736.6L87.1 1736.6 M87.0 1721.2L87.0 1732.1 M87.0 1721.2L92.6 1721.2 M87.0 1732.1L87.1 1732.1 M87.1 1745.3L87.1 1747.3 M87.1 1745.3L92.6 1745.3 M87.1 1747.3L92.6 1747.3 M87.1 1743.3L87.1 1746.3 M87.1 1743.3L92.6 1743.3 M87.1 1746.3L87.1 1746.3 M87.0 1744.8L87.0 1749.3 M87.0 1744.8L87.1 1744.8 M87.0 1749.3L92.6 1749.3 M87.0 1726.6L87.0 1747.0 M87.0 1726.6L87.0 1726.6 M87.0 1747.0L87.0 1747.0 M86.9 1713.8L86.9 1736.8 M86.9 1713.8L86.9 1713.8 M86.9 1736.8L87.0 1736.8 M86.7 1704.7L86.7 1725.3 M86.7 1704.7L86.9 1704.7 M86.7 1725.3L86.9 1725.3 M87.0 1751.3L87.0 1753.3 M87.0 1751.3L92.6 1751.3 M87.0 1753.3L92.6 1753.3 M87.0 1755.3L87.0 1757.3 M87.0 1755.3L92.6 1755.3 M87.0 1757.3L92.6 1757.3 M87.0 1756.3L87.0 1759.3 M87.0 1756.3L87.0 1756.3 M87.0 1759.3L92.6 1759.3 M86.8 1752.3L86.8 1757.8 M86.8 1752.3L87.0 1752.3 M86.8 1757.8L87.0 1757.8 M87.1 1761.3L87.1 1763.3 M87.1 1761.3L92.6 1761.3 M87.1 1763.3L92.6 1763.3 M87.1 1762.3L87.1 1765.3 M87.1 1762.3L87.1 1762.3 M87.1 1765.3L92.6 1765.3 M87.1 1763.8L87.1 1767.3 M87.1 1763.8L87.1 1763.8 M87.1 1767.3L92.6 1767.3 M87.0 1765.6L87.0 1769.3 M87.0 1765.6L87.1 1765.6 M87.0 1769.3L92.6 1769.3 M87.0 1771.3L87.0 1773.4 M87.0 1771.3L92.6 1771.3 M87.0 1773.4L92.6 1773.4 M86.9 1767.5L86.9 1772.3 M86.9 1767.5L87.0 1767.5 M86.9 1772.3L87.0 1772.3 M86.7 1755.1L86.7 1769.9 M86.7 1755.1L86.8 1755.1 M86.7 1769.9L86.9 1769.9 M86.8 1775.4L86.8 1777.4 M86.8 1775.4L92.6 1775.4 M86.8 1777.4L92.6 1777.4 M87.0 1779.4L87.0 1781.4 M87.0 1779.4L92.6 1779.4 M87.0 1781.4L92.6 1781.4 M87.0 1780.4L87.0 1783.4 M87.0 1780.4L87.0 1780.4 M87.0 1783.4L92.6 1783.4 M86.9 1781.9L86.9 1785.4 M86.9 1781.9L87.0 1781.9 M86.9 1785.4L92.6 1785.4 M86.6 1776.4L86.6 1783.6 M86.6 1776.4L86.8 1776.4 M86.6 1783.6L86.9 1783.6 M86.4 1762.5L86.4 1780.0 M86.4 1762.5L86.7 1762.5 M86.4 1780.0L86.6 1780.0 M86.0 1715.0L86.0 1771.2 M86.0 1715.0L86.7 1715.0 M86.0 1771.2L86.4 1771.2 M84.1 1663.1L84.1 1743.1 M84.1 1663.1L86.0 1663.1 M84.1 1743.1L86.0 1743.1 M86.0 1787.4L86.0 1789.4 M86.0 1787.4L92.6 1787.4 M86.0 1789.4L92.6 1789.4 M86.7 1791.4L86.7 1793.4 M86.7 1791.4L92.6 1791.4 M86.7 1793.4L92.6 1793.4 M86.3 1792.4L86.3 1795.4 M86.3 1792.4L86.7 1792.4 M86.3 1795.4L92.6 1795.4 M85.4 1788.4L85.4 1793.9 M85.4 1788.4L86.0 1788.4 M85.4 1793.9L86.3 1793.9 M85.7 1799.4L85.7 1801.4 M85.7 1799.4L92.6 1799.4 M85.7 1801.4L92.6 1801.4 M85.2 1797.4L85.2 1800.4 M85.2 1797.4L92.6 1797.4 M85.2 1800.4L85.7 1800.4 M86.5 1803.4L86.5 1805.4 M86.5 1803.4L92.6 1803.4 M86.5 1805.4L92.6 1805.4 M86.5 1807.4L86.5 1809.4 M86.5 1807.4L92.6 1807.4 M86.5 1809.4L92.6 1809.4 M85.4 1804.4L85.4 1808.4 M85.4 1804.4L86.5 1804.4 M85.4 1808.4L86.5 1808.4 M84.3 1798.9L84.3 1806.4 M84.3 1798.9L85.2 1798.9 M84.3 1806.4L85.4 1806.4 M83.2 1791.2L83.2 1802.7 M83.2 1791.2L85.4 1791.2 M83.2 1802.7L84.3 1802.7 M85.3 1811.5L85.3 1813.5 M85.3 1811.5L92.6 1811.5 M85.3 1813.5L92.6 1813.5 M86.1 1815.5L86.1 1817.5 M86.1 1815.5L92.6 1815.5 M86.1 1817.5L92.6 1817.5 M84.5 1816.5L84.5 1819.5 M84.5 1816.5L86.1 1816.5 M84.5 1819.5L92.6 1819.5 M83.0 1812.5L83.0 1818.0 M83.0 1812.5L85.3 1812.5 M83.0 1818.0L84.5 1818.0 M79.7 1796.9L79.7 1815.2 M79.7 1796.9L83.2 1796.9 M79.7 1815.2L83.0 1815.2 M82.6 1821.5L82.6 1823.5 M82.6 1821.5L92.6 1821.5 M82.6 1823.5L92.6 1823.5 M84.4 1825.5L84.4 1827.5 M84.4 1825.5L92.6 1825.5 M84.4 1827.5L92.6 1827.5 M82.6 1826.5L82.6 1829.5 M82.6 1826.5L84.4 1826.5 M82.6 1829.5L92.6 1829.5 M79.7 1822.5L79.7 1828.0 M79.7 1822.5L82.6 1822.5 M79.7 1828.0L82.6 1828.0 M76.8 1806.1L76.8 1825.2 M76.8 1806.1L79.7 1806.1 M76.8 1825.2L79.7 1825.2 M87.1 1831.5L87.1 1833.5 M87.1 1831.5L92.6 1831.5 M87.1 1833.5L92.6 1833.5 M87.1 1835.5L87.1 1837.5 M87.1 1835.5L92.6 1835.5 M87.1 1837.5L92.6 1837.5 M87.0 1832.5L87.0 1836.5 M87.0 1832.5L87.1 1832.5 M87.0 1836.5L87.1 1836.5 M87.1 1839.5L87.1 1841.5 M87.1 1839.5L92.6 1839.5 M87.1 1841.5L92.6 1841.5 M87.0 1840.5L87.0 1843.5 M87.0 1840.5L87.1 1840.5 M87.0 1843.5L92.6 1843.5 M87.0 1834.5L87.0 1842.0 M87.0 1834.5L87.0 1834.5 M87.0 1842.0L87.0 1842.0 M87.0 1847.6L87.0 1849.6 M87.0 1847.6L92.6 1847.6 M87.0 1849.6L92.6 1849.6 M87.0 1845.5L87.0 1848.6 M87.0 1845.5L92.6 1845.5 M87.0 1848.6L87.0 1848.6 M87.0 1851.6L87.0 1853.6 M87.0 1851.6L92.6 1851.6 M87.0 1853.6L92.6 1853.6 M87.0 1855.6L87.0 1857.6 M87.0 1855.6L92.6 1855.6 M87.0 1857.6L92.6 1857.6 M87.0 1852.6L87.0 1856.6 M87.0 1852.6L87.0 1852.6 M87.0 1856.6L87.0 1856.6 M86.9 1847.1L86.9 1854.6 M86.9 1847.1L87.0 1847.1 M86.9 1854.6L87.0 1854.6 M86.7 1838.3L86.7 1850.8 M86.7 1838.3L87.0 1838.3 M86.7 1850.8L86.9 1850.8 M86.9 1859.6L86.9 1861.6 M86.9 1859.6L92.6 1859.6 M86.9 1861.6L92.6 1861.6 M87.1 1865.6L87.1 1867.6 M87.1 1865.6L92.6 1865.6 M87.1 1867.6L92.6 1867.6 M87.0 1863.6L87.0 1866.6 M87.0 1863.6L92.6 1863.6 M87.0 1866.6L87.1 1866.6 M86.9 1865.1L86.9 1869.6 M86.9 1865.1L87.0 1865.1 M86.9 1869.6L92.6 1869.6 M86.8 1860.6L86.8 1867.4 M86.8 1860.6L86.9 1860.6 M86.8 1867.4L86.9 1867.4 M86.4 1844.5L86.4 1864.0 M86.4 1844.5L86.7 1844.5 M86.4 1864.0L86.8 1864.0 M87.1 1871.6L87.1 1873.6 M87.1 1871.6L92.6 1871.6 M87.1 1873.6L92.6 1873.6 M87.1 1875.6L87.1 1877.6 M87.1 1875.6L92.6 1875.6 M87.1 1877.6L92.6 1877.6 M87.0 1872.6L87.0 1876.6 M87.0 1872.6L87.1 1872.6 M87.0 1876.6L87.1 1876.6 M87.0 1879.6L87.0 1881.6 M87.0 1879.6L92.6 1879.6 M87.0 1881.6L92.6 1881.6 M87.0 1883.7L87.0 1885.7 M87.0 1883.7L92.6 1883.7 M87.0 1885.7L92.6 1885.7 M87.0 1880.6L87.0 1884.7 M87.0 1880.6L87.0 1880.6 M87.0 1884.7L87.0 1884.7 M86.9 1874.6L86.9 1882.6 M86.9 1874.6L87.0 1874.6 M86.9 1882.6L87.0 1882.6 M87.0 1887.7L87.0 1889.7 M87.0 1887.7L92.6 1887.7 M87.0 1889.7L92.6 1889.7 M86.9 1888.7L86.9 1891.7 M86.9 1888.7L87.0 1888.7 M86.9 1891.7L92.6 1891.7 M86.7 1878.6L86.7 1890.2 M86.7 1878.6L86.9 1878.6 M86.7 1890.2L86.9 1890.2 M87.0 1893.7L87.0 1895.7 M87.0 1893.7L92.6 1893.7 M87.0 1895.7L92.6 1895.7 M86.9 1894.7L86.9 1897.7 M86.9 1894.7L87.0 1894.7 M86.9 1897.7L92.6 1897.7 M87.1 1899.7L87.1 1901.7 M87.1 1899.7L92.6 1899.7 M87.1 1901.7L92.6 1901.7 M87.0 1903.7L87.0 1905.7 M87.0 1903.7L92.6 1903.7 M87.0 1905.7L92.6 1905.7 M87.0 1900.7L87.0 1904.7 M87.0 1900.7L87.1 1900.7 M87.0 1904.7L87.0 1904.7 M87.1 1907.7L87.1 1909.7 M87.1 1907.7L92.6 1907.7 M87.1 1909.7L92.6 1909.7 M87.1 1908.7L87.1 1911.7 M87.1 1908.7L87.1 1908.7 M87.1 1911.7L92.6 1911.7 M87.0 1910.2L87.0 1913.7 M87.0 1910.2L87.1 1910.2 M87.0 1913.7L92.6 1913.7 M87.0 1902.7L87.0 1912.0 M87.0 1902.7L87.0 1902.7 M87.0 1912.0L87.0 1912.0 M86.8 1896.2L86.8 1907.3 M86.8 1896.2L86.9 1896.2 M86.8 1907.3L87.0 1907.3 M87.0 1915.7L87.0 1917.7 M87.0 1915.7L92.6 1915.7 M87.0 1917.7L92.6 1917.7 M87.0 1919.7L87.0 1921.8 M87.0 1919.7L92.6 1919.7 M87.0 1921.8L92.6 1921.8 M87.0 1916.7L87.0 1920.8 M87.0 1916.7L87.0 1916.7 M87.0 1920.8L87.0 1920.8 M87.1 1923.8L87.1 1925.8 M87.1 1923.8L92.6 1923.8 M87.1 1925.8L92.6 1925.8 M87.0 1924.8L87.0 1927.8 M87.0 1924.8L87.1 1924.8 M87.0 1927.8L92.6 1927.8 M86.9 1918.7L86.9 1926.3 M86.9 1918.7L87.0 1918.7 M86.9 1926.3L87.0 1926.3 M87.1 1931.8L87.1 1933.8 M87.1 1931.8L92.6 1931.8 M87.1 1933.8L92.6 1933.8 M87.1 1929.8L87.1 1932.8 M87.1 1929.8L92.6 1929.8 M87.1 1932.8L87.1 1932.8 M87.1 1937.8L87.1 1939.8 M87.1 1937.8L92.6 1937.8 M87.1 1939.8L92.6 1939.8 M87.1 1935.8L87.1 1938.8 M87.1 1935.8L92.6 1935.8 M87.1 1938.8L87.1 1938.8 M87.1 1931.3L87.1 1937.3 M87.1 1931.3L87.1 1931.3 M87.1 1937.3L87.1 1937.3 M87.1 1941.8L87.1 1943.8 M87.1 1941.8L92.6 1941.8 M87.1 1943.8L92.6 1943.8 M87.1 1942.8L87.1 1945.8 M87.1 1942.8L87.1 1942.8 M87.1 1945.8L92.6 1945.8 M87.1 1947.8L87.1 1949.8 M87.1 1947.8L92.6 1947.8 M87.1 1949.8L92.6 1949.8 M87.1 1944.3L87.1 1948.8 M87.1 1944.3L87.1 1944.3 M87.1 1948.8L87.1 1948.8 M87.1 1951.8L87.1 1953.8 M87.1 1951.8L92.6 1951.8 M87.1 1953.8L92.6 1953.8 M87.1 1952.8L87.1 1955.8 M87.1 1952.8L87.1 1952.8 M87.1 1955.8L92.6 1955.8 M87.1 1954.3L87.1 1957.9 M87.1 1954.3L87.1 1954.3 M87.1 1957.9L92.6 1957.9 M87.0 1946.6L87.0 1956.1 M87.0 1946.6L87.1 1946.6 M87.0 1956.1L87.1 1956.1 M87.0 1934.3L87.0 1951.3 M87.0 1934.3L87.1 1934.3 M87.0 1951.3L87.0 1951.3 M86.8 1922.5L86.8 1942.8 M86.8 1922.5L86.9 1922.5 M86.8 1942.8L87.0 1942.8 M86.7 1901.8L86.7 1932.7 M86.7 1901.8L86.8 1901.8 M86.7 1932.7L86.8 1932.7 M86.0 1884.4L86.0 1917.2 M86.0 1884.4L86.7 1884.4 M86.0 1917.2L86.7 1917.2 M85.4 1854.3L85.4 1900.8 M85.4 1854.3L86.4 1854.3 M85.4 1900.8L86.0 1900.8 M87.1 1959.9L87.1 1961.9 M87.1 1959.9L92.6 1959.9 M87.1 1961.9L92.6 1961.9 M87.1 1963.9L87.1 1965.9 M87.1 1963.9L92.6 1963.9 M87.1 1965.9L92.6 1965.9 M87.0 1960.9L87.0 1964.9 M87.0 1960.9L87.1 1960.9 M87.0 1964.9L87.1 1964.9 M87.1 1969.9L87.1 1971.9 M87.1 1969.9L92.6 1969.9 M87.1 1971.9L92.6 1971.9 M87.1 1967.9L87.1 1970.9 M87.1 1967.9L92.6 1967.9 M87.1 1970.9L87.1 1970.9 M87.1 1975.9L87.1 1977.9 M87.1 1975.9L92.6 1975.9 M87.1 1977.9L92.6 1977.9 M87.1 1973.9L87.1 1976.9 M87.1 1973.9L92.6 1973.9 M87.1 1976.9L87.1 1976.9 M87.0 1969.4L87.0 1975.4 M87.0 1969.4L87.1 1969.4 M87.0 1975.4L87.1 1975.4 M87.0 1962.9L87.0 1972.4 M87.0 1962.9L87.0 1962.9 M87.0 1972.4L87.0 1972.4 M87.0 1981.9L87.0 1983.9 M87.0 1981.9L92.6 1981.9 M87.0 1983.9L92.6 1983.9 M87.0 1982.9L87.0 1985.9 M87.0 1982.9L87.0 1982.9 M87.0 1985.9L92.6 1985.9 M86.9 1979.9L86.9 1984.4 M86.9 1979.9L92.6 1979.9 M86.9 1984.4L87.0 1984.4 M86.8 1967.6L86.8 1982.2 M86.8 1967.6L87.0 1967.6 M86.8 1982.2L86.9 1982.2 M87.1 1987.9L87.1 1989.9 M87.1 1987.9L92.6 1987.9 M87.1 1989.9L92.6 1989.9 M87.1 1988.9L87.1 1991.9 M87.1 1988.9L87.1 1988.9 M87.1 1991.9L92.6 1991.9 M87.1 1993.9L87.1 1996.0 M87.1 1993.9L92.6 1993.9 M87.1 1996.0L92.6 1996.0 M87.0 1990.4L87.0 1995.0 M87.0 1990.4L87.1 1990.4 M87.0 1995.0L87.1 1995.0 M87.0 1998.0L87.0 2000.0 M87.0 1998.0L92.6 1998.0 M87.0 2000.0L92.6 2000.0 M87.0 1992.7L87.0 1999.0 M87.0 1992.7L87.0 1992.7 M87.0 1999.0L87.0 1999.0 M87.0 2002.0L87.0 2004.0 M87.0 2002.0L92.6 2002.0 M87.0 2004.0L92.6 2004.0 M87.0 2006.0L87.0 2008.0 M87.0 2006.0L92.6 2006.0 M87.0 2008.0L92.6 2008.0 M87.0 2003.0L87.0 2007.0 M87.0 2003.0L87.0 2003.0 M87.0 2007.0L87.0 2007.0 M86.8 1995.8L86.8 2005.0 M86.8 1995.8L87.0 1995.8 M86.8 2005.0L87.0 2005.0 M86.6 1974.9L86.6 2000.4 M86.6 1974.9L86.8 1974.9 M86.6 2000.4L86.8 2000.4 M87.0 2010.0L87.0 2012.0 M87.0 2010.0L92.6 2010.0 M87.0 2012.0L92.6 2012.0 M87.1 2014.0L87.1 2016.0 M87.1 2014.0L92.6 2014.0 M87.1 2016.0L92.6 2016.0 M87.0 2015.0L87.0 2018.0 M87.0 2015.0L87.1 2015.0 M87.0 2018.0L92.6 2018.0 M87.0 2011.0L87.0 2016.5 M87.0 2011.0L87.0 2011.0 M87.0 2016.5L87.0 2016.5 M86.9 2013.8L86.9 2020.0 M86.9 2013.8L87.0 2013.8 M86.9 2020.0L92.6 2020.0 M87.0 2022.0L87.0 2024.0 M87.0 2022.0L92.6 2022.0 M87.0 2024.0L92.6 2024.0 M87.0 2026.0L87.0 2028.0 M87.0 2026.0L92.6 2026.0 M87.0 2028.0L92.6 2028.0 M87.0 2023.0L87.0 2027.0 M87.0 2023.0L87.0 2023.0 M87.0 2027.0L87.0 2027.0 M86.7 2016.9L86.7 2025.0 M86.7 2016.9L86.9 2016.9 M86.7 2025.0L87.0 2025.0 M86.8 2030.0L86.8 2032.1 M86.8 2030.0L92.6 2030.0 M86.8 2032.1L92.6 2032.1 M86.8 2034.1L86.8 2036.1 M86.8 2034.1L92.6 2034.1 M86.8 2036.1L92.6 2036.1 M86.8 2035.1L86.8 2038.1 M86.8 2035.1L86.8 2035.1 M86.8 2038.1L92.6 2038.1 M86.6 2031.0L86.6 2036.6 M86.6 2031.0L86.8 2031.0 M86.6 2036.6L86.8 2036.6 M86.3 2021.0L86.3 2033.8 M86.3 2021.0L86.7 2021.0 M86.3 2033.8L86.6 2033.8 M86.0 1987.6L86.0 2027.4 M86.0 1987.6L86.6 1987.6 M86.0 2027.4L86.3 2027.4 M84.6 1877.5L84.6 2007.5 M84.6 1877.5L85.4 1877.5 M84.6 2007.5L86.0 2007.5 M86.5 2040.1L86.5 2042.1 M86.5 2040.1L92.6 2040.1 M86.5 2042.1L92.6 2042.1 M86.9 2044.1L86.9 2046.1 M86.9 2044.1L92.6 2044.1 M86.9 2046.1L92.6 2046.1 M87.0 2050.1L87.0 2052.1 M87.0 2050.1L92.6 2050.1 M87.0 2052.1L92.6 2052.1 M86.9 2048.1L86.9 2051.1 M86.9 2048.1L92.6 2048.1 M86.9 2051.1L87.0 2051.1 M86.8 2045.1L86.8 2049.6 M86.8 2045.1L86.9 2045.1 M86.8 2049.6L86.9 2049.6 M87.0 2056.1L87.0 2058.1 M87.0 2056.1L92.6 2056.1 M87.0 2058.1L92.6 2058.1 M86.8 2054.1L86.8 2057.1 M86.8 2054.1L92.6 2054.1 M86.8 2057.1L87.0 2057.1 M86.4 2047.3L86.4 2055.6 M86.4 2047.3L86.8 2047.3 M86.4 2055.6L86.8 2055.6 M86.1 2041.1L86.1 2051.5 M86.1 2041.1L86.5 2041.1 M86.1 2051.5L86.4 2051.5 M87.0 2066.1L87.0 2068.1 M87.0 2066.1L92.6 2066.1 M87.0 2068.1L92.6 2068.1 M86.9 2064.1L86.9 2067.1 M86.9 2064.1L92.6 2064.1 M86.9 2067.1L87.0 2067.1 M86.8 2062.1L86.8 2065.6 M86.8 2062.1L92.6 2062.1 M86.8 2065.6L86.9 2065.6 M86.4 2060.1L86.4 2063.9 M86.4 2060.1L92.6 2060.1 M86.4 2063.9L86.8 2063.9 M86.9 2072.2L86.9 2074.2 M86.9 2072.2L92.6 2072.2 M86.9 2074.2L92.6 2074.2 M86.6 2070.2L86.6 2073.2 M86.6 2070.2L92.6 2070.2 M86.6 2073.2L86.9 2073.2 M86.1 2062.0L86.1 2071.7 M86.1 2062.0L86.4 2062.0 M86.1 2071.7L86.6 2071.7 M85.4 2046.3L85.4 2066.8 M85.4 2046.3L86.1 2046.3 M85.4 2066.8L86.1 2066.8 M86.4 2076.2L86.4 2078.2 M86.4 2076.2L92.6 2076.2 M86.4 2078.2L92.6 2078.2 M86.7 2082.2L86.7 2084.2 M86.7 2082.2L92.6 2082.2 M86.7 2084.2L92.6 2084.2 M86.4 2080.2L86.4 2083.2 M86.4 2080.2L92.6 2080.2 M86.4 2083.2L86.7 2083.2 M86.1 2077.2L86.1 2081.7 M86.1 2077.2L86.4 2077.2 M86.1 2081.7L86.4 2081.7 M87.1 2086.2L87.1 2088.2 M87.1 2086.2L92.6 2086.2 M87.1 2088.2L92.6 2088.2 M87.1 2090.2L87.1 2092.2 M87.1 2090.2L92.6 2090.2 M87.1 2092.2L92.6 2092.2 M87.0 2087.2L87.0 2091.2 M87.0 2087.2L87.1 2087.2 M87.0 2091.2L87.1 2091.2 M87.0 2094.2L87.0 2096.2 M87.0 2094.2L92.6 2094.2 M87.0 2096.2L92.6 2096.2 M87.0 2089.2L87.0 2095.2 M87.0 2089.2L87.0 2089.2 M87.0 2095.2L87.0 2095.2 M87.1 2098.2L87.1 2100.2 M87.1 2098.2L92.6 2098.2 M87.1 2100.2L92.6 2100.2 M87.0 2099.2L87.0 2102.2 M87.0 2099.2L87.1 2099.2 M87.0 2102.2L92.6 2102.2 M87.0 2104.2L87.0 2106.3 M87.0 2104.2L92.6 2104.2 M87.0 2106.3L92.6 2106.3 M87.0 2108.3L87.0 2110.3 M87.0 2108.3L92.6 2108.3 M87.0 2110.3L92.6 2110.3 M87.0 2105.2L87.0 2109.3 M87.0 2105.2L87.0 2105.2 M87.0 2109.3L87.0 2109.3 M86.9 2100.7L86.9 2107.3 M86.9 2100.7L87.0 2100.7 M86.9 2107.3L87.0 2107.3 M86.8 2092.2L86.8 2104.0 M86.8 2092.2L87.0 2092.2 M86.8 2104.0L86.9 2104.0 M87.0 2112.3L87.0 2114.3 M87.0 2112.3L92.6 2112.3 M87.0 2114.3L92.6 2114.3 M87.0 2116.3L87.0 2118.3 M87.0 2116.3L92.6 2116.3 M87.0 2118.3L92.6 2118.3 M87.0 2113.3L87.0 2117.3 M87.0 2113.3L87.0 2113.3 M87.0 2117.3L87.0 2117.3 M87.1 2120.3L87.1 2122.3 M87.1 2120.3L92.6 2120.3 M87.1 2122.3L92.6 2122.3 M87.0 2121.3L87.0 2124.3 M87.0 2121.3L87.1 2121.3 M87.0 2124.3L92.6 2124.3 M87.0 2122.8L87.0 2126.3 M87.0 2122.8L87.0 2122.8 M87.0 2126.3L92.6 2126.3 M86.7 2115.3L86.7 2124.6 M86.7 2115.3L87.0 2115.3 M86.7 2124.6L87.0 2124.6 M86.5 2098.1L86.5 2119.9 M86.5 2098.1L86.8 2098.1 M86.5 2119.9L86.7 2119.9 M85.6 2079.4L85.6 2109.0 M85.6 2079.4L86.1 2079.4 M85.6 2109.0L86.5 2109.0 M84.1 2056.6L84.1 2094.2 M84.1 2056.6L85.4 2056.6 M84.1 2094.2L85.6 2094.2 M81.4 1942.5L81.4 2075.4 M81.4 1942.5L84.6 1942.5 M81.4 2075.4L84.1 2075.4 M87.0 2128.3L87.0 2130.3 M87.0 2128.3L92.6 2128.3 M87.0 2130.3L92.6 2130.3 M87.0 2132.3L87.0 2134.3 M87.0 2132.3L92.6 2132.3 M87.0 2134.3L92.6 2134.3 M87.0 2129.3L87.0 2133.3 M87.0 2129.3L87.0 2129.3 M87.0 2133.3L87.0 2133.3 M87.0 2136.3L87.0 2138.3 M87.0 2136.3L92.6 2136.3 M87.0 2138.3L92.6 2138.3 M86.9 2131.3L86.9 2137.3 M86.9 2131.3L87.0 2131.3 M86.9 2137.3L87.0 2137.3 M87.1 2142.3L87.1 2144.4 M87.1 2142.3L92.6 2142.3 M87.1 2144.4L92.6 2144.4 M87.0 2143.4L87.0 2146.4 M87.0 2143.4L87.1 2143.4 M87.0 2146.4L92.6 2146.4 M87.0 2140.3L87.0 2144.9 M87.0 2140.3L92.6 2140.3 M87.0 2144.9L87.0 2144.9 M87.0 2150.4L87.0 2152.4 M87.0 2150.4L92.6 2150.4 M87.0 2152.4L92.6 2152.4 M87.0 2148.4L87.0 2151.4 M87.0 2148.4L92.6 2148.4 M87.0 2151.4L87.0 2151.4 M86.8 2142.6L86.8 2149.9 M86.8 2142.6L87.0 2142.6 M86.8 2149.9L87.0 2149.9 M86.7 2134.3L86.7 2146.2 M86.7 2134.3L86.9 2134.3 M86.7 2146.2L86.8 2146.2 M86.9 2154.4L86.9 2156.4 M86.9 2154.4L92.6 2154.4 M86.9 2156.4L92.6 2156.4 M87.1 2160.4L87.1 2162.4 M87.1 2160.4L92.6 2160.4 M87.1 2162.4L92.6 2162.4 M87.0 2158.4L87.0 2161.4 M87.0 2158.4L92.6 2158.4 M87.0 2161.4L87.1 2161.4 M87.0 2164.4L87.0 2166.4 M87.0 2164.4L92.6 2164.4 M87.0 2166.4L92.6 2166.4 M87.0 2159.9L87.0 2165.4 M87.0 2159.9L87.0 2159.9 M87.0 2165.4L87.0 2165.4 M86.9 2155.4L86.9 2162.7 M86.9 2155.4L86.9 2155.4 M86.9 2162.7L87.0 2162.7 M87.0 2170.4L87.0 2172.4 M87.0 2170.4L92.6 2170.4 M87.0 2172.4L92.6 2172.4 M86.9 2168.4L86.9 2171.4 M86.9 2168.4L92.6 2168.4 M86.9 2171.4L87.0 2171.4 M86.6 2159.0L86.6 2169.9 M86.6 2159.0L86.9 2159.0 M86.6 2169.9L86.9 2169.9 M87.1 2174.4L87.1 2176.4 M87.1 2174.4L92.6 2174.4 M87.1 2176.4L92.6 2176.4 M87.1 2180.5L87.1 2182.5 M87.1 2180.5L92.6 2180.5 M87.1 2182.5L92.6 2182.5 M87.0 2178.4L87.0 2181.5 M87.0 2178.4L92.6 2178.4 M87.0 2181.5L87.1 2181.5 M87.0 2175.4L87.0 2180.0 M87.0 2175.4L87.1 2175.4 M87.0 2180.0L87.0 2180.0 M87.0 2184.5L87.0 2186.5 M87.0 2184.5L92.6 2184.5 M87.0 2186.5L92.6 2186.5 M86.9 2177.7L86.9 2185.5 M86.9 2177.7L87.0 2177.7 M86.9 2185.5L87.0 2185.5 M87.1 2190.5L87.1 2192.5 M87.1 2190.5L92.6 2190.5 M87.1 2192.5L92.6 2192.5 M87.1 2188.5L87.1 2191.5 M87.1 2188.5L92.6 2188.5 M87.1 2191.5L87.1 2191.5 M87.1 2190.0L87.1 2194.5 M87.1 2190.0L87.1 2190.0 M87.1 2194.5L92.6 2194.5 M87.0 2196.5L87.0 2198.5 M87.0 2196.5L92.6 2196.5 M87.0 2198.5L92.6 2198.5 M87.0 2192.2L87.0 2197.5 M87.0 2192.2L87.1 2192.2 M87.0 2197.5L87.0 2197.5 M86.8 2181.6L86.8 2194.9 M86.8 2181.6L86.9 2181.6 M86.8 2194.9L87.0 2194.9 M86.5 2164.5L86.5 2188.2 M86.5 2164.5L86.6 2164.5 M86.5 2188.2L86.8 2188.2 M86.2 2140.3L86.2 2176.3 M86.2 2140.3L86.7 2140.3 M86.2 2176.3L86.5 2176.3 M86.8 2202.5L86.8 2204.5 M86.8 2202.5L92.6 2202.5 M86.8 2204.5L92.6 2204.5 M86.6 2200.5L86.6 2203.5 M86.6 2200.5L92.6 2200.5 M86.6 2203.5L86.8 2203.5 M87.0 2206.5L87.0 2208.5 M87.0 2206.5L92.6 2206.5 M87.0 2208.5L92.6 2208.5 M87.0 2210.5L87.0 2212.5 M87.0 2210.5L92.6 2210.5 M87.0 2212.5L92.6 2212.5 M86.9 2207.5L86.9 2211.5 M86.9 2207.5L87.0 2207.5 M86.9 2211.5L87.0 2211.5 M86.5 2202.0L86.5 2209.5 M86.5 2202.0L86.6 2202.0 M86.5 2209.5L86.9 2209.5 M87.0 2214.5L87.0 2216.5 M87.0 2214.5L92.6 2214.5 M87.0 2216.5L92.6 2216.5 M87.0 2215.5L87.0 2218.6 M87.0 2215.5L87.0 2215.5 M87.0 2218.6L92.6 2218.6 M86.8 2217.1L86.8 2220.6 M86.8 2217.1L87.0 2217.1 M86.8 2220.6L92.6 2220.6 M87.0 2222.6L87.0 2224.6 M87.0 2222.6L92.6 2222.6 M87.0 2224.6L92.6 2224.6 M87.0 2223.6L87.0 2226.6 M87.0 2223.6L87.0 2223.6 M87.0 2226.6L92.6 2226.6 M87.0 2230.6L87.0 2232.6 M87.0 2230.6L92.6 2230.6 M87.0 2232.6L92.6 2232.6 M87.0 2228.6L87.0 2231.6 M87.0 2228.6L92.6 2228.6 M87.0 2231.6L87.0 2231.6 M86.9 2230.1L86.9 2234.6 M86.9 2230.1L87.0 2230.1 M86.9 2234.6L92.6 2234.6 M86.9 2225.1L86.9 2232.3 M86.9 2225.1L87.0 2225.1 M86.9 2232.3L86.9 2232.3 M86.7 2218.8L86.7 2228.7 M86.7 2218.8L86.8 2218.8 M86.7 2228.7L86.9 2228.7 M86.9 2238.6L86.9 2240.6 M86.9 2238.6L92.6 2238.6 M86.9 2240.6L92.6 2240.6 M86.8 2236.6L86.8 2239.6 M86.8 2236.6L92.6 2236.6 M86.8 2239.6L86.9 2239.6 M86.5 2223.8L86.5 2238.1 M86.5 2223.8L86.7 2223.8 M86.5 2238.1L86.8 2238.1 M86.1 2205.8L86.1 2230.9 M86.1 2205.8L86.5 2205.8 M86.1 2230.9L86.5 2230.9 M85.5 2158.3L85.5 2218.4 M85.5 2158.3L86.2 2158.3 M85.5 2218.4L86.1 2218.4 M86.9 2242.6L86.9 2244.6 M86.9 2242.6L92.6 2242.6 M86.9 2244.6L92.6 2244.6 M87.0 2246.6L87.0 2248.6 M87.0 2246.6L92.6 2246.6 M87.0 2248.6L92.6 2248.6 M87.0 2252.6L87.0 2254.7 M87.0 2252.6L92.6 2252.6 M87.0 2254.7L92.6 2254.7 M86.9 2250.6L86.9 2253.6 M86.9 2250.6L92.6 2250.6 M86.9 2253.6L87.0 2253.6 M86.9 2247.6L86.9 2252.1 M86.9 2247.6L87.0 2247.6 M86.9 2252.1L86.9 2252.1 M86.7 2243.6L86.7 2249.9 M86.7 2243.6L86.9 2243.6 M86.7 2249.9L86.9 2249.9 M86.9 2258.7L86.9 2260.7 M86.9 2258.7L92.6 2258.7 M86.9 2260.7L92.6 2260.7 M86.8 2259.7L86.8 2262.7 M86.8 2259.7L86.9 2259.7 M86.8 2262.7L92.6 2262.7 M86.6 2256.7L86.6 2261.2 M86.6 2256.7L92.6 2256.7 M86.6 2261.2L86.8 2261.2 M86.2 2246.8L86.2 2258.9 M86.2 2246.8L86.7 2246.8 M86.2 2258.9L86.6 2258.9 M86.9 2264.7L86.9 2266.7 M86.9 2264.7L92.6 2264.7 M86.9 2266.7L92.6 2266.7 M86.8 2268.7L86.8 2270.7 M86.8 2268.7L92.6 2268.7 M86.8 2270.7L92.6 2270.7 M86.7 2265.7L86.7 2269.7 M86.7 2265.7L86.9 2265.7 M86.7 2269.7L86.8 2269.7 M87.0 2272.7L87.0 2274.7 M87.0 2272.7L92.6 2272.7 M87.0 2274.7L92.6 2274.7 M87.0 2276.7L87.0 2278.7 M87.0 2276.7L92.6 2276.7 M87.0 2278.7L92.6 2278.7 M86.9 2273.7L86.9 2277.7 M86.9 2273.7L87.0 2273.7 M86.9 2277.7L87.0 2277.7 M87.0 2280.7L87.0 2282.7 M87.0 2280.7L92.6 2280.7 M87.0 2282.7L92.6 2282.7 M86.8 2275.7L86.8 2281.7 M86.8 2275.7L86.9 2275.7 M86.8 2281.7L87.0 2281.7 M86.5 2267.7L86.5 2278.7 M86.5 2267.7L86.7 2267.7 M86.5 2278.7L86.8 2278.7 M85.8 2252.8L85.8 2273.2 M85.8 2252.8L86.2 2252.8 M85.8 2273.2L86.5 2273.2 M86.9 2284.7L86.9 2286.7 M86.9 2284.7L92.6 2284.7 M86.9 2286.7L92.6 2286.7 M86.8 2285.7L86.8 2288.7 M86.8 2285.7L86.9 2285.7 M86.8 2288.7L92.6 2288.7 M87.0 2290.7L87.0 2292.8 M87.0 2290.7L92.6 2290.7 M87.0 2292.8L92.6 2292.8 M86.8 2291.8L86.8 2294.8 M86.8 2291.8L87.0 2291.8 M86.8 2294.8L92.6 2294.8 M86.6 2287.2L86.6 2293.3 M86.6 2287.2L86.8 2287.2 M86.6 2293.3L86.8 2293.3 M87.1 2298.8L87.1 2300.8 M87.1 2298.8L92.6 2298.8 M87.1 2300.8L92.6 2300.8 M87.0 2296.8L87.0 2299.8 M87.0 2296.8L92.6 2296.8 M87.0 2299.8L87.1 2299.8 M87.0 2302.8L87.0 2304.8 M87.0 2302.8L92.6 2302.8 M87.0 2304.8L92.6 2304.8 M87.0 2303.8L87.0 2306.8 M87.0 2303.8L87.0 2303.8 M87.0 2306.8L92.6 2306.8 M86.9 2298.3L86.9 2305.3 M86.9 2298.3L87.0 2298.3 M86.9 2305.3L87.0 2305.3 M86.9 2308.8L86.9 2310.8 M86.9 2308.8L92.6 2308.8 M86.9 2310.8L92.6 2310.8 M86.9 2312.8L86.9 2314.8 M86.9 2312.8L92.6 2312.8 M86.9 2314.8L92.6 2314.8 M86.8 2309.8L86.8 2313.8 M86.8 2309.8L86.9 2309.8 M86.8 2313.8L86.9 2313.8 M86.6 2301.8L86.6 2311.8 M86.6 2301.8L86.9 2301.8 M86.6 2311.8L86.8 2311.8 M86.1 2290.2L86.1 2306.8 M86.1 2290.2L86.6 2290.2 M86.1 2306.8L86.6 2306.8 M85.0 2263.0L85.0 2298.5 M85.0 2263.0L85.8 2263.0 M85.0 2298.5L86.1 2298.5 M84.0 2188.3L84.0 2280.8 M84.0 2188.3L85.5 2188.3 M84.0 2280.8L85.0 2280.8 M85.1 2316.8L85.1 2318.8 M85.1 2316.8L92.6 2316.8 M85.1 2318.8L92.6 2318.8 M86.6 2322.8L86.6 2324.8 M86.6 2322.8L92.6 2322.8 M86.6 2324.8L92.6 2324.8 M86.0 2320.8L86.0 2323.8 M86.0 2320.8L92.6 2320.8 M86.0 2323.8L86.6 2323.8 M84.3 2317.8L84.3 2322.3 M84.3 2317.8L85.1 2317.8 M84.3 2322.3L86.0 2322.3 M85.3 2326.8L85.3 2328.9 M85.3 2326.8L92.6 2326.8 M85.3 2328.9L92.6 2328.9 M84.3 2327.8L84.3 2330.9 M84.3 2327.8L85.3 2327.8 M84.3 2330.9L92.6 2330.9 M82.2 2320.1L82.2 2329.4 M82.2 2320.1L84.3 2320.1 M82.2 2329.4L84.3 2329.4 M85.9 2332.9L85.9 2334.9 M85.9 2332.9L92.6 2332.9 M85.9 2334.9L92.6 2334.9 M86.2 2336.9L86.2 2338.9 M86.2 2336.9L92.6 2336.9 M86.2 2338.9L92.6 2338.9 M85.3 2333.9L85.3 2337.9 M85.3 2333.9L85.9 2333.9 M85.3 2337.9L86.2 2337.9 M85.7 2340.9L85.7 2342.9 M85.7 2340.9L92.6 2340.9 M85.7 2342.9L92.6 2342.9 M85.1 2341.9L85.1 2344.9 M85.1 2341.9L85.7 2341.9 M85.1 2344.9L92.6 2344.9 M83.5 2335.9L83.5 2343.4 M83.5 2335.9L85.3 2335.9 M83.5 2343.4L85.1 2343.4 M80.5 2324.7L80.5 2339.6 M80.5 2324.7L82.2 2324.7 M80.5 2339.6L83.5 2339.6 M85.8 2346.9L85.8 2348.9 M85.8 2346.9L92.6 2346.9 M85.8 2348.9L92.6 2348.9 M86.8 2350.9L86.8 2352.9 M86.8 2350.9L92.6 2350.9 M86.8 2352.9L92.6 2352.9 M86.8 2356.9L86.8 2358.9 M86.8 2356.9L92.6 2356.9 M86.8 2358.9L92.6 2358.9 M86.9 2360.9L86.9 2362.9 M86.9 2360.9L92.6 2360.9 M86.9 2362.9L92.6 2362.9 M86.6 2357.9L86.6 2361.9 M86.6 2357.9L86.8 2357.9 M86.6 2361.9L86.9 2361.9 M86.4 2354.9L86.4 2359.9 M86.4 2354.9L92.6 2354.9 M86.4 2359.9L86.6 2359.9 M86.1 2351.9L86.1 2357.4 M86.1 2351.9L86.8 2351.9 M86.1 2357.4L86.4 2357.4 M85.8 2354.7L85.8 2365.0 M85.8 2354.7L86.1 2354.7 M85.8 2365.0L92.6 2365.0 M84.9 2347.9L84.9 2359.8 M84.9 2347.9L85.8 2347.9 M84.9 2359.8L85.8 2359.8 M86.5 2367.0L86.5 2369.0 M86.5 2367.0L92.6 2367.0 M86.5 2369.0L92.6 2369.0 M86.9 2371.0L86.9 2373.0 M86.9 2371.0L92.6 2371.0 M86.9 2373.0L92.6 2373.0 M86.6 2372.0L86.6 2375.0 M86.6 2372.0L86.9 2372.0 M86.6 2375.0L92.6 2375.0 M86.2 2368.0L86.2 2373.5 M86.2 2368.0L86.5 2368.0 M86.2 2373.5L86.6 2373.5 M86.7 2379.0L86.7 2381.0 M86.7 2379.0L92.6 2379.0 M86.7 2381.0L92.6 2381.0 M85.9 2377.0L85.9 2380.0 M85.9 2377.0L92.6 2377.0 M85.9 2380.0L86.7 2380.0 M84.4 2370.7L84.4 2378.5 M84.4 2370.7L86.2 2370.7 M84.4 2378.5L85.9 2378.5 M85.9 2383.0L85.9 2385.0 M85.9 2383.0L92.6 2383.0 M85.9 2385.0L92.6 2385.0 M86.1 2387.0L86.1 2389.0 M86.1 2387.0L92.6 2387.0 M86.1 2389.0L92.6 2389.0 M85.5 2384.0L85.5 2388.0 M85.5 2384.0L85.9 2384.0 M85.5 2388.0L86.1 2388.0 M86.9 2395.0L86.9 2397.0 M86.9 2395.0L92.6 2395.0 M86.9 2397.0L92.6 2397.0 M86.7 2396.0L86.7 2399.0 M86.7 2396.0L86.9 2396.0 M86.7 2399.0L92.6 2399.0 M86.3 2393.0L86.3 2397.5 M86.3 2393.0L92.6 2393.0 M86.3 2397.5L86.7 2397.5 M85.8 2391.0L85.8 2395.3 M85.8 2391.0L92.6 2391.0 M85.8 2395.3L86.3 2395.3 M84.4 2386.0L84.4 2393.2 M84.4 2386.0L85.5 2386.0 M84.4 2393.2L85.8 2393.2 M83.4 2374.6L83.4 2389.6 M83.4 2374.6L84.4 2374.6 M83.4 2389.6L84.4 2389.6 M82.0 2353.9L82.0 2382.1 M82.0 2353.9L84.9 2353.9 M82.0 2382.1L83.4 2382.1 M74.4 2332.2L74.4 2368.0 M74.4 2332.2L80.5 2332.2 M74.4 2368.0L82.0 2368.0 M87.0 2401.0L87.0 2403.1 M87.0 2401.0L92.6 2401.0 M87.0 2403.1L92.6 2403.1 M87.0 2405.1L87.0 2407.1 M87.0 2405.1L92.6 2405.1 M87.0 2407.1L92.6 2407.1 M87.0 2409.1L87.0 2411.1 M87.0 2409.1L92.6 2409.1 M87.0 2411.1L92.6 2411.1 M86.9 2406.1L86.9 2410.1 M86.9 2406.1L87.0 2406.1 M86.9 2410.1L87.0 2410.1 M86.8 2402.1L86.8 2408.1 M86.8 2402.1L87.0 2402.1 M86.8 2408.1L86.9 2408.1 M86.9 2413.1L86.9 2415.1 M86.9 2413.1L92.6 2413.1 M86.9 2415.1L92.6 2415.1 M87.0 2417.1L87.0 2419.1 M87.0 2417.1L92.6 2417.1 M87.0 2419.1L92.6 2419.1 M86.9 2418.1L86.9 2421.1 M86.9 2418.1L87.0 2418.1 M86.9 2421.1L92.6 2421.1 M86.8 2414.1L86.8 2419.6 M86.8 2414.1L86.9 2414.1 M86.8 2419.6L86.9 2419.6 M86.6 2405.1L86.6 2416.8 M86.6 2405.1L86.8 2405.1 M86.6 2416.8L86.8 2416.8 M86.6 2423.1L86.6 2425.1 M86.6 2423.1L92.6 2423.1 M86.6 2425.1L92.6 2425.1 M86.9 2429.1L86.9 2431.1 M86.9 2429.1L92.6 2429.1 M86.9 2431.1L92.6 2431.1 M86.7 2427.1L86.7 2430.1 M86.7 2427.1L92.6 2427.1 M86.7 2430.1L86.9 2430.1 M86.5 2424.1L86.5 2428.6 M86.5 2424.1L86.6 2424.1 M86.5 2428.6L86.7 2428.6 M85.8 2410.9L85.8 2426.4 M85.8 2410.9L86.6 2410.9 M85.8 2426.4L86.5 2426.4 M86.8 2433.1L86.8 2435.1 M86.8 2433.1L92.6 2433.1 M86.8 2435.1L92.6 2435.1 M86.9 2437.1L86.9 2439.2 M86.9 2437.1L92.6 2437.1 M86.9 2439.2L92.6 2439.2 M86.7 2434.1L86.7 2438.1 M86.7 2434.1L86.8 2434.1 M86.7 2438.1L86.9 2438.1 M86.5 2436.1L86.5 2441.2 M86.5 2436.1L86.7 2436.1 M86.5 2441.2L92.6 2441.2 M87.0 2443.2L87.0 2445.2 M87.0 2443.2L92.6 2443.2 M87.0 2445.2L92.6 2445.2 M86.8 2444.2L86.8 2447.2 M86.8 2444.2L87.0 2444.2 M86.8 2447.2L92.6 2447.2 M86.6 2445.7L86.6 2449.2 M86.6 2445.7L86.8 2445.7 M86.6 2449.2L92.6 2449.2 M86.8 2451.2L86.8 2453.2 M86.8 2451.2L92.6 2451.2 M86.8 2453.2L92.6 2453.2 M86.8 2455.2L86.8 2457.2 M86.8 2455.2L92.6 2455.2 M86.8 2457.2L92.6 2457.2 M86.6 2452.2L86.6 2456.2 M86.6 2452.2L86.8 2452.2 M86.6 2456.2L86.8 2456.2 M86.3 2447.4L86.3 2454.2 M86.3 2447.4L86.6 2447.4 M86.3 2454.2L86.6 2454.2 M85.9 2438.6L85.9 2450.8 M85.9 2438.6L86.5 2438.6 M85.9 2450.8L86.3 2450.8 M85.1 2418.7L85.1 2444.7 M85.1 2418.7L85.8 2418.7 M85.1 2444.7L85.9 2444.7 M86.5 2459.2L86.5 2461.2 M86.5 2459.2L92.6 2459.2 M86.5 2461.2L92.6 2461.2 M86.3 2460.2L86.3 2463.2 M86.3 2460.2L86.5 2460.2 M86.3 2463.2L92.6 2463.2 M85.8 2461.7L85.8 2465.2 M85.8 2461.7L86.3 2461.7 M85.8 2465.2L92.6 2465.2 M86.9 2471.2L86.9 2473.2 M86.9 2471.2L92.6 2471.2 M86.9 2473.2L92.6 2473.2 M86.8 2469.2L86.8 2472.2 M86.8 2469.2L92.6 2469.2 M86.8 2472.2L86.9 2472.2 M86.6 2467.2L86.6 2470.7 M86.6 2467.2L92.6 2467.2 M86.6 2470.7L86.8 2470.7 M87.0 2477.3L87.0 2479.3 M87.0 2477.3L92.6 2477.3 M87.0 2479.3L92.6 2479.3 M86.9 2475.2L86.9 2478.3 M86.9 2475.2L92.6 2475.2 M86.9 2478.3L87.0 2478.3 M87.0 2481.3L87.0 2483.3 M87.0 2481.3L92.6 2481.3 M87.0 2483.3L92.6 2483.3 M87.0 2485.3L87.0 2487.3 M87.0 2485.3L92.6 2485.3 M87.0 2487.3L92.6 2487.3 M87.0 2486.3L87.0 2489.3 M87.0 2486.3L87.0 2486.3 M87.0 2489.3L92.6 2489.3 M86.9 2482.3L86.9 2487.8 M86.9 2482.3L87.0 2482.3 M86.9 2487.8L87.0 2487.8 M86.6 2476.8L86.6 2485.0 M86.6 2476.8L86.9 2476.8 M86.6 2485.0L86.9 2485.0 M85.8 2469.0L85.8 2480.9 M85.8 2469.0L86.6 2469.0 M85.8 2480.9L86.6 2480.9 M85.1 2463.5L85.1 2474.9 M85.1 2463.5L85.8 2463.5 M85.1 2474.9L85.8 2474.9 M84.1 2431.7L84.1 2469.2 M84.1 2431.7L85.1 2431.7 M84.1 2469.2L85.1 2469.2 M86.8 2491.3L86.8 2493.3 M86.8 2491.3L92.6 2491.3 M86.8 2493.3L92.6 2493.3 M86.8 2495.3L86.8 2497.3 M86.8 2495.3L92.6 2495.3 M86.8 2497.3L92.6 2497.3 M86.5 2492.3L86.5 2496.3 M86.5 2492.3L86.8 2492.3 M86.5 2496.3L86.8 2496.3 M86.7 2499.3L86.7 2501.3 M86.7 2499.3L92.6 2499.3 M86.7 2501.3L92.6 2501.3 M86.8 2503.3L86.8 2505.3 M86.8 2503.3L92.6 2503.3 M86.8 2505.3L92.6 2505.3 M86.6 2500.3L86.6 2504.3 M86.6 2500.3L86.7 2500.3 M86.6 2504.3L86.8 2504.3 M86.3 2494.3L86.3 2502.3 M86.3 2494.3L86.5 2494.3 M86.3 2502.3L86.6 2502.3 M86.9 2509.3L86.9 2511.3 M86.9 2509.3L92.6 2509.3 M86.9 2511.3L92.6 2511.3 M86.8 2507.3L86.8 2510.3 M86.8 2507.3L92.6 2507.3 M86.8 2510.3L86.9 2510.3 M86.7 2513.4L86.7 2515.4 M86.7 2513.4L92.6 2513.4 M86.7 2515.4L92.6 2515.4 M86.5 2508.8L86.5 2514.4 M86.5 2508.8L86.8 2508.8 M86.5 2514.4L86.7 2514.4 M86.9 2517.4L86.9 2519.4 M86.9 2517.4L92.6 2517.4 M86.9 2519.4L92.6 2519.4 M86.8 2518.4L86.8 2521.4 M86.8 2518.4L86.9 2518.4 M86.8 2521.4L92.6 2521.4 M87.0 2525.4L87.0 2527.4 M87.0 2525.4L92.6 2525.4 M87.0 2527.4L92.6 2527.4 M87.0 2523.4L87.0 2526.4 M87.0 2523.4L92.6 2523.4 M87.0 2526.4L87.0 2526.4 M86.8 2524.9L86.8 2529.4 M86.8 2524.9L87.0 2524.9 M86.8 2529.4L92.6 2529.4 M86.6 2519.9L86.6 2527.1 M86.6 2519.9L86.8 2519.9 M86.6 2527.1L86.8 2527.1 M86.1 2511.6L86.1 2523.5 M86.1 2511.6L86.5 2511.6 M86.1 2523.5L86.6 2523.5 M85.5 2498.3L85.5 2517.5 M85.5 2498.3L86.3 2498.3 M85.5 2517.5L86.1 2517.5 M86.8 2531.4L86.8 2533.4 M86.8 2531.4L92.6 2531.4 M86.8 2533.4L92.6 2533.4 M86.9 2537.4L86.9 2539.4 M86.9 2537.4L92.6 2537.4 M86.9 2539.4L92.6 2539.4 M86.8 2535.4L86.8 2538.4 M86.8 2535.4L92.6 2535.4 M86.8 2538.4L86.9 2538.4 M86.4 2532.4L86.4 2536.9 M86.4 2532.4L86.8 2532.4 M86.4 2536.9L86.8 2536.9 M87.0 2541.4L87.0 2543.4 M87.0 2541.4L92.6 2541.4 M87.0 2543.4L92.6 2543.4 M87.0 2542.4L87.0 2545.4 M87.0 2542.4L87.0 2542.4 M87.0 2545.4L92.6 2545.4 M87.0 2549.4L87.0 2551.5 M87.0 2549.4L92.6 2549.4 M87.0 2551.5L92.6 2551.5 M87.0 2547.4L87.0 2550.5 M87.0 2547.4L92.6 2547.4 M87.0 2550.5L87.0 2550.5 M86.9 2543.9L86.9 2548.9 M86.9 2543.9L87.0 2543.9 M86.9 2548.9L87.0 2548.9 M86.9 2553.5L86.9 2555.5 M86.9 2553.5L92.6 2553.5 M86.9 2555.5L92.6 2555.5 M86.8 2554.5L86.8 2557.5 M86.8 2554.5L86.9 2554.5 M86.8 2557.5L92.6 2557.5 M86.6 2546.4L86.6 2556.0 M86.6 2546.4L86.9 2546.4 M86.6 2556.0L86.8 2556.0 M86.9 2559.5L86.9 2561.5 M86.9 2559.5L92.6 2559.5 M86.9 2561.5L92.6 2561.5 M87.0 2563.5L87.0 2565.5 M87.0 2563.5L92.6 2563.5 M87.0 2565.5L92.6 2565.5 M86.9 2564.5L86.9 2567.5 M86.9 2564.5L87.0 2564.5 M86.9 2567.5L92.6 2567.5 M86.6 2560.5L86.6 2566.0 M86.6 2560.5L86.9 2560.5 M86.6 2566.0L86.9 2566.0 M86.3 2551.2L86.3 2563.2 M86.3 2551.2L86.6 2551.2 M86.3 2563.2L86.6 2563.2 M85.7 2534.7L85.7 2557.2 M85.7 2534.7L86.4 2534.7 M85.7 2557.2L86.3 2557.2 M84.8 2507.9L84.8 2545.9 M84.8 2507.9L85.5 2507.9 M84.8 2545.9L85.7 2545.9 M82.7 2450.4L82.7 2526.9 M82.7 2450.4L84.1 2450.4 M82.7 2526.9L84.8 2526.9" fill="none" stroke="#000" stroke-width="1.75" stroke-linecap="square"/>
<text x="1409" y="1118" class="lb">Phenotype</text>
<defs><linearGradient id="cb" x1="0" y1="0" x2="0" y2="1"><stop offset="0" stop-color="#D73027"/><stop offset="0.1667" stop-color="#FC8D59"/><stop offset="0.3333" stop-color="#FEE090"/><stop offset="0.5" stop-color="#FFFFBF"/><stop offset="0.6667" stop-color="#E0F3F8"/><stop offset="0.8333" stop-color="#91BFDB"/><stop offset="1" stop-color="#4575B4"/></linearGradient></defs>
<rect x="1411.5" y="1124.8" width="15.4" height="229.9" fill="url(#cb)"/>
<text x="1433.5" y="1175.2" class="cl">5</text>
<text x="1433.5" y="1245.6" class="cl">0</text>
<text x="1433.5" y="1315.6" class="cl">−5</text>
<text x="1456.6" y="1136.2" class="lb">Phenotype</text>
<rect x="1455.9" y="1141.4" width="21.8" height="22.2" fill="#FDAE61"/>
<text x="1482.8" y="1157.0" class="ll">Control_F</text>
<rect x="1455.9" y="1163.4" width="21.8" height="22.2" fill="#FDAE61"/>
<text x="1482.8" y="1179.0" class="ll">Control_M</text>
<rect x="1455.9" y="1185.4" width="21.8" height="22.2" fill="#D7191C"/>
<text x="1482.8" y="1201.0" class="ll">RNU4-2 pathogenic_M</text>
<rect x="1455.9" y="1207.4" width="21.8" height="22.2" fill="#D7191C"/>
<text x="1482.8" y="1223.0" class="ll">RNU4-2 pathogenic_F</text>
<rect x="1455.9" y="1229.4" width="21.8" height="22.2" fill="#ABD9E9"/>
<text x="1482.8" y="1245.0" class="ll">KMT2D pathogenic_M</text>
<rect x="1455.9" y="1251.4" width="21.8" height="22.2" fill="#ABD9E9"/>
<text x="1482.8" y="1267.0" class="ll">KMT2D pathogenic_F</text>
<rect x="1455.9" y="1273.4" width="21.8" height="22.2" fill="#2C7BB6"/>
<text x="1482.8" y="1289.0" class="ll">KMT2A pathogenic_M</text>
<rect x="1455.9" y="1295.4" width="21.8" height="22.2" fill="#2C7BB6"/>
<text x="1482.8" y="1311.0" class="ll">KMT2A pathogenic_F</text>
<text x="1456.6" y="1345.4" class="lb">Signature</text>
<rect x="1455.9" y="1350.8" width="21.8" height="22" fill="#D7191C"/>
<text x="1482.8" y="1366.4" class="ll">RNU4−2</text>
<rect x="1455.9" y="1372.6" width="21.8" height="22" fill="#ABD9E9"/>
<text x="1482.8" y="1388.2" class="ll">KMT2D</text>
<rect x="1455.9" y="1394.4" width="21.8" height="22" fill="#2C7BB6"/>
<text x="1482.8" y="1410.0" class="ll">KMT2A</text>
<text transform="translate(95,2574) rotate(90)" x="0" y="0" class="lb">Signature</text>
<text x="-3.8" y="1065.2" class="pl">b</text>
</svg>
</body></html>
